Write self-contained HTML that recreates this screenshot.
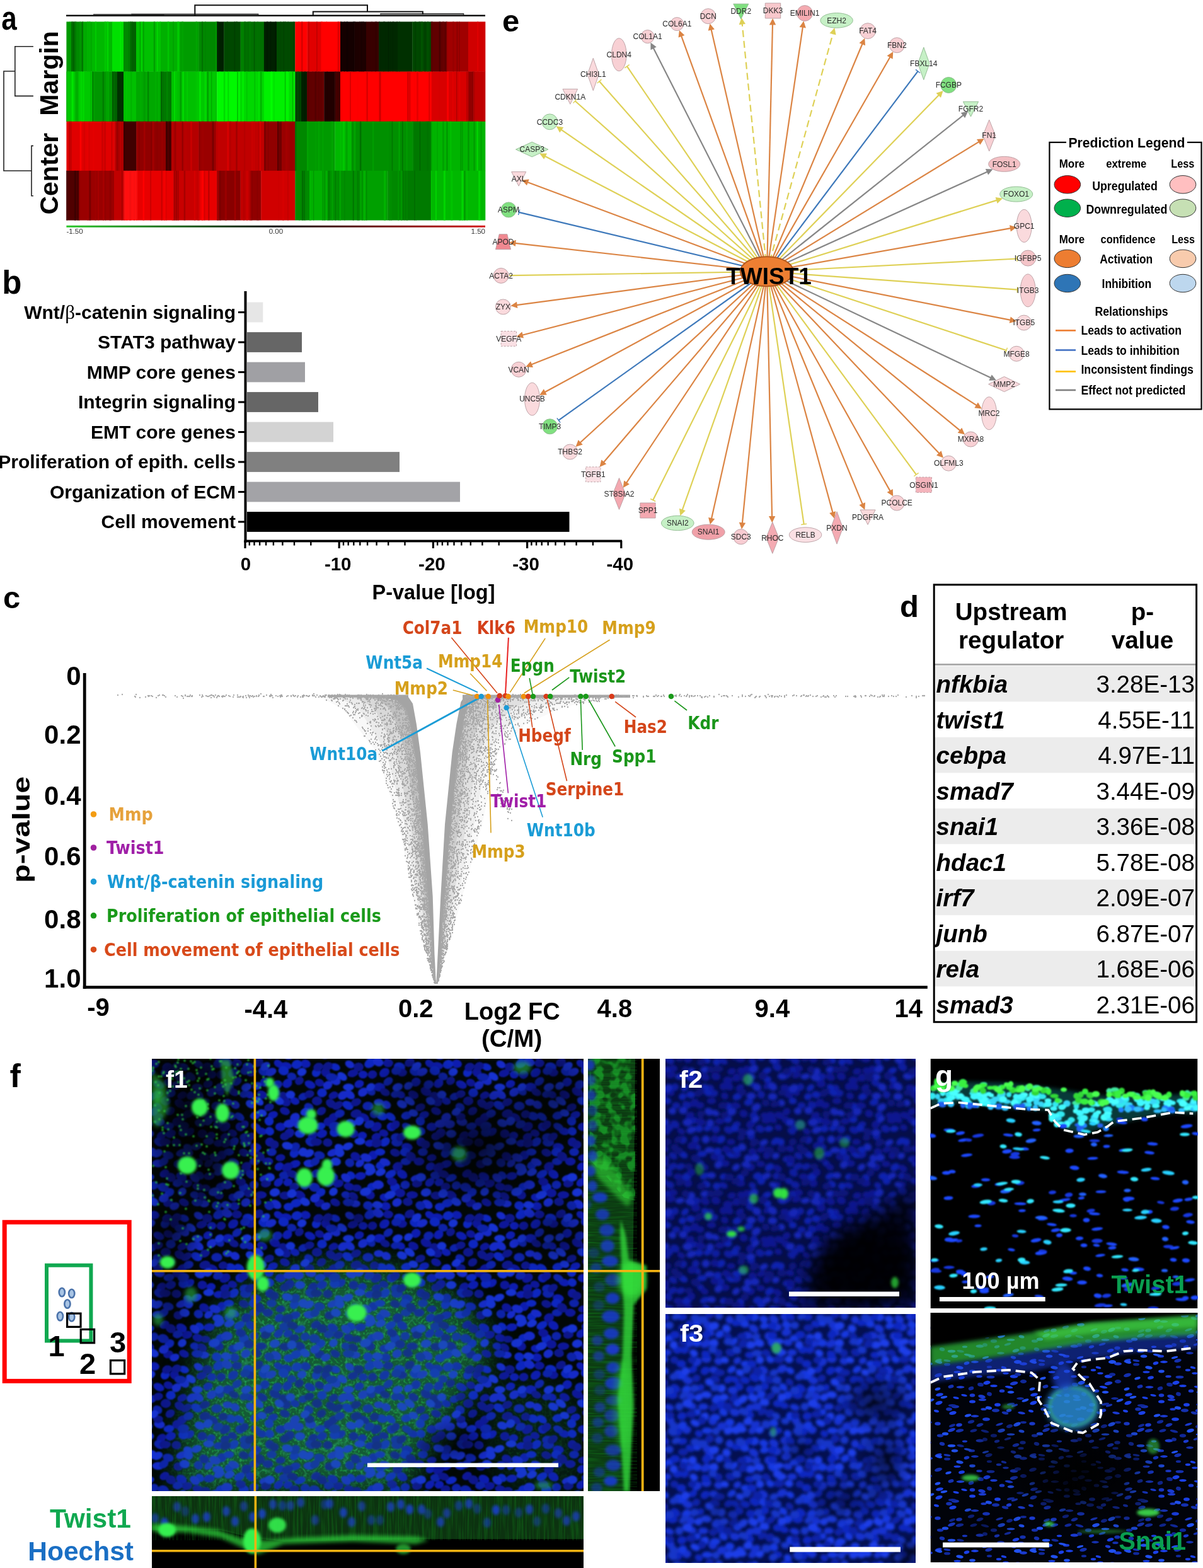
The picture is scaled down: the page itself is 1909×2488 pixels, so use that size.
<!DOCTYPE html>
<html><head><meta charset="utf-8"><title>Figure</title>
<style>html,body{margin:0;padding:0;background:#fff;} svg{display:block;}</style>
</head><body>
<svg width="1909" height="2488" viewBox="0 0 1909 2488">
<defs><filter id="gsp" x="0" y="0" width="1" height="1" color-interpolation-filters="sRGB"><feTurbulence type="fractalNoise" baseFrequency="0.25" numOctaves="1" seed="21"/><feColorMatrix type="matrix" values="0 0 0 0 0.1 0 0 0 0 0.75 0 0 0 0 0.25 5 0 0 0 -2.6"/></filter>
<filter id="gmot" x="0" y="0" width="1" height="1" color-interpolation-filters="sRGB"><feTurbulence type="fractalNoise" baseFrequency="0.07" numOctaves="2" seed="41"/><feColorMatrix type="matrix" values="0 0 0 0 0.12 0 0 0 0 0.78 0 0 0 0 0.2 5 0 0 0 -2.1"/></filter>
<filter id="gmem" x="0" y="0" width="1" height="1" color-interpolation-filters="sRGB"><feTurbulence type="turbulence" baseFrequency="0.06" numOctaves="2" seed="43"/><feColorMatrix type="matrix" values="0 0 0 0 0.2 0 0 0 0 0.75 0 0 0 0 0.45 -6 0 0 0 1.3"/></filter>
<mask id="mdome" maskUnits="userSpaceOnUse" x="241" y="1680" width="685" height="686"><path d="M285 2366 C295 2230 320 2110 400 2045 C480 1995 620 2000 700 2050 C760 2090 790 2130 760 2180 C720 2240 660 2300 640 2366 Z" fill="#fff" filter="url(#b25)"/><path d="M760 2200 C820 2180 900 2200 926 2230 L926 2366 L800 2366 Z" fill="#444" filter="url(#b25)"/></mask>
<filter id="vstreak" x="0" y="0" width="1" height="1" color-interpolation-filters="sRGB"><feTurbulence type="fractalNoise" baseFrequency="0.02 0.35" numOctaves="2" seed="31"/><feColorMatrix type="matrix" values="0 0 0 0 0.1 0 0 0 0 0.8 0 0 0 0 0.15 3 0 0 0 -1.2"/></filter>
<filter id="hstreak" x="0" y="0" width="1" height="1" color-interpolation-filters="sRGB"><feTurbulence type="fractalNoise" baseFrequency="0.35 0.02" numOctaves="2" seed="33"/><feColorMatrix type="matrix" values="0 0 0 0 0.1 0 0 0 0 0.8 0 0 0 0 0.15 3 0 0 0 -1.2"/></filter>
<filter id="b1" x="-50%" y="-50%" width="200%" height="200%"><feGaussianBlur stdDeviation="1"/></filter>
<filter id="b2" x="-50%" y="-50%" width="200%" height="200%"><feGaussianBlur stdDeviation="2"/></filter>
<filter id="b3" x="-50%" y="-50%" width="200%" height="200%"><feGaussianBlur stdDeviation="3"/></filter>
<filter id="b5" x="-50%" y="-50%" width="200%" height="200%"><feGaussianBlur stdDeviation="5"/></filter>
<filter id="b8" x="-50%" y="-50%" width="200%" height="200%"><feGaussianBlur stdDeviation="8"/></filter>
<filter id="b14" x="-50%" y="-50%" width="200%" height="200%"><feGaussianBlur stdDeviation="14"/></filter>
<filter id="b25" x="-50%" y="-50%" width="200%" height="200%"><feGaussianBlur stdDeviation="25"/></filter>
<filter id="b40" x="-50%" y="-50%" width="200%" height="200%"><feGaussianBlur stdDeviation="40"/></filter>
<pattern id="pf1" x="0" y="0" width="240" height="240" patternUnits="userSpaceOnUse"><g filter="url(#b1)"><g fill="#0c1cb0"><ellipse cx="5" cy="8" rx="8.0" ry="6.6" transform="rotate(10 5 8)"/><ellipse cx="5" cy="248" rx="8.0" ry="6.6" transform="rotate(10 5 248)"/><ellipse cx="245" cy="8" rx="8.0" ry="6.6" transform="rotate(10 245 8)"/><ellipse cx="245" cy="248" rx="8.0" ry="6.6" transform="rotate(10 245 248)"/><ellipse cx="202" cy="8" rx="8.0" ry="5.7" transform="rotate(32 202 8)"/><ellipse cx="202" cy="248" rx="8.0" ry="5.7" transform="rotate(32 202 248)"/><ellipse cx="214" cy="11" rx="9.1" ry="5.7" transform="rotate(9 214 11)"/><ellipse cx="214" cy="251" rx="9.1" ry="5.7" transform="rotate(9 214 251)"/><ellipse cx="96" cy="25" rx="7.2" ry="6.3"/><ellipse cx="130" cy="22" rx="8.8" ry="6.8" transform="rotate(-38 130 22)"/><ellipse cx="12" cy="41" rx="9.1" ry="6.1" transform="rotate(26 12 41)"/><ellipse cx="252" cy="41" rx="9.1" ry="6.1" transform="rotate(26 252 41)"/><ellipse cx="90" cy="40" rx="7.8" ry="6.1" transform="rotate(-22 90 40)"/><ellipse cx="122" cy="45" rx="9.2" ry="7.0"/><ellipse cx="180" cy="37" rx="7.8" ry="7.0" transform="rotate(-30 180 37)"/><ellipse cx="216" cy="39" rx="8.2" ry="6.8" transform="rotate(-40 216 39)"/><ellipse cx="156" cy="57" rx="7.2" ry="5.8" transform="rotate(22 156 57)"/><ellipse cx="-12" cy="67" rx="7.6" ry="5.7" transform="rotate(24 -12 67)"/><ellipse cx="228" cy="67" rx="7.6" ry="5.7" transform="rotate(24 228 67)"/><ellipse cx="193" cy="89" rx="8.1" ry="5.8" transform="rotate(-18 193 89)"/><ellipse cx="141" cy="108" rx="7.5" ry="6.9" transform="rotate(10 141 108)"/><ellipse cx="205" cy="108" rx="8.2" ry="6.8"/><ellipse cx="31" cy="119" rx="8.4" ry="6.6" transform="rotate(-22 31 119)"/><ellipse cx="61" cy="116" rx="8.1" ry="5.9" transform="rotate(-38 61 116)"/><ellipse cx="95" cy="122" rx="7.3" ry="6.2" transform="rotate(-8 95 122)"/><ellipse cx="175" cy="115" rx="8.6" ry="5.8" transform="rotate(14 175 115)"/><ellipse cx="107" cy="134" rx="8.0" ry="5.7" transform="rotate(-8 107 134)"/><ellipse cx="166" cy="140" rx="8.9" ry="6.3" transform="rotate(10 166 140)"/><ellipse cx="112" cy="153" rx="7.3" ry="7.1" transform="rotate(-39 112 153)"/><ellipse cx="203" cy="171" rx="7.8" ry="6.3" transform="rotate(-34 203 171)"/><ellipse cx="-12" cy="167" rx="9.0" ry="6.1" transform="rotate(-18 -12 167)"/><ellipse cx="228" cy="167" rx="9.0" ry="6.1" transform="rotate(-18 228 167)"/><ellipse cx="48" cy="187" rx="9.0" ry="6.6" transform="rotate(25 48 187)"/><ellipse cx="92" cy="186" rx="8.7" ry="6.3" transform="rotate(-8 92 186)"/><ellipse cx="158" cy="183" rx="9.3" ry="6.6" transform="rotate(35 158 183)"/><ellipse cx="202" cy="196" rx="8.3" ry="6.1" transform="rotate(-40 202 196)"/><ellipse cx="217" cy="196" rx="7.4" ry="6.1" transform="rotate(-17 217 196)"/><ellipse cx="130" cy="220" rx="7.7" ry="6.1" transform="rotate(12 130 220)"/><ellipse cx="132" cy="-6" rx="7.9" ry="6.8"/><ellipse cx="132" cy="234" rx="7.9" ry="6.8"/></g><g fill="#1026c0"><ellipse cx="52" cy="13" rx="8.1" ry="5.6" transform="rotate(22 52 13)"/><ellipse cx="52" cy="253" rx="8.1" ry="5.6" transform="rotate(22 52 253)"/><ellipse cx="107" cy="7" rx="9.3" ry="7.0" transform="rotate(-32 107 7)"/><ellipse cx="107" cy="247" rx="9.3" ry="7.0" transform="rotate(-32 107 247)"/><ellipse cx="154" cy="13" rx="9.1" ry="7.2" transform="rotate(14 154 13)"/><ellipse cx="154" cy="253" rx="9.1" ry="7.2" transform="rotate(14 154 253)"/><ellipse cx="-9" cy="9" rx="8.4" ry="7.1" transform="rotate(-18 -9 9)"/><ellipse cx="-9" cy="249" rx="8.4" ry="7.1" transform="rotate(-18 -9 249)"/><ellipse cx="231" cy="9" rx="8.4" ry="7.1" transform="rotate(-18 231 9)"/><ellipse cx="231" cy="249" rx="8.4" ry="7.1" transform="rotate(-18 231 249)"/><ellipse cx="22" cy="22" rx="7.4" ry="6.6" transform="rotate(-37 22 22)"/><ellipse cx="179" cy="20" rx="9.0" ry="7.2" transform="rotate(15 179 20)"/><ellipse cx="210" cy="19" rx="8.5" ry="7.1" transform="rotate(14 210 19)"/><ellipse cx="31" cy="54" rx="7.8" ry="7.2"/><ellipse cx="72" cy="74" rx="9.3" ry="6.5" transform="rotate(29 72 74)"/><ellipse cx="126" cy="91" rx="8.8" ry="6.6" transform="rotate(18 126 91)"/><ellipse cx="140" cy="92" rx="8.6" ry="5.8" transform="rotate(35 140 92)"/><ellipse cx="165" cy="90" rx="8.6" ry="6.3" transform="rotate(-16 165 90)"/><ellipse cx="28" cy="107" rx="8.5" ry="5.8" transform="rotate(-8 28 107)"/><ellipse cx="187" cy="99" rx="7.4" ry="7.2" transform="rotate(40 187 99)"/><ellipse cx="51" cy="117" rx="8.0" ry="7.0"/><ellipse cx="188" cy="115" rx="7.3" ry="6.6" transform="rotate(32 188 115)"/><ellipse cx="131" cy="132" rx="8.6" ry="6.5" transform="rotate(-39 131 132)"/><ellipse cx="123" cy="148" rx="8.3" ry="5.7"/><ellipse cx="163" cy="148" rx="8.2" ry="7.1"/><ellipse cx="-13" cy="150" rx="7.7" ry="6.9" transform="rotate(-39 -13 150)"/><ellipse cx="227" cy="150" rx="7.7" ry="6.9" transform="rotate(-39 227 150)"/><ellipse cx="124" cy="169" rx="8.1" ry="6.4" transform="rotate(-26 124 169)"/><ellipse cx="77" cy="185" rx="7.3" ry="6.0" transform="rotate(37 77 185)"/><ellipse cx="140" cy="183" rx="9.4" ry="6.0" transform="rotate(-29 140 183)"/><ellipse cx="-4" cy="189" rx="9.0" ry="5.9" transform="rotate(-19 -4 189)"/><ellipse cx="236" cy="189" rx="9.0" ry="5.9" transform="rotate(-19 236 189)"/><ellipse cx="110" cy="203" rx="7.7" ry="6.3" transform="rotate(-19 110 203)"/><ellipse cx="147" cy="204" rx="8.0" ry="7.2" transform="rotate(-11 147 204)"/><ellipse cx="29" cy="212" rx="7.9" ry="6.5" transform="rotate(-31 29 212)"/><ellipse cx="104" cy="-7" rx="7.8" ry="7.0" transform="rotate(15 104 -7)"/><ellipse cx="104" cy="233" rx="7.8" ry="7.0" transform="rotate(15 104 233)"/><ellipse cx="218" cy="-5" rx="8.0" ry="6.4"/><ellipse cx="218" cy="235" rx="8.0" ry="6.4"/><ellipse cx="-10" cy="-11" rx="9.0" ry="6.7" transform="rotate(-14 -10 -11)"/><ellipse cx="-10" cy="229" rx="9.0" ry="6.7" transform="rotate(-14 -10 229)"/><ellipse cx="230" cy="-11" rx="9.0" ry="6.7" transform="rotate(-14 230 -11)"/><ellipse cx="230" cy="229" rx="9.0" ry="6.7" transform="rotate(-14 230 229)"/></g><g fill="#0a1898"><ellipse cx="136" cy="7" rx="8.0" ry="6.5"/><ellipse cx="136" cy="247" rx="8.0" ry="6.5"/><ellipse cx="37" cy="22" rx="7.8" ry="6.7" transform="rotate(38 37 22)"/><ellipse cx="80" cy="23" rx="8.8" ry="6.0" transform="rotate(-16 80 23)"/><ellipse cx="111" cy="25" rx="7.5" ry="6.6" transform="rotate(-13 111 25)"/><ellipse cx="158" cy="22" rx="7.9" ry="6.2"/><ellipse cx="27" cy="38" rx="7.5" ry="6.1" transform="rotate(24 27 38)"/><ellipse cx="49" cy="58" rx="8.0" ry="5.7" transform="rotate(-26 49 58)"/><ellipse cx="176" cy="57" rx="8.7" ry="6.2" transform="rotate(26 176 57)"/><ellipse cx="196" cy="52" rx="9.1" ry="6.7" transform="rotate(27 196 52)"/><ellipse cx="213" cy="68" rx="8.8" ry="7.0" transform="rotate(32 213 68)"/><ellipse cx="49" cy="93" rx="8.1" ry="6.5" transform="rotate(-30 49 93)"/><ellipse cx="98" cy="93" rx="9.0" ry="5.8" transform="rotate(36 98 93)"/><ellipse cx="212" cy="83" rx="8.3" ry="6.0" transform="rotate(22 212 83)"/><ellipse cx="41" cy="100" rx="7.6" ry="7.0" transform="rotate(-10 41 100)"/><ellipse cx="117" cy="108" rx="9.2" ry="7.1" transform="rotate(-31 117 108)"/><ellipse cx="147" cy="105" rx="8.3" ry="6.4" transform="rotate(-38 147 105)"/><ellipse cx="16" cy="122" rx="8.2" ry="6.3" transform="rotate(-37 16 122)"/><ellipse cx="81" cy="119" rx="7.6" ry="6.9"/><ellipse cx="117" cy="124" rx="7.7" ry="6.2" transform="rotate(-25 117 124)"/><ellipse cx="129" cy="118" rx="7.5" ry="5.7" transform="rotate(18 129 118)"/><ellipse cx="219" cy="118" rx="8.5" ry="7.1" transform="rotate(-33 219 118)"/><ellipse cx="188" cy="132" rx="7.3" ry="7.1" transform="rotate(-24 188 132)"/><ellipse cx="84" cy="155" rx="8.2" ry="6.7" transform="rotate(28 84 155)"/><ellipse cx="205" cy="157" rx="7.8" ry="5.6" transform="rotate(-10 205 157)"/><ellipse cx="151" cy="171" rx="8.2" ry="7.1" transform="rotate(-28 151 171)"/><ellipse cx="185" cy="163" rx="8.5" ry="6.5"/><ellipse cx="216" cy="172" rx="9.3" ry="6.6" transform="rotate(-24 216 172)"/><ellipse cx="21" cy="182" rx="8.1" ry="6.1" transform="rotate(-29 21 182)"/><ellipse cx="57" cy="198" rx="8.3" ry="6.2" transform="rotate(-15 57 198)"/><ellipse cx="74" cy="203" rx="8.8" ry="6.2" transform="rotate(15 74 203)"/><ellipse cx="142" cy="195" rx="8.1" ry="6.5" transform="rotate(9 142 195)"/><ellipse cx="107" cy="216" rx="8.1" ry="7.0" transform="rotate(26 107 216)"/><ellipse cx="155" cy="213" rx="8.2" ry="7.0"/><ellipse cx="174" cy="216" rx="9.3" ry="6.0"/><ellipse cx="-4" cy="216" rx="9.2" ry="6.4" transform="rotate(27 -4 216)"/><ellipse cx="236" cy="216" rx="9.2" ry="6.4" transform="rotate(27 236 216)"/><ellipse cx="27" cy="-11" rx="8.0" ry="6.0" transform="rotate(-17 27 -11)"/><ellipse cx="27" cy="229" rx="8.0" ry="6.0" transform="rotate(-17 27 229)"/><ellipse cx="52" cy="-12" rx="8.3" ry="5.9" transform="rotate(25 52 -12)"/><ellipse cx="52" cy="228" rx="8.3" ry="5.9" transform="rotate(25 52 228)"/></g><g fill="#142cc8"><ellipse cx="75" cy="9" rx="7.9" ry="5.6" transform="rotate(29 75 9)"/><ellipse cx="75" cy="249" rx="7.9" ry="5.6" transform="rotate(29 75 249)"/><ellipse cx="120" cy="5" rx="8.7" ry="6.8" transform="rotate(28 120 5)"/><ellipse cx="120" cy="245" rx="8.7" ry="6.8" transform="rotate(28 120 245)"/><ellipse cx="190" cy="21" rx="9.0" ry="6.0" transform="rotate(-25 190 21)"/><ellipse cx="40" cy="42" rx="7.8" ry="6.5" transform="rotate(-37 40 42)"/><ellipse cx="52" cy="34" rx="9.3" ry="7.0" transform="rotate(39 52 34)"/><ellipse cx="64" cy="58" rx="8.4" ry="6.6" transform="rotate(-37 64 58)"/><ellipse cx="75" cy="57" rx="8.9" ry="6.1" transform="rotate(36 75 57)"/><ellipse cx="96" cy="53" rx="8.4" ry="6.7" transform="rotate(-34 96 53)"/><ellipse cx="121" cy="69" rx="7.7" ry="5.6"/><ellipse cx="133" cy="73" rx="7.7" ry="6.4" transform="rotate(29 133 73)"/><ellipse cx="-12" cy="93" rx="8.2" ry="6.9" transform="rotate(-34 -12 93)"/><ellipse cx="228" cy="93" rx="8.2" ry="6.9" transform="rotate(-34 228 93)"/><ellipse cx="13" cy="100" rx="8.7" ry="6.5" transform="rotate(14 13 100)"/><ellipse cx="253" cy="100" rx="8.7" ry="6.5" transform="rotate(14 253 100)"/><ellipse cx="219" cy="103" rx="9.1" ry="6.7" transform="rotate(-9 219 103)"/><ellipse cx="-6" cy="104" rx="8.1" ry="6.6" transform="rotate(-16 -6 104)"/><ellipse cx="234" cy="104" rx="8.1" ry="6.6" transform="rotate(-16 234 104)"/><ellipse cx="48" cy="149" rx="9.0" ry="5.7" transform="rotate(-21 48 149)"/><ellipse cx="101" cy="157" rx="9.3" ry="6.4" transform="rotate(22 101 157)"/><ellipse cx="11" cy="166" rx="9.3" ry="6.2"/><ellipse cx="251" cy="166" rx="9.3" ry="6.2"/><ellipse cx="91" cy="166" rx="7.5" ry="5.6" transform="rotate(-36 91 166)"/><ellipse cx="131" cy="164" rx="9.0" ry="5.8" transform="rotate(22 131 164)"/><ellipse cx="69" cy="189" rx="8.7" ry="6.3" transform="rotate(39 69 189)"/><ellipse cx="181" cy="190" rx="9.4" ry="6.0" transform="rotate(-12 181 190)"/><ellipse cx="120" cy="200" rx="9.1" ry="7.2"/><ellipse cx="20" cy="221" rx="8.2" ry="6.7" transform="rotate(-30 20 221)"/><ellipse cx="37" cy="-6" rx="7.9" ry="5.8" transform="rotate(-22 37 -6)"/><ellipse cx="37" cy="234" rx="7.9" ry="5.8" transform="rotate(-22 37 234)"/><ellipse cx="84" cy="-10" rx="8.0" ry="5.7"/><ellipse cx="84" cy="230" rx="8.0" ry="5.7"/><ellipse cx="150" cy="-12" rx="7.9" ry="6.6" transform="rotate(-28 150 -12)"/><ellipse cx="150" cy="228" rx="7.9" ry="6.6" transform="rotate(-28 150 228)"/><ellipse cx="198" cy="-9" rx="9.2" ry="6.6" transform="rotate(34 198 -9)"/><ellipse cx="198" cy="231" rx="9.2" ry="6.6" transform="rotate(34 198 231)"/></g><g fill="#0e20a8"><ellipse cx="46" cy="29" rx="9.2" ry="6.2"/><ellipse cx="149" cy="19" rx="8.0" ry="6.6" transform="rotate(-16 149 19)"/><ellipse cx="223" cy="28" rx="7.6" ry="6.1" transform="rotate(12 223 28)"/><ellipse cx="136" cy="36" rx="8.3" ry="6.0" transform="rotate(-38 136 36)"/><ellipse cx="200" cy="41" rx="8.1" ry="6.8" transform="rotate(-20 200 41)"/><ellipse cx="109" cy="52" rx="7.3" ry="6.1" transform="rotate(38 109 52)"/><ellipse cx="148" cy="56" rx="8.0" ry="5.8" transform="rotate(-15 148 56)"/><ellipse cx="1" cy="60" rx="7.7" ry="5.9" transform="rotate(-20 1 60)"/><ellipse cx="241" cy="60" rx="7.7" ry="5.9" transform="rotate(-20 241 60)"/><ellipse cx="10" cy="77" rx="7.8" ry="6.6" transform="rotate(35 10 77)"/><ellipse cx="250" cy="77" rx="7.8" ry="6.6" transform="rotate(35 250 77)"/><ellipse cx="104" cy="75" rx="8.7" ry="7.0"/><ellipse cx="59" cy="87" rx="8.2" ry="6.4" transform="rotate(-20 59 87)"/><ellipse cx="51" cy="107" rx="9.2" ry="7.1" transform="rotate(-9 51 107)"/><ellipse cx="106" cy="104" rx="8.4" ry="6.3" transform="rotate(-25 106 104)"/><ellipse cx="166" cy="108" rx="8.7" ry="5.8" transform="rotate(29 166 108)"/><ellipse cx="149" cy="125" rx="8.9" ry="7.1"/><ellipse cx="13" cy="132" rx="8.8" ry="6.8" transform="rotate(27 13 132)"/><ellipse cx="253" cy="132" rx="8.8" ry="6.8" transform="rotate(27 253 132)"/><ellipse cx="150" cy="133" rx="9.1" ry="6.4"/><ellipse cx="-12" cy="140" rx="8.5" ry="6.9" transform="rotate(-24 -12 140)"/><ellipse cx="228" cy="140" rx="8.5" ry="6.9" transform="rotate(-24 228 140)"/><ellipse cx="27" cy="153" rx="8.8" ry="6.3" transform="rotate(12 27 153)"/><ellipse cx="191" cy="148" rx="7.9" ry="6.3"/><ellipse cx="20" cy="163" rx="8.2" ry="6.1" transform="rotate(-36 20 163)"/><ellipse cx="75" cy="165" rx="7.5" ry="6.8" transform="rotate(23 75 165)"/><ellipse cx="164" cy="163" rx="8.3" ry="6.0"/><ellipse cx="211" cy="185" rx="8.2" ry="6.5"/><ellipse cx="4" cy="201" rx="7.3" ry="6.6" transform="rotate(-26 4 201)"/><ellipse cx="244" cy="201" rx="7.3" ry="6.6" transform="rotate(-26 244 201)"/><ellipse cx="19" cy="204" rx="8.9" ry="7.2" transform="rotate(15 19 204)"/><ellipse cx="42" cy="197" rx="8.2" ry="6.5" transform="rotate(-14 42 197)"/><ellipse cx="163" cy="200" rx="7.5" ry="6.8" transform="rotate(-9 163 200)"/><ellipse cx="69" cy="216" rx="7.5" ry="5.9" transform="rotate(11 69 216)"/><ellipse cx="73" cy="-12" rx="8.9" ry="6.2"/><ellipse cx="73" cy="228" rx="8.9" ry="6.2"/><ellipse cx="187" cy="-7" rx="7.9" ry="7.0" transform="rotate(31 187 -7)"/><ellipse cx="187" cy="233" rx="7.9" ry="7.0" transform="rotate(31 187 233)"/></g><g fill="#08148a"><ellipse cx="25" cy="13" rx="8.2" ry="6.5" transform="rotate(-25 25 13)"/><ellipse cx="25" cy="253" rx="8.2" ry="6.5" transform="rotate(-25 25 253)"/><ellipse cx="40" cy="12" rx="8.2" ry="6.6" transform="rotate(-28 40 12)"/><ellipse cx="40" cy="252" rx="8.2" ry="6.6" transform="rotate(-28 40 252)"/><ellipse cx="89" cy="13" rx="8.1" ry="6.9"/><ellipse cx="89" cy="253" rx="8.1" ry="6.9"/><ellipse cx="170" cy="6" rx="8.4" ry="6.5" transform="rotate(-32 170 6)"/><ellipse cx="170" cy="246" rx="8.4" ry="6.5" transform="rotate(-32 170 246)"/><ellipse cx="-5" cy="35" rx="7.3" ry="6.4" transform="rotate(-37 -5 35)"/><ellipse cx="235" cy="35" rx="7.3" ry="6.4" transform="rotate(-37 235 35)"/><ellipse cx="11" cy="56" rx="7.9" ry="6.1" transform="rotate(-12 11 56)"/><ellipse cx="251" cy="56" rx="7.9" ry="6.1" transform="rotate(-12 251 56)"/><ellipse cx="131" cy="53" rx="8.2" ry="5.8" transform="rotate(25 131 53)"/><ellipse cx="209" cy="59" rx="7.3" ry="6.8"/><ellipse cx="23" cy="67" rx="8.3" ry="7.2"/><ellipse cx="45" cy="71" rx="8.5" ry="6.5" transform="rotate(34 45 71)"/><ellipse cx="56" cy="74" rx="9.2" ry="5.8" transform="rotate(-32 56 74)"/><ellipse cx="85" cy="69" rx="8.5" ry="6.1" transform="rotate(-21 85 69)"/><ellipse cx="187" cy="77" rx="8.2" ry="6.0" transform="rotate(-21 187 77)"/><ellipse cx="11" cy="92" rx="7.8" ry="6.2"/><ellipse cx="251" cy="92" rx="7.8" ry="6.2"/><ellipse cx="30" cy="83" rx="7.9" ry="6.2" transform="rotate(-34 30 83)"/><ellipse cx="85" cy="87" rx="8.9" ry="6.8" transform="rotate(-16 85 87)"/><ellipse cx="114" cy="88" rx="7.4" ry="6.4" transform="rotate(-12 114 88)"/><ellipse cx="157" cy="124" rx="8.6" ry="6.2" transform="rotate(-33 157 124)"/><ellipse cx="212" cy="123" rx="7.9" ry="6.4" transform="rotate(-12 212 123)"/><ellipse cx="22" cy="132" rx="9.0" ry="6.3"/><ellipse cx="40" cy="133" rx="7.6" ry="6.8" transform="rotate(8 40 133)"/><ellipse cx="118" cy="134" rx="8.2" ry="6.9" transform="rotate(-23 118 134)"/><ellipse cx="195" cy="136" rx="7.7" ry="6.9" transform="rotate(9 195 136)"/><ellipse cx="147" cy="149" rx="8.2" ry="6.2" transform="rotate(19 147 149)"/><ellipse cx="172" cy="155" rx="8.7" ry="7.2" transform="rotate(38 172 155)"/><ellipse cx="43" cy="167" rx="7.8" ry="6.7"/><ellipse cx="31" cy="188" rx="8.3" ry="7.1" transform="rotate(19 31 188)"/><ellipse cx="224" cy="183" rx="8.9" ry="6.1" transform="rotate(20 224 183)"/><ellipse cx="86" cy="205" rx="7.8" ry="5.8"/><ellipse cx="182" cy="198" rx="8.3" ry="6.2" transform="rotate(-10 182 198)"/><ellipse cx="-13" cy="203" rx="7.9" ry="6.3" transform="rotate(-11 -13 203)"/><ellipse cx="227" cy="203" rx="7.9" ry="6.3" transform="rotate(-11 227 203)"/><ellipse cx="81" cy="218" rx="8.2" ry="5.8" transform="rotate(38 81 218)"/><ellipse cx="212" cy="217" rx="8.8" ry="6.4"/><ellipse cx="167" cy="-13" rx="8.0" ry="6.6" transform="rotate(10 167 -13)"/><ellipse cx="167" cy="227" rx="8.0" ry="6.6" transform="rotate(10 167 227)"/></g><g fill="#1430d0"><ellipse cx="181" cy="12" rx="8.5" ry="6.1" transform="rotate(-35 181 12)"/><ellipse cx="181" cy="252" rx="8.5" ry="6.1" transform="rotate(-35 181 252)"/><ellipse cx="63" cy="28" rx="8.7" ry="5.8" transform="rotate(38 63 28)"/><ellipse cx="-1" cy="21" rx="7.5" ry="6.4" transform="rotate(-25 -1 21)"/><ellipse cx="239" cy="21" rx="7.5" ry="6.4" transform="rotate(-25 239 21)"/><ellipse cx="73" cy="45" rx="8.8" ry="5.7"/><ellipse cx="108" cy="45" rx="7.5" ry="6.0" transform="rotate(-37 108 45)"/><ellipse cx="151" cy="45" rx="8.5" ry="6.1" transform="rotate(-20 151 45)"/><ellipse cx="168" cy="43" rx="7.3" ry="6.0" transform="rotate(-30 168 43)"/><ellipse cx="221" cy="57" rx="7.4" ry="6.5"/><ellipse cx="158" cy="72" rx="8.5" ry="6.3" transform="rotate(27 158 72)"/><ellipse cx="170" cy="67" rx="9.4" ry="5.7" transform="rotate(36 170 67)"/><ellipse cx="203" cy="67" rx="7.7" ry="6.0" transform="rotate(31 203 67)"/><ellipse cx="176" cy="86" rx="7.6" ry="5.7" transform="rotate(17 176 86)"/><ellipse cx="4" cy="84" rx="7.8" ry="5.8" transform="rotate(-31 4 84)"/><ellipse cx="244" cy="84" rx="7.8" ry="5.8" transform="rotate(-31 244 84)"/><ellipse cx="77" cy="102" rx="8.3" ry="6.4" transform="rotate(17 77 102)"/><ellipse cx="90" cy="99" rx="7.6" ry="6.6" transform="rotate(-31 90 99)"/><ellipse cx="-4" cy="119" rx="8.3" ry="6.5"/><ellipse cx="236" cy="119" rx="8.3" ry="6.5"/><ellipse cx="58" cy="141" rx="7.3" ry="5.9" transform="rotate(20 58 141)"/><ellipse cx="72" cy="139" rx="8.7" ry="5.8" transform="rotate(-21 72 139)"/><ellipse cx="91" cy="131" rx="8.5" ry="5.7"/><ellipse cx="216" cy="138" rx="8.7" ry="6.2" transform="rotate(13 216 138)"/><ellipse cx="10" cy="150" rx="8.6" ry="6.1" transform="rotate(-25 10 150)"/><ellipse cx="250" cy="150" rx="8.6" ry="6.1" transform="rotate(-25 250 150)"/><ellipse cx="59" cy="149" rx="7.6" ry="7.1" transform="rotate(18 59 149)"/><ellipse cx="1" cy="148" rx="7.2" ry="7.1" transform="rotate(-40 1 148)"/><ellipse cx="241" cy="148" rx="7.2" ry="7.1" transform="rotate(-40 241 148)"/><ellipse cx="53" cy="163" rx="8.1" ry="6.6" transform="rotate(14 53 163)"/><ellipse cx="106" cy="172" rx="9.2" ry="6.3" transform="rotate(13 106 172)"/><ellipse cx="108" cy="179" rx="8.9" ry="5.9" transform="rotate(-25 108 179)"/><ellipse cx="124" cy="180" rx="8.4" ry="5.8" transform="rotate(-23 124 180)"/><ellipse cx="188" cy="188" rx="8.2" ry="6.8"/><ellipse cx="49" cy="211" rx="7.3" ry="6.2" transform="rotate(-39 49 211)"/><ellipse cx="100" cy="211" rx="9.1" ry="6.8" transform="rotate(-14 100 211)"/><ellipse cx="139" cy="216" rx="9.2" ry="6.4" transform="rotate(-21 139 216)"/><ellipse cx="196" cy="212" rx="8.4" ry="6.6" transform="rotate(-12 196 212)"/><ellipse cx="223" cy="214" rx="7.6" ry="7.0" transform="rotate(-23 223 214)"/><ellipse cx="4" cy="-13" rx="8.3" ry="6.2" transform="rotate(28 4 -13)"/><ellipse cx="4" cy="227" rx="8.3" ry="6.2" transform="rotate(28 4 227)"/><ellipse cx="244" cy="-13" rx="8.3" ry="6.2" transform="rotate(28 244 -13)"/><ellipse cx="244" cy="227" rx="8.3" ry="6.2" transform="rotate(28 244 227)"/><ellipse cx="119" cy="-8" rx="8.3" ry="6.2" transform="rotate(10 119 -8)"/><ellipse cx="119" cy="232" rx="8.3" ry="6.2" transform="rotate(10 119 232)"/></g></g></pattern>
<pattern id="pf2" x="0" y="0" width="199" height="197" patternUnits="userSpaceOnUse"><g filter="url(#b2)"><g fill="#0c1ca0"><ellipse cx="76" cy="11" rx="7.6" ry="6.3" transform="rotate(27 76 11)"/><ellipse cx="76" cy="208" rx="7.6" ry="6.3" transform="rotate(27 76 208)"/><ellipse cx="106" cy="5" rx="6.9" ry="5.2" transform="rotate(-19 106 5)"/><ellipse cx="106" cy="202" rx="6.9" ry="5.2" transform="rotate(-19 106 202)"/><ellipse cx="174" cy="11" rx="6.6" ry="4.8" transform="rotate(-11 174 11)"/><ellipse cx="174" cy="208" rx="6.6" ry="4.8" transform="rotate(-11 174 208)"/><ellipse cx="12" cy="18" rx="7.3" ry="6.2" transform="rotate(30 12 18)"/><ellipse cx="211" cy="18" rx="7.3" ry="6.2" transform="rotate(30 211 18)"/><ellipse cx="62" cy="22" rx="6.9" ry="5.1" transform="rotate(33 62 22)"/><ellipse cx="67" cy="17" rx="6.3" ry="5.9" transform="rotate(-28 67 17)"/><ellipse cx="141" cy="19" rx="6.7" ry="6.2" transform="rotate(-15 141 19)"/><ellipse cx="161" cy="20" rx="7.8" ry="5.8" transform="rotate(23 161 20)"/><ellipse cx="89" cy="36" rx="6.5" ry="6.0" transform="rotate(-37 89 36)"/><ellipse cx="109" cy="35" rx="6.0" ry="6.1" transform="rotate(26 109 35)"/><ellipse cx="-2" cy="30" rx="6.3" ry="5.8" transform="rotate(-30 -2 30)"/><ellipse cx="197" cy="30" rx="6.3" ry="5.8" transform="rotate(-30 197 30)"/><ellipse cx="112" cy="47" rx="6.0" ry="4.8" transform="rotate(36 112 47)"/><ellipse cx="54" cy="66" rx="6.3" ry="5.2" transform="rotate(-16 54 66)"/><ellipse cx="73" cy="61" rx="7.5" ry="5.1" transform="rotate(36 73 61)"/><ellipse cx="149" cy="64" rx="6.6" ry="5.4" transform="rotate(-26 149 64)"/><ellipse cx="174" cy="60" rx="7.2" ry="4.8" transform="rotate(-21 174 60)"/><ellipse cx="60" cy="73" rx="6.5" ry="5.3" transform="rotate(-32 60 73)"/><ellipse cx="72" cy="78" rx="8.0" ry="5.4" transform="rotate(-33 72 78)"/><ellipse cx="85" cy="78" rx="7.2" ry="5.2" transform="rotate(-24 85 78)"/><ellipse cx="117" cy="73" rx="6.5" ry="5.2" transform="rotate(36 117 73)"/><ellipse cx="38" cy="93" rx="6.0" ry="5.7" transform="rotate(-24 38 93)"/><ellipse cx="65" cy="88" rx="7.5" ry="5.9" transform="rotate(39 65 88)"/><ellipse cx="58" cy="101" rx="6.2" ry="5.1" transform="rotate(14 58 101)"/><ellipse cx="68" cy="107" rx="7.2" ry="5.8" transform="rotate(18 68 107)"/><ellipse cx="153" cy="108" rx="7.2" ry="4.9" transform="rotate(26 153 108)"/><ellipse cx="0" cy="108" rx="6.1" ry="5.0" transform="rotate(34 0 108)"/><ellipse cx="199" cy="108" rx="6.1" ry="5.0" transform="rotate(34 199 108)"/><ellipse cx="39" cy="117" rx="7.8" ry="6.3" transform="rotate(40 39 117)"/><ellipse cx="65" cy="121" rx="7.3" ry="5.6"/><ellipse cx="55" cy="130" rx="7.6" ry="5.0" transform="rotate(-36 55 130)"/><ellipse cx="110" cy="133" rx="7.0" ry="6.0" transform="rotate(-33 110 133)"/><ellipse cx="76" cy="149" rx="6.4" ry="5.8" transform="rotate(-26 76 149)"/><ellipse cx="132" cy="151" rx="6.1" ry="5.8" transform="rotate(-26 132 151)"/><ellipse cx="-3" cy="143" rx="7.6" ry="4.9" transform="rotate(17 -3 143)"/><ellipse cx="196" cy="143" rx="7.6" ry="4.9" transform="rotate(17 196 143)"/><ellipse cx="14" cy="161" rx="6.1" ry="6.2" transform="rotate(11 14 161)"/><ellipse cx="138" cy="159" rx="6.8" ry="5.6" transform="rotate(-18 138 159)"/><ellipse cx="78" cy="178" rx="6.6" ry="5.2"/><ellipse cx="95" cy="177" rx="7.6" ry="5.7" transform="rotate(20 95 177)"/><ellipse cx="2" cy="-3" rx="6.5" ry="6.3" transform="rotate(-24 2 -3)"/><ellipse cx="2" cy="194" rx="6.5" ry="6.3" transform="rotate(-24 2 194)"/><ellipse cx="201" cy="-3" rx="6.5" ry="6.3" transform="rotate(-24 201 -3)"/><ellipse cx="201" cy="194" rx="6.5" ry="6.3" transform="rotate(-24 201 194)"/></g><g fill="#1020b0"><ellipse cx="160" cy="3" rx="6.5" ry="6.0" transform="rotate(9 160 3)"/><ellipse cx="160" cy="200" rx="6.5" ry="6.0" transform="rotate(9 160 200)"/><ellipse cx="26" cy="18" rx="6.9" ry="5.0" transform="rotate(-9 26 18)"/><ellipse cx="114" cy="18" rx="6.9" ry="5.8"/><ellipse cx="128" cy="17" rx="6.5" ry="5.2" transform="rotate(-23 128 17)"/><ellipse cx="171" cy="17" rx="6.4" ry="6.2" transform="rotate(32 171 17)"/><ellipse cx="36" cy="38" rx="7.9" ry="5.1" transform="rotate(-40 36 38)"/><ellipse cx="45" cy="39" rx="6.2" ry="6.1" transform="rotate(23 45 39)"/><ellipse cx="149" cy="35" rx="7.7" ry="6.0" transform="rotate(-35 149 35)"/><ellipse cx="144" cy="54" rx="6.2" ry="6.3" transform="rotate(39 144 54)"/><ellipse cx="174" cy="51" rx="7.8" ry="5.2"/><ellipse cx="89" cy="59" rx="8.0" ry="5.3" transform="rotate(31 89 59)"/><ellipse cx="119" cy="58" rx="7.8" ry="5.0"/><ellipse cx="163" cy="59" rx="7.8" ry="4.8" transform="rotate(37 163 59)"/><ellipse cx="27" cy="79" rx="7.8" ry="5.8" transform="rotate(-37 27 79)"/><ellipse cx="8" cy="93" rx="7.3" ry="5.8" transform="rotate(-15 8 93)"/><ellipse cx="207" cy="93" rx="7.3" ry="5.8" transform="rotate(-15 207 93)"/><ellipse cx="95" cy="94" rx="7.7" ry="6.4" transform="rotate(-27 95 94)"/><ellipse cx="123" cy="93" rx="7.7" ry="5.0" transform="rotate(-24 123 93)"/><ellipse cx="153" cy="94" rx="6.1" ry="5.0" transform="rotate(-22 153 94)"/><ellipse cx="180" cy="96" rx="6.4" ry="5.4" transform="rotate(39 180 96)"/><ellipse cx="14" cy="101" rx="6.6" ry="6.0" transform="rotate(-9 14 101)"/><ellipse cx="126" cy="106" rx="7.1" ry="5.4" transform="rotate(29 126 106)"/><ellipse cx="142" cy="109" rx="6.1" ry="5.8" transform="rotate(-24 142 109)"/><ellipse cx="23" cy="123" rx="7.6" ry="4.9" transform="rotate(-24 23 123)"/><ellipse cx="24" cy="137" rx="6.0" ry="5.8"/><ellipse cx="92" cy="150" rx="7.1" ry="5.0" transform="rotate(-40 92 150)"/><ellipse cx="124" cy="149" rx="6.1" ry="5.0" transform="rotate(19 124 149)"/><ellipse cx="88" cy="164" rx="6.2" ry="5.6" transform="rotate(-25 88 164)"/><ellipse cx="101" cy="161" rx="7.1" ry="5.8" transform="rotate(9 101 161)"/><ellipse cx="128" cy="158" rx="7.1" ry="5.2" transform="rotate(26 128 158)"/><ellipse cx="175" cy="164" rx="7.7" ry="5.6" transform="rotate(-20 175 164)"/><ellipse cx="64" cy="171" rx="6.4" ry="5.2"/><ellipse cx="160" cy="179" rx="6.3" ry="5.8"/><ellipse cx="-6" cy="173" rx="7.5" ry="5.5" transform="rotate(-18 -6 173)"/><ellipse cx="193" cy="173" rx="7.5" ry="5.5" transform="rotate(-18 193 173)"/></g><g fill="#0a1690"><ellipse cx="22" cy="5" rx="8.0" ry="4.9"/><ellipse cx="22" cy="202" rx="8.0" ry="4.9"/><ellipse cx="33" cy="4" rx="6.2" ry="5.1" transform="rotate(34 33 4)"/><ellipse cx="33" cy="201" rx="6.2" ry="5.1" transform="rotate(34 33 201)"/><ellipse cx="53" cy="4" rx="6.6" ry="5.8" transform="rotate(19 53 4)"/><ellipse cx="53" cy="201" rx="6.6" ry="5.8" transform="rotate(19 53 201)"/><ellipse cx="117" cy="7" rx="8.0" ry="5.6" transform="rotate(12 117 7)"/><ellipse cx="117" cy="204" rx="8.0" ry="5.6" transform="rotate(12 117 204)"/><ellipse cx="147" cy="6" rx="7.5" ry="5.3"/><ellipse cx="147" cy="203" rx="7.5" ry="5.3"/><ellipse cx="-3" cy="11" rx="7.5" ry="6.3" transform="rotate(-39 -3 11)"/><ellipse cx="-3" cy="208" rx="7.5" ry="6.3" transform="rotate(-39 -3 208)"/><ellipse cx="196" cy="11" rx="7.5" ry="6.3" transform="rotate(-39 196 11)"/><ellipse cx="196" cy="208" rx="7.5" ry="6.3" transform="rotate(-39 196 208)"/><ellipse cx="41" cy="16" rx="6.1" ry="5.1" transform="rotate(23 41 16)"/><ellipse cx="86" cy="22" rx="6.6" ry="4.9" transform="rotate(27 86 22)"/><ellipse cx="139" cy="34" rx="6.2" ry="6.3" transform="rotate(24 139 34)"/><ellipse cx="165" cy="39" rx="7.0" ry="5.0"/><ellipse cx="14" cy="51" rx="7.0" ry="4.9" transform="rotate(-20 14 51)"/><ellipse cx="60" cy="50" rx="6.9" ry="5.0" transform="rotate(22 60 50)"/><ellipse cx="103" cy="45" rx="7.3" ry="6.2" transform="rotate(-14 103 45)"/><ellipse cx="158" cy="51" rx="7.5" ry="5.8" transform="rotate(27 158 51)"/><ellipse cx="0" cy="54" rx="6.6" ry="5.5"/><ellipse cx="199" cy="54" rx="6.6" ry="5.5"/><ellipse cx="23" cy="60" rx="6.1" ry="6.4" transform="rotate(39 23 60)"/><ellipse cx="61" cy="66" rx="7.4" ry="5.7" transform="rotate(37 61 66)"/><ellipse cx="138" cy="63" rx="6.1" ry="5.1" transform="rotate(30 138 63)"/><ellipse cx="13" cy="74" rx="7.1" ry="5.1"/><ellipse cx="40" cy="81" rx="7.3" ry="5.3" transform="rotate(32 40 81)"/><ellipse cx="123" cy="79" rx="6.4" ry="5.2" transform="rotate(19 123 79)"/><ellipse cx="156" cy="73" rx="7.0" ry="5.6"/><ellipse cx="-2" cy="79" rx="6.5" ry="5.6" transform="rotate(-38 -2 79)"/><ellipse cx="197" cy="79" rx="6.5" ry="5.6" transform="rotate(-38 197 79)"/><ellipse cx="81" cy="94" rx="7.4" ry="5.2"/><ellipse cx="102" cy="87" rx="6.3" ry="6.3" transform="rotate(34 102 87)"/><ellipse cx="38" cy="108" rx="7.5" ry="5.5" transform="rotate(-31 38 108)"/><ellipse cx="97" cy="105" rx="6.6" ry="5.8" transform="rotate(-26 97 105)"/><ellipse cx="180" cy="105" rx="7.7" ry="5.1"/><ellipse cx="74" cy="119" rx="6.3" ry="5.0" transform="rotate(21 74 119)"/><ellipse cx="166" cy="124" rx="6.9" ry="5.3" transform="rotate(-16 166 124)"/><ellipse cx="182" cy="123" rx="7.4" ry="5.7" transform="rotate(9 182 123)"/><ellipse cx="-8" cy="121" rx="6.6" ry="6.2" transform="rotate(24 -8 121)"/><ellipse cx="191" cy="121" rx="6.6" ry="6.2" transform="rotate(24 191 121)"/><ellipse cx="70" cy="130" rx="7.4" ry="4.9" transform="rotate(-22 70 130)"/><ellipse cx="124" cy="133" rx="7.5" ry="6.0" transform="rotate(31 124 133)"/><ellipse cx="141" cy="132" rx="7.6" ry="6.2" transform="rotate(18 141 132)"/><ellipse cx="160" cy="138" rx="7.7" ry="5.9"/><ellipse cx="174" cy="134" rx="7.2" ry="6.3" transform="rotate(-17 174 134)"/><ellipse cx="24" cy="147" rx="7.5" ry="5.2" transform="rotate(-29 24 147)"/><ellipse cx="52" cy="151" rx="7.9" ry="6.3" transform="rotate(19 52 151)"/><ellipse cx="109" cy="144" rx="7.6" ry="6.1"/><ellipse cx="153" cy="148" rx="6.4" ry="6.3"/><ellipse cx="162" cy="148" rx="7.2" ry="5.9" transform="rotate(33 162 148)"/><ellipse cx="179" cy="150" rx="7.2" ry="5.2" transform="rotate(-35 179 150)"/><ellipse cx="57" cy="161" rx="7.9" ry="5.5" transform="rotate(28 57 161)"/><ellipse cx="69" cy="157" rx="6.8" ry="5.7" transform="rotate(30 69 157)"/><ellipse cx="155" cy="163" rx="6.3" ry="5.6" transform="rotate(31 155 163)"/><ellipse cx="107" cy="174" rx="7.5" ry="6.4" transform="rotate(-35 107 174)"/><ellipse cx="116" cy="178" rx="6.8" ry="5.4" transform="rotate(-12 116 178)"/><ellipse cx="134" cy="171" rx="7.5" ry="5.0"/><ellipse cx="173" cy="178" rx="7.7" ry="4.9" transform="rotate(15 173 178)"/><ellipse cx="19" cy="-3" rx="6.1" ry="5.0"/><ellipse cx="19" cy="194" rx="6.1" ry="5.0"/><ellipse cx="29" cy="-3" rx="7.6" ry="6.2" transform="rotate(11 29 -3)"/><ellipse cx="29" cy="194" rx="7.6" ry="6.2" transform="rotate(11 29 194)"/><ellipse cx="43" cy="-3" rx="7.8" ry="5.5" transform="rotate(31 43 -3)"/><ellipse cx="43" cy="194" rx="7.8" ry="5.5" transform="rotate(31 43 194)"/><ellipse cx="54" cy="-9" rx="6.7" ry="5.7" transform="rotate(-26 54 -9)"/><ellipse cx="54" cy="188" rx="6.7" ry="5.7" transform="rotate(-26 54 188)"/><ellipse cx="100" cy="-3" rx="7.3" ry="5.6" transform="rotate(-26 100 -3)"/><ellipse cx="100" cy="194" rx="7.3" ry="5.6" transform="rotate(-26 100 194)"/><ellipse cx="185" cy="-6" rx="6.8" ry="6.2" transform="rotate(31 185 -6)"/><ellipse cx="185" cy="191" rx="6.8" ry="6.2" transform="rotate(31 185 191)"/></g><g fill="#1226b8"><ellipse cx="5" cy="3" rx="6.8" ry="5.0" transform="rotate(-35 5 3)"/><ellipse cx="5" cy="200" rx="6.8" ry="5.0" transform="rotate(-35 5 200)"/><ellipse cx="204" cy="3" rx="6.8" ry="5.0" transform="rotate(-35 204 3)"/><ellipse cx="204" cy="200" rx="6.8" ry="5.0" transform="rotate(-35 204 200)"/><ellipse cx="60" cy="8" rx="7.3" ry="5.6" transform="rotate(-26 60 8)"/><ellipse cx="60" cy="205" rx="7.3" ry="5.6" transform="rotate(-26 60 205)"/><ellipse cx="96" cy="8" rx="7.8" ry="6.2"/><ellipse cx="96" cy="205" rx="7.8" ry="6.2"/><ellipse cx="132" cy="9" rx="6.1" ry="6.3" transform="rotate(11 132 9)"/><ellipse cx="132" cy="206" rx="6.1" ry="6.3" transform="rotate(11 132 206)"/><ellipse cx="102" cy="20" rx="8.0" ry="5.6" transform="rotate(-21 102 20)"/><ellipse cx="-3" cy="24" rx="7.6" ry="5.3" transform="rotate(-9 -3 24)"/><ellipse cx="196" cy="24" rx="7.6" ry="5.3" transform="rotate(-9 196 24)"/><ellipse cx="18" cy="40" rx="7.3" ry="4.9" transform="rotate(-27 18 40)"/><ellipse cx="125" cy="35" rx="6.4" ry="6.4" transform="rotate(-9 125 35)"/><ellipse cx="131" cy="52" rx="7.9" ry="5.1"/><ellipse cx="183" cy="47" rx="6.7" ry="5.8" transform="rotate(40 183 47)"/><ellipse cx="4" cy="64" rx="7.4" ry="5.8" transform="rotate(-11 4 64)"/><ellipse cx="203" cy="64" rx="7.4" ry="5.8" transform="rotate(-11 203 64)"/><ellipse cx="37" cy="61" rx="6.2" ry="5.2" transform="rotate(-22 37 61)"/><ellipse cx="-7" cy="65" rx="6.4" ry="6.1" transform="rotate(40 -7 65)"/><ellipse cx="192" cy="65" rx="6.4" ry="6.1" transform="rotate(40 192 65)"/><ellipse cx="145" cy="75" rx="6.8" ry="5.8" transform="rotate(-37 145 75)"/><ellipse cx="173" cy="79" rx="6.9" ry="5.1" transform="rotate(-39 173 79)"/><ellipse cx="-10" cy="75" rx="7.5" ry="5.5" transform="rotate(10 -10 75)"/><ellipse cx="189" cy="75" rx="7.5" ry="5.5" transform="rotate(10 189 75)"/><ellipse cx="22" cy="93" rx="7.9" ry="5.2" transform="rotate(-23 22 93)"/><ellipse cx="134" cy="92" rx="7.0" ry="5.3"/><ellipse cx="33" cy="107" rx="6.7" ry="4.8" transform="rotate(16 33 107)"/><ellipse cx="2" cy="120" rx="7.7" ry="6.2" transform="rotate(-34 2 120)"/><ellipse cx="201" cy="120" rx="7.7" ry="6.2" transform="rotate(-34 201 120)"/><ellipse cx="102" cy="124" rx="6.3" ry="6.0"/><ellipse cx="124" cy="121" rx="7.9" ry="5.0" transform="rotate(-11 124 121)"/><ellipse cx="47" cy="132" rx="7.3" ry="5.4" transform="rotate(11 47 132)"/><ellipse cx="84" cy="132" rx="7.4" ry="4.8" transform="rotate(-11 84 132)"/><ellipse cx="100" cy="134" rx="7.9" ry="5.5" transform="rotate(18 100 134)"/><ellipse cx="-3" cy="133" rx="7.8" ry="5.4"/><ellipse cx="196" cy="133" rx="7.8" ry="5.4"/><ellipse cx="7" cy="149" rx="7.0" ry="6.3" transform="rotate(27 7 149)"/><ellipse cx="206" cy="149" rx="7.0" ry="6.3" transform="rotate(27 206 149)"/><ellipse cx="32" cy="148" rx="7.9" ry="6.3" transform="rotate(38 32 148)"/><ellipse cx="65" cy="151" rx="7.9" ry="6.4" transform="rotate(-37 65 151)"/><ellipse cx="32" cy="164" rx="7.6" ry="5.9"/><ellipse cx="-2" cy="163" rx="7.6" ry="5.7"/><ellipse cx="197" cy="163" rx="7.6" ry="5.7"/><ellipse cx="6" cy="181" rx="8.0" ry="6.0" transform="rotate(-34 6 181)"/><ellipse cx="205" cy="181" rx="8.0" ry="6.0" transform="rotate(-34 205 181)"/><ellipse cx="46" cy="174" rx="6.0" ry="5.4" transform="rotate(31 46 174)"/><ellipse cx="72" cy="-10" rx="6.2" ry="5.6" transform="rotate(8 72 -10)"/><ellipse cx="72" cy="187" rx="6.2" ry="5.6" transform="rotate(8 72 187)"/><ellipse cx="89" cy="-11" rx="6.8" ry="6.0"/><ellipse cx="89" cy="186" rx="6.8" ry="6.0"/><ellipse cx="130" cy="-9" rx="7.3" ry="5.9" transform="rotate(33 130 -9)"/><ellipse cx="130" cy="188" rx="7.3" ry="5.9" transform="rotate(33 130 188)"/><ellipse cx="140" cy="-7" rx="7.0" ry="4.9" transform="rotate(23 140 -7)"/><ellipse cx="140" cy="190" rx="7.0" ry="4.9" transform="rotate(23 140 190)"/><ellipse cx="166" cy="-9" rx="7.8" ry="6.2" transform="rotate(-17 166 -9)"/><ellipse cx="166" cy="188" rx="7.8" ry="6.2" transform="rotate(-17 166 188)"/></g><g fill="#08127c"><ellipse cx="183" cy="23" rx="7.6" ry="5.8" transform="rotate(25 183 23)"/><ellipse cx="3" cy="40" rx="7.9" ry="5.9" transform="rotate(-36 3 40)"/><ellipse cx="202" cy="40" rx="7.9" ry="5.9" transform="rotate(-36 202 40)"/><ellipse cx="64" cy="39" rx="6.4" ry="5.9" transform="rotate(-14 64 39)"/><ellipse cx="81" cy="35" rx="7.1" ry="4.8" transform="rotate(-37 81 35)"/><ellipse cx="181" cy="32" rx="6.3" ry="5.6" transform="rotate(-13 181 32)"/><ellipse cx="27" cy="52" rx="8.0" ry="5.8" transform="rotate(14 27 52)"/><ellipse cx="47" cy="50" rx="7.8" ry="6.1"/><ellipse cx="76" cy="48" rx="6.9" ry="5.8" transform="rotate(14 76 48)"/><ellipse cx="82" cy="53" rx="6.7" ry="5.7" transform="rotate(-12 82 53)"/><ellipse cx="109" cy="65" rx="7.9" ry="6.2" transform="rotate(18 109 65)"/><ellipse cx="98" cy="78" rx="6.3" ry="5.3"/><ellipse cx="47" cy="95" rx="6.2" ry="6.4" transform="rotate(-16 47 95)"/><ellipse cx="162" cy="95" rx="7.9" ry="5.9" transform="rotate(-9 162 95)"/><ellipse cx="-12" cy="88" rx="6.6" ry="5.9" transform="rotate(-14 -12 88)"/><ellipse cx="187" cy="88" rx="6.6" ry="5.9" transform="rotate(-14 187 88)"/><ellipse cx="84" cy="103" rx="7.2" ry="5.8" transform="rotate(-29 84 103)"/><ellipse cx="118" cy="109" rx="7.3" ry="5.7" transform="rotate(-12 118 109)"/><ellipse cx="173" cy="101" rx="7.7" ry="5.0" transform="rotate(-26 173 101)"/><ellipse cx="54" cy="124" rx="7.0" ry="5.6" transform="rotate(-35 54 124)"/><ellipse cx="93" cy="121" rx="6.3" ry="5.7"/><ellipse cx="133" cy="121" rx="6.3" ry="5.6" transform="rotate(12 133 121)"/><ellipse cx="145" cy="120" rx="7.9" ry="5.2"/><ellipse cx="16" cy="131" rx="6.9" ry="6.4" transform="rotate(-15 16 131)"/><ellipse cx="185" cy="134" rx="7.6" ry="6.1" transform="rotate(15 185 134)"/><ellipse cx="47" cy="158" rx="6.3" ry="5.1"/><ellipse cx="114" cy="158" rx="7.5" ry="6.1" transform="rotate(-38 114 158)"/><ellipse cx="183" cy="157" rx="6.4" ry="6.0"/><ellipse cx="21" cy="174" rx="6.2" ry="5.9" transform="rotate(20 21 174)"/><ellipse cx="36" cy="176" rx="7.9" ry="4.9" transform="rotate(-10 36 176)"/><ellipse cx="152" cy="178" rx="7.9" ry="5.5" transform="rotate(-11 152 178)"/><ellipse cx="117" cy="-5" rx="6.1" ry="5.9"/><ellipse cx="117" cy="192" rx="6.1" ry="5.9"/><ellipse cx="155" cy="-4" rx="6.7" ry="5.2" transform="rotate(9 155 -4)"/><ellipse cx="155" cy="193" rx="6.7" ry="5.2" transform="rotate(9 155 193)"/></g></g></pattern>
<pattern id="pf3" x="0" y="0" width="199" height="197" patternUnits="userSpaceOnUse"><g filter="url(#b2)"><g fill="#1430d0"><ellipse cx="17" cy="7" rx="8.5" ry="6.2" transform="rotate(32 17 7)"/><ellipse cx="17" cy="204" rx="8.5" ry="6.2" transform="rotate(32 17 204)"/><ellipse cx="47" cy="5" rx="8.4" ry="6.4" transform="rotate(-27 47 5)"/><ellipse cx="47" cy="202" rx="8.4" ry="6.4" transform="rotate(-27 47 202)"/><ellipse cx="138" cy="7" rx="7.2" ry="6.0" transform="rotate(16 138 7)"/><ellipse cx="138" cy="204" rx="7.2" ry="6.0" transform="rotate(16 138 204)"/><ellipse cx="96" cy="23" rx="8.5" ry="6.2" transform="rotate(23 96 23)"/><ellipse cx="168" cy="39" rx="8.3" ry="6.3"/><ellipse cx="101" cy="49" rx="7.1" ry="6.5" transform="rotate(26 101 49)"/><ellipse cx="7" cy="65" rx="8.0" ry="6.6"/><ellipse cx="206" cy="65" rx="8.0" ry="6.6"/><ellipse cx="67" cy="66" rx="7.9" ry="5.2" transform="rotate(18 67 66)"/><ellipse cx="103" cy="64" rx="7.4" ry="5.5" transform="rotate(10 103 64)"/><ellipse cx="121" cy="65" rx="8.1" ry="5.6"/><ellipse cx="-4" cy="67" rx="7.5" ry="5.8" transform="rotate(-30 -4 67)"/><ellipse cx="195" cy="67" rx="7.5" ry="5.8" transform="rotate(-30 195 67)"/><ellipse cx="171" cy="74" rx="8.2" ry="6.4" transform="rotate(14 171 74)"/><ellipse cx="5" cy="93" rx="8.0" ry="5.5" transform="rotate(-24 5 93)"/><ellipse cx="204" cy="93" rx="8.0" ry="5.5" transform="rotate(-24 204 93)"/><ellipse cx="69" cy="87" rx="6.6" ry="6.4"/><ellipse cx="136" cy="88" rx="7.0" ry="6.7" transform="rotate(23 136 88)"/><ellipse cx="150" cy="96" rx="7.8" ry="6.6" transform="rotate(-23 150 96)"/><ellipse cx="95" cy="102" rx="7.1" ry="6.3" transform="rotate(-17 95 102)"/><ellipse cx="1" cy="102" rx="8.2" ry="5.9" transform="rotate(-36 1 102)"/><ellipse cx="200" cy="102" rx="8.2" ry="5.9" transform="rotate(-36 200 102)"/><ellipse cx="34" cy="123" rx="8.2" ry="6.3" transform="rotate(33 34 123)"/><ellipse cx="51" cy="119" rx="6.8" ry="6.5"/><ellipse cx="163" cy="124" rx="6.5" ry="6.7" transform="rotate(-21 163 124)"/><ellipse cx="39" cy="136" rx="7.7" ry="6.3" transform="rotate(-10 39 136)"/><ellipse cx="127" cy="132" rx="6.7" ry="6.5" transform="rotate(-14 127 132)"/><ellipse cx="2" cy="138" rx="8.5" ry="6.2" transform="rotate(37 2 138)"/><ellipse cx="201" cy="138" rx="8.5" ry="6.2" transform="rotate(37 201 138)"/><ellipse cx="26" cy="150" rx="7.0" ry="6.7"/><ellipse cx="54" cy="144" rx="8.1" ry="6.4" transform="rotate(-16 54 144)"/><ellipse cx="131" cy="144" rx="8.2" ry="5.4" transform="rotate(25 131 144)"/><ellipse cx="-8" cy="149" rx="8.4" ry="6.2" transform="rotate(11 -8 149)"/><ellipse cx="191" cy="149" rx="8.4" ry="6.2" transform="rotate(11 191 149)"/><ellipse cx="56" cy="160" rx="7.5" ry="5.7" transform="rotate(13 56 160)"/><ellipse cx="99" cy="162" rx="6.7" ry="5.8" transform="rotate(10 99 162)"/><ellipse cx="125" cy="162" rx="8.5" ry="6.3" transform="rotate(-33 125 162)"/><ellipse cx="63" cy="176" rx="7.7" ry="5.5"/><ellipse cx="111" cy="-6" rx="7.8" ry="6.7" transform="rotate(-31 111 -6)"/><ellipse cx="111" cy="191" rx="7.8" ry="6.7" transform="rotate(-31 111 191)"/><ellipse cx="126" cy="-11" rx="7.8" ry="6.6"/><ellipse cx="126" cy="186" rx="7.8" ry="6.6"/><ellipse cx="145" cy="-7" rx="6.9" ry="5.7" transform="rotate(21 145 -7)"/><ellipse cx="145" cy="190" rx="6.9" ry="5.7" transform="rotate(21 145 190)"/><ellipse cx="175" cy="-8" rx="6.6" ry="5.3" transform="rotate(-37 175 -8)"/><ellipse cx="175" cy="189" rx="6.6" ry="5.3" transform="rotate(-37 175 189)"/></g><g fill="#1838e0"><ellipse cx="60" cy="8" rx="6.8" ry="5.2" transform="rotate(30 60 8)"/><ellipse cx="60" cy="205" rx="6.8" ry="5.2" transform="rotate(30 60 205)"/><ellipse cx="81" cy="12" rx="6.8" ry="5.5" transform="rotate(-15 81 12)"/><ellipse cx="81" cy="209" rx="6.8" ry="5.5" transform="rotate(-15 81 209)"/><ellipse cx="166" cy="6" rx="7.7" ry="5.2" transform="rotate(-36 166 6)"/><ellipse cx="166" cy="203" rx="7.7" ry="5.2" transform="rotate(-36 166 203)"/><ellipse cx="17" cy="20" rx="7.1" ry="5.9" transform="rotate(38 17 20)"/><ellipse cx="85" cy="17" rx="8.4" ry="5.3"/><ellipse cx="49" cy="34" rx="7.2" ry="5.4" transform="rotate(38 49 34)"/><ellipse cx="94" cy="38" rx="7.8" ry="6.4" transform="rotate(-38 94 38)"/><ellipse cx="14" cy="46" rx="7.3" ry="6.0" transform="rotate(-24 14 46)"/><ellipse cx="56" cy="47" rx="7.1" ry="6.8" transform="rotate(-10 56 47)"/><ellipse cx="142" cy="53" rx="8.3" ry="6.6" transform="rotate(-39 142 53)"/><ellipse cx="175" cy="59" rx="7.0" ry="6.5" transform="rotate(-17 175 59)"/><ellipse cx="60" cy="80" rx="6.7" ry="6.7"/><ellipse cx="111" cy="74" rx="6.6" ry="5.3" transform="rotate(-25 111 74)"/><ellipse cx="140" cy="82" rx="8.4" ry="5.7"/><ellipse cx="153" cy="74" rx="7.3" ry="5.8" transform="rotate(30 153 74)"/><ellipse cx="34" cy="91" rx="7.1" ry="6.4" transform="rotate(17 34 91)"/><ellipse cx="88" cy="95" rx="7.5" ry="6.7" transform="rotate(-36 88 95)"/><ellipse cx="163" cy="90" rx="7.4" ry="6.4"/><ellipse cx="180" cy="96" rx="7.1" ry="5.9" transform="rotate(26 180 96)"/><ellipse cx="56" cy="108" rx="6.5" ry="5.7" transform="rotate(35 56 108)"/><ellipse cx="127" cy="103" rx="8.5" ry="5.2"/><ellipse cx="3" cy="120" rx="7.5" ry="6.6" transform="rotate(-9 3 120)"/><ellipse cx="202" cy="120" rx="7.5" ry="6.6" transform="rotate(-9 202 120)"/><ellipse cx="18" cy="123" rx="7.1" ry="6.0" transform="rotate(21 18 123)"/><ellipse cx="19" cy="134" rx="7.3" ry="5.2" transform="rotate(-9 19 134)"/><ellipse cx="54" cy="132" rx="7.1" ry="6.2" transform="rotate(32 54 132)"/><ellipse cx="111" cy="129" rx="6.7" ry="6.1" transform="rotate(8 111 129)"/><ellipse cx="186" cy="130" rx="8.1" ry="6.4" transform="rotate(25 186 130)"/><ellipse cx="67" cy="153" rx="8.1" ry="5.5" transform="rotate(-13 67 153)"/><ellipse cx="91" cy="152" rx="6.6" ry="5.9" transform="rotate(-22 91 152)"/><ellipse cx="147" cy="147" rx="7.3" ry="6.0" transform="rotate(-36 147 147)"/><ellipse cx="32" cy="161" rx="8.6" ry="6.4" transform="rotate(31 32 161)"/><ellipse cx="111" cy="161" rx="7.1" ry="6.4" transform="rotate(-10 111 161)"/><ellipse cx="169" cy="159" rx="7.9" ry="5.3" transform="rotate(-39 169 159)"/><ellipse cx="28" cy="-10" rx="7.0" ry="5.6" transform="rotate(36 28 -10)"/><ellipse cx="28" cy="187" rx="7.0" ry="5.6" transform="rotate(36 28 187)"/><ellipse cx="-11" cy="-3" rx="7.6" ry="5.4"/><ellipse cx="-11" cy="194" rx="7.6" ry="5.4"/><ellipse cx="188" cy="-3" rx="7.6" ry="5.4"/><ellipse cx="188" cy="194" rx="7.6" ry="5.4"/></g><g fill="#1028c0"><ellipse cx="105" cy="6" rx="6.8" ry="5.4" transform="rotate(-35 105 6)"/><ellipse cx="105" cy="203" rx="6.8" ry="5.4" transform="rotate(-35 105 203)"/><ellipse cx="124" cy="8" rx="7.8" ry="6.3" transform="rotate(-35 124 8)"/><ellipse cx="124" cy="205" rx="7.8" ry="6.3" transform="rotate(-35 124 205)"/><ellipse cx="161" cy="22" rx="7.5" ry="5.7" transform="rotate(-33 161 22)"/><ellipse cx="171" cy="22" rx="7.6" ry="5.3" transform="rotate(24 171 22)"/><ellipse cx="-12" cy="23" rx="8.1" ry="5.8" transform="rotate(16 -12 23)"/><ellipse cx="187" cy="23" rx="8.1" ry="5.8" transform="rotate(16 187 23)"/><ellipse cx="3" cy="19" rx="8.6" ry="6.3" transform="rotate(37 3 19)"/><ellipse cx="202" cy="19" rx="8.6" ry="6.3" transform="rotate(37 202 19)"/><ellipse cx="19" cy="33" rx="7.6" ry="6.3" transform="rotate(-11 19 33)"/><ellipse cx="77" cy="36" rx="8.5" ry="6.0" transform="rotate(35 77 36)"/><ellipse cx="116" cy="35" rx="7.0" ry="5.3" transform="rotate(-29 116 35)"/><ellipse cx="178" cy="33" rx="7.1" ry="6.0" transform="rotate(36 178 33)"/><ellipse cx="-3" cy="38" rx="7.4" ry="6.5" transform="rotate(11 -3 38)"/><ellipse cx="196" cy="38" rx="7.4" ry="6.5" transform="rotate(11 196 38)"/><ellipse cx="72" cy="47" rx="8.6" ry="6.0"/><ellipse cx="40" cy="60" rx="7.5" ry="6.1"/><ellipse cx="50" cy="63" rx="7.6" ry="5.3" transform="rotate(19 50 63)"/><ellipse cx="149" cy="62" rx="7.9" ry="6.7" transform="rotate(-29 149 62)"/><ellipse cx="87" cy="80" rx="7.3" ry="6.4" transform="rotate(-11 87 80)"/><ellipse cx="-5" cy="77" rx="8.3" ry="5.4" transform="rotate(23 -5 77)"/><ellipse cx="194" cy="77" rx="8.3" ry="5.4" transform="rotate(23 194 77)"/><ellipse cx="40" cy="103" rx="7.3" ry="5.4"/><ellipse cx="81" cy="105" rx="6.7" ry="6.5"/><ellipse cx="114" cy="108" rx="6.6" ry="5.4" transform="rotate(38 114 108)"/><ellipse cx="60" cy="119" rx="8.1" ry="5.7" transform="rotate(34 60 119)"/><ellipse cx="88" cy="120" rx="7.7" ry="5.5" transform="rotate(-9 88 120)"/><ellipse cx="-6" cy="120" rx="7.5" ry="5.3" transform="rotate(-30 -6 120)"/><ellipse cx="193" cy="120" rx="7.5" ry="5.3" transform="rotate(-30 193 120)"/><ellipse cx="31" cy="134" rx="6.9" ry="6.3" transform="rotate(-14 31 134)"/><ellipse cx="100" cy="131" rx="7.4" ry="5.3" transform="rotate(31 100 131)"/><ellipse cx="174" cy="129" rx="7.9" ry="5.4" transform="rotate(-13 174 129)"/><ellipse cx="32" cy="149" rx="7.3" ry="6.3"/><ellipse cx="76" cy="148" rx="8.0" ry="6.5"/><ellipse cx="126" cy="148" rx="7.3" ry="6.7" transform="rotate(-33 126 148)"/><ellipse cx="81" cy="172" rx="8.4" ry="5.8" transform="rotate(-13 81 172)"/><ellipse cx="92" cy="172" rx="6.8" ry="5.6" transform="rotate(-38 92 172)"/><ellipse cx="125" cy="179" rx="7.7" ry="6.1" transform="rotate(32 125 179)"/><ellipse cx="-4" cy="180" rx="7.9" ry="5.6"/><ellipse cx="195" cy="180" rx="7.9" ry="5.6"/><ellipse cx="86" cy="-3" rx="7.7" ry="6.3"/><ellipse cx="86" cy="194" rx="7.7" ry="6.3"/><ellipse cx="-1" cy="-3" rx="7.6" ry="6.2" transform="rotate(15 -1 -3)"/><ellipse cx="-1" cy="194" rx="7.6" ry="6.2" transform="rotate(15 -1 194)"/><ellipse cx="198" cy="-3" rx="7.6" ry="6.2" transform="rotate(15 198 -3)"/><ellipse cx="198" cy="194" rx="7.6" ry="6.2" transform="rotate(15 198 194)"/></g><g fill="#1a3ce8"><ellipse cx="93" cy="9" rx="6.9" ry="6.7" transform="rotate(15 93 9)"/><ellipse cx="93" cy="206" rx="6.9" ry="6.7" transform="rotate(15 93 206)"/><ellipse cx="179" cy="11" rx="6.7" ry="5.6" transform="rotate(26 179 11)"/><ellipse cx="179" cy="208" rx="6.7" ry="5.6" transform="rotate(26 179 208)"/><ellipse cx="131" cy="26" rx="7.5" ry="6.0" transform="rotate(18 131 26)"/><ellipse cx="150" cy="36" rx="7.0" ry="6.6" transform="rotate(-40 150 36)"/><ellipse cx="47" cy="50" rx="7.2" ry="6.6"/><ellipse cx="114" cy="50" rx="7.0" ry="6.0" transform="rotate(-37 114 50)"/><ellipse cx="126" cy="46" rx="8.6" ry="5.7" transform="rotate(9 126 46)"/><ellipse cx="154" cy="50" rx="7.2" ry="5.7"/><ellipse cx="184" cy="53" rx="8.4" ry="6.1" transform="rotate(-39 184 53)"/><ellipse cx="1" cy="51" rx="8.5" ry="6.2" transform="rotate(29 1 51)"/><ellipse cx="200" cy="51" rx="8.5" ry="6.2" transform="rotate(29 200 51)"/><ellipse cx="19" cy="58" rx="8.1" ry="6.1" transform="rotate(12 19 58)"/><ellipse cx="96" cy="60" rx="8.4" ry="6.8" transform="rotate(16 96 60)"/><ellipse cx="123" cy="81" rx="7.5" ry="6.4" transform="rotate(-40 123 81)"/><ellipse cx="108" cy="91" rx="8.1" ry="5.3" transform="rotate(27 108 91)"/><ellipse cx="-7" cy="88" rx="7.5" ry="6.4" transform="rotate(-19 -7 88)"/><ellipse cx="192" cy="88" rx="7.5" ry="6.4" transform="rotate(-19 192 88)"/><ellipse cx="12" cy="102" rx="6.7" ry="5.6" transform="rotate(-33 12 102)"/><ellipse cx="211" cy="102" rx="6.7" ry="5.6" transform="rotate(-33 211 102)"/><ellipse cx="161" cy="103" rx="7.8" ry="6.2" transform="rotate(-28 161 103)"/><ellipse cx="173" cy="102" rx="7.2" ry="6.7"/><ellipse cx="182" cy="101" rx="7.9" ry="5.5"/><ellipse cx="138" cy="134" rx="8.3" ry="6.7" transform="rotate(-15 138 134)"/><ellipse cx="158" cy="138" rx="7.0" ry="6.3" transform="rotate(27 158 138)"/><ellipse cx="104" cy="150" rx="6.8" ry="6.7"/><ellipse cx="11" cy="161" rx="8.0" ry="6.5" transform="rotate(26 11 161)"/><ellipse cx="210" cy="161" rx="8.0" ry="6.5" transform="rotate(26 210 161)"/><ellipse cx="41" cy="159" rx="8.3" ry="5.3" transform="rotate(-10 41 159)"/><ellipse cx="74" cy="164" rx="6.7" ry="6.3" transform="rotate(-37 74 164)"/><ellipse cx="138" cy="161" rx="7.1" ry="6.7"/><ellipse cx="-3" cy="164" rx="8.4" ry="6.4"/><ellipse cx="196" cy="164" rx="8.4" ry="6.4"/><ellipse cx="40" cy="172" rx="7.4" ry="6.4"/><ellipse cx="46" cy="176" rx="8.2" ry="5.8"/><ellipse cx="106" cy="177" rx="7.0" ry="5.6" transform="rotate(30 106 177)"/><ellipse cx="12" cy="-9" rx="6.5" ry="6.4"/><ellipse cx="12" cy="188" rx="6.5" ry="6.4"/><ellipse cx="211" cy="-9" rx="6.5" ry="6.4"/><ellipse cx="211" cy="188" rx="6.5" ry="6.4"/><ellipse cx="58" cy="-10" rx="6.8" ry="6.0" transform="rotate(15 58 -10)"/><ellipse cx="58" cy="187" rx="6.8" ry="6.0" transform="rotate(15 58 187)"/><ellipse cx="155" cy="-9" rx="6.7" ry="5.3" transform="rotate(17 155 -9)"/><ellipse cx="155" cy="188" rx="6.7" ry="5.3" transform="rotate(17 155 188)"/></g><g fill="#0e22a8"><ellipse cx="8" cy="9" rx="8.2" ry="6.7" transform="rotate(19 8 9)"/><ellipse cx="8" cy="206" rx="8.2" ry="6.7" transform="rotate(19 8 206)"/><ellipse cx="207" cy="9" rx="8.2" ry="6.7" transform="rotate(19 207 9)"/><ellipse cx="207" cy="206" rx="8.2" ry="6.7" transform="rotate(19 207 206)"/><ellipse cx="147" cy="11" rx="8.5" ry="5.8"/><ellipse cx="147" cy="208" rx="8.5" ry="5.8"/><ellipse cx="27" cy="22" rx="8.4" ry="5.7" transform="rotate(34 27 22)"/><ellipse cx="59" cy="26" rx="6.8" ry="5.3" transform="rotate(39 59 26)"/><ellipse cx="110" cy="20" rx="6.6" ry="5.9" transform="rotate(-29 110 20)"/><ellipse cx="140" cy="21" rx="8.4" ry="5.4" transform="rotate(26 140 21)"/><ellipse cx="29" cy="48" rx="8.4" ry="5.2" transform="rotate(-31 29 48)"/><ellipse cx="169" cy="51" rx="8.2" ry="5.4" transform="rotate(-40 169 51)"/><ellipse cx="137" cy="67" rx="6.8" ry="5.9" transform="rotate(-15 137 67)"/><ellipse cx="160" cy="65" rx="7.6" ry="6.7"/><ellipse cx="16" cy="73" rx="7.9" ry="5.3" transform="rotate(-30 16 73)"/><ellipse cx="28" cy="76" rx="7.5" ry="6.7" transform="rotate(-31 28 76)"/><ellipse cx="68" cy="79" rx="7.2" ry="5.6" transform="rotate(-13 68 79)"/><ellipse cx="102" cy="77" rx="8.3" ry="6.0"/><ellipse cx="119" cy="87" rx="6.6" ry="6.8" transform="rotate(-26 119 87)"/><ellipse cx="131" cy="116" rx="7.4" ry="6.7" transform="rotate(-38 131 116)"/><ellipse cx="89" cy="137" rx="8.0" ry="5.9"/><ellipse cx="160" cy="151" rx="6.5" ry="6.0" transform="rotate(36 160 151)"/><ellipse cx="182" cy="150" rx="7.6" ry="5.3" transform="rotate(-9 182 150)"/><ellipse cx="89" cy="159" rx="6.5" ry="6.5" transform="rotate(37 89 159)"/><ellipse cx="184" cy="162" rx="7.8" ry="6.5" transform="rotate(-36 184 162)"/><ellipse cx="22" cy="177" rx="7.3" ry="5.8" transform="rotate(28 22 177)"/><ellipse cx="145" cy="177" rx="6.7" ry="6.4" transform="rotate(9 145 177)"/><ellipse cx="164" cy="176" rx="8.0" ry="6.3" transform="rotate(18 164 176)"/><ellipse cx="42" cy="-10" rx="8.6" ry="6.2"/><ellipse cx="42" cy="187" rx="8.6" ry="6.2"/><ellipse cx="75" cy="-9" rx="6.5" ry="5.9"/><ellipse cx="75" cy="188" rx="6.5" ry="5.9"/><ellipse cx="103" cy="-9" rx="6.7" ry="5.6" transform="rotate(-11 103 -9)"/><ellipse cx="103" cy="188" rx="6.7" ry="5.6" transform="rotate(-11 103 188)"/></g><g fill="#1634c8"><ellipse cx="34" cy="11" rx="7.3" ry="5.4" transform="rotate(-20 34 11)"/><ellipse cx="34" cy="208" rx="7.3" ry="5.4" transform="rotate(-20 34 208)"/><ellipse cx="-9" cy="6" rx="7.6" ry="6.4" transform="rotate(-31 -9 6)"/><ellipse cx="-9" cy="203" rx="7.6" ry="6.4" transform="rotate(-31 -9 203)"/><ellipse cx="190" cy="6" rx="7.6" ry="6.4" transform="rotate(-31 190 6)"/><ellipse cx="190" cy="203" rx="7.6" ry="6.4" transform="rotate(-31 190 203)"/><ellipse cx="39" cy="23" rx="7.1" ry="6.5" transform="rotate(10 39 23)"/><ellipse cx="75" cy="17" rx="8.1" ry="5.8" transform="rotate(-20 75 17)"/><ellipse cx="9" cy="36" rx="6.5" ry="6.1" transform="rotate(-20 9 36)"/><ellipse cx="208" cy="36" rx="6.5" ry="6.1" transform="rotate(-20 208 36)"/><ellipse cx="37" cy="38" rx="8.2" ry="5.8" transform="rotate(27 37 38)"/><ellipse cx="67" cy="39" rx="7.5" ry="6.3" transform="rotate(18 67 39)"/><ellipse cx="107" cy="36" rx="6.9" ry="6.4" transform="rotate(-26 107 36)"/><ellipse cx="140" cy="35" rx="7.7" ry="5.9" transform="rotate(-12 140 35)"/><ellipse cx="90" cy="47" rx="8.5" ry="5.4" transform="rotate(-38 90 47)"/><ellipse cx="83" cy="65" rx="6.6" ry="6.5" transform="rotate(-22 83 65)"/><ellipse cx="38" cy="80" rx="6.6" ry="5.4" transform="rotate(36 38 80)"/><ellipse cx="185" cy="73" rx="8.4" ry="5.8" transform="rotate(35 185 73)"/><ellipse cx="22" cy="93" rx="7.8" ry="6.7" transform="rotate(17 22 93)"/><ellipse cx="52" cy="88" rx="6.9" ry="5.3" transform="rotate(9 52 88)"/><ellipse cx="74" cy="95" rx="8.3" ry="6.1" transform="rotate(35 74 95)"/><ellipse cx="33" cy="107" rx="7.1" ry="6.0" transform="rotate(-20 33 107)"/><ellipse cx="72" cy="105" rx="8.2" ry="6.2" transform="rotate(36 72 105)"/><ellipse cx="141" cy="104" rx="6.5" ry="6.1" transform="rotate(26 141 104)"/><ellipse cx="78" cy="119" rx="7.6" ry="5.3" transform="rotate(-24 78 119)"/><ellipse cx="108" cy="121" rx="7.6" ry="6.0"/><ellipse cx="120" cy="124" rx="8.2" ry="6.7" transform="rotate(15 120 124)"/><ellipse cx="146" cy="118" rx="6.6" ry="6.4" transform="rotate(9 146 118)"/><ellipse cx="180" cy="121" rx="8.5" ry="6.6" transform="rotate(15 180 121)"/><ellipse cx="67" cy="133" rx="6.9" ry="6.2"/><ellipse cx="6" cy="151" rx="6.9" ry="5.7" transform="rotate(-26 6 151)"/><ellipse cx="205" cy="151" rx="6.9" ry="5.7" transform="rotate(-26 205 151)"/><ellipse cx="161" cy="159" rx="7.7" ry="5.6"/><ellipse cx="7" cy="177" rx="8.4" ry="5.8"/><ellipse cx="206" cy="177" rx="8.4" ry="5.8"/><ellipse cx="136" cy="171" rx="6.6" ry="6.5"/><ellipse cx="174" cy="172" rx="7.5" ry="6.2" transform="rotate(31 174 172)"/></g></g></pattern>
<pattern id="pgb" x="0" y="0" width="150" height="150" patternUnits="userSpaceOnUse"><g><g fill="#1a40e8"><ellipse cx="65" cy="2" rx="6.0" ry="2.8"/><ellipse cx="65" cy="152" rx="6.0" ry="2.8"/><ellipse cx="31" cy="37" rx="4.1" ry="1.8"/><ellipse cx="112" cy="43" rx="5.6" ry="2.6" transform="rotate(-16 112 43)"/><ellipse cx="34" cy="63" rx="4.4" ry="2.6" transform="rotate(-15 34 63)"/><ellipse cx="47" cy="61" rx="5.9" ry="1.9"/><ellipse cx="85" cy="74" rx="4.2" ry="1.9"/><ellipse cx="93" cy="70" rx="4.3" ry="1.9" transform="rotate(14 93 70)"/><ellipse cx="19" cy="77" rx="5.5" ry="1.8"/><ellipse cx="26" cy="86" rx="4.9" ry="2.6" transform="rotate(-8 26 86)"/><ellipse cx="96" cy="79" rx="4.7" ry="1.8"/><ellipse cx="109" cy="84" rx="6.4" ry="2.8"/><ellipse cx="66" cy="94" rx="5.7" ry="3.0" transform="rotate(-11 66 94)"/><ellipse cx="77" cy="99" rx="5.8" ry="2.0"/><ellipse cx="101" cy="101" rx="6.4" ry="1.9" transform="rotate(9 101 101)"/><ellipse cx="17" cy="118" rx="4.7" ry="1.8" transform="rotate(11 17 118)"/><ellipse cx="30" cy="114" rx="4.8" ry="1.8" transform="rotate(11 30 114)"/><ellipse cx="-9" cy="113" rx="6.0" ry="2.5" transform="rotate(-11 -9 113)"/><ellipse cx="141" cy="113" rx="6.0" ry="2.5" transform="rotate(-11 141 113)"/><ellipse cx="43" cy="124" rx="5.0" ry="2.5"/><ellipse cx="83" cy="129" rx="4.9" ry="2.7"/><ellipse cx="-10" cy="126" rx="5.8" ry="2.8" transform="rotate(-17 -10 126)"/><ellipse cx="140" cy="126" rx="5.8" ry="2.8" transform="rotate(-17 140 126)"/><ellipse cx="12" cy="-8" rx="5.8" ry="2.9" transform="rotate(-12 12 -8)"/><ellipse cx="12" cy="142" rx="5.8" ry="2.9" transform="rotate(-12 12 142)"/><ellipse cx="162" cy="-8" rx="5.8" ry="2.9" transform="rotate(-12 162 -8)"/><ellipse cx="162" cy="142" rx="5.8" ry="2.9" transform="rotate(-12 162 142)"/><ellipse cx="136" cy="-11" rx="4.1" ry="2.1" transform="rotate(14 136 -11)"/><ellipse cx="136" cy="139" rx="4.1" ry="2.1" transform="rotate(14 136 139)"/></g><g fill="#1a3ad0"><ellipse cx="22" cy="11" rx="4.9" ry="2.7" transform="rotate(-10 22 11)"/><ellipse cx="22" cy="161" rx="4.9" ry="2.7" transform="rotate(-10 22 161)"/><ellipse cx="86" cy="10" rx="6.0" ry="1.9" transform="rotate(-18 86 10)"/><ellipse cx="86" cy="160" rx="6.0" ry="1.9" transform="rotate(-18 86 160)"/><ellipse cx="-12" cy="9" rx="4.7" ry="2.7"/><ellipse cx="-12" cy="159" rx="4.7" ry="2.7"/><ellipse cx="138" cy="9" rx="4.7" ry="2.7"/><ellipse cx="138" cy="159" rx="4.7" ry="2.7"/><ellipse cx="10" cy="19" rx="6.2" ry="2.6" transform="rotate(-20 10 19)"/><ellipse cx="160" cy="19" rx="6.2" ry="2.6" transform="rotate(-20 160 19)"/><ellipse cx="55" cy="36" rx="6.5" ry="2.4"/><ellipse cx="82" cy="37" rx="4.3" ry="2.2" transform="rotate(-15 82 37)"/><ellipse cx="42" cy="52" rx="5.1" ry="2.2"/><ellipse cx="108" cy="54" rx="4.3" ry="2.2" transform="rotate(14 108 54)"/><ellipse cx="-11" cy="59" rx="5.7" ry="2.7" transform="rotate(-16 -11 59)"/><ellipse cx="139" cy="59" rx="5.7" ry="2.7" transform="rotate(-16 139 59)"/><ellipse cx="124" cy="64" rx="6.0" ry="2.6"/><ellipse cx="54" cy="84" rx="4.7" ry="2.0"/><ellipse cx="24" cy="101" rx="6.3" ry="1.9"/><ellipse cx="109" cy="95" rx="6.4" ry="2.8" transform="rotate(-11 109 95)"/><ellipse cx="43" cy="114" rx="4.3" ry="2.8"/><ellipse cx="58" cy="116" rx="5.9" ry="2.7" transform="rotate(13 58 116)"/><ellipse cx="90" cy="107" rx="4.3" ry="2.6"/><ellipse cx="59" cy="121" rx="6.2" ry="2.0"/><ellipse cx="47" cy="-3" rx="6.3" ry="1.9"/><ellipse cx="47" cy="147" rx="6.3" ry="1.9"/><ellipse cx="61" cy="136" rx="4.6" ry="2.1"/><ellipse cx="101" cy="-12" rx="4.3" ry="2.6" transform="rotate(-15 101 -12)"/><ellipse cx="101" cy="138" rx="4.3" ry="2.6" transform="rotate(-15 101 138)"/><ellipse cx="121" cy="-8" rx="5.9" ry="2.1" transform="rotate(9 121 -8)"/><ellipse cx="121" cy="142" rx="5.9" ry="2.1" transform="rotate(9 121 142)"/></g><g fill="#2050f0"><ellipse cx="114" cy="10" rx="6.0" ry="3.0" transform="rotate(-19 114 10)"/><ellipse cx="114" cy="160" rx="6.0" ry="3.0" transform="rotate(-19 114 160)"/><ellipse cx="89" cy="20" rx="6.0" ry="2.9" transform="rotate(-13 89 20)"/><ellipse cx="104" cy="26" rx="6.4" ry="1.8"/><ellipse cx="121" cy="21" rx="4.6" ry="2.3" transform="rotate(12 121 21)"/><ellipse cx="-0" cy="25" rx="5.2" ry="2.6"/><ellipse cx="150" cy="25" rx="5.2" ry="2.6"/><ellipse cx="10" cy="44" rx="6.3" ry="2.3"/><ellipse cx="160" cy="44" rx="6.3" ry="2.3"/><ellipse cx="15" cy="52" rx="5.4" ry="2.4"/><ellipse cx="36" cy="50" rx="6.3" ry="1.9" transform="rotate(10 36 50)"/><ellipse cx="64" cy="54" rx="5.3" ry="1.8" transform="rotate(-14 64 54)"/><ellipse cx="23" cy="70" rx="5.8" ry="2.6" transform="rotate(8 23 70)"/><ellipse cx="115" cy="61" rx="6.1" ry="3.0"/><ellipse cx="-10" cy="61" rx="5.3" ry="2.7" transform="rotate(14 -10 61)"/><ellipse cx="140" cy="61" rx="5.3" ry="2.7" transform="rotate(14 140 61)"/><ellipse cx="43" cy="76" rx="4.8" ry="2.4"/><ellipse cx="5" cy="87" rx="4.8" ry="2.1" transform="rotate(-15 5 87)"/><ellipse cx="155" cy="87" rx="4.8" ry="2.1" transform="rotate(-15 155 87)"/><ellipse cx="-12" cy="104" rx="4.5" ry="2.2" transform="rotate(-15 -12 104)"/><ellipse cx="138" cy="104" rx="4.5" ry="2.2" transform="rotate(-15 138 104)"/><ellipse cx="104" cy="109" rx="5.4" ry="2.2"/><ellipse cx="-2" cy="117" rx="5.4" ry="2.0" transform="rotate(-10 -2 117)"/><ellipse cx="148" cy="117" rx="5.4" ry="2.0" transform="rotate(-10 148 117)"/><ellipse cx="69" cy="134" rx="5.2" ry="2.6" transform="rotate(9 69 134)"/><ellipse cx="127" cy="122" rx="5.7" ry="2.2" transform="rotate(-18 127 122)"/><ellipse cx="36" cy="-4" rx="5.4" ry="2.3" transform="rotate(-12 36 -4)"/><ellipse cx="36" cy="146" rx="5.4" ry="2.3" transform="rotate(-12 36 146)"/></g><g fill="#1430b0"><ellipse cx="55" cy="11" rx="5.7" ry="2.5" transform="rotate(-17 55 11)"/><ellipse cx="55" cy="161" rx="5.7" ry="2.5" transform="rotate(-17 55 161)"/><ellipse cx="23" cy="20" rx="6.3" ry="2.5" transform="rotate(-9 23 20)"/><ellipse cx="-8" cy="28" rx="5.1" ry="2.4"/><ellipse cx="142" cy="28" rx="5.1" ry="2.4"/><ellipse cx="99" cy="33" rx="5.6" ry="1.9" transform="rotate(-16 99 33)"/><ellipse cx="123" cy="39" rx="4.7" ry="2.8"/><ellipse cx="-5" cy="41" rx="4.3" ry="2.9" transform="rotate(12 -5 41)"/><ellipse cx="145" cy="41" rx="4.3" ry="2.9" transform="rotate(12 145 41)"/><ellipse cx="69" cy="59" rx="5.8" ry="2.7" transform="rotate(-13 69 59)"/><ellipse cx="88" cy="47" rx="5.8" ry="1.9"/><ellipse cx="120" cy="48" rx="4.7" ry="2.0"/><ellipse cx="3" cy="59" rx="5.4" ry="1.8" transform="rotate(8 3 59)"/><ellipse cx="153" cy="59" rx="5.4" ry="1.8" transform="rotate(8 153 59)"/><ellipse cx="72" cy="85" rx="6.5" ry="2.3"/><ellipse cx="-11" cy="82" rx="6.1" ry="2.9" transform="rotate(-15 -11 82)"/><ellipse cx="139" cy="82" rx="6.1" ry="2.9" transform="rotate(-15 139 82)"/><ellipse cx="9" cy="100" rx="4.6" ry="2.7" transform="rotate(-14 9 100)"/><ellipse cx="159" cy="100" rx="4.6" ry="2.7" transform="rotate(-14 159 100)"/><ellipse cx="16" cy="132" rx="6.1" ry="2.5"/><ellipse cx="110" cy="130" rx="5.3" ry="1.9" transform="rotate(-16 110 130)"/><ellipse cx="80" cy="-12" rx="6.1" ry="2.8"/><ellipse cx="80" cy="138" rx="6.1" ry="2.8"/><ellipse cx="95" cy="-8" rx="5.4" ry="2.3" transform="rotate(14 95 -8)"/><ellipse cx="95" cy="142" rx="5.4" ry="2.3" transform="rotate(14 95 142)"/><ellipse cx="6" cy="136" rx="4.8" ry="2.8"/><ellipse cx="156" cy="136" rx="4.8" ry="2.8"/></g><g fill="#10289a"><ellipse cx="11" cy="12" rx="5.2" ry="2.1" transform="rotate(-20 11 12)"/><ellipse cx="11" cy="162" rx="5.2" ry="2.1" transform="rotate(-20 11 162)"/><ellipse cx="161" cy="12" rx="5.2" ry="2.1" transform="rotate(-20 161 12)"/><ellipse cx="161" cy="162" rx="5.2" ry="2.1" transform="rotate(-20 161 162)"/><ellipse cx="41" cy="6" rx="5.3" ry="2.6" transform="rotate(-13 41 6)"/><ellipse cx="41" cy="156" rx="5.3" ry="2.6" transform="rotate(-13 41 156)"/><ellipse cx="102" cy="13" rx="5.2" ry="2.8" transform="rotate(-13 102 13)"/><ellipse cx="102" cy="163" rx="5.2" ry="2.8" transform="rotate(-13 102 163)"/><ellipse cx="124" cy="7" rx="4.9" ry="1.9"/><ellipse cx="124" cy="157" rx="4.9" ry="1.9"/><ellipse cx="45" cy="20" rx="5.7" ry="2.4" transform="rotate(-14 45 20)"/><ellipse cx="63" cy="21" rx="6.5" ry="2.1" transform="rotate(14 63 21)"/><ellipse cx="77" cy="28" rx="5.1" ry="2.8"/><ellipse cx="24" cy="44" rx="5.8" ry="2.0" transform="rotate(9 24 44)"/><ellipse cx="63" cy="34" rx="4.0" ry="2.8" transform="rotate(8 63 34)"/><ellipse cx="3" cy="65" rx="5.0" ry="2.3"/><ellipse cx="153" cy="65" rx="5.0" ry="2.3"/><ellipse cx="70" cy="69" rx="4.1" ry="2.1"/><ellipse cx="115" cy="81" rx="5.2" ry="2.8"/><ellipse cx="41" cy="103" rx="4.4" ry="2.9" transform="rotate(-18 41 103)"/><ellipse cx="56" cy="97" rx="4.9" ry="3.0" transform="rotate(9 56 97)"/><ellipse cx="124" cy="92" rx="5.2" ry="2.9"/><ellipse cx="70" cy="112" rx="4.0" ry="3.0" transform="rotate(14 70 112)"/><ellipse cx="119" cy="119" rx="5.8" ry="1.9"/><ellipse cx="11" cy="130" rx="6.2" ry="2.1"/><ellipse cx="161" cy="130" rx="6.2" ry="2.1"/><ellipse cx="104" cy="128" rx="6.2" ry="2.0" transform="rotate(-10 104 128)"/></g></g></pattern>
<pattern id="pside" x="0" y="0" width="60" height="60" patternUnits="userSpaceOnUse"><g filter="url(#b1)"><g fill="#1a3cc8"><ellipse cx="23" cy="12" rx="6.3" ry="6.2"/><ellipse cx="23" cy="72" rx="6.3" ry="6.2"/><ellipse cx="27" cy="23" rx="7.0" ry="6.7"/><ellipse cx="1" cy="22" rx="6.4" ry="7.6" transform="rotate(16 1 22)"/><ellipse cx="61" cy="22" rx="6.4" ry="7.6" transform="rotate(16 61 22)"/><ellipse cx="-9" cy="36" rx="6.7" ry="7.6" transform="rotate(-34 -9 36)"/><ellipse cx="51" cy="36" rx="6.7" ry="7.6" transform="rotate(-34 51 36)"/></g><g fill="#2046d8"><ellipse cx="6" cy="4" rx="7.0" ry="6.1"/><ellipse cx="6" cy="64" rx="7.0" ry="6.1"/><ellipse cx="66" cy="4" rx="7.0" ry="6.1"/><ellipse cx="66" cy="64" rx="7.0" ry="6.1"/><ellipse cx="46" cy="24" rx="6.7" ry="7.1" transform="rotate(22 46 24)"/><ellipse cx="28" cy="33" rx="6.6" ry="7.5" transform="rotate(-28 28 33)"/><ellipse cx="37" cy="42" rx="6.1" ry="7.1" transform="rotate(23 37 42)"/><ellipse cx="31" cy="-6" rx="6.7" ry="7.4" transform="rotate(31 31 -6)"/><ellipse cx="31" cy="54" rx="6.7" ry="7.4" transform="rotate(31 31 54)"/><ellipse cx="40" cy="-8" rx="6.3" ry="6.2" transform="rotate(-35 40 -8)"/><ellipse cx="40" cy="52" rx="6.3" ry="6.2" transform="rotate(-35 40 52)"/><ellipse cx="-4" cy="-10" rx="6.6" ry="7.7" transform="rotate(-34 -4 -10)"/><ellipse cx="-4" cy="50" rx="6.6" ry="7.7" transform="rotate(-34 -4 50)"/><ellipse cx="56" cy="-10" rx="6.6" ry="7.7" transform="rotate(-34 56 -10)"/><ellipse cx="56" cy="50" rx="6.6" ry="7.7" transform="rotate(-34 56 50)"/></g><g fill="#1634b0"><ellipse cx="33" cy="7" rx="7.2" ry="6.2" transform="rotate(-22 33 7)"/><ellipse cx="33" cy="67" rx="7.2" ry="6.2" transform="rotate(-22 33 67)"/><ellipse cx="-7" cy="3" rx="6.9" ry="6.1" transform="rotate(-22 -7 3)"/><ellipse cx="-7" cy="63" rx="6.9" ry="6.1" transform="rotate(-22 -7 63)"/><ellipse cx="53" cy="3" rx="6.9" ry="6.1" transform="rotate(-22 53 3)"/><ellipse cx="53" cy="63" rx="6.9" ry="6.1" transform="rotate(-22 53 63)"/><ellipse cx="19" cy="20" rx="6.2" ry="6.2" transform="rotate(-15 19 20)"/><ellipse cx="3" cy="35" rx="6.7" ry="6.7"/><ellipse cx="63" cy="35" rx="6.7" ry="6.7"/><ellipse cx="20" cy="-8" rx="7.0" ry="6.1" transform="rotate(16 20 -8)"/><ellipse cx="20" cy="52" rx="7.0" ry="6.1" transform="rotate(16 20 52)"/></g></g></pattern>
<clipPath id="cf1"><rect x="241" y="1680" width="685" height="686"/></clipPath>
<clipPath id="cside"><rect x="933" y="1680" width="114" height="686"/></clipPath>
<clipPath id="cbot"><rect x="241" y="2374" width="685" height="114"/></clipPath>
<clipPath id="cf2"><rect x="1056" y="1680" width="397" height="395"/></clipPath>
<clipPath id="cf3"><rect x="1056" y="2085" width="397" height="395"/></clipPath>
<clipPath id="cg1"><rect x="1476.5" y="1680" width="424" height="396"/></clipPath>
<clipPath id="cg2"><rect x="1476.5" y="2083" width="424" height="396"/></clipPath>
<radialGradient id="rgdark"><stop offset="0" stop-color="#000" stop-opacity="0.85"/><stop offset="1" stop-color="#000" stop-opacity="0"/></radialGradient>
<radialGradient id="rgteal"><stop offset="0" stop-color="#3aa880" stop-opacity="0.5"/><stop offset="1" stop-color="#3aa880" stop-opacity="0"/></radialGradient></defs>
<rect width="1909" height="2488" fill="#fff"/>
<rect x="105.4" y="34.4" width="7.9" height="79.5" fill="#009a00"/>
<rect x="110.4" y="34.4" width="1.2" height="79.5" fill="#009900"/>
<rect x="113.0" y="34.4" width="8.3" height="79.5" fill="#006e00"/>
<rect x="113.0" y="34.4" width="3.0" height="79.5" fill="#006c00"/>
<rect x="116.5" y="34.4" width="1.2" height="79.5" fill="#005900"/>
<rect x="118.2" y="34.4" width="2.8" height="79.5" fill="#007a00"/>
<rect x="121.0" y="34.4" width="11.3" height="79.5" fill="#008a00"/>
<rect x="126.6" y="34.4" width="1.6" height="79.5" fill="#009b00"/>
<rect x="130.2" y="34.4" width="1.8" height="79.5" fill="#007200"/>
<rect x="132.0" y="34.4" width="14.3" height="79.5" fill="#00aa00"/>
<rect x="138.2" y="34.4" width="2.0" height="79.5" fill="#00b500"/>
<rect x="140.7" y="34.4" width="3.0" height="79.5" fill="#00b300"/>
<rect x="146.0" y="34.4" width="32.3" height="79.5" fill="#00b800"/>
<rect x="151.0" y="34.4" width="2.0" height="79.5" fill="#00ca00"/>
<rect x="165.7" y="34.4" width="3.0" height="79.5" fill="#00c700"/>
<rect x="169.7" y="34.4" width="2.5" height="79.5" fill="#00d600"/>
<rect x="178.0" y="34.4" width="18.3" height="79.5" fill="#00e000"/>
<rect x="190.7" y="34.4" width="1.2" height="79.5" fill="#00ee00"/>
<rect x="196.0" y="34.4" width="10.3" height="79.5" fill="#008800"/>
<rect x="203.8" y="34.4" width="1.2" height="79.5" fill="#007a00"/>
<rect x="206.0" y="34.4" width="10.3" height="79.5" fill="#006000"/>
<rect x="206.0" y="34.4" width="2.5" height="79.5" fill="#006c00"/>
<rect x="209.0" y="34.4" width="1.6" height="79.5" fill="#006000"/>
<rect x="216.0" y="34.4" width="39.3" height="79.5" fill="#00c000"/>
<rect x="221.5" y="34.4" width="1.6" height="79.5" fill="#00a300"/>
<rect x="224.1" y="34.4" width="1.6" height="79.5" fill="#00d600"/>
<rect x="226.7" y="34.4" width="2.0" height="79.5" fill="#00a100"/>
<rect x="243.7" y="34.4" width="2.5" height="79.5" fill="#009e00"/>
<rect x="249.2" y="34.4" width="1.2" height="79.5" fill="#00e100"/>
<rect x="253.4" y="34.4" width="1.6" height="79.5" fill="#00c400"/>
<rect x="255.0" y="34.4" width="31.3" height="79.5" fill="#00b000"/>
<rect x="265.8" y="34.4" width="2.5" height="79.5" fill="#00c500"/>
<rect x="274.3" y="34.4" width="1.6" height="79.5" fill="#00a100"/>
<rect x="281.4" y="34.4" width="3.0" height="79.5" fill="#00cc00"/>
<rect x="286.0" y="34.4" width="29.9" height="79.5" fill="#009c00"/>
<rect x="288.1" y="34.4" width="3.0" height="79.5" fill="#00a200"/>
<rect x="310.6" y="34.4" width="2.5" height="79.5" fill="#00a500"/>
<rect x="315.6" y="34.4" width="29.0" height="79.5" fill="#008800"/>
<rect x="320.1" y="34.4" width="2.0" height="79.5" fill="#007000"/>
<rect x="325.1" y="34.4" width="1.6" height="79.5" fill="#008400"/>
<rect x="342.4" y="34.4" width="1.9" height="79.5" fill="#009e00"/>
<rect x="344.3" y="34.4" width="11.2" height="79.5" fill="#002000"/>
<rect x="344.3" y="34.4" width="2.5" height="79.5" fill="#002500"/>
<rect x="355.2" y="34.4" width="26.7" height="79.5" fill="#004800"/>
<rect x="359.8" y="34.4" width="2.0" height="79.5" fill="#004800"/>
<rect x="371.5" y="34.4" width="1.6" height="79.5" fill="#003e00"/>
<rect x="374.1" y="34.4" width="3.0" height="79.5" fill="#004800"/>
<rect x="381.6" y="34.4" width="8.7" height="79.5" fill="#008000"/>
<rect x="387.1" y="34.4" width="2.9" height="79.5" fill="#006c00"/>
<rect x="390.0" y="34.4" width="29.2" height="79.5" fill="#007000"/>
<rect x="393.0" y="34.4" width="1.6" height="79.5" fill="#006d00"/>
<rect x="395.1" y="34.4" width="3.0" height="79.5" fill="#007600"/>
<rect x="402.8" y="34.4" width="1.6" height="79.5" fill="#005900"/>
<rect x="408.4" y="34.4" width="1.2" height="79.5" fill="#007300"/>
<rect x="418.9" y="34.4" width="20.4" height="79.5" fill="#002000"/>
<rect x="422.9" y="34.4" width="2.5" height="79.5" fill="#001b00"/>
<rect x="428.4" y="34.4" width="2.0" height="79.5" fill="#001c00"/>
<rect x="436.6" y="34.4" width="1.6" height="79.5" fill="#001b00"/>
<rect x="439.0" y="34.4" width="29.6" height="79.5" fill="#004a00"/>
<rect x="444.6" y="34.4" width="1.6" height="79.5" fill="#004600"/>
<rect x="449.2" y="34.4" width="2.0" height="79.5" fill="#004400"/>
<rect x="451.7" y="34.4" width="2.0" height="79.5" fill="#004a00"/>
<rect x="456.7" y="34.4" width="1.2" height="79.5" fill="#004900"/>
<rect x="465.5" y="34.4" width="1.2" height="79.5" fill="#003b00"/>
<rect x="468.3" y="34.4" width="19.2" height="79.5" fill="#ff0000"/>
<rect x="473.3" y="34.4" width="2.0" height="79.5" fill="#fe0000"/>
<rect x="478.3" y="34.4" width="2.0" height="79.5" fill="#cd0000"/>
<rect x="487.2" y="34.4" width="22.8" height="79.5" fill="#e00000"/>
<rect x="489.4" y="34.4" width="1.2" height="79.5" fill="#ba0000"/>
<rect x="502.1" y="34.4" width="1.6" height="79.5" fill="#bf0000"/>
<rect x="509.7" y="34.4" width="30.6" height="79.5" fill="#ff0000"/>
<rect x="509.7" y="34.4" width="2.0" height="79.5" fill="#ff0000"/>
<rect x="517.7" y="34.4" width="1.2" height="79.5" fill="#ff0000"/>
<rect x="535.6" y="34.4" width="3.0" height="79.5" fill="#dd0000"/>
<rect x="540.0" y="34.4" width="22.8" height="79.5" fill="#140000"/>
<rect x="540.0" y="34.4" width="2.0" height="79.5" fill="#170000"/>
<rect x="546.0" y="34.4" width="1.6" height="79.5" fill="#150000"/>
<rect x="549.6" y="34.4" width="2.5" height="79.5" fill="#100000"/>
<rect x="560.1" y="34.4" width="2.4" height="79.5" fill="#120000"/>
<rect x="562.5" y="34.4" width="18.8" height="79.5" fill="#1c0000"/>
<rect x="562.5" y="34.4" width="1.6" height="79.5" fill="#1b0000"/>
<rect x="570.1" y="34.4" width="1.6" height="79.5" fill="#200000"/>
<rect x="572.7" y="34.4" width="2.0" height="79.5" fill="#1a0000"/>
<rect x="575.2" y="34.4" width="2.5" height="79.5" fill="#1d0000"/>
<rect x="581.0" y="34.4" width="20.6" height="79.5" fill="#380000"/>
<rect x="589.5" y="34.4" width="1.2" height="79.5" fill="#3a0000"/>
<rect x="595.2" y="34.4" width="3.0" height="79.5" fill="#330000"/>
<rect x="601.3" y="34.4" width="29.8" height="79.5" fill="#002800"/>
<rect x="601.3" y="34.4" width="1.6" height="79.5" fill="#002900"/>
<rect x="608.1" y="34.4" width="3.0" height="79.5" fill="#002800"/>
<rect x="615.6" y="34.4" width="1.2" height="79.5" fill="#002100"/>
<rect x="618.8" y="34.4" width="1.2" height="79.5" fill="#002600"/>
<rect x="622.7" y="34.4" width="2.5" height="79.5" fill="#002700"/>
<rect x="629.2" y="34.4" width="1.6" height="79.5" fill="#002b00"/>
<rect x="630.8" y="34.4" width="23.8" height="79.5" fill="#003000"/>
<rect x="633.0" y="34.4" width="1.6" height="79.5" fill="#003200"/>
<rect x="654.3" y="34.4" width="29.9" height="79.5" fill="#004800"/>
<rect x="657.8" y="34.4" width="2.5" height="79.5" fill="#004000"/>
<rect x="664.4" y="34.4" width="3.0" height="79.5" fill="#004600"/>
<rect x="667.9" y="34.4" width="3.0" height="79.5" fill="#005400"/>
<rect x="673.9" y="34.4" width="1.2" height="79.5" fill="#003a00"/>
<rect x="678.1" y="34.4" width="2.0" height="79.5" fill="#005300"/>
<rect x="683.9" y="34.4" width="25.1" height="79.5" fill="#600000"/>
<rect x="683.9" y="34.4" width="3.0" height="79.5" fill="#590000"/>
<rect x="696.6" y="34.4" width="2.5" height="79.5" fill="#4b0000"/>
<rect x="702.1" y="34.4" width="2.5" height="79.5" fill="#670000"/>
<rect x="707.6" y="34.4" width="1.1" height="79.5" fill="#500000"/>
<rect x="708.7" y="34.4" width="34.5" height="79.5" fill="#a00000"/>
<rect x="708.7" y="34.4" width="1.2" height="79.5" fill="#920000"/>
<rect x="718.3" y="34.4" width="2.0" height="79.5" fill="#960000"/>
<rect x="724.8" y="34.4" width="1.2" height="79.5" fill="#800000"/>
<rect x="728.0" y="34.4" width="1.6" height="79.5" fill="#8e0000"/>
<rect x="742.9" y="34.4" width="27.4" height="79.5" fill="#d00000"/>
<rect x="757.2" y="34.4" width="2.0" height="79.5" fill="#e00000"/>
<rect x="105.4" y="113.6" width="40.9" height="79.4" fill="#00c800"/>
<rect x="105.4" y="113.6" width="1.2" height="79.4" fill="#00a900"/>
<rect x="113.6" y="113.6" width="3.0" height="79.4" fill="#00e500"/>
<rect x="119.6" y="113.6" width="2.5" height="79.4" fill="#00ab00"/>
<rect x="122.6" y="113.6" width="1.6" height="79.4" fill="#00a300"/>
<rect x="125.2" y="113.6" width="2.0" height="79.4" fill="#00ca00"/>
<rect x="127.7" y="113.6" width="2.5" height="79.4" fill="#00d800"/>
<rect x="131.2" y="113.6" width="2.5" height="79.4" fill="#00d800"/>
<rect x="143.3" y="113.6" width="1.2" height="79.4" fill="#00b000"/>
<rect x="146.0" y="113.6" width="32.3" height="79.4" fill="#009600"/>
<rect x="146.0" y="113.6" width="2.5" height="79.4" fill="#008800"/>
<rect x="149.0" y="113.6" width="1.6" height="79.4" fill="#00a000"/>
<rect x="162.6" y="113.6" width="2.5" height="79.4" fill="#007c00"/>
<rect x="168.2" y="113.6" width="2.5" height="79.4" fill="#00a400"/>
<rect x="171.2" y="113.6" width="1.6" height="79.4" fill="#00ac00"/>
<rect x="178.0" y="113.6" width="8.3" height="79.4" fill="#006000"/>
<rect x="178.0" y="113.6" width="1.2" height="79.4" fill="#005600"/>
<rect x="180.2" y="113.6" width="2.5" height="79.4" fill="#006900"/>
<rect x="186.0" y="113.6" width="10.3" height="79.4" fill="#003000"/>
<rect x="196.0" y="113.6" width="20.3" height="79.4" fill="#00c000"/>
<rect x="196.0" y="113.6" width="1.2" height="79.4" fill="#00bc00"/>
<rect x="200.2" y="113.6" width="1.2" height="79.4" fill="#00c900"/>
<rect x="207.0" y="113.6" width="2.5" height="79.4" fill="#00b400"/>
<rect x="216.0" y="113.6" width="39.3" height="79.4" fill="#00a800"/>
<rect x="222.6" y="113.6" width="2.0" height="79.4" fill="#00ad00"/>
<rect x="227.7" y="113.6" width="3.0" height="79.4" fill="#009d00"/>
<rect x="233.9" y="113.6" width="2.5" height="79.4" fill="#008700"/>
<rect x="246.1" y="113.6" width="2.0" height="79.4" fill="#00af00"/>
<rect x="251.1" y="113.6" width="1.2" height="79.4" fill="#00b400"/>
<rect x="255.0" y="113.6" width="17.3" height="79.4" fill="#007800"/>
<rect x="255.0" y="113.6" width="2.0" height="79.4" fill="#006300"/>
<rect x="257.5" y="113.6" width="2.0" height="79.4" fill="#007200"/>
<rect x="264.0" y="113.6" width="2.5" height="79.4" fill="#008500"/>
<rect x="269.5" y="113.6" width="1.2" height="79.4" fill="#007400"/>
<rect x="272.0" y="113.6" width="38.3" height="79.4" fill="#00c000"/>
<rect x="276.0" y="113.6" width="2.0" height="79.4" fill="#00db00"/>
<rect x="278.5" y="113.6" width="2.5" height="79.4" fill="#00c600"/>
<rect x="284.0" y="113.6" width="1.2" height="79.4" fill="#00b900"/>
<rect x="285.7" y="113.6" width="2.0" height="79.4" fill="#009b00"/>
<rect x="289.7" y="113.6" width="2.0" height="79.4" fill="#00df00"/>
<rect x="296.2" y="113.6" width="2.0" height="79.4" fill="#00cd00"/>
<rect x="310.0" y="113.6" width="34.6" height="79.4" fill="#00c800"/>
<rect x="310.0" y="113.6" width="2.5" height="79.4" fill="#00c400"/>
<rect x="316.0" y="113.6" width="3.0" height="79.4" fill="#00e100"/>
<rect x="324.5" y="113.6" width="3.0" height="79.4" fill="#00d800"/>
<rect x="328.5" y="113.6" width="2.5" height="79.4" fill="#009f00"/>
<rect x="335.1" y="113.6" width="1.2" height="79.4" fill="#00a300"/>
<rect x="342.3" y="113.6" width="1.6" height="79.4" fill="#00bd00"/>
<rect x="344.3" y="113.6" width="36.0" height="79.4" fill="#00f800"/>
<rect x="347.8" y="113.6" width="2.0" height="79.4" fill="#00fa00"/>
<rect x="354.8" y="113.6" width="2.5" height="79.4" fill="#00da00"/>
<rect x="361.3" y="113.6" width="2.0" height="79.4" fill="#00da00"/>
<rect x="376.0" y="113.6" width="2.0" height="79.4" fill="#00c600"/>
<rect x="380.0" y="113.6" width="39.3" height="79.4" fill="#00d800"/>
<rect x="380.0" y="113.6" width="1.2" height="79.4" fill="#00f300"/>
<rect x="384.2" y="113.6" width="3.0" height="79.4" fill="#00ec00"/>
<rect x="390.9" y="113.6" width="1.6" height="79.4" fill="#00c600"/>
<rect x="403.3" y="113.6" width="2.0" height="79.4" fill="#00c300"/>
<rect x="410.5" y="113.6" width="1.2" height="79.4" fill="#00ed00"/>
<rect x="412.7" y="113.6" width="3.0" height="79.4" fill="#00b700"/>
<rect x="419.0" y="113.6" width="49.6" height="79.4" fill="#00f000"/>
<rect x="429.5" y="113.6" width="2.5" height="79.4" fill="#00ff00"/>
<rect x="434.0" y="113.6" width="1.6" height="79.4" fill="#00e200"/>
<rect x="451.8" y="113.6" width="1.6" height="79.4" fill="#00c000"/>
<rect x="454.4" y="113.6" width="2.5" height="79.4" fill="#00f700"/>
<rect x="458.9" y="113.6" width="3.0" height="79.4" fill="#00dd00"/>
<rect x="462.9" y="113.6" width="3.0" height="79.4" fill="#00c200"/>
<rect x="468.3" y="113.6" width="10.0" height="79.4" fill="#004000"/>
<rect x="471.8" y="113.6" width="2.0" height="79.4" fill="#004a00"/>
<rect x="476.8" y="113.6" width="1.2" height="79.4" fill="#004a00"/>
<rect x="478.0" y="113.6" width="9.5" height="79.4" fill="#002000"/>
<rect x="482.8" y="113.6" width="2.5" height="79.4" fill="#001c00"/>
<rect x="487.2" y="113.6" width="27.4" height="79.4" fill="#600000"/>
<rect x="487.2" y="113.6" width="3.0" height="79.4" fill="#590000"/>
<rect x="495.5" y="113.6" width="2.0" height="79.4" fill="#620000"/>
<rect x="499.5" y="113.6" width="2.5" height="79.4" fill="#540000"/>
<rect x="505.0" y="113.6" width="2.0" height="79.4" fill="#5c0000"/>
<rect x="511.7" y="113.6" width="2.5" height="79.4" fill="#680000"/>
<rect x="514.3" y="113.6" width="17.4" height="79.4" fill="#200000"/>
<rect x="518.9" y="113.6" width="1.2" height="79.4" fill="#1e0000"/>
<rect x="531.4" y="113.6" width="8.9" height="79.4" fill="#400000"/>
<rect x="531.4" y="113.6" width="1.6" height="79.4" fill="#340000"/>
<rect x="533.5" y="113.6" width="1.6" height="79.4" fill="#490000"/>
<rect x="540.0" y="113.6" width="144.2" height="79.4" fill="#ff0000"/>
<rect x="543.2" y="113.6" width="1.6" height="79.4" fill="#ff0000"/>
<rect x="547.8" y="113.6" width="1.6" height="79.4" fill="#ff0000"/>
<rect x="555.0" y="113.6" width="2.0" height="79.4" fill="#db0000"/>
<rect x="566.6" y="113.6" width="2.0" height="79.4" fill="#fd0000"/>
<rect x="578.6" y="113.6" width="2.0" height="79.4" fill="#ff0000"/>
<rect x="581.6" y="113.6" width="2.0" height="79.4" fill="#cf0000"/>
<rect x="596.9" y="113.6" width="1.6" height="79.4" fill="#ff0000"/>
<rect x="601.5" y="113.6" width="3.0" height="79.4" fill="#cc0000"/>
<rect x="609.6" y="113.6" width="1.2" height="79.4" fill="#ff0000"/>
<rect x="618.5" y="113.6" width="1.6" height="79.4" fill="#ff0000"/>
<rect x="621.1" y="113.6" width="1.6" height="79.4" fill="#ff0000"/>
<rect x="623.7" y="113.6" width="2.5" height="79.4" fill="#ff0000"/>
<rect x="646.4" y="113.6" width="1.6" height="79.4" fill="#c70000"/>
<rect x="648.5" y="113.6" width="3.0" height="79.4" fill="#da0000"/>
<rect x="656.4" y="113.6" width="1.6" height="79.4" fill="#fc0000"/>
<rect x="661.0" y="113.6" width="3.0" height="79.4" fill="#e60000"/>
<rect x="670.2" y="113.6" width="3.0" height="79.4" fill="#ff0000"/>
<rect x="680.4" y="113.6" width="1.6" height="79.4" fill="#d20000"/>
<rect x="683.9" y="113.6" width="59.3" height="79.4" fill="#d80000"/>
<rect x="683.9" y="113.6" width="1.2" height="79.4" fill="#f50000"/>
<rect x="687.1" y="113.6" width="1.2" height="79.4" fill="#d80000"/>
<rect x="696.3" y="113.6" width="1.6" height="79.4" fill="#d40000"/>
<rect x="709.1" y="113.6" width="3.0" height="79.4" fill="#f70000"/>
<rect x="718.1" y="113.6" width="1.2" height="79.4" fill="#e70000"/>
<rect x="721.3" y="113.6" width="1.6" height="79.4" fill="#db0000"/>
<rect x="723.9" y="113.6" width="1.6" height="79.4" fill="#b20000"/>
<rect x="729.0" y="113.6" width="1.2" height="79.4" fill="#e40000"/>
<rect x="739.9" y="113.6" width="2.5" height="79.4" fill="#ba0000"/>
<rect x="742.9" y="113.6" width="8.8" height="79.4" fill="#900000"/>
<rect x="742.9" y="113.6" width="1.2" height="79.4" fill="#a10000"/>
<rect x="749.8" y="113.6" width="1.6" height="79.4" fill="#890000"/>
<rect x="751.4" y="113.6" width="18.9" height="79.4" fill="#c00000"/>
<rect x="751.4" y="113.6" width="2.0" height="79.4" fill="#ab0000"/>
<rect x="762.9" y="113.6" width="2.5" height="79.4" fill="#be0000"/>
<rect x="105.4" y="192.7" width="76.4" height="78.5" fill="#e00000"/>
<rect x="109.4" y="192.7" width="2.5" height="78.5" fill="#c10000"/>
<rect x="112.4" y="192.7" width="1.2" height="78.5" fill="#b70000"/>
<rect x="126.7" y="192.7" width="2.5" height="78.5" fill="#ff0000"/>
<rect x="132.7" y="192.7" width="2.0" height="78.5" fill="#d30000"/>
<rect x="137.7" y="192.7" width="1.2" height="78.5" fill="#e90000"/>
<rect x="140.9" y="192.7" width="1.6" height="78.5" fill="#d50000"/>
<rect x="147.0" y="192.7" width="2.5" height="78.5" fill="#e40000"/>
<rect x="161.1" y="192.7" width="3.0" height="78.5" fill="#cd0000"/>
<rect x="165.1" y="192.7" width="3.0" height="78.5" fill="#ca0000"/>
<rect x="176.7" y="192.7" width="1.6" height="78.5" fill="#c00000"/>
<rect x="181.5" y="192.7" width="14.8" height="78.5" fill="#b00000"/>
<rect x="181.5" y="192.7" width="1.6" height="78.5" fill="#cf0000"/>
<rect x="185.1" y="192.7" width="2.0" height="78.5" fill="#970000"/>
<rect x="187.6" y="192.7" width="2.0" height="78.5" fill="#a50000"/>
<rect x="190.1" y="192.7" width="1.2" height="78.5" fill="#c10000"/>
<rect x="196.0" y="192.7" width="20.8" height="78.5" fill="#400000"/>
<rect x="196.0" y="192.7" width="2.5" height="78.5" fill="#390000"/>
<rect x="216.5" y="192.7" width="46.8" height="78.5" fill="#900000"/>
<rect x="216.5" y="192.7" width="2.5" height="78.5" fill="#950000"/>
<rect x="219.5" y="192.7" width="2.5" height="78.5" fill="#870000"/>
<rect x="228.0" y="192.7" width="2.5" height="78.5" fill="#a20000"/>
<rect x="239.5" y="192.7" width="1.2" height="78.5" fill="#7d0000"/>
<rect x="241.7" y="192.7" width="3.0" height="78.5" fill="#a10000"/>
<rect x="247.7" y="192.7" width="3.0" height="78.5" fill="#8c0000"/>
<rect x="256.2" y="192.7" width="2.5" height="78.5" fill="#980000"/>
<rect x="263.0" y="192.7" width="9.3" height="78.5" fill="#500000"/>
<rect x="263.0" y="192.7" width="3.0" height="78.5" fill="#400000"/>
<rect x="268.0" y="192.7" width="2.5" height="78.5" fill="#3f0000"/>
<rect x="272.0" y="192.7" width="43.9" height="78.5" fill="#b40000"/>
<rect x="276.5" y="192.7" width="3.0" height="78.5" fill="#9d0000"/>
<rect x="288.5" y="192.7" width="2.5" height="78.5" fill="#960000"/>
<rect x="294.1" y="192.7" width="1.6" height="78.5" fill="#ba0000"/>
<rect x="302.2" y="192.7" width="2.5" height="78.5" fill="#ca0000"/>
<rect x="315.6" y="192.7" width="25.7" height="78.5" fill="#9a0000"/>
<rect x="315.6" y="192.7" width="2.0" height="78.5" fill="#8b0000"/>
<rect x="320.6" y="192.7" width="2.5" height="78.5" fill="#9f0000"/>
<rect x="329.7" y="192.7" width="1.2" height="78.5" fill="#9b0000"/>
<rect x="336.5" y="192.7" width="3.0" height="78.5" fill="#790000"/>
<rect x="341.0" y="192.7" width="78.3" height="78.5" fill="#c00000"/>
<rect x="341.0" y="192.7" width="2.0" height="78.5" fill="#9e0000"/>
<rect x="344.0" y="192.7" width="1.6" height="78.5" fill="#b80000"/>
<rect x="360.3" y="192.7" width="3.0" height="78.5" fill="#d60000"/>
<rect x="363.8" y="192.7" width="3.0" height="78.5" fill="#b60000"/>
<rect x="374.3" y="192.7" width="2.5" height="78.5" fill="#a20000"/>
<rect x="386.9" y="192.7" width="2.5" height="78.5" fill="#b60000"/>
<rect x="399.4" y="192.7" width="1.6" height="78.5" fill="#cd0000"/>
<rect x="402.0" y="192.7" width="2.0" height="78.5" fill="#c80000"/>
<rect x="409.5" y="192.7" width="2.0" height="78.5" fill="#b60000"/>
<rect x="412.0" y="192.7" width="2.0" height="78.5" fill="#d50000"/>
<rect x="419.0" y="192.7" width="21.3" height="78.5" fill="#900000"/>
<rect x="419.0" y="192.7" width="3.0" height="78.5" fill="#7c0000"/>
<rect x="425.0" y="192.7" width="1.2" height="78.5" fill="#830000"/>
<rect x="430.3" y="192.7" width="1.2" height="78.5" fill="#900000"/>
<rect x="440.0" y="192.7" width="7.3" height="78.5" fill="#700000"/>
<rect x="440.0" y="192.7" width="2.0" height="78.5" fill="#590000"/>
<rect x="447.0" y="192.7" width="21.6" height="78.5" fill="#9a0000"/>
<rect x="453.0" y="192.7" width="3.0" height="78.5" fill="#a20000"/>
<rect x="456.5" y="192.7" width="1.6" height="78.5" fill="#9f0000"/>
<rect x="468.3" y="192.7" width="19.2" height="78.5" fill="#008800"/>
<rect x="468.3" y="192.7" width="2.0" height="78.5" fill="#006c00"/>
<rect x="487.2" y="192.7" width="44.5" height="78.5" fill="#009a00"/>
<rect x="487.2" y="192.7" width="2.5" height="78.5" fill="#00a200"/>
<rect x="500.5" y="192.7" width="1.2" height="78.5" fill="#00a100"/>
<rect x="504.8" y="192.7" width="2.5" height="78.5" fill="#00a400"/>
<rect x="511.8" y="192.7" width="1.2" height="78.5" fill="#00a600"/>
<rect x="514.0" y="192.7" width="1.2" height="78.5" fill="#009a00"/>
<rect x="524.4" y="192.7" width="1.2" height="78.5" fill="#00a000"/>
<rect x="526.1" y="192.7" width="2.5" height="78.5" fill="#00a500"/>
<rect x="531.4" y="192.7" width="26.7" height="78.5" fill="#00b800"/>
<rect x="539.9" y="192.7" width="1.2" height="78.5" fill="#00bf00"/>
<rect x="544.1" y="192.7" width="2.5" height="78.5" fill="#00c900"/>
<rect x="548.6" y="192.7" width="3.0" height="78.5" fill="#00a400"/>
<rect x="557.8" y="192.7" width="96.8" height="78.5" fill="#009000"/>
<rect x="561.4" y="192.7" width="3.0" height="78.5" fill="#00a300"/>
<rect x="570.9" y="192.7" width="2.5" height="78.5" fill="#007000"/>
<rect x="575.4" y="192.7" width="2.0" height="78.5" fill="#009200"/>
<rect x="590.9" y="192.7" width="2.5" height="78.5" fill="#009c00"/>
<rect x="614.4" y="192.7" width="1.2" height="78.5" fill="#009200"/>
<rect x="617.6" y="192.7" width="3.0" height="78.5" fill="#008d00"/>
<rect x="621.6" y="192.7" width="1.6" height="78.5" fill="#007600"/>
<rect x="632.7" y="192.7" width="1.6" height="78.5" fill="#00aa00"/>
<rect x="636.3" y="192.7" width="1.2" height="78.5" fill="#008b00"/>
<rect x="638.0" y="192.7" width="1.6" height="78.5" fill="#007200"/>
<rect x="645.1" y="192.7" width="1.2" height="78.5" fill="#00a200"/>
<rect x="654.3" y="192.7" width="29.9" height="78.5" fill="#007800"/>
<rect x="654.3" y="192.7" width="2.0" height="78.5" fill="#008b00"/>
<rect x="665.9" y="192.7" width="1.2" height="78.5" fill="#005f00"/>
<rect x="675.6" y="192.7" width="1.2" height="78.5" fill="#007900"/>
<rect x="677.3" y="192.7" width="3.0" height="78.5" fill="#007300"/>
<rect x="683.9" y="192.7" width="86.4" height="78.5" fill="#00b400"/>
<rect x="683.9" y="192.7" width="1.6" height="78.5" fill="#009f00"/>
<rect x="689.2" y="192.7" width="1.2" height="78.5" fill="#00b100"/>
<rect x="693.4" y="192.7" width="1.2" height="78.5" fill="#00a300"/>
<rect x="702.2" y="192.7" width="2.5" height="78.5" fill="#009f00"/>
<rect x="708.2" y="192.7" width="2.5" height="78.5" fill="#009700"/>
<rect x="714.7" y="192.7" width="1.2" height="78.5" fill="#00c800"/>
<rect x="730.1" y="192.7" width="2.0" height="78.5" fill="#009d00"/>
<rect x="732.6" y="192.7" width="2.0" height="78.5" fill="#009c00"/>
<rect x="742.2" y="192.7" width="2.5" height="78.5" fill="#009800"/>
<rect x="751.7" y="192.7" width="1.6" height="78.5" fill="#009400"/>
<rect x="756.3" y="192.7" width="2.5" height="78.5" fill="#00d300"/>
<rect x="762.9" y="192.7" width="1.2" height="78.5" fill="#009b00"/>
<rect x="105.4" y="270.9" width="19.9" height="78.7" fill="#500000"/>
<rect x="105.4" y="270.9" width="1.6" height="78.7" fill="#480000"/>
<rect x="117.8" y="270.9" width="3.0" height="78.7" fill="#3e0000"/>
<rect x="122.8" y="270.9" width="1.6" height="78.7" fill="#400000"/>
<rect x="125.0" y="270.9" width="56.3" height="78.7" fill="#9a0000"/>
<rect x="125.0" y="270.9" width="1.6" height="78.7" fill="#830000"/>
<rect x="138.7" y="270.9" width="1.6" height="78.7" fill="#9e0000"/>
<rect x="141.3" y="270.9" width="3.0" height="78.7" fill="#790000"/>
<rect x="150.5" y="270.9" width="2.0" height="78.7" fill="#9f0000"/>
<rect x="155.5" y="270.9" width="1.2" height="78.7" fill="#b00000"/>
<rect x="163.3" y="270.9" width="1.6" height="78.7" fill="#ab0000"/>
<rect x="166.9" y="270.9" width="1.2" height="78.7" fill="#8f0000"/>
<rect x="173.6" y="270.9" width="3.0" height="78.7" fill="#8e0000"/>
<rect x="181.0" y="270.9" width="15.3" height="78.7" fill="#c00000"/>
<rect x="193.0" y="270.9" width="1.2" height="78.7" fill="#9d0000"/>
<rect x="196.0" y="270.9" width="22.3" height="78.7" fill="#ff1010"/>
<rect x="196.0" y="270.9" width="1.6" height="78.7" fill="#e00e0e"/>
<rect x="198.1" y="270.9" width="1.2" height="78.7" fill="#ff1111"/>
<rect x="200.3" y="270.9" width="2.0" height="78.7" fill="#ff1010"/>
<rect x="205.3" y="270.9" width="3.0" height="78.7" fill="#f40f0f"/>
<rect x="212.0" y="270.9" width="2.0" height="78.7" fill="#f91010"/>
<rect x="216.0" y="270.9" width="1.2" height="78.7" fill="#f00f0f"/>
<rect x="218.0" y="270.9" width="57.8" height="78.7" fill="#e80000"/>
<rect x="226.6" y="270.9" width="2.5" height="78.7" fill="#ff0000"/>
<rect x="238.1" y="270.9" width="2.0" height="78.7" fill="#cb0000"/>
<rect x="255.7" y="270.9" width="2.0" height="78.7" fill="#c60000"/>
<rect x="259.7" y="270.9" width="2.5" height="78.7" fill="#f30000"/>
<rect x="263.2" y="270.9" width="1.6" height="78.7" fill="#da0000"/>
<rect x="272.7" y="270.9" width="2.8" height="78.7" fill="#e70000"/>
<rect x="275.5" y="270.9" width="40.4" height="78.7" fill="#c80000"/>
<rect x="275.5" y="270.9" width="3.0" height="78.7" fill="#a60000"/>
<rect x="279.0" y="270.9" width="2.5" height="78.7" fill="#9f0000"/>
<rect x="282.0" y="270.9" width="2.0" height="78.7" fill="#a90000"/>
<rect x="291.7" y="270.9" width="2.5" height="78.7" fill="#a70000"/>
<rect x="307.8" y="270.9" width="2.5" height="78.7" fill="#d50000"/>
<rect x="313.3" y="270.9" width="2.3" height="78.7" fill="#c20000"/>
<rect x="315.6" y="270.9" width="29.0" height="78.7" fill="#e80000"/>
<rect x="315.6" y="270.9" width="1.2" height="78.7" fill="#ca0000"/>
<rect x="319.8" y="270.9" width="3.0" height="78.7" fill="#ff0000"/>
<rect x="323.8" y="270.9" width="1.6" height="78.7" fill="#d30000"/>
<rect x="330.4" y="270.9" width="2.0" height="78.7" fill="#b70000"/>
<rect x="344.3" y="270.9" width="37.6" height="78.7" fill="#880000"/>
<rect x="344.3" y="270.9" width="3.0" height="78.7" fill="#9e0000"/>
<rect x="348.3" y="270.9" width="2.5" height="78.7" fill="#7d0000"/>
<rect x="356.8" y="270.9" width="3.0" height="78.7" fill="#990000"/>
<rect x="371.8" y="270.9" width="2.5" height="78.7" fill="#a00000"/>
<rect x="381.6" y="270.9" width="17.4" height="78.7" fill="#c00000"/>
<rect x="386.1" y="270.9" width="2.0" height="78.7" fill="#b40000"/>
<rect x="391.1" y="270.9" width="2.0" height="78.7" fill="#cf0000"/>
<rect x="396.1" y="270.9" width="2.5" height="78.7" fill="#a40000"/>
<rect x="398.7" y="270.9" width="15.8" height="78.7" fill="#900000"/>
<rect x="398.7" y="270.9" width="1.6" height="78.7" fill="#860000"/>
<rect x="407.5" y="270.9" width="2.0" height="78.7" fill="#890000"/>
<rect x="410.0" y="270.9" width="1.2" height="78.7" fill="#910000"/>
<rect x="414.2" y="270.9" width="54.4" height="78.7" fill="#d00000"/>
<rect x="441.4" y="270.9" width="1.2" height="78.7" fill="#cc0000"/>
<rect x="448.2" y="270.9" width="2.5" height="78.7" fill="#d60000"/>
<rect x="456.2" y="270.9" width="1.6" height="78.7" fill="#c10000"/>
<rect x="468.3" y="270.9" width="23.0" height="78.7" fill="#008a00"/>
<rect x="474.3" y="270.9" width="1.6" height="78.7" fill="#008b00"/>
<rect x="478.9" y="270.9" width="2.5" height="78.7" fill="#006c00"/>
<rect x="481.9" y="270.9" width="2.0" height="78.7" fill="#007100"/>
<rect x="484.4" y="270.9" width="1.2" height="78.7" fill="#008700"/>
<rect x="491.0" y="270.9" width="28.3" height="78.7" fill="#00b000"/>
<rect x="491.0" y="270.9" width="3.0" height="78.7" fill="#00b400"/>
<rect x="497.1" y="270.9" width="1.2" height="78.7" fill="#009500"/>
<rect x="511.1" y="270.9" width="2.0" height="78.7" fill="#009c00"/>
<rect x="513.6" y="270.9" width="3.0" height="78.7" fill="#009700"/>
<rect x="519.0" y="270.9" width="50.0" height="78.7" fill="#009000"/>
<rect x="519.0" y="270.9" width="1.2" height="78.7" fill="#00a400"/>
<rect x="520.7" y="270.9" width="2.5" height="78.7" fill="#007e00"/>
<rect x="524.2" y="270.9" width="1.2" height="78.7" fill="#009200"/>
<rect x="526.4" y="270.9" width="2.0" height="78.7" fill="#00a200"/>
<rect x="531.4" y="270.9" width="2.0" height="78.7" fill="#007f00"/>
<rect x="536.4" y="270.9" width="1.2" height="78.7" fill="#008700"/>
<rect x="538.6" y="270.9" width="2.5" height="78.7" fill="#00a300"/>
<rect x="546.3" y="270.9" width="1.2" height="78.7" fill="#008500"/>
<rect x="559.7" y="270.9" width="2.0" height="78.7" fill="#007400"/>
<rect x="566.7" y="270.9" width="2.0" height="78.7" fill="#007b00"/>
<rect x="568.7" y="270.9" width="46.9" height="78.7" fill="#00a000"/>
<rect x="568.7" y="270.9" width="2.0" height="78.7" fill="#007f00"/>
<rect x="574.2" y="270.9" width="1.6" height="78.7" fill="#008e00"/>
<rect x="576.8" y="270.9" width="3.0" height="78.7" fill="#00b200"/>
<rect x="580.8" y="270.9" width="1.6" height="78.7" fill="#008b00"/>
<rect x="609.1" y="270.9" width="3.0" height="78.7" fill="#00b300"/>
<rect x="615.3" y="270.9" width="23.8" height="78.7" fill="#008800"/>
<rect x="617.5" y="270.9" width="2.0" height="78.7" fill="#009100"/>
<rect x="620.5" y="270.9" width="1.6" height="78.7" fill="#008e00"/>
<rect x="631.5" y="270.9" width="1.6" height="78.7" fill="#009700"/>
<rect x="636.1" y="270.9" width="2.0" height="78.7" fill="#009800"/>
<rect x="638.8" y="270.9" width="45.4" height="78.7" fill="#007a00"/>
<rect x="641.4" y="270.9" width="1.2" height="78.7" fill="#008600"/>
<rect x="644.6" y="270.9" width="2.5" height="78.7" fill="#008200"/>
<rect x="657.2" y="270.9" width="1.6" height="78.7" fill="#006c00"/>
<rect x="659.8" y="270.9" width="1.2" height="78.7" fill="#007d00"/>
<rect x="683.9" y="270.9" width="86.4" height="78.7" fill="#00b800"/>
<rect x="683.9" y="270.9" width="1.2" height="78.7" fill="#00c800"/>
<rect x="690.9" y="270.9" width="2.0" height="78.7" fill="#00d300"/>
<rect x="703.9" y="270.9" width="3.0" height="78.7" fill="#00d500"/>
<rect x="715.4" y="270.9" width="3.0" height="78.7" fill="#00c300"/>
<rect x="728.4" y="270.9" width="3.0" height="78.7" fill="#00b800"/>
<rect x="732.4" y="270.9" width="3.0" height="78.7" fill="#00d600"/>
<rect x="736.4" y="270.9" width="2.0" height="78.7" fill="#009600"/>
<rect x="740.4" y="270.9" width="1.6" height="78.7" fill="#00c400"/>
<rect x="759.2" y="270.9" width="3.0" height="78.7" fill="#00d500"/>
<g stroke="#111" stroke-width="2" fill="none">
<path d="M105 24.8 H770" stroke-width="2.4"/>
<path d="M309.3 24 V8.3 H583 V18.4"/>
<path d="M496.8 24 V18.4 H670.9 V23"/>
<path d="M209 23 V22.6 H409.7 V23.5" stroke-width="1.5"/>
<path d="M148.6 23.5 V22.8 H260 V23.5" stroke-width="1.2"/>
<path d="M604 23 V22 H735.6 V23.5" stroke-width="1.5"/>
</g>
<g stroke="#222" stroke-width="1.6" fill="none">
<path d="M52.9 73.8 H23.8 V152.4 H52.9"/>
<path d="M23.8 113 H6 V271 H50"/>
<path d="M52.9 231.4 H50 V310.7 H52.9"/>
</g>
<defs><linearGradient id="cb" x1="0" x2="1" y1="0" y2="0"><stop offset="0" stop-color="#2ec82e"/><stop offset="0.5" stop-color="#111"/><stop offset="1" stop-color="#d42020"/></linearGradient></defs>
<rect x="105.4" y="357.8" width="664.6" height="3" fill="url(#cb)"/>
<g font-family="Liberation Sans, Arial, sans-serif" font-size="11.5" fill="#333">
<text x="105.4" y="370.8">-1.50</text>
<text x="437.9" y="370.8" text-anchor="middle">0.00</text>
<text x="770" y="370.8" text-anchor="end">1.50</text>
</g>
<g font-family="Liberation Sans, Arial, sans-serif" font-weight="bold" fill="#000">
<text transform="translate(2.2,47.2) scale(0.9,1.06)" font-size="49">a</text>
<text transform="translate(92.4,116.5) rotate(-90)" text-anchor="middle" font-size="41">Margin</text>
<text transform="translate(92.4,275.6) rotate(-90)" text-anchor="middle" font-size="41">Center</text>
</g>
<g font-family="Liberation Sans, Arial, sans-serif" font-weight="bold" fill="#000">
<text x="3.2" y="465.6" font-size="51">b</text>
<rect x="392" y="479.6" width="25.3" height="31.8" fill="#e6e6e6"/>
<rect x="378" y="494.0" width="11" height="3" fill="#000"/>
<text x="374" y="505.5" font-size="30" text-anchor="end">Wnt/<tspan font-family="Liberation Serif, serif" font-weight="normal" font-size="31">β</tspan>-catenin signaling</text>
<rect x="392" y="527.1" width="87.0" height="31.8" fill="#666666"/>
<rect x="378" y="541.5" width="11" height="3" fill="#000"/>
<text x="374" y="553.0" font-size="30" text-anchor="end">STAT3 pathway</text>
<rect x="392" y="574.6" width="92.0" height="31.8" fill="#a0a0a4"/>
<rect x="378" y="589.0" width="11" height="3" fill="#000"/>
<text x="374" y="600.5" font-size="30" text-anchor="end">MMP core genes</text>
<rect x="392" y="622.1" width="113.0" height="31.8" fill="#666666"/>
<rect x="378" y="636.5" width="11" height="3" fill="#000"/>
<text x="374" y="648.0" font-size="30" text-anchor="end">Integrin signaling</text>
<rect x="392" y="669.6" width="137.0" height="31.8" fill="#d3d3d3"/>
<rect x="378" y="684.0" width="11" height="3" fill="#000"/>
<text x="374" y="695.5" font-size="30" text-anchor="end">EMT core genes</text>
<rect x="392" y="717.1" width="242.0" height="31.8" fill="#808080"/>
<rect x="378" y="731.5" width="11" height="3" fill="#000"/>
<text x="374" y="743.0" font-size="30" text-anchor="end">Proliferation of epith. cells</text>
<rect x="392" y="764.6" width="338.0" height="31.8" fill="#a3a3a7"/>
<rect x="378" y="779.0" width="11" height="3" fill="#000"/>
<text x="374" y="790.5" font-size="30" text-anchor="end">Organization of ECM</text>
<rect x="392" y="812.1" width="511.5" height="31.8" fill="#000000"/>
<rect x="378" y="826.5" width="11" height="3" fill="#000"/>
<text x="374" y="838.0" font-size="30" text-anchor="end">Cell movement</text>
<rect x="387.5" y="462" width="4" height="399" fill="#000"/>
<rect x="387.5" y="856.6" width="599.5" height="3.8" fill="#000"/>
<rect x="387.4" y="858" width="3.2" height="12" fill="#000"/>
<rect x="492.1" y="858" width="2.4" height="7.5" fill="#000"/>
<rect x="465.8" y="858" width="2.4" height="7.5" fill="#000"/>
<rect x="447.2" y="858" width="2.4" height="7.5" fill="#000"/>
<rect x="432.7" y="858" width="2.4" height="7.5" fill="#000"/>
<rect x="420.9" y="858" width="2.4" height="7.5" fill="#000"/>
<rect x="410.9" y="858" width="2.4" height="7.5" fill="#000"/>
<rect x="402.3" y="858" width="2.4" height="7.5" fill="#000"/>
<rect x="394.6" y="858" width="2.4" height="7.5" fill="#000"/>
<rect x="536.6" y="858" width="3.2" height="12" fill="#000"/>
<rect x="641.3" y="858" width="2.4" height="7.5" fill="#000"/>
<rect x="615.0" y="858" width="2.4" height="7.5" fill="#000"/>
<rect x="596.4" y="858" width="2.4" height="7.5" fill="#000"/>
<rect x="581.9" y="858" width="2.4" height="7.5" fill="#000"/>
<rect x="570.1" y="858" width="2.4" height="7.5" fill="#000"/>
<rect x="560.1" y="858" width="2.4" height="7.5" fill="#000"/>
<rect x="551.5" y="858" width="2.4" height="7.5" fill="#000"/>
<rect x="543.8" y="858" width="2.4" height="7.5" fill="#000"/>
<rect x="685.8" y="858" width="3.2" height="12" fill="#000"/>
<rect x="790.5" y="858" width="2.4" height="7.5" fill="#000"/>
<rect x="764.2" y="858" width="2.4" height="7.5" fill="#000"/>
<rect x="745.6" y="858" width="2.4" height="7.5" fill="#000"/>
<rect x="731.1" y="858" width="2.4" height="7.5" fill="#000"/>
<rect x="719.3" y="858" width="2.4" height="7.5" fill="#000"/>
<rect x="709.3" y="858" width="2.4" height="7.5" fill="#000"/>
<rect x="700.7" y="858" width="2.4" height="7.5" fill="#000"/>
<rect x="693.0" y="858" width="2.4" height="7.5" fill="#000"/>
<rect x="835.0" y="858" width="3.2" height="12" fill="#000"/>
<rect x="939.7" y="858" width="2.4" height="7.5" fill="#000"/>
<rect x="913.4" y="858" width="2.4" height="7.5" fill="#000"/>
<rect x="894.8" y="858" width="2.4" height="7.5" fill="#000"/>
<rect x="880.3" y="858" width="2.4" height="7.5" fill="#000"/>
<rect x="868.5" y="858" width="2.4" height="7.5" fill="#000"/>
<rect x="858.5" y="858" width="2.4" height="7.5" fill="#000"/>
<rect x="849.9" y="858" width="2.4" height="7.5" fill="#000"/>
<rect x="842.2" y="858" width="2.4" height="7.5" fill="#000"/>
<rect x="984.2" y="858" width="3.2" height="12" fill="#000"/>
<text x="390.0" y="904.5" font-size="29.5" text-anchor="middle">0</text>
<text x="536.2" y="904.5" font-size="29.5" text-anchor="middle">-10</text>
<text x="685.4" y="904.5" font-size="29.5" text-anchor="middle">-20</text>
<text x="834.6" y="904.5" font-size="29.5" text-anchor="middle">-30</text>
<text x="983.8" y="904.5" font-size="29.5" text-anchor="middle">-40</text>
<text x="688" y="951" font-size="32.5" text-anchor="middle">P-value [log]</text>
</g>
<g opacity="0.92"><line x1="1217.0" y1="431.0" x2="1177.7" y2="37.7" stroke="#dccd48" stroke-width="2.2" stroke-dasharray="11,6"/>
<polygon points="1176.8,28.2 1183.0,38.1 1172.7,39.2" fill="#dccd48"/>
<line x1="1217.0" y1="431.0" x2="1226.0" y2="38.5" stroke="#d87a34" stroke-width="2.2"/>
<polygon points="1226.2,29.0 1231.2,39.6 1220.8,39.4" fill="#d87a34"/>
<line x1="1217.0" y1="431.0" x2="1273.9" y2="42.7" stroke="#d87a34" stroke-width="2.2"/>
<polygon points="1275.3,33.3 1278.9,44.4 1268.6,42.9" fill="#d87a34"/>
<line x1="1217.0" y1="431.0" x2="1321.8" y2="53.3" stroke="#dccd48" stroke-width="2.2" stroke-dasharray="11,6"/>
<polygon points="1324.4,44.1 1326.6,55.6 1316.5,52.8" fill="#dccd48"/>
<line x1="1217.0" y1="431.0" x2="1368.6" y2="69.3" stroke="#d87a34" stroke-width="2.2"/>
<polygon points="1372.3,60.5 1373.0,72.2 1363.5,68.2" fill="#d87a34"/>
<line x1="1217.0" y1="431.0" x2="1412.6" y2="90.3" stroke="#d87a34" stroke-width="2.2"/>
<polygon points="1417.3,82.1 1416.6,93.8 1407.6,88.6" fill="#d87a34"/>
<line x1="1217.0" y1="431.0" x2="1456.5" y2="113.1" stroke="#2d6db5" stroke-width="2.2"/>
<line x1="1460.1" y1="115.8" x2="1453.0" y2="110.4" stroke="#2d6db5" stroke-width="1.4"/>
<line x1="1217.0" y1="431.0" x2="1489.9" y2="150.8" stroke="#dccd48" stroke-width="2.2"/>
<polygon points="1496.6,144.0 1493.0,155.1 1485.5,147.8" fill="#dccd48"/>
<line x1="1217.0" y1="431.0" x2="1528.8" y2="182.6" stroke="#7c7c7c" stroke-width="2.2"/>
<polygon points="1536.2,176.6 1531.2,187.2 1524.7,179.1" fill="#7c7c7c"/>
<line x1="1217.0" y1="431.0" x2="1553.6" y2="224.9" stroke="#d87a34" stroke-width="2.2"/>
<polygon points="1561.7,219.9 1555.4,229.8 1550.0,221.0" fill="#d87a34"/>
<line x1="1217.0" y1="431.0" x2="1566.9" y2="272.5" stroke="#7c7c7c" stroke-width="2.2"/>
<polygon points="1575.5,268.5 1568.1,277.6 1563.8,268.1" fill="#7c7c7c"/>
<line x1="1217.0" y1="431.0" x2="1582.1" y2="317.6" stroke="#dccd48" stroke-width="2.2"/>
<polygon points="1591.1,314.8 1582.6,322.9 1579.6,312.9" fill="#dccd48"/>
<line x1="1217.0" y1="431.0" x2="1603.9" y2="362.2" stroke="#d87a34" stroke-width="2.2"/>
<polygon points="1613.2,360.5 1603.8,367.5 1602.0,357.2" fill="#d87a34"/>
<line x1="1217.0" y1="431.0" x2="1613.7" y2="410.5" stroke="#dccd48" stroke-width="2.2"/>
<line x1="1614.0" y1="415.0" x2="1613.5" y2="406.0" stroke="#dccd48" stroke-width="1.4"/>
<line x1="1217.0" y1="431.0" x2="1614.2" y2="459.7" stroke="#dccd48" stroke-width="2.2"/>
<line x1="1613.9" y1="464.2" x2="1614.5" y2="455.2" stroke="#dccd48" stroke-width="1.4"/>
<line x1="1217.0" y1="431.0" x2="1603.7" y2="507.9" stroke="#d87a34" stroke-width="2.2"/>
<polygon points="1613.0,509.8 1601.7,512.8 1603.7,502.6" fill="#d87a34"/>
<line x1="1217.0" y1="431.0" x2="1597.0" y2="556.0" stroke="#dccd48" stroke-width="2.2"/>
<line x1="1595.5" y1="560.3" x2="1598.4" y2="551.7" stroke="#dccd48" stroke-width="1.4"/>
<line x1="1217.0" y1="431.0" x2="1572.4" y2="599.6" stroke="#7c7c7c" stroke-width="2.2"/>
<polygon points="1581.0,603.6 1569.3,603.8 1573.8,594.4" fill="#7c7c7c"/>
<line x1="1217.0" y1="431.0" x2="1550.0" y2="643.4" stroke="#d87a34" stroke-width="2.2"/>
<polygon points="1558.0,648.5 1546.3,647.2 1551.9,638.4" fill="#d87a34"/>
<line x1="1217.0" y1="431.0" x2="1523.8" y2="683.3" stroke="#d87a34" stroke-width="2.2"/>
<polygon points="1531.1,689.4 1519.7,686.7 1526.3,678.7" fill="#d87a34"/>
<line x1="1217.0" y1="431.0" x2="1490.5" y2="719.6" stroke="#d87a34" stroke-width="2.2"/>
<polygon points="1497.0,726.5 1486.0,722.4 1493.6,715.3" fill="#d87a34"/>
<line x1="1217.0" y1="431.0" x2="1454.0" y2="753.1" stroke="#dccd48" stroke-width="2.2"/>
<line x1="1450.3" y1="755.7" x2="1457.6" y2="750.4" stroke="#dccd48" stroke-width="1.4"/>
<line x1="1217.0" y1="431.0" x2="1412.7" y2="779.4" stroke="#d87a34" stroke-width="2.2"/>
<polygon points="1417.3,787.6 1407.6,781.0 1416.7,775.9" fill="#d87a34"/>
<line x1="1217.0" y1="431.0" x2="1368.7" y2="800.2" stroke="#d87a34" stroke-width="2.2"/>
<polygon points="1372.3,809.0 1363.5,801.3 1373.1,797.3" fill="#d87a34"/>
<line x1="1217.0" y1="431.0" x2="1321.5" y2="813.6" stroke="#d87a34" stroke-width="2.2"/>
<polygon points="1324.0,822.7 1316.2,814.0 1326.2,811.2" fill="#d87a34"/>
<line x1="1217.0" y1="431.0" x2="1275.7" y2="831.9" stroke="#dccd48" stroke-width="2.2"/>
<line x1="1271.2" y1="832.5" x2="1280.1" y2="831.2" stroke="#dccd48" stroke-width="1.4"/>
<line x1="1217.0" y1="431.0" x2="1225.1" y2="820.0" stroke="#d87a34" stroke-width="2.2"/>
<polygon points="1225.3,829.5 1219.9,819.1 1230.3,818.9" fill="#d87a34"/>
<line x1="1217.0" y1="431.0" x2="1177.9" y2="830.3" stroke="#d87a34" stroke-width="2.2"/>
<polygon points="1177.0,839.8 1172.8,828.8 1183.2,829.8" fill="#d87a34"/>
<line x1="1217.0" y1="431.0" x2="1129.0" y2="823.0" stroke="#d87a34" stroke-width="2.2"/>
<polygon points="1126.9,832.3 1124.1,820.9 1134.3,823.2" fill="#d87a34"/>
<line x1="1217.0" y1="431.0" x2="1082.6" y2="809.5" stroke="#dccd48" stroke-width="2.2"/>
<polygon points="1079.4,818.4 1078.0,806.8 1087.8,810.3" fill="#dccd48"/>
<line x1="1217.0" y1="431.0" x2="1036.2" y2="793.5" stroke="#dccd48" stroke-width="2.2"/>
<line x1="1032.2" y1="791.5" x2="1040.2" y2="795.5" stroke="#dccd48" stroke-width="1.4"/>
<line x1="1217.0" y1="431.0" x2="994.0" y2="766.2" stroke="#d87a34" stroke-width="2.2"/>
<polygon points="988.7,774.1 990.2,762.5 998.9,768.3" fill="#d87a34"/>
<line x1="1217.0" y1="431.0" x2="957.7" y2="733.7" stroke="#d87a34" stroke-width="2.2"/>
<polygon points="951.5,740.9 954.4,729.5 962.3,736.3" fill="#d87a34"/>
<line x1="1217.0" y1="431.0" x2="920.5" y2="702.5" stroke="#d87a34" stroke-width="2.2"/>
<polygon points="913.5,708.9 917.7,698.0 924.7,705.6" fill="#d87a34"/>
<line x1="1217.0" y1="431.0" x2="886.4" y2="666.9" stroke="#2d6db5" stroke-width="2.2"/>
<line x1="883.8" y1="663.3" x2="889.1" y2="670.6" stroke="#2d6db5" stroke-width="1.4"/>
<line x1="1217.0" y1="431.0" x2="864.5" y2="622.3" stroke="#d87a34" stroke-width="2.2"/>
<polygon points="856.1,626.9 862.9,617.3 867.8,626.4" fill="#d87a34"/>
<line x1="1217.0" y1="431.0" x2="843.1" y2="578.4" stroke="#d87a34" stroke-width="2.2"/>
<polygon points="834.3,581.9 842.1,573.2 845.9,582.9" fill="#d87a34"/>
<line x1="1217.0" y1="431.0" x2="828.7" y2="531.8" stroke="#d87a34" stroke-width="2.2"/>
<polygon points="819.5,534.2 828.4,526.6 831.0,536.6" fill="#d87a34"/>
<line x1="1217.0" y1="431.0" x2="819.7" y2="484.1" stroke="#d87a34" stroke-width="2.2"/>
<polygon points="810.3,485.3 820.0,478.8 821.4,489.1" fill="#d87a34"/>
<line x1="1217.0" y1="431.0" x2="808.1" y2="437.2" stroke="#dccd48" stroke-width="2.2"/>
<line x1="1217.0" y1="431.0" x2="817.3" y2="385.8" stroke="#d87a34" stroke-width="2.2"/>
<polygon points="807.9,384.8 818.9,380.8 817.8,391.1" fill="#d87a34"/>
<line x1="1217.0" y1="431.0" x2="823.6" y2="336.9" stroke="#2d6db5" stroke-width="2.2"/>
<line x1="824.7" y1="332.5" x2="822.6" y2="341.2" stroke="#2d6db5" stroke-width="1.4"/>
<line x1="1217.0" y1="431.0" x2="836.9" y2="289.0" stroke="#d87a34" stroke-width="2.2"/>
<polygon points="828.0,285.7 839.7,284.5 836.0,294.3" fill="#d87a34"/>
<line x1="1217.0" y1="431.0" x2="864.7" y2="247.8" stroke="#dccd48" stroke-width="2.2"/>
<polygon points="856.2,243.4 868.0,243.6 863.2,252.8" fill="#dccd48"/>
<line x1="1217.0" y1="431.0" x2="890.4" y2="205.7" stroke="#dccd48" stroke-width="2.2"/>
<polygon points="882.6,200.3 894.2,202.0 888.3,210.6" fill="#dccd48"/>
<line x1="1217.0" y1="431.0" x2="912.6" y2="160.3" stroke="#dccd48" stroke-width="2.2"/>
<line x1="915.6" y1="156.9" x2="909.6" y2="163.6" stroke="#dccd48" stroke-width="1.4"/>
<line x1="1217.0" y1="431.0" x2="951.0" y2="129.1" stroke="#dccd48" stroke-width="2.2"/>
<line x1="954.4" y1="126.1" x2="947.7" y2="132.0" stroke="#dccd48" stroke-width="1.4"/>
<line x1="1217.0" y1="431.0" x2="994.9" y2="105.2" stroke="#dccd48" stroke-width="2.2"/>
<line x1="998.7" y1="102.7" x2="991.2" y2="107.8" stroke="#dccd48" stroke-width="1.4"/>
<line x1="1217.0" y1="431.0" x2="1036.7" y2="75.9" stroke="#7c7c7c" stroke-width="2.2"/>
<polygon points="1032.4,67.5 1041.7,74.5 1032.5,79.2" fill="#7c7c7c"/>
<line x1="1217.0" y1="431.0" x2="1081.1" y2="56.9" stroke="#d87a34" stroke-width="2.2"/>
<polygon points="1077.9,48.0 1086.4,56.1 1076.6,59.6" fill="#d87a34"/>
<line x1="1217.0" y1="431.0" x2="1128.6" y2="46.7" stroke="#d87a34" stroke-width="2.2"/>
<polygon points="1126.5,37.4 1133.9,46.5 1123.8,48.8" fill="#d87a34"/></g>
<polygon points="1163.8,6.2 1187.8,6.2 1175.8,30.2" fill="#80e080" stroke="#8cb88c" stroke-width="0.9"/>
<polygon points="1214.3,5.0 1238.7,5.0 1238.7,29.0 1214.3,29.0" fill="#f8c8cc" stroke="#b89ca0" stroke-width="0.9"/>
<circle cx="1277.1" cy="21" r="12.4" fill="#f4aab0" stroke="#b89ca0" stroke-width="0.9"/>
<ellipse cx="1327.6" cy="32.4" rx="25.7" ry="11.8" fill="#c6f0c6" stroke="#8cb88c" stroke-width="0.9"/>
<circle cx="1377.1" cy="49.1" r="12.4" fill="#f8d0d4" stroke="#b89ca0" stroke-width="0.9"/>
<circle cx="1423.3" cy="71.7" r="12" fill="#f8d0d4" stroke="#b89ca0" stroke-width="0.9"/>
<polygon points="1465.8,75.0 1475.0,100.8 1465.8,126.6 1456.6,100.8" fill="#c6f0c6" stroke="#8cb88c" stroke-width="0.9"/>
<circle cx="1505.3" cy="135" r="12.5" fill="#80e080" stroke="#8cb88c" stroke-width="0.9"/>
<polygon points="1528.4,161.3 1552.6,161.3 1540.5,185.1" fill="#c6f0c6" stroke="#8cb88c" stroke-width="0.9"/>
<polygon points="1569.7,190.0 1579.7,215.0 1569.7,240.0 1559.7,215.0" fill="#f8d0d4" stroke="#b89ca0" stroke-width="0.9"/>
<ellipse cx="1593.7" cy="260.3" rx="25" ry="12" fill="#f4c0c4" stroke="#b89ca0" stroke-width="0.9"/>
<ellipse cx="1612.7" cy="308.1" rx="26" ry="12" fill="#c6f0c6" stroke="#8cb88c" stroke-width="0.9"/>
<ellipse cx="1625.2" cy="358.4" rx="12" ry="26" fill="#fadadd" stroke="#b89ca0" stroke-width="0.9"/>
<circle cx="1631.2" cy="409.6" r="12.5" fill="#f4c4c8" stroke="#b89ca0" stroke-width="0.9"/>
<ellipse cx="1631.2" cy="460.9" rx="12" ry="26" fill="#f8d0d4" stroke="#b89ca0" stroke-width="0.9"/>
<circle cx="1624.8" cy="512.1" r="12" fill="#fadadd" stroke="#b89ca0" stroke-width="0.9"/>
<circle cx="1613.1" cy="561.3" r="12" fill="#fadadd" stroke="#b89ca0" stroke-width="0.9"/>
<polygon points="1593.6,597.6 1618.6,609.6 1593.6,621.6 1568.6,609.6" fill="#fadadd" stroke="#b89ca0" stroke-width="0.9"/>
<ellipse cx="1569.5" cy="655.8" rx="12" ry="26" fill="#fadadd" stroke="#b89ca0" stroke-width="0.9"/>
<circle cx="1540.4" cy="697" r="12" fill="#f8d0d4" stroke="#b89ca0" stroke-width="0.9"/>
<circle cx="1505.3" cy="735.2" r="12" fill="#fadadd" stroke="#b89ca0" stroke-width="0.9"/>
<polygon points="1453.3,757.1 1478.5,757.1 1478.5,781.5 1453.3,781.5" fill="#f4b4bc" stroke="#b89ca0" stroke-width="0.9" stroke-dasharray="3,2"/>
<circle cx="1423.2" cy="798.1" r="12" fill="#f8d0d4" stroke="#b89ca0" stroke-width="0.9"/>
<polygon points="1365.1,809.0 1389.1,809.0 1377.1,832.4" fill="#fadadd" stroke="#b89ca0" stroke-width="0.9"/>
<polygon points="1328.0,811.8 1337.5,837.5 1328.0,863.2 1318.5,837.5" fill="#f4aab2" stroke="#b89ca0" stroke-width="0.9"/>
<ellipse cx="1278.1" cy="848.6" rx="25.7" ry="11.8" fill="#fae0e4" stroke="#b89ca0" stroke-width="0.9"/>
<polygon points="1225.8,828.3 1235.8,853.3 1225.8,878.3 1215.8,853.3" fill="#f4aab2" stroke="#b89ca0" stroke-width="0.9"/>
<circle cx="1175.8" cy="851.7" r="12" fill="#f8ccd2" stroke="#b89ca0" stroke-width="0.9"/>
<ellipse cx="1124.2" cy="844.2" rx="26" ry="12" fill="#f0a0a8" stroke="#b89ca0" stroke-width="0.9"/>
<ellipse cx="1075.3" cy="830" rx="25.8" ry="11.7" fill="#c6f0c6" stroke="#8cb88c" stroke-width="0.9"/>
<polygon points="1015.9,798.0 1040.1,798.0 1040.1,822.0 1015.9,822.0" fill="#f4a8b0" stroke="#b89ca0" stroke-width="0.9"/>
<polygon points="982.5,758.5 992.5,783.5 982.5,808.5 972.5,783.5" fill="#f4a8b0" stroke="#b89ca0" stroke-width="0.9"/>
<polygon points="929.6,740.9 953.0,740.9 953.0,764.7 929.6,764.7" fill="#fae0e4" stroke="#b89ca0" stroke-width="0.9" stroke-dasharray="3,2"/>
<circle cx="904.6" cy="717" r="12" fill="#fadadd" stroke="#b89ca0" stroke-width="0.9"/>
<circle cx="872.6" cy="676.8" r="12" fill="#80e080" stroke="#8cb88c" stroke-width="0.9"/>
<ellipse cx="844.5" cy="633.2" rx="12" ry="26" fill="#fadadd" stroke="#b89ca0" stroke-width="0.9"/>
<circle cx="823.1" cy="586.3" r="12" fill="#f8d0d4" stroke="#b89ca0" stroke-width="0.9"/>
<polygon points="795.1,525.5 819.5,525.5 819.5,549.3 795.1,549.3" fill="#fae0e4" stroke="#b89ca0" stroke-width="0.9" stroke-dasharray="3,2"/>
<circle cx="798.4" cy="486.9" r="12" fill="#fadadd" stroke="#b89ca0" stroke-width="0.9"/>
<circle cx="795.1" cy="437.4" r="12" fill="#f8d0d4" stroke="#b89ca0" stroke-width="0.9"/>
<polygon points="792.2,371.7 804.8,371.7 810.5,395.7 786.5,395.7" fill="#f08890" stroke="#b89ca0" stroke-width="0.9"/>
<circle cx="807.1" cy="332.9" r="12" fill="#80e080" stroke="#8cb88c" stroke-width="0.9"/>
<polygon points="811.7,272.6 834.7,272.6 823.2,295.2" fill="#fadadd" stroke="#b89ca0" stroke-width="0.9"/>
<polygon points="844.2,225.3 869.9,237.1 844.2,248.9 818.5,237.1" fill="#c6f0c6" stroke="#8cb88c" stroke-width="0.9"/>
<circle cx="872.4" cy="193.3" r="12.4" fill="#c6f0c6" stroke="#8cb88c" stroke-width="0.9"/>
<polygon points="893.0,141.3 916.6,141.3 904.8,165.3" fill="#fadadd" stroke="#b89ca0" stroke-width="0.9"/>
<polygon points="941.3,92.3 950.3,118.0 941.3,143.7 932.3,118.0" fill="#fadadd" stroke="#b89ca0" stroke-width="0.9"/>
<ellipse cx="982.3" cy="86.7" rx="11.8" ry="26" fill="#f8d0d4" stroke="#b89ca0" stroke-width="0.9"/>
<circle cx="1027.6" cy="58.1" r="10.5" fill="#f8d0d4" stroke="#b89ca0" stroke-width="0.9"/>
<circle cx="1074.3" cy="38.1" r="10.5" fill="#f8d0d4" stroke="#b89ca0" stroke-width="0.9"/>
<circle cx="1123.8" cy="25.7" r="12" fill="#f8d0d4" stroke="#b89ca0" stroke-width="0.9"/>
<ellipse cx="1216.8" cy="430.8" rx="42" ry="23.5" fill="#ee7f32" stroke="#b35a1f" stroke-width="2"/>
<g font-family="Liberation Sans, Arial, sans-serif" font-size="12" fill="#2a2a2a" text-anchor="middle"><text x="1175.8" y="22.4">DDR2</text>
<text x="1226.5" y="21.2">DKK3</text>
<text x="1277.1" y="25.2">EMILIN1</text>
<text x="1327.6" y="36.6">EZH2</text>
<text x="1377.1" y="53.3">FAT4</text>
<text x="1423.3" y="75.9">FBN2</text>
<text x="1465.8" y="105.0">FBXL14</text>
<text x="1505.3" y="139.2">FCGBP</text>
<text x="1540.5" y="177.4">FGFR2</text>
<text x="1569.7" y="219.2">FN1</text>
<text x="1593.7" y="264.5">FOSL1</text>
<text x="1612.7" y="312.3">FOXO1</text>
<text x="1625.2" y="362.6">GPC1</text>
<text x="1631.2" y="413.8">IGFBP5</text>
<text x="1631.2" y="465.1">ITGB3</text>
<text x="1624.8" y="516.3">ITGB5</text>
<text x="1613.1" y="565.5">MFGE8</text>
<text x="1593.6" y="613.8">MMP2</text>
<text x="1569.5" y="660.0">MRC2</text>
<text x="1540.4" y="701.2">MXRA8</text>
<text x="1505.3" y="739.4">OLFML3</text>
<text x="1465.9" y="773.5">OSGIN1</text>
<text x="1423.2" y="802.3">PCOLCE</text>
<text x="1377.1" y="824.9">PDGFRA</text>
<text x="1328" y="841.7">PXDN</text>
<text x="1278.1" y="852.8">RELB</text>
<text x="1225.8" y="857.5">RHOC</text>
<text x="1175.8" y="855.9">SDC3</text>
<text x="1124.2" y="848.4">SNAI1</text>
<text x="1075.3" y="834.2">SNAI2</text>
<text x="1028" y="814.2">SPP1</text>
<text x="982.5" y="787.7">ST8SIA2</text>
<text x="941.3" y="757.0">TGFB1</text>
<text x="904.6" y="721.2">THBS2</text>
<text x="872.6" y="681.0">TIMP3</text>
<text x="844.5" y="637.4">UNC5B</text>
<text x="823.1" y="590.5">VCAN</text>
<text x="807.3" y="541.6">VEGFA</text>
<text x="798.4" y="491.1">ZYX</text>
<text x="795.1" y="441.6">ACTA2</text>
<text x="798.5" y="387.9">APOD</text>
<text x="807.1" y="337.1">ASPM</text>
<text x="823.2" y="288.1">AXL</text>
<text x="844.2" y="241.3">CASP3</text>
<text x="872.4" y="197.5">CCDC3</text>
<text x="904.8" y="157.5">CDKN1A</text>
<text x="941.3" y="122.2">CHI3L1</text>
<text x="982.3" y="90.9">CLDN4</text>
<text x="1027.6" y="62.3">COL1A1</text>
<text x="1074.3" y="42.3">COL6A1</text>
<text x="1123.8" y="29.9">DCN</text></g>
<text x="1220" y="451.3" font-family="Liberation Sans, Arial, sans-serif" font-weight="bold" font-size="37" text-anchor="middle" fill="#000">TWIST1</text>
<text x="797" y="50" font-family="Liberation Sans, Arial, sans-serif" font-weight="bold" font-size="49" fill="#000">e</text>
<path d="M1692 225.8 H1665.4 V649.4 H1906.5 V225.8 H1884" fill="none" stroke="#000" stroke-width="2.2"/>
<text x="1695.4" y="233.6" font-family="Liberation Sans, Arial, sans-serif" font-weight="bold" fill="#000" font-size="22" textLength="185" lengthAdjust="spacingAndGlyphs">Prediction Legend</text>
<text x="1680.7" y="266.1" font-family="Liberation Sans, Arial, sans-serif" font-weight="bold" fill="#000" font-size="17.5" textLength="40.5" lengthAdjust="spacingAndGlyphs">More</text>
<text x="1755.3" y="266.1" font-family="Liberation Sans, Arial, sans-serif" font-weight="bold" fill="#000" font-size="17.5" textLength="64" lengthAdjust="spacingAndGlyphs">extreme</text>
<text x="1858.2" y="266.1" font-family="Liberation Sans, Arial, sans-serif" font-weight="bold" fill="#000" font-size="17.5" textLength="37.2" lengthAdjust="spacingAndGlyphs">Less</text>
<text x="1680.7" y="385.8" font-family="Liberation Sans, Arial, sans-serif" font-weight="bold" fill="#000" font-size="17.5" textLength="40.5" lengthAdjust="spacingAndGlyphs">More</text>
<text x="1746.5" y="385.8" font-family="Liberation Sans, Arial, sans-serif" font-weight="bold" fill="#000" font-size="17.5" textLength="87.1" lengthAdjust="spacingAndGlyphs">confidence</text>
<text x="1859.2" y="385.8" font-family="Liberation Sans, Arial, sans-serif" font-weight="bold" fill="#000" font-size="17.5" textLength="36.8" lengthAdjust="spacingAndGlyphs">Less</text>
<ellipse cx="1693.8" cy="292.8" rx="20.8" ry="14.2" fill="#ff0000" stroke="#333" stroke-width="1"/>
<ellipse cx="1877" cy="292.8" rx="20.8" ry="14.2" fill="#ffbfc0" stroke="#333" stroke-width="1"/>
<text x="1733.2" y="302.3" font-family="Liberation Sans, Arial, sans-serif" font-weight="bold" fill="#000" font-size="21" textLength="103.6" lengthAdjust="spacingAndGlyphs">Upregulated</text>
<ellipse cx="1693.8" cy="330.2" rx="20.8" ry="14.2" fill="#00b04c" stroke="#333" stroke-width="1"/>
<ellipse cx="1877" cy="330.2" rx="20.8" ry="14.2" fill="#c6e0b4" stroke="#333" stroke-width="1"/>
<text x="1723.4" y="338.6" font-family="Liberation Sans, Arial, sans-serif" font-weight="bold" fill="#000" font-size="21" textLength="128.9" lengthAdjust="spacingAndGlyphs">Downregulated</text>
<ellipse cx="1693.8" cy="410.4" rx="20.8" ry="14.2" fill="#ed7d31" stroke="#333" stroke-width="1"/>
<ellipse cx="1877" cy="410.4" rx="20.8" ry="14.2" fill="#f8cbad" stroke="#333" stroke-width="1"/>
<text x="1745.2" y="418.4" font-family="Liberation Sans, Arial, sans-serif" font-weight="bold" fill="#000" font-size="21" textLength="84" lengthAdjust="spacingAndGlyphs">Activation</text>
<ellipse cx="1693.8" cy="449.5" rx="20.8" ry="14.2" fill="#2e75b6" stroke="#333" stroke-width="1"/>
<ellipse cx="1877" cy="449.5" rx="20.8" ry="14.2" fill="#bdd7ee" stroke="#333" stroke-width="1"/>
<text x="1748.6" y="457.2" font-family="Liberation Sans, Arial, sans-serif" font-weight="bold" fill="#000" font-size="21" textLength="78.5" lengthAdjust="spacingAndGlyphs">Inhibition</text>
<text x="1737.4" y="501.3" font-family="Liberation Sans, Arial, sans-serif" font-weight="bold" fill="#000" font-size="21" textLength="116.2" lengthAdjust="spacingAndGlyphs">Relationships</text>
<rect x="1675" y="523.1" width="32" height="2.6" fill="#ed7d31"/>
<text x="1715.4" y="530.7" font-family="Liberation Sans, Arial, sans-serif" font-weight="bold" fill="#000" font-size="20.5" textLength="159.6" lengthAdjust="spacingAndGlyphs">Leads to activation</text>
<rect x="1675" y="554.2" width="32" height="2.6" fill="#4472c4"/>
<text x="1715.4" y="562.9" font-family="Liberation Sans, Arial, sans-serif" font-weight="bold" fill="#000" font-size="20.5" textLength="156.4" lengthAdjust="spacingAndGlyphs">Leads to inhibition</text>
<rect x="1675" y="588.2" width="32" height="2.6" fill="#ffc000"/>
<text x="1715.4" y="592.7" font-family="Liberation Sans, Arial, sans-serif" font-weight="bold" fill="#000" font-size="20.5" textLength="178.5" lengthAdjust="spacingAndGlyphs">Inconsistent findings</text>
<rect x="1675" y="617.7" width="32" height="2.6" fill="#7f7f7f"/>
<text x="1715.4" y="626.3" font-family="Liberation Sans, Arial, sans-serif" font-weight="bold" fill="#000" font-size="20.5" textLength="165.9" lengthAdjust="spacingAndGlyphs">Effect not predicted</text>
<polygon points="560.0,1103.0 628.0,1110.0 644.0,1125.0 651.0,1148.5 658.0,1194.0 669.6,1308.0 678.7,1422.5 688.0,1536.7 691.5,1562.0 692.0,1562.0 689.5,1514.0 686.7,1422.5 678.7,1308.0 667.0,1194.0 661.0,1150.0 655.0,1116.5 646.0,1103.0" fill="#a4a4a4"/>
<polygon points="738.0,1103.0 731.3,1114.0 724.4,1148.5 717.6,1194.0 706.0,1308.0 699.3,1422.5 692.4,1559.6 693.0,1562.0 697.0,1536.0 706.0,1422.5 715.3,1308.0 727.5,1194.0 735.0,1148.5 742.0,1120.0 760.0,1103.0" fill="#a4a4a4"/>
<rect x="520" y="1102.5" width="128" height="4" fill="#a4a4a4"/>
<rect x="734" y="1102.5" width="266" height="4.5" fill="#a4a4a4"/>
<polygon points="569.7,1104.0 614.4,1108.6 631.4,1113.2 636.3,1117.8 641.2,1122.4 644.6,1127.0 646.0,1131.6 647.3,1136.2 648.7,1140.8 650.1,1145.4 651.2,1150.0 651.9,1154.6 652.6,1159.2 653.4,1163.8 654.1,1168.4 654.8,1173.0 655.5,1177.6 656.2,1182.2 656.9,1186.8 657.6,1191.4 658.2,1196.0 658.7,1200.6 659.1,1205.2 659.6,1209.8 660.1,1214.4 660.5,1219.0 661.0,1223.6 661.5,1228.2 661.9,1232.8 662.4,1237.4 662.9,1242.0 663.4,1246.6 663.8,1251.2 664.3,1255.8 664.8,1260.4 665.2,1265.0 665.7,1269.6 666.2,1274.2 666.6,1278.8 667.1,1283.4 667.6,1288.0 668.0,1292.6 668.5,1297.2 669.0,1301.8 669.4,1306.4 669.8,1311.0 670.2,1315.6 670.6,1320.2 670.9,1324.8 671.3,1329.4 671.7,1334.0 672.0,1338.6 672.4,1343.2 672.8,1347.8 673.1,1352.4 673.5,1357.0 673.9,1361.6 674.2,1366.2 674.6,1370.8 675.0,1375.4 675.3,1380.0 675.7,1384.6 676.1,1389.2 676.4,1393.8 676.8,1398.4 677.2,1403.0 677.5,1407.6 677.9,1412.2 678.2,1416.8 678.6,1421.4 679.0,1426.0 679.4,1430.6 679.7,1435.2 680.1,1439.8 680.5,1444.4 680.9,1449.0 681.2,1453.6 681.6,1458.2 682.0,1462.8 682.4,1467.4 682.7,1472.0 683.1,1476.6 683.5,1481.2 683.9,1485.8 684.2,1490.4 684.6,1495.0 685.0,1499.6 685.4,1504.2 685.7,1508.8 686.1,1513.4 686.5,1518.0 686.9,1522.6 687.2,1527.2 687.6,1531.8 688.0,1536.4 688.6,1541.0 689.2,1545.6 689.9,1550.2 690.5,1554.8 691.1,1559.4 690.7,1559.4 689.9,1554.8 689.0,1550.2 688.2,1545.6 687.4,1541.0 686.6,1536.4 686.0,1531.8 685.4,1527.2 684.8,1522.6 684.2,1518.0 683.5,1513.4 682.9,1508.8 682.3,1504.2 681.7,1499.6 681.2,1495.0 680.6,1490.4 680.1,1485.8 679.6,1481.2 679.0,1476.6 678.5,1472.0 678.0,1467.4 677.4,1462.8 676.9,1458.2 676.4,1453.6 675.8,1449.0 675.3,1444.4 674.8,1439.8 674.2,1435.2 673.7,1430.6 673.2,1426.0 672.7,1421.4 672.2,1416.8 671.7,1412.2 671.2,1407.6 670.7,1403.0 670.2,1398.4 669.7,1393.8 669.2,1389.2 668.7,1384.6 668.2,1380.0 667.7,1375.4 667.2,1370.8 666.7,1366.2 666.2,1361.6 665.7,1357.0 665.2,1352.4 664.7,1347.8 664.2,1343.2 663.7,1338.6 663.2,1334.0 662.8,1329.4 662.3,1324.8 661.8,1320.2 661.3,1315.6 660.8,1311.0 660.2,1306.4 659.5,1301.8 658.8,1297.2 658.1,1292.6 657.4,1288.0 656.7,1283.4 656.0,1278.8 655.3,1274.2 654.6,1269.6 653.9,1265.0 653.2,1260.4 652.5,1255.8 651.8,1251.2 651.1,1246.6 650.3,1242.0 649.6,1237.4 648.9,1232.8 648.2,1228.2 647.5,1223.6 646.8,1219.0 646.1,1214.4 645.4,1209.8 644.7,1205.2 644.0,1200.6 643.3,1196.0 642.2,1191.4 640.8,1186.8 639.3,1182.2 637.9,1177.6 636.5,1173.0 635.1,1168.4 633.7,1163.8 632.2,1159.2 630.8,1154.6 629.4,1150.0 627.6,1145.4 625.7,1140.8 623.8,1136.2 621.9,1131.6 619.9,1127.0 615.6,1122.4 609.8,1117.8 604.0,1113.2 589.2,1108.6 553.5,1104.0" fill="#a4a4a4" fill-opacity="0.68"/>
<polygon points="758.9,1104.0 754.1,1108.6 749.2,1113.2 744.3,1117.8 741.4,1122.4 740.3,1127.0 739.2,1131.6 738.0,1136.2 736.9,1140.8 735.8,1145.4 734.8,1150.0 734.0,1154.6 733.2,1159.2 732.5,1163.8 731.7,1168.4 731.0,1173.0 730.2,1177.6 729.4,1182.2 728.7,1186.8 727.9,1191.4 727.3,1196.0 726.8,1200.6 726.3,1205.2 725.8,1209.8 725.3,1214.4 724.8,1219.0 724.3,1223.6 723.8,1228.2 723.3,1232.8 722.9,1237.4 722.4,1242.0 721.9,1246.6 721.4,1251.2 720.9,1255.8 720.4,1260.4 719.9,1265.0 719.4,1269.6 718.9,1274.2 718.4,1278.8 717.9,1283.4 717.4,1288.0 716.9,1292.6 716.5,1297.2 716.0,1301.8 715.5,1306.4 715.1,1311.0 714.7,1315.6 714.3,1320.2 713.9,1324.8 713.6,1329.4 713.2,1334.0 712.8,1338.6 712.4,1343.2 712.1,1347.8 711.7,1352.4 711.3,1357.0 710.9,1361.6 710.6,1366.2 710.2,1370.8 709.8,1375.4 709.5,1380.0 709.1,1384.6 708.7,1389.2 708.3,1393.8 708.0,1398.4 707.6,1403.0 707.2,1407.6 706.8,1412.2 706.5,1416.8 706.1,1421.4 705.7,1426.0 705.4,1430.6 705.0,1435.2 704.6,1439.8 704.3,1444.4 703.9,1449.0 703.5,1453.6 703.2,1458.2 702.8,1462.8 702.4,1467.4 702.1,1472.0 701.7,1476.6 701.3,1481.2 701.0,1485.8 700.6,1490.4 700.3,1495.0 699.9,1499.6 699.5,1504.2 699.2,1508.8 698.8,1513.4 698.4,1518.0 698.1,1522.6 697.7,1527.2 697.3,1531.8 696.9,1536.4 696.2,1541.0 695.5,1545.6 694.8,1550.2 694.1,1554.8 693.4,1559.4 693.7,1559.4 694.6,1554.8 695.5,1550.2 696.3,1545.6 697.2,1541.0 698.1,1536.4 698.7,1531.8 699.3,1527.2 699.9,1522.6 700.5,1518.0 701.1,1513.4 701.7,1508.8 702.3,1504.2 702.9,1499.6 703.5,1495.0 704.1,1490.4 704.7,1485.8 705.3,1481.2 705.9,1476.6 706.5,1472.0 707.1,1467.4 707.7,1462.8 708.3,1458.2 708.9,1453.6 709.5,1449.0 710.1,1444.4 710.7,1439.8 711.3,1435.2 711.9,1430.6 712.4,1426.0 713.0,1421.4 713.6,1416.8 714.2,1412.2 714.8,1407.6 715.4,1403.0 716.0,1398.4 716.6,1393.8 717.2,1389.2 717.8,1384.6 718.4,1380.0 719.0,1375.4 719.6,1370.8 720.2,1366.2 720.8,1361.6 721.4,1357.0 722.0,1352.4 722.6,1347.8 723.2,1343.2 723.8,1338.6 724.4,1334.0 725.0,1329.4 725.5,1324.8 726.1,1320.2 726.7,1315.6 727.3,1311.0 727.9,1306.4 728.6,1301.8 729.2,1297.2 729.8,1292.6 730.4,1288.0 731.0,1283.4 731.7,1278.8 732.3,1274.2 732.9,1269.6 733.5,1265.0 734.2,1260.4 734.8,1255.8 735.4,1251.2 736.0,1246.6 736.6,1242.0 737.3,1237.4 737.9,1232.8 738.5,1228.2 739.1,1223.6 739.7,1219.0 740.4,1214.4 741.0,1209.8 741.6,1205.2 742.2,1200.6 742.9,1196.0 744.1,1191.4 745.8,1186.8 747.4,1182.2 749.1,1177.6 750.8,1173.0 752.5,1168.4 754.2,1163.8 755.8,1159.2 757.5,1154.6 759.2,1150.0 762.1,1145.4 765.6,1140.8 769.1,1136.2 772.6,1131.6 776.2,1127.0 779.7,1122.4 786.7,1117.8 797.5,1113.2 808.4,1108.6 819.2,1104.0" fill="#a4a4a4" fill-opacity="0.544"/>
<polygon points="553.5,1104.0 589.2,1108.6 604.0,1113.2 609.8,1117.8 615.6,1122.4 619.9,1127.0 621.9,1131.6 623.8,1136.2 625.7,1140.8 627.6,1145.4 629.4,1150.0 630.8,1154.6 632.2,1159.2 633.7,1163.8 635.1,1168.4 636.5,1173.0 637.9,1177.6 639.3,1182.2 640.8,1186.8 642.2,1191.4 643.3,1196.0 644.0,1200.6 644.7,1205.2 645.4,1209.8 646.1,1214.4 646.8,1219.0 647.5,1223.6 648.2,1228.2 648.9,1232.8 649.6,1237.4 650.3,1242.0 651.1,1246.6 651.8,1251.2 652.5,1255.8 653.2,1260.4 653.9,1265.0 654.6,1269.6 655.3,1274.2 656.0,1278.8 656.7,1283.4 657.4,1288.0 658.1,1292.6 658.8,1297.2 659.5,1301.8 660.2,1306.4 660.8,1311.0 661.3,1315.6 661.8,1320.2 662.3,1324.8 662.8,1329.4 663.2,1334.0 663.7,1338.6 664.2,1343.2 664.7,1347.8 665.2,1352.4 665.7,1357.0 666.2,1361.6 666.7,1366.2 667.2,1370.8 667.7,1375.4 668.2,1380.0 668.7,1384.6 669.2,1389.2 669.7,1393.8 670.2,1398.4 670.7,1403.0 671.2,1407.6 671.7,1412.2 672.2,1416.8 672.7,1421.4 673.2,1426.0 673.7,1430.6 674.2,1435.2 674.8,1439.8 675.3,1444.4 675.8,1449.0 676.4,1453.6 676.9,1458.2 677.4,1462.8 678.0,1467.4 678.5,1472.0 679.0,1476.6 679.6,1481.2 680.1,1485.8 680.6,1490.4 681.2,1495.0 681.7,1499.6 682.3,1504.2 682.9,1508.8 683.5,1513.4 684.2,1518.0 684.8,1522.6 685.4,1527.2 686.0,1531.8 686.6,1536.4 687.4,1541.0 688.2,1545.6 689.0,1550.2 689.9,1554.8 690.7,1559.4 690.2,1559.4 689.2,1554.8 688.2,1550.2 687.2,1545.6 686.2,1541.0 685.3,1536.4 684.4,1531.8 683.6,1527.2 682.7,1522.6 681.9,1518.0 681.0,1513.4 680.1,1508.8 679.3,1504.2 678.4,1499.6 677.8,1495.0 677.1,1490.4 676.4,1485.8 675.7,1481.2 675.0,1476.6 674.3,1472.0 673.6,1467.4 672.9,1462.8 672.2,1458.2 671.5,1453.6 670.8,1449.0 670.1,1444.4 669.5,1439.8 668.8,1435.2 668.1,1430.6 667.4,1426.0 666.7,1421.4 666.1,1416.8 665.5,1412.2 664.8,1407.6 664.2,1403.0 663.6,1398.4 663.0,1393.8 662.3,1389.2 661.7,1384.6 661.1,1380.0 660.5,1375.4 659.8,1370.8 659.2,1366.2 658.6,1361.6 658.0,1357.0 657.3,1352.4 656.7,1347.8 656.1,1343.2 655.5,1338.6 654.8,1334.0 654.2,1329.4 653.6,1324.8 653.0,1320.2 652.3,1315.6 651.7,1311.0 651.0,1306.4 650.0,1301.8 649.1,1297.2 648.2,1292.6 647.2,1288.0 646.3,1283.4 645.3,1278.8 644.4,1274.2 643.5,1269.6 642.5,1265.0 641.6,1260.4 640.6,1255.8 639.7,1251.2 638.8,1246.6 637.8,1242.0 636.9,1237.4 635.9,1232.8 635.0,1228.2 634.0,1223.6 633.1,1219.0 632.2,1214.4 631.2,1209.8 630.3,1205.2 629.3,1200.6 628.4,1196.0 626.8,1191.4 624.7,1186.8 622.5,1182.2 620.4,1177.6 618.2,1173.0 616.1,1168.4 614.0,1163.8 611.8,1159.2 609.7,1154.6 607.5,1150.0 605.2,1145.4 602.7,1140.8 600.2,1136.2 597.8,1131.6 595.3,1127.0 590.1,1122.4 583.4,1117.8 576.7,1113.2 563.9,1108.6 537.4,1104.0" fill="#a4a4a4" fill-opacity="0.42"/>
<polygon points="819.2,1104.0 808.4,1108.6 797.5,1113.2 786.7,1117.8 779.7,1122.4 776.2,1127.0 772.6,1131.6 769.1,1136.2 765.6,1140.8 762.1,1145.4 759.2,1150.0 757.5,1154.6 755.8,1159.2 754.2,1163.8 752.5,1168.4 750.8,1173.0 749.1,1177.6 747.4,1182.2 745.8,1186.8 744.1,1191.4 742.9,1196.0 742.2,1200.6 741.6,1205.2 741.0,1209.8 740.4,1214.4 739.7,1219.0 739.1,1223.6 738.5,1228.2 737.9,1232.8 737.3,1237.4 736.6,1242.0 736.0,1246.6 735.4,1251.2 734.8,1255.8 734.2,1260.4 733.5,1265.0 732.9,1269.6 732.3,1274.2 731.7,1278.8 731.0,1283.4 730.4,1288.0 729.8,1292.6 729.2,1297.2 728.6,1301.8 727.9,1306.4 727.3,1311.0 726.7,1315.6 726.1,1320.2 725.5,1324.8 725.0,1329.4 724.4,1334.0 723.8,1338.6 723.2,1343.2 722.6,1347.8 722.0,1352.4 721.4,1357.0 720.8,1361.6 720.2,1366.2 719.6,1370.8 719.0,1375.4 718.4,1380.0 717.8,1384.6 717.2,1389.2 716.6,1393.8 716.0,1398.4 715.4,1403.0 714.8,1407.6 714.2,1412.2 713.6,1416.8 713.0,1421.4 712.4,1426.0 711.9,1430.6 711.3,1435.2 710.7,1439.8 710.1,1444.4 709.5,1449.0 708.9,1453.6 708.3,1458.2 707.7,1462.8 707.1,1467.4 706.5,1472.0 705.9,1476.6 705.3,1481.2 704.7,1485.8 704.1,1490.4 703.5,1495.0 702.9,1499.6 702.3,1504.2 701.7,1508.8 701.1,1513.4 700.5,1518.0 699.9,1522.6 699.3,1527.2 698.7,1531.8 698.1,1536.4 697.2,1541.0 696.3,1545.6 695.5,1550.2 694.6,1554.8 693.7,1559.4 694.1,1559.4 695.1,1554.8 696.1,1550.2 697.1,1545.6 698.2,1541.0 699.2,1536.4 700.1,1531.8 700.9,1527.2 701.8,1522.6 702.6,1518.0 703.5,1513.4 704.3,1508.8 705.2,1504.2 706.0,1499.6 706.8,1495.0 707.6,1490.4 708.5,1485.8 709.3,1481.2 710.1,1476.6 710.9,1472.0 711.8,1467.4 712.6,1462.8 713.4,1458.2 714.2,1453.6 715.1,1449.0 715.9,1444.4 716.7,1439.8 717.5,1435.2 718.4,1430.6 719.2,1426.0 720.0,1421.4 720.8,1416.8 721.6,1412.2 722.4,1407.6 723.3,1403.0 724.1,1398.4 724.9,1393.8 725.7,1389.2 726.5,1384.6 727.4,1380.0 728.2,1375.4 729.0,1370.8 729.8,1366.2 730.6,1361.6 731.4,1357.0 732.3,1352.4 733.1,1347.8 733.9,1343.2 734.7,1338.6 735.5,1334.0 736.3,1329.4 737.2,1324.8 738.0,1320.2 738.8,1315.6 739.6,1311.0 740.4,1306.4 741.2,1301.8 741.9,1297.2 742.7,1292.6 743.4,1288.0 744.2,1283.4 744.9,1278.8 745.7,1274.2 746.4,1269.6 747.2,1265.0 747.9,1260.4 748.7,1255.8 749.4,1251.2 750.2,1246.6 750.9,1242.0 751.7,1237.4 752.4,1232.8 753.2,1228.2 753.9,1223.6 754.7,1219.0 755.4,1214.4 756.2,1209.8 756.9,1205.2 757.7,1200.6 758.4,1196.0 760.2,1191.4 762.8,1186.8 765.4,1182.2 768.0,1177.6 770.6,1173.0 773.2,1168.4 775.8,1163.8 778.4,1159.2 781.0,1154.6 783.7,1150.0 788.5,1145.4 794.4,1140.8 800.3,1136.2 806.1,1131.6 812.0,1127.0 817.9,1122.4 829.0,1117.8 845.8,1113.2 862.7,1108.6 879.5,1104.0" fill="#a4a4a4" fill-opacity="0.336"/>
<polygon points="537.4,1104.0 563.9,1108.6 576.7,1113.2 583.4,1117.8 590.1,1122.4 595.3,1127.0 597.8,1131.6 600.2,1136.2 602.7,1140.8 605.2,1145.4 607.5,1150.0 609.7,1154.6 611.8,1159.2 614.0,1163.8 616.1,1168.4 618.2,1173.0 620.4,1177.6 622.5,1182.2 624.7,1186.8 626.8,1191.4 628.4,1196.0 629.3,1200.6 630.3,1205.2 631.2,1209.8 632.2,1214.4 633.1,1219.0 634.0,1223.6 635.0,1228.2 635.9,1232.8 636.9,1237.4 637.8,1242.0 638.8,1246.6 639.7,1251.2 640.6,1255.8 641.6,1260.4 642.5,1265.0 643.5,1269.6 644.4,1274.2 645.3,1278.8 646.3,1283.4 647.2,1288.0 648.2,1292.6 649.1,1297.2 650.0,1301.8 651.0,1306.4 651.7,1311.0 652.3,1315.6 653.0,1320.2 653.6,1324.8 654.2,1329.4 654.8,1334.0 655.5,1338.6 656.1,1343.2 656.7,1347.8 657.3,1352.4 658.0,1357.0 658.6,1361.6 659.2,1366.2 659.8,1370.8 660.5,1375.4 661.1,1380.0 661.7,1384.6 662.3,1389.2 663.0,1393.8 663.6,1398.4 664.2,1403.0 664.8,1407.6 665.5,1412.2 666.1,1416.8 666.7,1421.4 667.4,1426.0 668.1,1430.6 668.8,1435.2 669.5,1439.8 670.1,1444.4 670.8,1449.0 671.5,1453.6 672.2,1458.2 672.9,1462.8 673.6,1467.4 674.3,1472.0 675.0,1476.6 675.7,1481.2 676.4,1485.8 677.1,1490.4 677.8,1495.0 678.4,1499.6 679.3,1504.2 680.1,1508.8 681.0,1513.4 681.9,1518.0 682.7,1522.6 683.6,1527.2 684.4,1531.8 685.3,1536.4 686.2,1541.0 687.2,1545.6 688.2,1550.2 689.2,1554.8 690.2,1559.4 689.7,1559.4 688.6,1554.8 687.4,1550.2 686.2,1545.6 685.1,1541.0 683.9,1536.4 682.8,1531.8 681.7,1527.2 680.6,1522.6 679.5,1518.0 678.4,1513.4 677.3,1508.8 676.3,1504.2 675.2,1499.6 674.3,1495.0 673.5,1490.4 672.6,1485.8 671.8,1481.2 670.9,1476.6 670.1,1472.0 669.2,1467.4 668.4,1462.8 667.5,1458.2 666.7,1453.6 665.8,1449.0 665.0,1444.4 664.1,1439.8 663.3,1435.2 662.4,1430.6 661.6,1426.0 660.7,1421.4 660.0,1416.8 659.2,1412.2 658.5,1407.6 657.7,1403.0 657.0,1398.4 656.2,1393.8 655.5,1389.2 654.7,1384.6 654.0,1380.0 653.2,1375.4 652.4,1370.8 651.7,1366.2 650.9,1361.6 650.2,1357.0 649.4,1352.4 648.7,1347.8 647.9,1343.2 647.2,1338.6 646.4,1334.0 645.7,1329.4 644.9,1324.8 644.2,1320.2 643.4,1315.6 642.6,1311.0 641.7,1306.4 640.6,1301.8 639.4,1297.2 638.2,1292.6 637.0,1288.0 635.9,1283.4 634.7,1278.8 633.5,1274.2 632.3,1269.6 631.2,1265.0 630.0,1260.4 628.8,1255.8 627.6,1251.2 626.4,1246.6 625.3,1242.0 624.1,1237.4 622.9,1232.8 621.7,1228.2 620.6,1223.6 619.4,1219.0 618.2,1214.4 617.0,1209.8 615.9,1205.2 614.7,1200.6 613.5,1196.0 611.4,1191.4 608.5,1186.8 605.7,1182.2 602.8,1177.6 600.0,1173.0 597.1,1168.4 594.3,1163.8 591.4,1159.2 588.6,1154.6 585.7,1150.0 582.7,1145.4 579.7,1140.8 576.7,1136.2 573.7,1131.6 570.7,1127.0 564.5,1122.4 556.9,1117.8 549.3,1113.2 538.7,1108.6 521.2,1104.0" fill="#a4a4a4" fill-opacity="0.22"/>
<polygon points="879.5,1104.0 862.7,1108.6 845.8,1113.2 829.0,1117.8 817.9,1122.4 812.0,1127.0 806.1,1131.6 800.3,1136.2 794.4,1140.8 788.5,1145.4 783.7,1150.0 781.0,1154.6 778.4,1159.2 775.8,1163.8 773.2,1168.4 770.6,1173.0 768.0,1177.6 765.4,1182.2 762.8,1186.8 760.2,1191.4 758.4,1196.0 757.7,1200.6 756.9,1205.2 756.2,1209.8 755.4,1214.4 754.7,1219.0 753.9,1223.6 753.2,1228.2 752.4,1232.8 751.7,1237.4 750.9,1242.0 750.2,1246.6 749.4,1251.2 748.7,1255.8 747.9,1260.4 747.2,1265.0 746.4,1269.6 745.7,1274.2 744.9,1278.8 744.2,1283.4 743.4,1288.0 742.7,1292.6 741.9,1297.2 741.2,1301.8 740.4,1306.4 739.6,1311.0 738.8,1315.6 738.0,1320.2 737.2,1324.8 736.3,1329.4 735.5,1334.0 734.7,1338.6 733.9,1343.2 733.1,1347.8 732.3,1352.4 731.4,1357.0 730.6,1361.6 729.8,1366.2 729.0,1370.8 728.2,1375.4 727.4,1380.0 726.5,1384.6 725.7,1389.2 724.9,1393.8 724.1,1398.4 723.3,1403.0 722.4,1407.6 721.6,1412.2 720.8,1416.8 720.0,1421.4 719.2,1426.0 718.4,1430.6 717.5,1435.2 716.7,1439.8 715.9,1444.4 715.1,1449.0 714.2,1453.6 713.4,1458.2 712.6,1462.8 711.8,1467.4 710.9,1472.0 710.1,1476.6 709.3,1481.2 708.5,1485.8 707.6,1490.4 706.8,1495.0 706.0,1499.6 705.2,1504.2 704.3,1508.8 703.5,1513.4 702.6,1518.0 701.8,1522.6 700.9,1527.2 700.1,1531.8 699.2,1536.4 698.2,1541.0 697.1,1545.6 696.1,1550.2 695.1,1554.8 694.1,1559.4 694.4,1559.4 695.6,1554.8 696.8,1550.2 698.0,1545.6 699.1,1541.0 700.3,1536.4 701.4,1531.8 702.5,1527.2 703.6,1522.6 704.7,1518.0 705.8,1513.4 706.9,1508.8 708.0,1504.2 709.1,1499.6 710.1,1495.0 711.2,1490.4 712.2,1485.8 713.3,1481.2 714.3,1476.6 715.4,1472.0 716.4,1467.4 717.5,1462.8 718.5,1458.2 719.6,1453.6 720.6,1449.0 721.7,1444.4 722.7,1439.8 723.8,1435.2 724.8,1430.6 725.9,1426.0 726.9,1421.4 728.0,1416.8 729.0,1412.2 730.1,1407.6 731.1,1403.0 732.1,1398.4 733.2,1393.8 734.2,1389.2 735.3,1384.6 736.3,1380.0 737.3,1375.4 738.4,1370.8 739.4,1366.2 740.5,1361.6 741.5,1357.0 742.5,1352.4 743.6,1347.8 744.6,1343.2 745.7,1338.6 746.7,1334.0 747.7,1329.4 748.8,1324.8 749.8,1320.2 750.9,1315.6 751.9,1311.0 752.9,1306.4 753.8,1301.8 754.6,1297.2 755.5,1292.6 756.4,1288.0 757.3,1283.4 758.2,1278.8 759.0,1274.2 759.9,1269.6 760.8,1265.0 761.7,1260.4 762.6,1255.8 763.4,1251.2 764.3,1246.6 765.2,1242.0 766.1,1237.4 767.0,1232.8 767.8,1228.2 768.7,1223.6 769.6,1219.0 770.5,1214.4 771.4,1209.8 772.2,1205.2 773.1,1200.6 774.0,1196.0 776.4,1191.4 779.9,1186.8 783.4,1182.2 786.9,1177.6 790.5,1173.0 794.0,1168.4 797.5,1163.8 801.0,1159.2 804.6,1154.6 808.1,1150.0 814.8,1145.4 823.1,1140.8 831.4,1136.2 839.6,1131.6 847.9,1127.0 856.2,1122.4 871.4,1117.8 894.2,1113.2 917.0,1108.6 939.7,1104.0" fill="#a4a4a4" fill-opacity="0.17600000000000002"/>
<polygon points="521.2,1104.0 538.7,1108.6 549.3,1113.2 556.9,1117.8 564.5,1122.4 570.7,1127.0 573.7,1131.6 576.7,1136.2 579.7,1140.8 582.7,1145.4 585.7,1150.0 588.6,1154.6 591.4,1159.2 594.3,1163.8 597.1,1168.4 600.0,1173.0 602.8,1177.6 605.7,1182.2 608.5,1186.8 611.4,1191.4 613.5,1196.0 614.7,1200.6 615.9,1205.2 617.0,1209.8 618.2,1214.4 619.4,1219.0 620.6,1223.6 621.7,1228.2 622.9,1232.8 624.1,1237.4 625.3,1242.0 626.4,1246.6 627.6,1251.2 628.8,1255.8 630.0,1260.4 631.2,1265.0 632.3,1269.6 633.5,1274.2 634.7,1278.8 635.9,1283.4 637.0,1288.0 638.2,1292.6 639.4,1297.2 640.6,1301.8 641.7,1306.4 642.6,1311.0 643.4,1315.6 644.2,1320.2 644.9,1324.8 645.7,1329.4 646.4,1334.0 647.2,1338.6 647.9,1343.2 648.7,1347.8 649.4,1352.4 650.2,1357.0 650.9,1361.6 651.7,1366.2 652.4,1370.8 653.2,1375.4 654.0,1380.0 654.7,1384.6 655.5,1389.2 656.2,1393.8 657.0,1398.4 657.7,1403.0 658.5,1407.6 659.2,1412.2 660.0,1416.8 660.7,1421.4 661.6,1426.0 662.4,1430.6 663.3,1435.2 664.1,1439.8 665.0,1444.4 665.8,1449.0 666.7,1453.6 667.5,1458.2 668.4,1462.8 669.2,1467.4 670.1,1472.0 670.9,1476.6 671.8,1481.2 672.6,1485.8 673.5,1490.4 674.3,1495.0 675.2,1499.6 676.3,1504.2 677.3,1508.8 678.4,1513.4 679.5,1518.0 680.6,1522.6 681.7,1527.2 682.8,1531.8 683.9,1536.4 685.1,1541.0 686.2,1545.6 687.4,1550.2 688.6,1554.8 689.7,1559.4 689.2,1559.4 687.9,1554.8 686.6,1550.2 685.2,1545.6 683.9,1541.0 682.6,1536.4 681.2,1531.8 679.9,1527.2 678.6,1522.6 677.2,1518.0 675.9,1513.4 674.6,1508.8 673.2,1504.2 671.9,1499.6 670.9,1495.0 669.9,1490.4 668.9,1485.8 667.9,1481.2 666.9,1476.6 665.9,1472.0 664.8,1467.4 663.8,1462.8 662.8,1458.2 661.8,1453.6 660.8,1449.0 659.8,1444.4 658.8,1439.8 657.8,1435.2 656.8,1430.6 655.8,1426.0 654.8,1421.4 653.9,1416.8 653.0,1412.2 652.1,1407.6 651.3,1403.0 650.4,1398.4 649.5,1393.8 648.6,1389.2 647.7,1384.6 646.8,1380.0 646.0,1375.4 645.1,1370.8 644.2,1366.2 643.3,1361.6 642.4,1357.0 641.5,1352.4 640.6,1347.8 639.8,1343.2 638.9,1338.6 638.0,1334.0 637.1,1329.4 636.2,1324.8 635.3,1320.2 634.5,1315.6 633.6,1311.0 632.5,1306.4 631.1,1301.8 629.7,1297.2 628.3,1292.6 626.9,1288.0 625.4,1283.4 624.0,1278.8 622.6,1274.2 621.2,1269.6 619.8,1265.0 618.4,1260.4 617.0,1255.8 615.6,1251.2 614.1,1246.6 612.7,1242.0 611.3,1237.4 609.9,1232.8 608.5,1228.2 607.1,1223.6 605.7,1219.0 604.3,1214.4 602.9,1209.8 601.4,1205.2 600.0,1200.6 598.6,1196.0 596.0,1191.4 592.4,1186.8 588.8,1182.2 585.3,1177.6 581.7,1173.0 578.1,1168.4 574.6,1163.8 571.0,1159.2 567.4,1154.6 563.9,1150.0 560.3,1145.4 556.7,1140.8 553.1,1136.2 549.6,1131.6 546.0,1127.0 538.9,1122.4 530.4,1117.8 522.0,1113.2 513.5,1108.6 505.0,1104.0" fill="#a4a4a4" fill-opacity="0.08"/>
<polygon points="939.7,1104.0 917.0,1108.6 894.2,1113.2 871.4,1117.8 856.2,1122.4 847.9,1127.0 839.6,1131.6 831.4,1136.2 823.1,1140.8 814.8,1145.4 808.1,1150.0 804.6,1154.6 801.0,1159.2 797.5,1163.8 794.0,1168.4 790.5,1173.0 786.9,1177.6 783.4,1182.2 779.9,1186.8 776.4,1191.4 774.0,1196.0 773.1,1200.6 772.2,1205.2 771.4,1209.8 770.5,1214.4 769.6,1219.0 768.7,1223.6 767.8,1228.2 767.0,1232.8 766.1,1237.4 765.2,1242.0 764.3,1246.6 763.4,1251.2 762.6,1255.8 761.7,1260.4 760.8,1265.0 759.9,1269.6 759.0,1274.2 758.2,1278.8 757.3,1283.4 756.4,1288.0 755.5,1292.6 754.6,1297.2 753.8,1301.8 752.9,1306.4 751.9,1311.0 750.9,1315.6 749.8,1320.2 748.8,1324.8 747.7,1329.4 746.7,1334.0 745.7,1338.6 744.6,1343.2 743.6,1347.8 742.5,1352.4 741.5,1357.0 740.5,1361.6 739.4,1366.2 738.4,1370.8 737.3,1375.4 736.3,1380.0 735.3,1384.6 734.2,1389.2 733.2,1393.8 732.1,1398.4 731.1,1403.0 730.1,1407.6 729.0,1412.2 728.0,1416.8 726.9,1421.4 725.9,1426.0 724.8,1430.6 723.8,1435.2 722.7,1439.8 721.7,1444.4 720.6,1449.0 719.6,1453.6 718.5,1458.2 717.5,1462.8 716.4,1467.4 715.4,1472.0 714.3,1476.6 713.3,1481.2 712.2,1485.8 711.2,1490.4 710.1,1495.0 709.1,1499.6 708.0,1504.2 706.9,1508.8 705.8,1513.4 704.7,1518.0 703.6,1522.6 702.5,1527.2 701.4,1531.8 700.3,1536.4 699.1,1541.0 698.0,1545.6 696.8,1550.2 695.6,1554.8 694.4,1559.4 694.8,1559.4 696.1,1554.8 697.4,1550.2 698.8,1545.6 700.1,1541.0 701.4,1536.4 702.8,1531.8 704.1,1527.2 705.4,1522.6 706.8,1518.0 708.1,1513.4 709.4,1508.8 710.8,1504.2 712.1,1499.6 713.4,1495.0 714.7,1490.4 716.0,1485.8 717.2,1481.2 718.5,1476.6 719.8,1472.0 721.1,1467.4 722.4,1462.8 723.7,1458.2 724.9,1453.6 726.2,1449.0 727.5,1444.4 728.8,1439.8 730.1,1435.2 731.3,1430.6 732.6,1426.0 733.9,1421.4 735.2,1416.8 736.4,1412.2 737.7,1407.6 738.9,1403.0 740.2,1398.4 741.5,1393.8 742.7,1389.2 744.0,1384.6 745.3,1380.0 746.5,1375.4 747.8,1370.8 749.0,1366.2 750.3,1361.6 751.6,1357.0 752.8,1352.4 754.1,1347.8 755.3,1343.2 756.6,1338.6 757.9,1334.0 759.1,1329.4 760.4,1324.8 761.7,1320.2 762.9,1315.6 764.2,1311.0 765.4,1306.4 766.4,1301.8 767.4,1297.2 768.4,1292.6 769.4,1288.0 770.4,1283.4 771.4,1278.8 772.4,1274.2 773.4,1269.6 774.4,1265.0 775.4,1260.4 776.4,1255.8 777.5,1251.2 778.5,1246.6 779.5,1242.0 780.5,1237.4 781.5,1232.8 782.5,1228.2 783.5,1223.6 784.5,1219.0 785.5,1214.4 786.5,1209.8 787.5,1205.2 788.6,1200.6 789.6,1196.0 792.5,1191.4 797.0,1186.8 801.4,1182.2 805.9,1177.6 810.3,1173.0 814.8,1168.4 819.2,1163.8 823.7,1159.2 828.1,1154.6 832.5,1150.0 841.2,1145.4 851.8,1140.8 862.5,1136.2 873.1,1131.6 883.8,1127.0 894.4,1122.4 913.8,1117.8 942.5,1113.2 971.3,1108.6 1000.0,1104.0" fill="#a4a4a4" fill-opacity="0.064"/>
<path d="M651 1267h0 M684 1516h0 M654 1294h0 M629 1156h0 M653 1354h0 M634 1126h0 M577 1125h0 M676 1388h0 M687 1549h0 M662 1367h0 M650 1146h0 M669 1304h0 M647 1158h0 M600 1110h0 M632 1262h0 M652 1299h0 M649 1290h0 M662 1270h0 M689 1559h0 M673 1468h0 M656 1206h0 M658 1196h0 M675 1427h0 M680 1471h0 M684 1535h0 M576 1105h0 M683 1508h0 M689 1548h0 M596 1120h0 M678 1434h0 M631 1124h0 M685 1539h0 M640 1133h0 M644 1128h0 M680 1444h0 M663 1319h0 M607 1158h0 M607 1137h0 M628 1133h0 M647 1166h0 M686 1543h0 M613 1202h0 M640 1165h0 M676 1476h0 M549 1128h0 M648 1166h0 M677 1430h0 M658 1199h0 M608 1125h0 M629 1177h0 M650 1231h0 M687 1536h0 M645 1326h0 M650 1155h0 M678 1507h0 M653 1180h0 M656 1412h0 M579 1160h0 M679 1492h0 M663 1253h0 M527 1112h0 M618 1176h0 M610 1183h0 M669 1337h0 M606 1152h0 M631 1119h0 M644 1319h0 M670 1346h0 M685 1512h0 M593 1107h0 M665 1264h0 M639 1153h0 M670 1325h0 M618 1226h0 M688 1548h0 M666 1387h0 M648 1140h0 M526 1107h0 M651 1392h0 M568 1108h0 M644 1281h0 M602 1208h0 M607 1121h0 M657 1411h0 M665 1411h0 M662 1442h0 M634 1222h0 M676 1502h0 M633 1251h0 M678 1481h0 M668 1352h0 M658 1330h0 M597 1122h0 M689 1556h0 M673 1406h0 M669 1410h0 M632 1262h0 M583 1123h0 M584 1110h0 M664 1281h0 M669 1390h0 M645 1347h0 M656 1182h0 M631 1201h0 M650 1162h0 M680 1505h0 M628 1262h0 M634 1211h0 M637 1161h0 M664 1449h0 M682 1490h0 M668 1331h0 M624 1139h0 M669 1466h0 M653 1397h0 M655 1191h0 M661 1266h0 M639 1166h0 M665 1352h0 M618 1207h0 M689 1549h0 M639 1121h0 M684 1486h0 M667 1396h0 M622 1204h0 M603 1108h0 M666 1268h0 M681 1462h0 M648 1141h0 M666 1354h0 M659 1355h0 M662 1450h0 M674 1383h0 M665 1278h0 M572 1106h0 M676 1399h0 M649 1189h0 M668 1390h0 M654 1347h0 M630 1240h0 M685 1505h0 M682 1521h0 M627 1137h0 M647 1352h0 M644 1233h0 M675 1490h0 M686 1527h0 M673 1366h0 M659 1403h0 M657 1361h0 M590 1166h0 M686 1548h0 M646 1308h0 M612 1209h0 M681 1477h0 M620 1123h0 M648 1314h0 M667 1284h0 M681 1450h0 M680 1445h0 M625 1215h0 M646 1140h0 M648 1298h0 M674 1468h0 M685 1528h0 M687 1530h0 M632 1169h0 M626 1196h0 M665 1359h0 M677 1470h0 M650 1205h0 M669 1471h0 M596 1164h0 M687 1541h0 M669 1326h0 M660 1307h0 M672 1342h0 M687 1542h0 M630 1244h0 M661 1321h0 M676 1386h0 M663 1309h0 M683 1535h0 M642 1188h0 M628 1136h0 M665 1454h0 M662 1279h0 M619 1158h0 M686 1516h0 M680 1434h0 M648 1159h0 M672 1384h0 M639 1224h0 M592 1129h0 M620 1135h0 M653 1180h0 M662 1305h0 M652 1232h0 M668 1304h0 M620 1163h0 M664 1359h0 M676 1474h0 M682 1477h0 M661 1413h0 M684 1503h0 M610 1206h0 M578 1168h0 M684 1495h0 M616 1176h0 M656 1184h0 M679 1463h0 M680 1440h0 M639 1245h0 M599 1107h0 M652 1382h0 M689 1541h0 M645 1293h0 M648 1291h0 M652 1157h0 M645 1130h0 M660 1315h0 M670 1323h0 M648 1156h0 M665 1468h0 M686 1517h0 M539 1117h0 M639 1272h0 M646 1211h0 M661 1297h0 M672 1340h0 M657 1392h0 M633 1154h0 M673 1412h0 M650 1159h0 M668 1296h0 M676 1498h0 M656 1394h0 M668 1354h0 M663 1339h0 M688 1550h0 M600 1183h0 M663 1415h0 M678 1454h0 M675 1500h0 M659 1388h0 M675 1426h0 M677 1403h0 M647 1218h0 M580 1106h0 M661 1359h0 M589 1173h0 M671 1373h0 M664 1370h0 M663 1306h0 M690 1560h0 M660 1392h0 M690 1548h0 M655 1347h0 M644 1183h0 M628 1114h0 M661 1232h0 M599 1180h0 M660 1314h0 M687 1541h0 M690 1557h0 M681 1451h0 M652 1338h0 M536 1113h0 M629 1147h0 M628 1150h0 M672 1345h0 M686 1528h0 M655 1303h0 M657 1228h0 M664 1368h0 M626 1193h0 M658 1198h0 M655 1178h0 M598 1146h0 M621 1239h0 M678 1417h0 M688 1553h0 M553 1120h0 M653 1257h0 M689 1544h0 M635 1301h0 M671 1403h0 M687 1548h0 M672 1341h0 M666 1352h0 M653 1162h0 M668 1303h0 M644 1263h0 M662 1269h0 M665 1330h0 M673 1433h0 M689 1559h0 M676 1410h0 M569 1132h0 M671 1437h0 M657 1225h0 M666 1383h0 M658 1335h0 M677 1420h0 M589 1180h0 M677 1511h0 M629 1112h0 M645 1188h0 M673 1351h0 M670 1310h0 M595 1124h0 M655 1314h0 M649 1231h0 M643 1165h0 M661 1415h0 M637 1121h0 M673 1451h0 M678 1428h0 M661 1254h0 M678 1451h0 M645 1367h0 M642 1211h0 M657 1416h0 M657 1256h0 M568 1127h0 M640 1122h0 M662 1321h0 M673 1383h0 M679 1432h0 M618 1166h0 M631 1123h0 M664 1405h0 M656 1193h0 M632 1225h0 M661 1228h0 M667 1396h0 M677 1512h0 M683 1509h0 M679 1447h0 M649 1207h0 M680 1522h0 M646 1179h0 M654 1228h0 M655 1241h0 M625 1159h0 M674 1444h0 M676 1466h0 M601 1153h0 M683 1491h0 M583 1108h0 M658 1311h0 M686 1540h0 M681 1448h0 M647 1313h0 M641 1123h0 M657 1411h0 M600 1123h0 M596 1142h0 M672 1364h0 M609 1169h0 M646 1300h0 M656 1241h0 M686 1541h0 M655 1287h0 M664 1402h0 M684 1510h0 M673 1460h0 M672 1475h0 M668 1464h0 M685 1535h0 M649 1301h0 M677 1447h0 M663 1253h0 M654 1413h0 M660 1232h0 M638 1163h0 M602 1197h0 M624 1117h0 M604 1132h0 M679 1432h0 M612 1117h0 M643 1331h0 M628 1111h0 M647 1156h0 M617 1174h0 M670 1337h0 M645 1156h0 M600 1151h0 M641 1205h0 M677 1455h0 M604 1184h0 M684 1510h0 M637 1313h0 M665 1281h0 M534 1114h0 M677 1446h0 M658 1303h0 M596 1190h0 M672 1369h0 M572 1106h0 M628 1231h0 M667 1398h0 M648 1146h0 M655 1209h0 M679 1484h0 M643 1358h0 M637 1187h0 M594 1144h0 M530 1105h0 M671 1471h0 M633 1123h0 M677 1400h0 M657 1280h0 M686 1534h0 M682 1477h0 M676 1440h0 M686 1511h0 M681 1460h0 M659 1311h0 M587 1146h0 M653 1205h0 M629 1121h0 M643 1274h0 M635 1225h0 M629 1130h0 M625 1272h0 M674 1462h0 M581 1107h0 M675 1397h0 M663 1321h0 M510 1106h0 M680 1445h0 M670 1347h0 M646 1233h0 M651 1199h0 M639 1240h0 M653 1183h0 M674 1408h0 M685 1528h0 M674 1404h0 M682 1460h0 M648 1141h0 M660 1379h0 M637 1154h0 M676 1466h0 M638 1125h0 M649 1146h0 M663 1246h0 M684 1514h0 M651 1295h0 M663 1427h0 M656 1237h0 M664 1249h0 M638 1244h0 M688 1549h0 M663 1370h0 M593 1108h0 M636 1218h0 M630 1130h0 M643 1294h0 M674 1459h0 M597 1146h0 M681 1503h0 M646 1222h0 M600 1141h0 M689 1552h0 M658 1399h0 M580 1160h0 M672 1353h0 M635 1123h0 M654 1327h0 M611 1212h0 M649 1226h0 M557 1135h0 M571 1139h0 M658 1311h0 M668 1319h0 M674 1507h0 M674 1455h0 M581 1135h0 M610 1195h0 M631 1177h0 M681 1463h0 M670 1313h0 M624 1110h0 M688 1552h0 M671 1369h0 M659 1376h0 M643 1235h0 M681 1448h0 M634 1161h0 M634 1141h0 M670 1324h0 M666 1299h0 M667 1323h0 M674 1361h0 M674 1376h0 M686 1536h0 M658 1275h0 M657 1351h0 M665 1422h0 M626 1283h0 M669 1467h0 M653 1247h0 M642 1322h0 M658 1302h0 M626 1258h0 M659 1209h0 M656 1405h0 M668 1408h0 M676 1419h0 M672 1336h0 M627 1135h0 M661 1291h0 M579 1115h0 M667 1302h0 M649 1203h0 M655 1175h0 M675 1508h0 M652 1373h0 M632 1253h0 M611 1169h0 M642 1323h0 M581 1127h0 M618 1135h0 M688 1531h0 M648 1178h0 M659 1210h0 M676 1499h0 M656 1242h0 M671 1332h0 M537 1110h0 M643 1203h0 M679 1521h0 M664 1277h0 M608 1198h0 M684 1500h0 M680 1467h0 M665 1277h0 M670 1490h0 M620 1162h0 M588 1158h0 M631 1114h0 M674 1405h0 M676 1502h0 M676 1398h0 M652 1389h0 M665 1264h0 M646 1170h0 M675 1397h0 M646 1154h0 M656 1373h0 M638 1231h0 M679 1493h0 M647 1172h0 M682 1517h0 M631 1191h0 M547 1125h0 M651 1262h0 M669 1305h0 M669 1339h0 M611 1180h0 M634 1124h0 M677 1421h0 M638 1192h0 M584 1156h0 M690 1553h0 M640 1272h0 M618 1236h0 M666 1290h0 M655 1317h0 M637 1225h0 M674 1436h0 M639 1292h0 M667 1383h0 M687 1532h0 M679 1434h0 M670 1343h0 M637 1262h0 M666 1438h0 M636 1175h0 M627 1169h0 M668 1289h0 M654 1338h0 M644 1325h0 M649 1154h0 M579 1107h0 M655 1259h0 M614 1185h0 M552 1120h0 M660 1324h0 M679 1441h0 M639 1142h0 M618 1112h0 M664 1350h0 M633 1186h0 M574 1124h0 M645 1151h0 M606 1147h0 M670 1463h0 M616 1117h0 M659 1227h0 M689 1543h0 M643 1285h0 M690 1552h0 M640 1269h0 M622 1112h0 M684 1496h0 M658 1240h0 M664 1254h0 M518 1111h0 M666 1425h0 M649 1172h0 M668 1315h0 M627 1272h0 M655 1227h0 M688 1549h0 M610 1112h0 M674 1365h0 M633 1218h0 M678 1481h0 M681 1494h0 M626 1240h0 M630 1235h0 M644 1167h0 M625 1155h0 M647 1148h0 M636 1166h0 M646 1204h0 M690 1556h0 M683 1481h0 M662 1236h0 M672 1387h0 M657 1190h0 M645 1155h0 M619 1240h0 M675 1399h0 M660 1226h0 M686 1523h0 M667 1427h0 M685 1506h0 M650 1209h0 M561 1123h0 M625 1211h0 M669 1299h0 M659 1241h0 M627 1112h0 M672 1337h0 M648 1205h0 M669 1311h0 M674 1395h0 M665 1405h0 M645 1143h0 M626 1192h0 M655 1246h0 M683 1482h0 M650 1197h0 M654 1167h0 M573 1109h0 M647 1322h0 M689 1546h0 M650 1376h0 M616 1167h0 M648 1374h0 M683 1484h0 M673 1356h0 M656 1256h0 M618 1117h0 M645 1212h0 M656 1192h0 M651 1244h0 M611 1149h0 M654 1176h0 M650 1218h0 M617 1144h0 M667 1392h0 M676 1391h0 M655 1239h0 M617 1117h0 M605 1115h0 M663 1332h0 M656 1211h0 M600 1108h0 M680 1497h0 M626 1185h0 M632 1156h0 M643 1347h0 M643 1227h0 M683 1526h0 M660 1353h0 M654 1248h0 M614 1190h0 M682 1490h0 M686 1507h0 M623 1139h0 M651 1204h0 M689 1546h0 M648 1158h0 M674 1381h0 M557 1105h0 M659 1241h0 M649 1287h0 M655 1313h0 M646 1319h0 M688 1542h0 M617 1220h0 M629 1206h0 M663 1389h0 M685 1539h0 M614 1147h0 M653 1285h0 M657 1230h0 M671 1417h0 M650 1175h0 M658 1211h0 M668 1296h0 M635 1118h0 M595 1128h0 M625 1132h0 M674 1430h0 M583 1148h0 M684 1485h0 M637 1182h0 M677 1443h0 M675 1400h0 M674 1400h0 M627 1214h0 M670 1469h0 M664 1323h0 M666 1395h0 M670 1463h0 M632 1136h0 M673 1375h0 M652 1156h0 M641 1332h0 M689 1543h0 M670 1385h0 M668 1355h0 M678 1521h0 M575 1114h0 M646 1133h0 M625 1194h0 M691 1556h0 M660 1213h0 M661 1310h0 M656 1231h0 M666 1446h0 M648 1193h0 M654 1348h0 M689 1549h0 M667 1388h0 M680 1446h0 M650 1152h0 M686 1521h0 M666 1284h0 M660 1210h0 M670 1322h0 M670 1352h0 M636 1171h0 M657 1228h0 M632 1115h0 M683 1498h0 M636 1122h0 M625 1282h0 M592 1162h0 M659 1282h0 M677 1449h0 M600 1116h0 M662 1368h0 M603 1191h0 M668 1482h0 M633 1263h0 M676 1405h0 M616 1109h0 M646 1134h0 M630 1225h0 M643 1204h0 M587 1106h0 M688 1536h0 M644 1303h0 M668 1441h0 M630 1243h0 M671 1461h0 M690 1552h0 M686 1531h0 M674 1394h0 M686 1507h0 M669 1328h0 M655 1238h0 M654 1369h0 M639 1228h0 M656 1223h0 M684 1505h0 M632 1126h0 M677 1414h0 M670 1414h0 M674 1381h0 M643 1130h0 M650 1221h0 M568 1106h0 M657 1245h0 M636 1308h0 M591 1163h0 M626 1209h0 M551 1130h0 M621 1257h0 M640 1168h0 M675 1394h0 M627 1189h0 M687 1529h0 M640 1155h0 M690 1554h0 M669 1357h0 M672 1362h0 M647 1348h0 M676 1477h0 M654 1292h0 M577 1132h0 M670 1386h0 M669 1373h0 M659 1236h0 M661 1340h0 M668 1297h0 M666 1353h0 M659 1336h0 M686 1520h0 M623 1275h0 M675 1412h0 M653 1411h0 M625 1244h0 M555 1136h0 M665 1286h0 M675 1468h0 M681 1523h0 M675 1444h0 M691 1556h0 M676 1485h0 M610 1180h0 M652 1268h0 M683 1482h0 M631 1192h0 M605 1120h0 M674 1438h0 M609 1177h0 M673 1476h0 M640 1314h0 M680 1444h0 M661 1228h0 M615 1111h0 M673 1482h0 M643 1133h0 M625 1238h0 M646 1348h0 M537 1120h0 M621 1164h0 M676 1488h0 M615 1160h0 M664 1257h0 M654 1217h0 M671 1354h0 M656 1341h0 M650 1154h0 M669 1388h0 M646 1137h0 M684 1525h0 M659 1224h0 M690 1557h0 M674 1411h0 M649 1204h0 M611 1142h0 M632 1254h0 M652 1247h0 M633 1293h0 M633 1220h0 M629 1174h0 M612 1194h0 M614 1195h0 M669 1379h0 M685 1521h0 M669 1414h0 M665 1265h0 M660 1252h0 M623 1262h0 M629 1197h0 M673 1376h0 M662 1248h0 M684 1499h0 M658 1253h0 M668 1457h0 M661 1335h0 M565 1128h0 M629 1124h0 M634 1232h0 M671 1375h0 M673 1501h0 M571 1108h0 M660 1275h0 M661 1273h0 M664 1376h0 M685 1543h0 M690 1556h0 M674 1461h0 M649 1392h0 M613 1118h0 M641 1244h0 M579 1168h0 M642 1165h0 M633 1141h0 M678 1414h0 M613 1149h0 M655 1351h0 M610 1181h0 M662 1408h0 M624 1134h0 M533 1107h0 M681 1527h0 M601 1109h0 M658 1307h0 M584 1131h0 M643 1201h0 M615 1135h0 M647 1137h0 M665 1296h0 M678 1433h0 M663 1250h0 M637 1168h0 M662 1318h0 M683 1474h0 M682 1473h0 M687 1543h0 M644 1246h0 M669 1481h0 M664 1249h0 M588 1145h0 M664 1410h0 M623 1146h0 M621 1109h0 M604 1200h0 M651 1361h0 M611 1113h0 M632 1122h0 M564 1131h0 M645 1212h0 M650 1367h0 M685 1529h0 M635 1290h0 M658 1241h0 M676 1412h0 M651 1229h0 M661 1279h0 M654 1257h0 M555 1114h0 M604 1117h0 M664 1313h0 M653 1170h0 M656 1231h0 M664 1282h0 M672 1418h0 M575 1106h0 M688 1540h0 M641 1336h0 M641 1228h0 M656 1229h0 M661 1344h0 M644 1206h0 M646 1298h0 M632 1115h0 M650 1181h0 M676 1443h0 M680 1479h0 M629 1194h0 M544 1124h0 M680 1463h0 M620 1207h0 M671 1439h0 M570 1116h0 M587 1114h0 M639 1315h0 M674 1359h0 M682 1522h0 M671 1329h0 M673 1411h0 M648 1380h0 M686 1511h0 M675 1435h0 M675 1419h0 M656 1265h0 M635 1133h0 M678 1410h0 M578 1133h0 M665 1373h0 M644 1132h0 M606 1204h0 M640 1319h0 M639 1165h0 M643 1307h0 M574 1135h0 M666 1277h0 M657 1258h0 M650 1378h0 M647 1287h0 M631 1238h0 M590 1129h0 M619 1149h0 M642 1162h0 M639 1148h0 M662 1335h0 M645 1238h0 M680 1469h0 M663 1331h0 M689 1549h0 M674 1390h0 M620 1184h0 M668 1327h0 M563 1118h0 M634 1233h0 M646 1258h0 M637 1319h0 M683 1507h0 M665 1283h0 M678 1420h0 M616 1203h0 M573 1111h0 M660 1323h0 M658 1214h0 M684 1531h0 M681 1449h0 M679 1437h0 M628 1161h0 M672 1344h0 M671 1426h0 M674 1501h0 M672 1385h0 M684 1531h0 M614 1196h0 M675 1406h0 M656 1180h0 M667 1308h0 M654 1197h0 M624 1138h0 M651 1189h0 M640 1191h0 M683 1487h0 M671 1479h0 M662 1344h0 M670 1409h0 M649 1370h0 M678 1432h0 M538 1115h0 M628 1227h0 M639 1174h0 M633 1230h0 M685 1527h0 M666 1322h0 M589 1173h0 M560 1131h0 M674 1369h0 M685 1503h0 M670 1322h0 M690 1553h0 M684 1486h0 M675 1373h0 M587 1110h0 M688 1550h0 M673 1476h0 M668 1300h0 M668 1303h0 M664 1303h0 M666 1289h0 M671 1394h0 M667 1283h0 M653 1284h0 M688 1544h0 M639 1139h0 M632 1215h0 M679 1524h0 M682 1531h0 M669 1478h0 M583 1108h0 M655 1334h0 M660 1346h0 M687 1521h0 M633 1299h0 M626 1110h0 M670 1484h0 M614 1109h0 M673 1462h0 M655 1299h0 M663 1422h0 M579 1105h0 M660 1442h0 M679 1464h0 M653 1215h0 M545 1107h0 M633 1185h0 M664 1302h0 M669 1378h0 M598 1174h0 M649 1152h0 M639 1181h0 M677 1436h0 M623 1175h0 M637 1184h0 M604 1182h0 M647 1156h0 M652 1201h0 M665 1405h0 M674 1440h0 M579 1122h0 M652 1178h0 M616 1250h0 M654 1230h0 M675 1508h0 M661 1238h0 M667 1440h0 M625 1216h0 M657 1234h0 M653 1336h0 M637 1278h0 M573 1107h0 M662 1235h0 M686 1510h0 M591 1163h0 M683 1537h0 M612 1218h0 M600 1141h0 M687 1528h0 M604 1139h0 M677 1492h0 M686 1530h0 M661 1231h0 M601 1189h0 M634 1120h0 M660 1220h0 M657 1203h0 M619 1135h0 M657 1309h0 M672 1425h0 M687 1529h0 M654 1170h0 M625 1204h0 M684 1516h0 M640 1147h0 M667 1323h0 M660 1441h0 M649 1271h0 M679 1471h0 M578 1158h0 M689 1547h0 M675 1425h0 M630 1115h0 M603 1152h0 M654 1165h0 M605 1168h0 M650 1289h0 M664 1273h0 M589 1107h0 M622 1112h0 M668 1349h0 M649 1277h0 M651 1207h0 M679 1493h0 M649 1251h0 M660 1271h0 M685 1510h0 M681 1522h0 M684 1491h0 M630 1294h0 M656 1195h0 M676 1404h0 M670 1331h0 M687 1529h0 M596 1127h0 M643 1220h0 M633 1288h0 M662 1297h0 M561 1105h0 M635 1188h0 M666 1356h0 M617 1125h0 M649 1281h0 M688 1542h0 M665 1263h0 M679 1445h0 M670 1462h0 M601 1182h0 M660 1292h0 M638 1317h0 M657 1285h0 M615 1196h0 M663 1291h0 M648 1160h0 M670 1464h0 M686 1547h0 M657 1383h0 M659 1397h0 M680 1446h0 M679 1454h0 M596 1178h0 M584 1108h0 M625 1218h0 M645 1345h0 M683 1520h0 M587 1118h0 M552 1131h0 M682 1485h0 M610 1156h0 M656 1422h0 M672 1351h0 M677 1405h0 M674 1483h0 M663 1437h0 M640 1324h0 M666 1359h0 M655 1236h0 M609 1108h0 M679 1443h0 M656 1367h0 M668 1388h0 M654 1207h0 M616 1157h0 M651 1384h0 M611 1213h0 M685 1508h0 M685 1532h0 M685 1538h0 M655 1214h0 M659 1301h0 M545 1111h0 M661 1307h0 M676 1415h0 M624 1161h0 M647 1177h0 M638 1119h0 M645 1224h0 M685 1530h0 M655 1250h0 M638 1174h0 M688 1536h0 M642 1258h0 M671 1425h0 M647 1360h0 M684 1503h0 M634 1310h0 M668 1303h0 M679 1427h0 M620 1144h0 M623 1189h0 M674 1405h0 M669 1427h0 M670 1394h0 M664 1258h0 M627 1278h0 M685 1495h0 M630 1120h0 M670 1388h0 M629 1136h0 M651 1326h0 M641 1245h0 M664 1381h0 M575 1113h0 M647 1137h0 M666 1277h0 M621 1120h0 M666 1275h0 M683 1533h0 M652 1283h0 M604 1207h0 M637 1134h0 M597 1169h0 M661 1294h0 M623 1243h0 M613 1183h0 M671 1395h0 M650 1228h0 M660 1268h0 M667 1351h0 M623 1202h0 M655 1269h0 M681 1490h0 M619 1233h0 M687 1546h0 M640 1244h0 M676 1413h0 M654 1404h0 M660 1368h0 M644 1259h0 M609 1171h0 M635 1309h0 M632 1218h0 M584 1107h0 M677 1427h0 M671 1346h0 M613 1243h0 M584 1160h0 M597 1117h0 M668 1457h0 M644 1239h0 M661 1398h0 M670 1416h0 M621 1181h0 M659 1320h0 M690 1552h0 M677 1435h0 M654 1405h0 M636 1190h0 M659 1303h0 M615 1149h0 M679 1498h0 M619 1196h0 M663 1252h0 M665 1342h0 M632 1304h0 M639 1324h0 M629 1222h0 M629 1121h0 M662 1387h0 M679 1461h0 M648 1189h0 M670 1308h0 M638 1232h0 M640 1143h0 M671 1486h0 M653 1180h0 M646 1133h0 M668 1442h0 M640 1186h0 M676 1389h0 M667 1456h0 M614 1165h0 M673 1391h0 M683 1489h0 M662 1277h0 M634 1262h0 M657 1324h0 M690 1552h0 M624 1170h0 M565 1144h0 M649 1217h0 M632 1257h0 M681 1511h0 M639 1151h0 M675 1395h0 M673 1492h0 M644 1171h0 M615 1172h0 M577 1114h0 M559 1117h0 M657 1311h0 M644 1126h0 M608 1223h0 M647 1339h0 M635 1117h0 M560 1108h0 M644 1153h0 M660 1374h0 M646 1209h0 M638 1196h0 M653 1224h0 M649 1180h0 M656 1184h0 M638 1204h0 M656 1187h0 M679 1471h0 M664 1295h0 M676 1494h0 M659 1351h0 M668 1387h0 M655 1249h0 M658 1292h0 M658 1304h0 M663 1439h0 M654 1170h0 M659 1201h0 M672 1443h0 M655 1194h0 M673 1484h0 M662 1383h0 M673 1415h0 M647 1242h0 M670 1491h0 M678 1512h0 M632 1121h0 M687 1543h0 M664 1297h0 M679 1480h0 M690 1554h0 M691 1556h0 M634 1143h0 M673 1359h0 M639 1320h0 M637 1259h0 M660 1335h0 M631 1152h0 M679 1502h0 M637 1167h0 M665 1311h0 M657 1328h0 M598 1107h0 M673 1368h0 M577 1120h0 M609 1214h0 M670 1319h0 M671 1358h0 M671 1453h0 M679 1423h0 M556 1111h0 M644 1140h0 M622 1110h0 M627 1277h0 M655 1209h0 M681 1461h0 M661 1357h0 M687 1522h0 M665 1321h0 M680 1459h0 M676 1399h0 M629 1287h0 M649 1176h0 M681 1512h0 M632 1118h0 M648 1175h0 M674 1470h0 M688 1548h0 M668 1353h0 M670 1400h0 M607 1116h0 M647 1236h0 M632 1114h0 M689 1550h0 M658 1213h0 M643 1335h0 M629 1154h0 M643 1290h0 M668 1322h0 M607 1157h0 M562 1122h0 M624 1110h0 M635 1274h0 M655 1349h0 M666 1424h0 M558 1115h0 M646 1143h0 M629 1111h0 M682 1489h0 M643 1124h0 M676 1471h0 M686 1511h0 M637 1132h0 M651 1158h0 M619 1161h0 M648 1150h0 M664 1307h0 M619 1144h0 M662 1294h0 M666 1278h0 M671 1347h0 M660 1215h0 M680 1495h0 M647 1240h0 M687 1525h0 M636 1236h0 M635 1231h0 M686 1506h0 M652 1194h0 M663 1418h0 M653 1391h0 M638 1156h0 M673 1475h0 M553 1132h0 M659 1413h0 M641 1226h0 M683 1536h0 M644 1328h0 M690 1559h0 M647 1368h0 M633 1142h0 M670 1321h0 M680 1435h0 M670 1354h0 M638 1210h0 M635 1158h0 M667 1477h0 M647 1185h0 M675 1388h0 M682 1473h0 M666 1317h0 M580 1105h0 M572 1105h0 M596 1190h0 M673 1359h0 M675 1400h0 M644 1281h0 M669 1477h0 M659 1253h0 M657 1242h0 M672 1414h0 M675 1384h0 M659 1436h0 M621 1162h0 M651 1148h0 M662 1250h0 M669 1408h0 M648 1378h0 M633 1116h0 M604 1111h0 M673 1459h0 M643 1313h0 M661 1231h0 M674 1361h0 M655 1172h0 M650 1148h0 M669 1305h0 M649 1341h0 M660 1219h0 M659 1376h0 M680 1493h0 M646 1330h0 M648 1379h0 M621 1195h0 M666 1356h0 M571 1106h0 M632 1185h0 M657 1294h0 M633 1116h0 M657 1343h0 M689 1554h0 M645 1196h0 M642 1293h0 M620 1241h0 M660 1282h0 M661 1280h0 M691 1560h0 M663 1243h0 M674 1379h0 M632 1143h0 M652 1340h0 M661 1264h0 M619 1229h0 M654 1166h0 M681 1494h0 M646 1138h0 M677 1496h0 M586 1118h0 M637 1166h0 M672 1342h0 M686 1522h0 M592 1142h0 M645 1131h0 M667 1366h0 M677 1502h0 M653 1164h0 M664 1341h0 M609 1201h0 M619 1164h0 M550 1120h0 M685 1530h0 M629 1209h0 M677 1504h0 M600 1112h0 M619 1140h0 M682 1531h0 M633 1180h0 M657 1207h0 M664 1415h0 M649 1216h0 M661 1389h0 M665 1272h0 M641 1127h0 M677 1460h0 M669 1362h0 M660 1229h0 M688 1545h0 M599 1137h0 M659 1338h0 M670 1429h0 M670 1488h0 M642 1246h0 M652 1232h0 M638 1228h0 M653 1222h0 M672 1472h0 M654 1379h0 M640 1237h0 M648 1181h0 M581 1128h0 M685 1514h0 M661 1234h0 M610 1141h0 M685 1497h0 M616 1182h0 M596 1171h0 M648 1222h0 M645 1162h0 M660 1254h0 M677 1407h0 M653 1359h0 M657 1211h0 M646 1134h0 M672 1441h0 M579 1107h0 M668 1339h0 M607 1111h0 M610 1223h0 M615 1225h0 M678 1484h0 M584 1136h0 M611 1125h0 M644 1127h0 M662 1248h0 M690 1555h0 M673 1500h0 M668 1422h0 M640 1277h0 M674 1375h0 M662 1304h0 M648 1297h0 M666 1385h0 M665 1439h0 M642 1126h0 M628 1114h0 M687 1536h0 M654 1261h0 M668 1321h0 M677 1434h0 M671 1471h0 M557 1105h0 M566 1126h0 M629 1119h0 M671 1428h0 M669 1374h0 M667 1300h0 M663 1272h0 M675 1378h0 M644 1140h0 M656 1306h0 M509 1105h0 M679 1465h0 M588 1147h0 M689 1546h0 M662 1421h0 M686 1523h0 M644 1134h0 M595 1173h0 M683 1507h0 M634 1136h0 M624 1177h0 M661 1402h0 M654 1260h0 M660 1275h0 M644 1269h0 M674 1397h0 M670 1323h0 M613 1113h0 M661 1225h0 M620 1122h0 M682 1526h0 M614 1110h0 M656 1229h0 M614 1139h0 M680 1467h0 M650 1153h0 M546 1107h0 M615 1173h0 M680 1440h0 M643 1157h0 M666 1428h0 M646 1201h0 M648 1223h0 M679 1442h0 M664 1451h0 M642 1340h0 M687 1524h0 M690 1555h0 M680 1448h0 M646 1201h0 M674 1467h0 M588 1163h0 M679 1482h0 M623 1114h0 M647 1197h0 M684 1526h0 M681 1456h0 M617 1178h0 M657 1217h0 M636 1118h0 M648 1249h0 M646 1243h0 M658 1196h0 M672 1378h0 M661 1286h0 M657 1188h0 M653 1199h0 M646 1132h0 M667 1281h0 M682 1490h0 M652 1263h0 M613 1109h0 M673 1437h0 M662 1287h0 M672 1419h0 M665 1441h0 M678 1498h0 M668 1377h0 M656 1306h0 M643 1302h0 M683 1478h0 M669 1419h0 M644 1338h0 M606 1114h0 M615 1232h0 M621 1149h0 M595 1142h0 M644 1285h0 M613 1203h0 M582 1106h0 M658 1409h0 M678 1433h0 M588 1122h0 M677 1408h0 M684 1522h0 M601 1111h0 M659 1216h0 M672 1493h0 M627 1135h0 M628 1189h0 M634 1131h0 M652 1248h0 M647 1259h0 M680 1525h0 M677 1506h0 M649 1172h0 M647 1271h0 M668 1342h0 M690 1555h0 M605 1108h0 M610 1165h0 M682 1468h0 M650 1175h0 M662 1438h0 M656 1185h0 M684 1540h0 M671 1400h0 M663 1416h0 M665 1294h0 M652 1302h0 M635 1210h0 M563 1143h0 M649 1165h0 M683 1537h0 M679 1516h0 M671 1473h0 M670 1322h0 M660 1408h0 M682 1466h0 M577 1117h0 M634 1284h0 M690 1555h0 M662 1378h0 M672 1388h0 M674 1359h0 M678 1502h0 M676 1447h0 M636 1163h0 M666 1381h0 M646 1130h0 M659 1242h0 M650 1171h0 M639 1250h0 M680 1509h0 M535 1108h0 M654 1344h0 M668 1346h0 M660 1217h0 M675 1372h0 M652 1381h0 M664 1374h0 M663 1450h0 M662 1452h0 M666 1271h0 M659 1347h0 M677 1481h0 M661 1227h0 M675 1462h0 M689 1551h0 M673 1475h0 M690 1555h0 M683 1500h0 M582 1106h0 M607 1222h0 M658 1241h0 M675 1386h0 M649 1202h0 M611 1135h0 M633 1254h0 M607 1217h0 M628 1160h0 M654 1171h0 M611 1201h0 M643 1197h0 M666 1301h0 M669 1307h0 M656 1221h0 M669 1454h0 M666 1392h0 M675 1483h0 M632 1116h0 M661 1417h0 M689 1554h0 M620 1146h0 M661 1352h0 M560 1139h0 M665 1295h0 M689 1549h0 M589 1119h0 M653 1184h0 M636 1201h0 M633 1208h0 M674 1505h0 M673 1495h0 M609 1181h0 M608 1125h0 M638 1121h0 M687 1530h0 M669 1400h0 M533 1105h0 M551 1117h0 M676 1456h0 M665 1264h0 M676 1391h0 M636 1302h0 M675 1380h0 M664 1402h0 M626 1212h0 M665 1328h0 M666 1302h0 M610 1195h0 M628 1221h0 M659 1229h0 M512 1105h0 M655 1419h0 M671 1334h0 M651 1148h0 M659 1345h0 M687 1534h0 M651 1174h0 M649 1143h0 M660 1287h0 M614 1229h0 M619 1206h0 M669 1306h0 M582 1110h0 M684 1487h0 M675 1392h0 M656 1384h0 M676 1406h0 M566 1146h0 M677 1511h0 M670 1310h0 M618 1229h0 M627 1119h0 M544 1112h0 M660 1223h0 M658 1224h0 M646 1258h0 M674 1369h0 M669 1306h0 M634 1262h0 M611 1185h0 M644 1178h0 M680 1441h0 M659 1316h0 M653 1399h0 M674 1388h0 M633 1161h0 M638 1193h0 M594 1125h0 M664 1251h0 M563 1134h0 M670 1473h0 M613 1239h0 M604 1150h0 M687 1526h0 M582 1105h0 M575 1123h0 M664 1342h0 M605 1132h0 M646 1139h0 M657 1336h0 M666 1446h0 M639 1139h0 M625 1142h0 M540 1109h0 M657 1381h0 M632 1284h0 M670 1465h0 M680 1449h0 M660 1219h0 M673 1426h0 M690 1552h0 M629 1257h0 M686 1542h0 M672 1492h0 M632 1189h0 M586 1118h0 M686 1532h0 M618 1142h0 M612 1118h0 M621 1122h0 M671 1455h0 M679 1475h0 M665 1262h0 M673 1439h0 M662 1247h0 M666 1270h0 M646 1134h0 M663 1255h0 M675 1461h0 M679 1483h0 M643 1147h0 M676 1467h0 M661 1363h0 M627 1114h0 M630 1258h0 M684 1527h0 M656 1184h0 M664 1319h0 M686 1519h0 M653 1163h0 M551 1109h0 M683 1485h0 M568 1107h0 M628 1179h0 M679 1509h0 M634 1192h0 M623 1196h0 M605 1183h0 M652 1380h0 M610 1219h0 M669 1330h0 M671 1363h0 M646 1132h0 M670 1345h0 M584 1128h0 M595 1141h0 M648 1189h0 M681 1521h0 M665 1465h0 M643 1341h0 M662 1351h0 M651 1210h0 M668 1324h0 M651 1361h0 M676 1402h0 M605 1109h0 M631 1259h0 M660 1313h0 M662 1342h0 M666 1380h0 M668 1315h0 M627 1135h0 M672 1494h0 M638 1197h0 M660 1299h0 M597 1153h0 M636 1124h0 M655 1191h0 M652 1159h0 M668 1301h0 M662 1361h0 M665 1352h0 M669 1346h0 M644 1273h0 M611 1167h0 M639 1332h0 M662 1348h0 M677 1428h0 M651 1231h0 M664 1410h0 M576 1156h0 M689 1549h0 M690 1557h0 M662 1236h0 M569 1107h0 M667 1401h0 M675 1436h0 M669 1414h0 M664 1357h0 M665 1374h0 M597 1125h0 M671 1393h0 M688 1542h0 M627 1149h0 M659 1225h0 M684 1495h0 M676 1398h0 M630 1298h0 M568 1125h0 M511 1106h0 M683 1507h0 M667 1359h0 M639 1148h0 M630 1262h0 M616 1132h0 M652 1276h0 M672 1441h0 M608 1210h0 M669 1339h0 M642 1313h0 M584 1113h0 M663 1284h0 M645 1147h0 M656 1260h0 M669 1340h0 M665 1349h0 M667 1443h0 M586 1175h0 M665 1312h0 M621 1182h0 M642 1260h0 M606 1182h0 M607 1186h0 M657 1261h0 M661 1328h0 M658 1313h0 M684 1531h0 M547 1126h0 M599 1107h0 M680 1456h0 M621 1110h0 M638 1287h0 M603 1108h0 M594 1107h0 M644 1206h0 M687 1542h0 M677 1476h0 M680 1508h0 M644 1176h0 M666 1280h0 M684 1516h0 M632 1161h0 M679 1448h0 M671 1333h0 M652 1177h0 M648 1292h0 M618 1171h0 M652 1332h0 M691 1557h0 M690 1558h0 M667 1294h0 M598 1123h0 M645 1129h0 M610 1123h0 M646 1160h0 M674 1427h0 M606 1143h0 M690 1557h0 M651 1264h0 M657 1393h0 M678 1438h0 M679 1434h0 M622 1137h0 M624 1156h0 M604 1194h0 M633 1258h0 M686 1528h0 M673 1428h0 M662 1243h0 M649 1369h0 M673 1385h0 M664 1302h0 M632 1239h0 M567 1106h0 M667 1296h0 M676 1408h0 M660 1245h0 M665 1338h0 M670 1383h0 M673 1436h0 M620 1129h0 M649 1181h0 M686 1530h0 M677 1412h0 M673 1354h0 M653 1169h0 M531 1109h0 M688 1539h0 M547 1107h0 M675 1372h0 M679 1427h0 M610 1174h0 M678 1427h0 M642 1294h0 M663 1341h0 M652 1156h0 M628 1157h0 M664 1337h0 M663 1358h0 M668 1363h0 M677 1469h0 M670 1491h0 M671 1461h0 M667 1386h0 M655 1179h0 M672 1371h0 M662 1346h0 M666 1343h0 M648 1176h0 M654 1389h0 M653 1208h0 M656 1265h0 M655 1356h0 M664 1428h0 M653 1405h0 M655 1266h0 M671 1366h0 M678 1462h0 M660 1318h0 M661 1227h0 M643 1191h0 M687 1531h0 M674 1503h0 M678 1441h0 M532 1108h0 M627 1119h0 M683 1524h0 M668 1459h0 M628 1153h0 M629 1126h0 M640 1288h0 M631 1196h0 M642 1141h0 M597 1116h0 M654 1332h0 M621 1252h0 M668 1403h0 M683 1487h0 M639 1197h0 M642 1339h0 M675 1380h0 M686 1527h0 M606 1163h0 M650 1354h0 M667 1315h0 M656 1276h0 M642 1222h0 M643 1143h0 M646 1133h0 M648 1302h0 M622 1244h0 M658 1343h0 M609 1194h0 M621 1220h0 M592 1178h0 M674 1382h0 M677 1408h0 M654 1237h0 M652 1215h0 M635 1147h0 M580 1126h0 M633 1223h0 M619 1256h0 M677 1490h0 M668 1468h0 M685 1519h0 M672 1336h0 M655 1227h0 M673 1351h0 M678 1420h0 M652 1254h0 M675 1469h0 M607 1143h0 M626 1174h0 M619 1249h0 M661 1266h0 M606 1204h0 M657 1221h0 M652 1307h0 M687 1525h0 M630 1212h0 M647 1288h0 M675 1378h0 M629 1114h0 M656 1202h0 M657 1195h0 M588 1109h0 M678 1422h0 M590 1126h0 M638 1122h0 M663 1285h0 M674 1437h0 M663 1301h0 M548 1109h0 M627 1239h0 M626 1130h0 M669 1309h0 M548 1120h0 M679 1524h0 M650 1311h0 M664 1340h0 M614 1151h0 M643 1263h0 M620 1112h0 M588 1132h0 M663 1280h0 M673 1435h0 M648 1196h0 M580 1105h0 M526 1111h0 M680 1489h0 M685 1525h0 M675 1381h0 M646 1260h0 M642 1247h0 M636 1218h0 M633 1164h0 M650 1256h0 M627 1115h0 M676 1399h0 M624 1279h0 M654 1344h0 M658 1429h0 M654 1238h0 M679 1421h0 M663 1275h0 M651 1318h0 M679 1480h0 M676 1387h0 M649 1370h0 M664 1347h0 M661 1295h0 M648 1154h0 M674 1442h0 M586 1112h0 M674 1462h0 M575 1154h0 M629 1155h0 M664 1271h0 M654 1187h0 M651 1150h0 M660 1363h0 M594 1181h0 M653 1254h0 M682 1518h0 M641 1274h0 M675 1413h0 M580 1119h0 M669 1417h0 M592 1133h0 M596 1152h0 M659 1350h0 M624 1121h0 M677 1409h0 M609 1112h0 M676 1475h0 M654 1172h0 M669 1466h0 M675 1392h0 M678 1418h0 M641 1151h0 M688 1535h0 M601 1147h0 M677 1425h0 M563 1121h0 M685 1543h0 M670 1322h0 M667 1413h0 M671 1463h0 M630 1291h0 M656 1272h0 M654 1358h0 M641 1333h0 M606 1189h0 M682 1489h0 M582 1109h0 M643 1349h0 M651 1318h0 M678 1423h0 M669 1374h0 M647 1167h0 M632 1227h0 M666 1315h0 M566 1116h0 M661 1420h0 M680 1438h0 M644 1192h0 M618 1199h0 M653 1163h0 M665 1267h0 M581 1109h0 M662 1341h0 M603 1119h0 M665 1301h0 M652 1170h0 M661 1282h0 M655 1332h0 M633 1190h0 M618 1183h0 M624 1163h0 M661 1411h0 M638 1305h0 M688 1552h0 M657 1225h0 M673 1353h0 M651 1153h0 M669 1365h0 M679 1514h0 M665 1305h0 M659 1209h0 M571 1131h0 M659 1199h0 M689 1548h0 M674 1431h0 M689 1541h0 M648 1277h0 M529 1109h0 M634 1216h0 M640 1122h0 M578 1124h0 M681 1526h0 M669 1305h0 M673 1433h0 M671 1436h0 M670 1322h0 M648 1141h0 M660 1258h0 M688 1533h0 M678 1423h0 M561 1129h0 M626 1168h0 M666 1332h0 M659 1221h0 M672 1389h0 M650 1340h0 M619 1121h0 M614 1222h0 M671 1350h0 M666 1270h0 M668 1297h0 M623 1140h0 M668 1308h0 M668 1331h0 M676 1393h0 M679 1469h0 M643 1151h0 M673 1353h0 M685 1509h0 M663 1248h0 M624 1269h0 M649 1156h0 M655 1313h0 M644 1141h0 M670 1341h0 M568 1109h0 M674 1484h0 M682 1476h0 M637 1204h0 M660 1347h0 M668 1316h0 M655 1176h0 M596 1116h0 M564 1124h0 M688 1536h0 M686 1540h0 M572 1106h0 M656 1226h0 M630 1119h0 M582 1107h0 M664 1281h0 M679 1516h0 M641 1290h0 M629 1223h0 M677 1433h0 M675 1413h0 M635 1152h0 M595 1132h0 M638 1181h0 M673 1450h0 M679 1507h0 M660 1387h0 M652 1386h0 M657 1336h0 M659 1314h0 M686 1526h0 M630 1158h0 M629 1205h0 M674 1358h0 M622 1164h0 M639 1242h0 M666 1275h0 M649 1386h0 M604 1125h0 M660 1346h0 M657 1292h0 M688 1554h0 M633 1259h0 M656 1374h0 M691 1559h0 M649 1166h0 M665 1456h0 M636 1171h0 M677 1496h0 M644 1333h0 M686 1515h0 M688 1540h0 M654 1347h0 M652 1198h0 M678 1505h0 M689 1546h0 M655 1353h0 M685 1534h0 M657 1192h0 M645 1152h0 M667 1324h0 M649 1143h0 M657 1384h0 M620 1135h0 M689 1548h0 M645 1307h0 M536 1109h0 M667 1431h0 M646 1218h0 M687 1525h0 M598 1123h0 M687 1532h0 M633 1157h0 M673 1439h0 M674 1370h0 M624 1161h0 M677 1404h0 M633 1125h0 M658 1250h0 M651 1151h0 M646 1362h0 M647 1357h0 M610 1136h0 M623 1228h0 M659 1338h0 M676 1510h0 M629 1139h0 M609 1124h0 M616 1170h0 M661 1224h0 M684 1495h0 M638 1187h0 M569 1116h0 M676 1400h0 M672 1350h0 M669 1305h0 M644 1193h0 M654 1311h0 M685 1517h0 M658 1221h0 M674 1411h0 M650 1166h0 M630 1253h0 M633 1261h0 M651 1276h0 M644 1182h0 M677 1404h0 M662 1268h0 M651 1196h0 M624 1160h0 M623 1112h0 M654 1185h0 M673 1465h0 M684 1495h0 M643 1157h0 M640 1294h0 M669 1465h0 M602 1107h0 M649 1215h0 M575 1106h0 M575 1136h0 M645 1165h0 M589 1152h0 M626 1132h0 M649 1169h0 M690 1557h0 M674 1411h0 M686 1547h0 M672 1357h0 M598 1114h0 M636 1283h0 M690 1559h0 M587 1177h0 M673 1346h0 M581 1164h0 M669 1443h0 M675 1371h0 M686 1523h0 M672 1430h0 M655 1284h0 M679 1512h0 M626 1241h0 M640 1152h0 M659 1209h0 M663 1244h0 M686 1542h0 M667 1280h0 M617 1185h0 M658 1198h0 M648 1256h0 M632 1136h0 M650 1317h0 M615 1246h0 M617 1182h0 M554 1122h0 M669 1312h0 M666 1454h0 M574 1137h0 M687 1536h0 M669 1440h0 M665 1323h0 M620 1206h0 M660 1436h0 M601 1119h0 M675 1394h0 M531 1108h0 M668 1435h0 M648 1214h0 M681 1452h0 M664 1403h0 M626 1272h0 M649 1355h0 M638 1159h0 M642 1197h0 M655 1420h0 M677 1508h0 M687 1546h0 M678 1411h0 M651 1247h0 M565 1129h0 M658 1231h0 M610 1123h0 M610 1216h0 M667 1357h0 M650 1146h0 M665 1385h0 M656 1287h0 M623 1248h0 M627 1116h0 M678 1442h0 M649 1213h0 M623 1198h0 M612 1127h0 M673 1399h0 M674 1407h0 M673 1351h0 M640 1207h0 M665 1345h0 M595 1111h0 M682 1482h0 M622 1164h0 M654 1173h0 M597 1120h0 M676 1491h0 M646 1334h0 M681 1472h0 M613 1235h0 M684 1526h0 M669 1355h0 M632 1125h0 M624 1173h0 M662 1368h0 M686 1508h0 M652 1163h0 M617 1230h0 M638 1274h0 M640 1155h0 M679 1445h0 M668 1407h0 M674 1368h0 M609 1226h0 M657 1232h0 M690 1560h0 M669 1389h0 M668 1351h0 M651 1190h0 M617 1171h0 M641 1124h0 M629 1293h0 M670 1435h0 M677 1413h0 M668 1295h0 M669 1299h0 M645 1133h0 M647 1219h0 M653 1168h0 M561 1134h0 M687 1551h0 M644 1139h0 M684 1490h0 M609 1143h0 M684 1539h0 M681 1470h0 M655 1409h0 M673 1502h0 M664 1425h0 M671 1392h0 M759 1302h0 M716 1302h0 M766 1241h0 M718 1377h0 M704 1516h0 M781 1153h0 M702 1474h0 M700 1518h0 M703 1460h0 M735 1187h0 M776 1151h0 M717 1428h0 M700 1500h0 M743 1175h0 M720 1426h0 M696 1554h0 M747 1281h0 M711 1442h0 M740 1360h0 M704 1450h0 M867 1107h0 M705 1440h0 M714 1462h0 M741 1135h0 M728 1348h0 M845 1134h0 M802 1151h0 M698 1523h0 M721 1372h0 M702 1503h0 M727 1225h0 M705 1459h0 M700 1501h0 M701 1486h0 M740 1385h0 M752 1188h0 M724 1226h0 M709 1455h0 M705 1432h0 M745 1135h0 M705 1441h0 M789 1107h0 M768 1214h0 M704 1467h0 M712 1396h0 M720 1410h0 M791 1113h0 M736 1230h0 M741 1293h0 M741 1221h0 M715 1447h0 M738 1144h0 M806 1169h0 M772 1215h0 M699 1536h0 M760 1207h0 M769 1267h0 M742 1267h0 M726 1363h0 M775 1139h0 M750 1233h0 M708 1415h0 M730 1207h0 M698 1534h0 M775 1242h0 M727 1420h0 M721 1267h0 M726 1208h0 M737 1220h0 M774 1256h0 M720 1282h0 M792 1139h0 M728 1274h0 M729 1263h0 M725 1359h0 M804 1110h0 M763 1162h0 M754 1248h0 M700 1536h0 M726 1326h0 M823 1122h0 M751 1145h0 M719 1308h0 M708 1470h0 M696 1541h0 M727 1249h0 M737 1303h0 M758 1312h0 M731 1238h0 M718 1400h0 M802 1168h0 M735 1154h0 M761 1285h0 M715 1465h0 M726 1322h0 M732 1176h0 M763 1239h0 M766 1293h0 M713 1431h0 M724 1312h0 M709 1498h0 M833 1139h0 M716 1359h0 M714 1397h0 M720 1368h0 M751 1333h0 M704 1487h0 M756 1215h0 M712 1353h0 M724 1270h0 M714 1342h0 M735 1179h0 M757 1173h0 M710 1470h0 M738 1342h0 M736 1216h0 M714 1344h0 M734 1402h0 M701 1481h0 M700 1504h0 M796 1126h0 M729 1198h0 M728 1321h0 M732 1284h0 M742 1325h0 M727 1383h0 M709 1447h0 M713 1338h0 M784 1116h0 M713 1361h0 M698 1533h0 M732 1262h0 M696 1540h0 M768 1162h0 M734 1204h0 M861 1127h0 M742 1239h0 M811 1160h0 M818 1121h0 M805 1113h0 M788 1189h0 M763 1237h0 M768 1107h0 M695 1551h0 M769 1108h0 M743 1204h0 M731 1212h0 M733 1254h0 M768 1141h0 M732 1304h0 M715 1395h0 M822 1150h0 M755 1123h0 M734 1227h0 M808 1149h0 M752 1181h0 M715 1321h0 M724 1234h0 M745 1287h0 M720 1464h0 M774 1122h0 M717 1352h0 M700 1523h0 M702 1474h0 M754 1215h0 M709 1454h0 M713 1467h0 M754 1226h0 M720 1274h0 M710 1493h0 M702 1488h0 M707 1417h0 M725 1266h0 M727 1268h0 M727 1291h0 M721 1406h0 M734 1172h0 M743 1158h0 M738 1231h0 M736 1409h0 M740 1166h0 M719 1275h0 M713 1335h0 M732 1313h0 M785 1213h0 M729 1184h0 M751 1121h0 M727 1393h0 M775 1201h0 M745 1135h0 M730 1301h0 M708 1425h0 M706 1495h0 M723 1365h0 M766 1149h0 M698 1522h0 M734 1191h0 M784 1164h0 M713 1343h0 M738 1374h0 M750 1113h0 M752 1317h0 M730 1291h0 M743 1223h0 M704 1502h0 M715 1398h0 M710 1483h0 M724 1270h0 M801 1180h0 M713 1338h0 M728 1276h0 M719 1316h0 M703 1496h0 M705 1448h0 M705 1485h0 M727 1288h0 M701 1521h0 M725 1283h0 M726 1246h0 M727 1240h0 M772 1115h0 M855 1107h0 M880 1118h0 M734 1186h0 M722 1290h0 M712 1385h0 M699 1507h0 M910 1111h0 M713 1365h0 M718 1339h0 M723 1270h0 M740 1286h0 M704 1459h0 M732 1301h0 M706 1477h0 M718 1471h0 M734 1224h0 M698 1539h0 M750 1281h0 M727 1319h0 M715 1348h0 M726 1211h0 M733 1383h0 M740 1392h0 M708 1404h0 M786 1188h0 M862 1121h0 M706 1429h0 M788 1149h0 M712 1345h0 M720 1280h0 M708 1467h0 M793 1106h0 M949 1105h0 M709 1485h0 M965 1105h0 M768 1167h0 M717 1409h0 M750 1123h0 M709 1389h0 M779 1210h0 M726 1224h0 M718 1344h0 M709 1424h0 M719 1448h0 M773 1139h0 M723 1240h0 M701 1502h0 M714 1323h0 M704 1527h0 M712 1362h0 M721 1351h0 M724 1253h0 M834 1132h0 M741 1319h0 M714 1394h0 M722 1291h0 M720 1346h0 M709 1421h0 M726 1212h0 M764 1109h0 M798 1106h0 M773 1211h0 M962 1109h0 M859 1118h0 M730 1203h0 M720 1322h0 M761 1106h0 M732 1360h0 M694 1556h0 M710 1412h0 M723 1274h0 M773 1225h0 M749 1162h0 M702 1499h0 M712 1439h0 M759 1199h0 M718 1345h0 M694 1559h0 M713 1461h0 M718 1377h0 M708 1400h0 M742 1355h0 M757 1224h0 M720 1369h0 M714 1413h0 M782 1124h0 M708 1402h0 M761 1248h0 M930 1106h0 M735 1200h0 M723 1371h0 M732 1175h0 M770 1229h0 M695 1556h0 M728 1369h0 M700 1503h0 M837 1130h0 M819 1106h0 M775 1221h0 M716 1330h0 M794 1112h0 M728 1292h0 M716 1307h0 M769 1203h0 M733 1176h0 M841 1139h0 M705 1474h0 M737 1191h0 M714 1482h0 M702 1528h0 M712 1360h0 M698 1521h0 M713 1394h0 M849 1108h0 M801 1164h0 M789 1140h0 M723 1236h0 M739 1173h0 M724 1415h0 M699 1517h0 M749 1149h0 M731 1187h0 M708 1402h0 M719 1284h0 M735 1185h0 M771 1248h0 M715 1392h0 M695 1553h0 M782 1142h0 M722 1412h0 M748 1269h0 M785 1192h0 M729 1395h0 M762 1285h0 M772 1251h0 M775 1239h0 M747 1186h0 M732 1296h0 M718 1457h0 M795 1140h0 M727 1278h0 M867 1123h0 M696 1552h0 M716 1301h0 M736 1188h0 M770 1117h0 M737 1206h0 M753 1113h0 M700 1527h0 M752 1156h0 M741 1205h0 M803 1139h0 M702 1515h0 M701 1533h0 M732 1284h0 M716 1366h0 M786 1115h0 M715 1441h0 M902 1109h0 M810 1110h0 M748 1139h0 M769 1156h0 M738 1378h0 M720 1269h0 M756 1108h0 M745 1126h0 M732 1178h0 M705 1462h0 M755 1256h0 M766 1140h0 M805 1109h0 M702 1512h0 M759 1181h0 M733 1267h0 M735 1336h0 M715 1487h0 M700 1534h0 M736 1362h0 M740 1144h0 M707 1457h0 M883 1106h0 M751 1127h0 M700 1507h0 M706 1447h0 M710 1427h0 M740 1297h0 M711 1382h0 M713 1355h0 M787 1160h0 M762 1132h0 M793 1122h0 M753 1138h0 M696 1546h0 M720 1266h0 M733 1166h0 M715 1327h0 M740 1139h0 M722 1395h0 M738 1177h0 M756 1171h0 M717 1301h0 M791 1132h0 M766 1172h0 M739 1138h0 M890 1113h0 M718 1284h0 M751 1202h0 M801 1152h0 M823 1105h0 M718 1303h0 M695 1551h0 M823 1127h0 M860 1107h0 M713 1452h0 M757 1107h0 M720 1449h0 M803 1169h0 M705 1439h0 M701 1484h0 M731 1189h0 M760 1149h0 M951 1109h0 M781 1149h0 M779 1200h0 M729 1296h0 M717 1407h0 M724 1243h0 M716 1430h0 M777 1249h0 M753 1249h0 M755 1135h0 M716 1333h0 M695 1557h0 M735 1341h0 M781 1169h0 M706 1468h0 M738 1298h0 M733 1162h0 M769 1140h0 M745 1336h0 M734 1168h0 M725 1229h0 M753 1165h0 M711 1363h0 M764 1138h0 M720 1276h0 M725 1349h0 M701 1535h0 M714 1331h0 M723 1277h0 M732 1172h0 M727 1366h0 M736 1171h0 M695 1555h0 M713 1370h0 M702 1521h0 M720 1270h0 M723 1236h0 M795 1149h0 M748 1122h0 M786 1196h0 M760 1135h0 M718 1282h0 M717 1297h0 M736 1187h0 M694 1558h0 M738 1179h0 M732 1180h0 M762 1186h0 M730 1200h0 M890 1108h0 M735 1179h0 M722 1460h0 M717 1291h0 M716 1453h0 M776 1106h0 M709 1452h0 M853 1139h0 M738 1149h0 M747 1368h0 M710 1376h0 M767 1106h0 M750 1352h0 M809 1123h0 M711 1357h0 M702 1495h0 M764 1209h0 M738 1287h0 M830 1111h0 M831 1131h0 M719 1415h0 M754 1341h0 M715 1449h0 M727 1203h0 M693 1560h0 M830 1109h0 M695 1555h0 M735 1149h0 M755 1134h0 M731 1199h0 M718 1480h0 M696 1545h0 M711 1370h0 M736 1248h0 M771 1186h0 M797 1152h0 M719 1410h0 M751 1115h0 M728 1434h0 M774 1158h0 M731 1405h0 M746 1128h0 M846 1112h0 M757 1203h0 M790 1135h0 M747 1170h0 M759 1311h0 M804 1143h0 M759 1110h0 M711 1370h0 M720 1456h0 M783 1152h0 M754 1343h0 M727 1264h0 M703 1480h0 M701 1502h0 M766 1223h0 M709 1404h0 M753 1348h0 M743 1220h0 M734 1347h0 M734 1216h0 M784 1139h0 M768 1191h0 M877 1109h0 M836 1134h0 M707 1445h0 M750 1119h0 M831 1148h0 M705 1435h0 M831 1105h0 M739 1244h0 M718 1456h0 M874 1128h0 M734 1247h0 M747 1132h0 M746 1142h0 M721 1288h0 M733 1169h0 M909 1113h0 M735 1237h0 M880 1127h0 M900 1106h0 M771 1109h0 M732 1259h0 M722 1374h0 M710 1372h0 M736 1177h0 M730 1257h0 M744 1121h0 M751 1112h0 M753 1342h0 M717 1313h0 M726 1322h0 M782 1174h0 M740 1166h0 M766 1109h0 M702 1508h0 M717 1388h0 M742 1167h0 M724 1270h0 M719 1273h0 M726 1215h0 M737 1256h0 M709 1501h0 M704 1489h0 M784 1178h0 M763 1124h0 M882 1112h0 M736 1398h0 M816 1141h0 M721 1370h0 M760 1239h0 M771 1253h0 M700 1510h0 M727 1285h0 M710 1494h0 M733 1220h0 M759 1186h0 M728 1352h0 M743 1276h0 M811 1105h0 M731 1368h0 M706 1440h0 M708 1511h0 M745 1327h0 M740 1145h0 M762 1151h0 M702 1489h0 M705 1515h0 M754 1109h0 M694 1559h0 M728 1418h0 M730 1181h0 M717 1472h0 M751 1220h0 M963 1106h0 M759 1322h0 M716 1365h0 M768 1140h0 M707 1471h0 M720 1285h0 M747 1131h0 M746 1181h0 M699 1521h0 M786 1155h0 M699 1518h0 M743 1179h0 M752 1112h0 M720 1291h0 M794 1156h0 M738 1257h0 M735 1347h0 M709 1507h0 M826 1122h0 M759 1107h0 M734 1164h0 M746 1132h0 M720 1438h0 M736 1267h0 M719 1399h0 M787 1115h0 M758 1147h0 M696 1545h0 M751 1188h0 M716 1349h0 M740 1218h0 M699 1513h0 M705 1487h0 M701 1504h0 M712 1344h0 M775 1153h0 M745 1191h0 M696 1548h0 M725 1354h0 M818 1163h0 M726 1212h0 M734 1231h0 M754 1148h0 M916 1114h0 M723 1276h0 M735 1290h0 M765 1215h0 M770 1245h0 M721 1410h0 M801 1135h0 M698 1546h0 M771 1109h0 M862 1105h0 M708 1485h0 M724 1351h0 M719 1389h0 M706 1430h0 M743 1252h0 M810 1113h0 M700 1503h0 M726 1391h0 M715 1487h0 M729 1337h0 M732 1254h0 M720 1317h0 M713 1430h0 M738 1235h0 M735 1377h0 M717 1440h0 M733 1160h0 M742 1124h0 M720 1269h0 M753 1253h0 M767 1238h0 M741 1203h0 M733 1167h0 M716 1305h0 M751 1131h0 M742 1388h0 M740 1151h0 M698 1539h0 M732 1429h0 M715 1349h0 M698 1548h0 M978 1105h0 M715 1343h0 M726 1254h0 M711 1415h0 M885 1116h0 M730 1192h0 M711 1371h0 M724 1319h0 M877 1124h0 M711 1368h0 M706 1493h0 M718 1445h0 M750 1137h0 M818 1138h0 M700 1525h0 M751 1352h0 M729 1276h0 M808 1173h0 M746 1124h0 M703 1462h0 M765 1145h0 M747 1157h0 M857 1107h0 M764 1114h0 M819 1120h0 M764 1151h0 M826 1108h0 M779 1196h0 M746 1144h0 M702 1473h0 M733 1261h0 M733 1176h0 M720 1265h0 M777 1105h0 M730 1211h0 M716 1377h0 M731 1321h0 M741 1378h0 M741 1296h0 M717 1294h0 M710 1452h0 M874 1109h0 M769 1267h0 M737 1228h0 M713 1491h0 M713 1413h0 M755 1234h0 M703 1492h0 M722 1373h0 M719 1291h0 M736 1173h0 M695 1549h0 M738 1152h0 M715 1440h0 M730 1183h0 M734 1356h0 M735 1339h0 M715 1316h0 M726 1428h0 M756 1136h0 M698 1549h0 M722 1441h0 M839 1133h0 M705 1445h0 M708 1501h0 M709 1504h0 M749 1118h0 M706 1434h0 M766 1198h0 M707 1449h0 M753 1226h0 M694 1557h0 M731 1198h0 M779 1142h0 M711 1383h0 M720 1397h0 M730 1302h0 M724 1225h0 M741 1284h0 M715 1485h0 M714 1342h0 M706 1467h0 M701 1535h0 M745 1117h0 M848 1110h0 M742 1262h0 M752 1189h0 M751 1118h0 M710 1391h0 M806 1122h0 M698 1549h0 M709 1482h0 M763 1105h0 M729 1307h0 M704 1453h0 M714 1330h0 M708 1404h0 M753 1260h0 M697 1550h0 M709 1420h0 M726 1337h0 M739 1263h0 M731 1240h0 M720 1408h0 M699 1543h0 M706 1431h0 M733 1268h0 M728 1425h0 M736 1145h0 M718 1474h0 M750 1194h0 M734 1214h0 M734 1336h0 M702 1494h0 M731 1263h0 M695 1550h0 M710 1505h0 M889 1107h0 M780 1122h0 M714 1333h0 M740 1305h0 M745 1198h0 M726 1219h0 M809 1164h0 M726 1336h0 M723 1434h0 M712 1404h0 M723 1286h0 M919 1112h0 M772 1115h0 M705 1463h0 M700 1501h0 M766 1131h0 M741 1336h0 M710 1491h0 M849 1141h0 M799 1110h0 M727 1199h0 M837 1147h0 M697 1540h0 M694 1560h0 M836 1108h0 M743 1147h0 M711 1382h0 M727 1200h0 M735 1188h0 M743 1122h0 M725 1223h0 M699 1517h0 M726 1206h0 M706 1438h0 M773 1115h0 M710 1502h0 M740 1250h0 M903 1114h0 M709 1403h0 M704 1455h0 M725 1258h0 M719 1300h0 M721 1287h0 M760 1106h0 M711 1424h0 M743 1272h0 M736 1164h0 M758 1224h0 M716 1390h0 M717 1320h0 M701 1525h0 M709 1433h0 M741 1305h0 M749 1282h0 M782 1170h0 M747 1187h0 M762 1130h0 M701 1485h0 M770 1142h0 M732 1348h0 M731 1364h0 M716 1318h0 M722 1288h0 M818 1105h0 M697 1543h0 M719 1407h0 M820 1108h0 M696 1552h0 M791 1179h0 M747 1354h0 M710 1461h0 M737 1251h0 M778 1187h0 M884 1126h0 M739 1195h0 M719 1321h0 M714 1321h0 M702 1474h0 M714 1476h0 M722 1423h0 M773 1142h0 M861 1112h0 M707 1423h0 M723 1239h0 M732 1353h0 M826 1112h0 M702 1480h0 M701 1498h0 M758 1106h0 M709 1405h0 M706 1468h0 M866 1116h0 M729 1190h0 M779 1105h0 M736 1248h0 M716 1307h0 M943 1105h0 M754 1231h0 M706 1490h0 M710 1395h0 M761 1149h0 M697 1551h0 M771 1156h0 M740 1176h0 M810 1173h0 M738 1213h0 M872 1117h0 M867 1116h0 M738 1158h0 M781 1109h0 M698 1530h0 M763 1192h0 M788 1155h0 M700 1537h0 M886 1109h0 M723 1424h0 M716 1305h0 M725 1358h0 M753 1259h0 M753 1140h0 M749 1334h0 M696 1554h0 M747 1166h0 M730 1278h0 M772 1115h0 M700 1514h0 M714 1480h0 M764 1273h0 M696 1544h0 M760 1312h0 M739 1184h0 M843 1132h0 M734 1297h0 M754 1315h0 M735 1274h0 M729 1241h0 M698 1539h0 M721 1263h0 M713 1338h0 M724 1252h0 M728 1217h0 M752 1153h0 M751 1124h0 M710 1383h0 M707 1459h0 M793 1149h0 M734 1210h0 M765 1105h0 M700 1518h0 M743 1236h0 M749 1117h0 M710 1469h0 M779 1187h0 M746 1177h0 M726 1421h0 M808 1173h0 M742 1149h0 M736 1273h0 M729 1286h0 M708 1418h0 M749 1236h0 M702 1487h0 M740 1201h0 M754 1168h0 M699 1520h0 M721 1450h0 M727 1261h0 M787 1123h0 M706 1458h0 M792 1164h0 M780 1133h0 M715 1410h0 M758 1177h0 M756 1194h0 M723 1428h0 M707 1415h0 M769 1169h0 M748 1336h0 M723 1238h0 M749 1114h0 M723 1285h0 M935 1108h0 M774 1113h0 M720 1415h0 M824 1152h0 M761 1241h0 M748 1230h0 M697 1530h0 M734 1300h0 M698 1538h0 M734 1166h0 M718 1292h0 M784 1200h0 M742 1141h0 M722 1354h0 M701 1499h0 M713 1405h0 M695 1556h0 M751 1144h0 M733 1254h0 M738 1312h0 M796 1131h0 M708 1445h0 M737 1169h0 M715 1320h0 M744 1149h0 M732 1365h0 M719 1287h0 M727 1201h0 M694 1558h0 M705 1454h0 M733 1171h0 M754 1215h0 M722 1291h0 M751 1126h0 M708 1412h0 M696 1554h0 M738 1137h0 M704 1446h0 M722 1354h0 M744 1225h0 M886 1106h0 M703 1456h0 M787 1173h0 M738 1145h0 M730 1433h0 M695 1552h0 M740 1127h0 M757 1124h0 M700 1533h0 M755 1140h0 M719 1290h0 M759 1111h0 M730 1180h0 M699 1543h0 M732 1253h0 M753 1292h0 M774 1225h0 M698 1531h0 M761 1305h0 M801 1181h0 M744 1266h0 M770 1118h0 M714 1347h0 M697 1540h0 M747 1299h0 M764 1185h0 M729 1390h0 M737 1187h0 M725 1308h0 M739 1253h0 M708 1406h0 M736 1149h0 M721 1275h0 M699 1513h0 M756 1241h0 M731 1173h0 M780 1156h0 M782 1199h0 M751 1133h0 M726 1263h0 M731 1178h0 M750 1269h0 M785 1207h0 M720 1328h0 M731 1206h0 M781 1118h0 M751 1283h0 M748 1115h0 M702 1498h0 M736 1386h0 M734 1173h0 M709 1419h0 M720 1267h0 M725 1307h0 M739 1149h0 M707 1511h0 M736 1184h0 M735 1195h0 M781 1213h0 M787 1106h0 M737 1290h0 M761 1193h0 M725 1233h0 M700 1501h0 M742 1374h0 M808 1137h0 M710 1417h0 M700 1504h0 M770 1275h0 M759 1278h0 M750 1221h0 M748 1259h0 M726 1392h0 M709 1406h0 M739 1345h0 M709 1398h0 M717 1291h0 M698 1540h0 M765 1160h0 M751 1185h0 M726 1422h0 M696 1548h0 M732 1285h0 M739 1132h0 M715 1486h0 M705 1449h0 M715 1330h0 M770 1188h0 M699 1514h0 M721 1418h0 M711 1370h0 M761 1199h0 M738 1147h0 M723 1256h0 M734 1166h0 M736 1149h0 M731 1226h0 M744 1129h0 M725 1222h0 M730 1179h0 M709 1394h0 M722 1251h0 M748 1362h0 M710 1374h0 M739 1144h0 M701 1484h0 M725 1408h0 M708 1451h0 M731 1228h0 M722 1345h0 M717 1375h0 M711 1457h0 M746 1169h0 M812 1156h0 M787 1110h0 M745 1233h0 M813 1120h0 M751 1127h0 M729 1185h0 M693 1559h0 M706 1495h0 M702 1513h0 M728 1289h0 M723 1290h0 M778 1139h0 M731 1427h0 M705 1499h0 M767 1147h0 M832 1135h0 M712 1404h0 M781 1189h0 M723 1236h0 M719 1353h0 M852 1123h0 M739 1149h0 M722 1280h0 M741 1192h0 M702 1513h0 M763 1234h0 M707 1511h0 M903 1107h0 M721 1416h0 M724 1387h0 M822 1148h0 M707 1427h0 M720 1282h0 M770 1157h0 M740 1129h0 M731 1326h0 M700 1499h0 M730 1184h0 M707 1503h0 M769 1132h0 M726 1365h0 M737 1258h0 M735 1149h0 M772 1133h0 M847 1130h0 M730 1177h0 M732 1341h0 M715 1397h0 M705 1504h0 M704 1516h0 M747 1170h0 M775 1148h0 M738 1215h0 M728 1206h0 M741 1311h0 M728 1199h0 M732 1324h0 M753 1290h0 M703 1521h0 M757 1316h0 M730 1297h0 M746 1148h0 M731 1205h0 M734 1170h0 M791 1120h0 M760 1236h0 M739 1386h0 M700 1500h0 M748 1348h0 M750 1116h0 M764 1106h0 M703 1524h0 M740 1130h0 M859 1121h0 M750 1189h0 M737 1203h0 M752 1335h0 M785 1112h0 M732 1379h0 M717 1331h0 M768 1107h0 M758 1296h0 M733 1310h0 M759 1213h0 M697 1540h0 M725 1340h0 M804 1163h0 M781 1114h0 M702 1509h0 M728 1216h0 M760 1208h0 M726 1361h0 M699 1526h0 M761 1174h0 M704 1513h0 M715 1466h0 M849 1107h0 M774 1160h0 M724 1423h0 M752 1143h0 M828 1133h0 M721 1374h0 M745 1290h0 M724 1244h0 M701 1529h0 M737 1264h0 M741 1148h0 M843 1111h0 M706 1439h0 M756 1144h0 M776 1174h0 M739 1161h0 M768 1222h0 M710 1379h0 M740 1129h0 M729 1354h0 M748 1136h0 M703 1463h0 M732 1390h0 M717 1346h0 M736 1394h0 M737 1295h0 M756 1317h0 M698 1542h0 M721 1260h0 M730 1260h0 M720 1360h0 M737 1159h0 M718 1400h0 M708 1412h0 M723 1240h0 M752 1138h0 M805 1170h0 M783 1121h0 M877 1118h0 M858 1120h0 M738 1186h0 M807 1119h0 M833 1114h0 M722 1282h0 M734 1343h0 M914 1113h0 M712 1478h0 M700 1509h0 M768 1126h0 M705 1505h0 M829 1121h0 M710 1435h0 M745 1343h0 M760 1231h0 M747 1301h0 M703 1460h0 M775 1142h0 M733 1198h0 M804 1105h0 M694 1559h0 M748 1150h0 M715 1317h0 M772 1137h0 M756 1205h0 M741 1126h0 M706 1501h0 M729 1340h0 M739 1143h0 M749 1240h0 M736 1248h0 M912 1115h0 M747 1158h0 M728 1434h0 M739 1207h0 M708 1455h0 M748 1124h0 M727 1194h0 M909 1112h0 M719 1451h0 M738 1181h0 M698 1519h0 M731 1235h0 M723 1397h0 M696 1556h0 M754 1320h0 M717 1315h0 M723 1270h0 M708 1500h0 M809 1120h0 M739 1340h0 M786 1130h0 M770 1121h0 M734 1204h0 M740 1224h0 M784 1122h0 M840 1114h0 M806 1108h0 M902 1105h0 M702 1521h0 M734 1245h0 M708 1404h0 M741 1201h0 M763 1138h0 M728 1200h0 M724 1311h0 M783 1125h0 M765 1154h0 M764 1187h0 M715 1316h0 M764 1194h0 M765 1194h0 M718 1469h0 M713 1402h0 M721 1256h0 M735 1178h0 M722 1429h0 M739 1333h0 M747 1233h0 M727 1202h0 M760 1277h0 M764 1265h0 M729 1214h0 M763 1134h0 M730 1183h0 M793 1185h0 M711 1419h0 M756 1157h0 M752 1192h0 M762 1173h0 M709 1411h0 M765 1152h0 M755 1302h0 M710 1438h0 M754 1263h0 M717 1304h0 M726 1212h0 M736 1355h0 M713 1336h0 M724 1222h0 M733 1362h0 M789 1146h0 M757 1110h0 M699 1511h0 M750 1343h0 M713 1410h0 M733 1233h0 M820 1133h0 M750 1276h0 M724 1256h0 M734 1165h0 M718 1383h0 M783 1214h0 M734 1205h0 M742 1153h0 M756 1161h0 M737 1229h0 M706 1452h0 M727 1320h0 M700 1525h0 M700 1514h0 M741 1144h0 M705 1442h0 M786 1176h0 M849 1112h0 M728 1217h0 M703 1524h0 M737 1150h0 M717 1293h0 M699 1524h0 M729 1186h0 M738 1260h0 M813 1126h0 M755 1272h0 M708 1506h0 M730 1237h0 M720 1336h0 M726 1245h0 M741 1131h0 M750 1335h0 M695 1548h0 M736 1147h0 M848 1120h0 M736 1198h0 M789 1144h0 M837 1143h0 M952 1107h0 M736 1224h0 M723 1266h0 M703 1504h0 M757 1288h0 M741 1349h0 M755 1124h0 M761 1150h0 M801 1166h0 M750 1149h0 M730 1222h0 M719 1377h0 M709 1428h0 M719 1453h0 M777 1221h0 M699 1512h0 M756 1291h0 M805 1155h0 M779 1181h0 M780 1210h0 M704 1479h0 M846 1106h0 M721 1299h0 M702 1504h0 M721 1280h0 M718 1389h0 M860 1130h0 M733 1172h0 M715 1385h0 M710 1434h0 M744 1293h0 M702 1477h0 M777 1122h0 M823 1132h0 M735 1196h0 M759 1116h0 M731 1204h0 M743 1149h0 M710 1385h0 M742 1268h0 M909 1106h0 M709 1405h0 M752 1111h0 M702 1477h0 M730 1321h0 M721 1348h0 M735 1243h0 M708 1405h0 M752 1168h0 M746 1227h0 M781 1217h0 M818 1150h0 M909 1106h0 M755 1120h0 M772 1231h0 M778 1127h0 M712 1425h0 M744 1384h0 M707 1432h0 M748 1189h0 M738 1401h0 M715 1460h0 M738 1322h0 M713 1475h0 M744 1137h0 M779 1223h0 M775 1185h0 M768 1178h0 M718 1476h0 M734 1302h0 M828 1136h0 M736 1149h0 M707 1469h0 M724 1248h0 M704 1509h0 M705 1471h0 M735 1257h0 M745 1118h0 M721 1314h0 M715 1457h0 M725 1354h0 M764 1159h0 M714 1352h0 M722 1249h0 M719 1356h0 M783 1151h0 M707 1430h0 M838 1105h0 M698 1528h0 M715 1432h0 M710 1374h0 M725 1218h0 M705 1525h0 M722 1378h0 M707 1415h0 M695 1549h0 M723 1233h0 M903 1115h0 M763 1144h0 M727 1386h0 M750 1239h0 M705 1452h0 M745 1214h0 M723 1367h0 M768 1108h0 M773 1202h0 M717 1325h0 M721 1299h0 M699 1538h0 M704 1480h0 M830 1127h0 M822 1140h0 M729 1411h0 M737 1302h0 M773 1107h0 M742 1124h0 M718 1282h0 M721 1263h0 M808 1142h0 M696 1551h0 M715 1324h0 M770 1231h0 M776 1114h0 M738 1159h0 M811 1132h0 M788 1195h0 M762 1188h0 M763 1205h0 M946 1112h0 M782 1161h0 M728 1189h0 M719 1285h0 M708 1420h0 M813 1110h0 M736 1309h0 M710 1379h0 M708 1497h0 M708 1399h0 M734 1176h0 M702 1482h0 M727 1219h0 M709 1389h0 M754 1250h0 M730 1204h0 M721 1272h0 M732 1387h0 M734 1157h0 M726 1209h0 M721 1461h0 M728 1313h0 M722 1310h0 M737 1286h0 M705 1460h0 M766 1131h0 M773 1110h0 M759 1271h0 M763 1310h0 M733 1421h0 M703 1482h0 M794 1140h0 M714 1394h0 M714 1443h0 M704 1442h0 M720 1455h0 M799 1156h0 M793 1167h0 M719 1451h0 M750 1118h0 M720 1290h0 M781 1212h0 M700 1501h0 M813 1136h0 M716 1300h0 M697 1533h0 M884 1116h0 M704 1447h0 M760 1304h0 M695 1557h0 M722 1455h0 M755 1220h0 M715 1465h0 M749 1315h0 M734 1405h0 M710 1498h0 M750 1141h0 M720 1263h0 M791 1174h0 M697 1543h0 M720 1274h0 M763 1284h0 M760 1183h0 M710 1441h0 M753 1234h0 M751 1139h0 M734 1156h0 M795 1160h0 M713 1400h0 M782 1123h0 M762 1175h0 M705 1466h0 M773 1190h0 M712 1466h0 M782 1193h0 M943 1112h0 M709 1384h0 M816 1137h0 M699 1516h0 M748 1327h0 M747 1353h0 M702 1479h0 M887 1116h0 M802 1161h0 M698 1531h0 M708 1410h0 M720 1271h0 M714 1331h0 M724 1231h0 M697 1545h0 M731 1194h0 M713 1421h0 M716 1299h0 M740 1205h0 M704 1455h0 M813 1110h0 M735 1151h0 M778 1121h0 M728 1232h0 M710 1374h0 M749 1177h0 M817 1160h0 M740 1195h0 M700 1527h0 M755 1156h0 M696 1554h0 M730 1184h0 M700 1510h0 M779 1115h0 M711 1408h0 M728 1432h0 M743 1356h0 M715 1311h0 M714 1359h0 M725 1436h0 M749 1250h0 M822 1110h0 M747 1349h0 M757 1113h0 M719 1407h0 M776 1242h0 M894 1114h0 M750 1122h0 M712 1348h0 M710 1410h0 M715 1428h0 M787 1164h0 M706 1505h0 M777 1118h0 M789 1113h0 M753 1173h0 M712 1473h0 M706 1427h0 M730 1259h0 M736 1386h0 M932 1105h0 M728 1192h0 M727 1327h0 M700 1533h0 M756 1251h0 M705 1487h0 M758 1187h0 M713 1462h0 M715 1326h0 M721 1388h0 M716 1385h0 M768 1108h0 M716 1312h0 M739 1190h0 M751 1130h0 M770 1242h0 M710 1382h0 M764 1216h0 M876 1105h0 M712 1382h0 M779 1106h0 M757 1191h0 M753 1115h0 M709 1384h0 M722 1314h0 M738 1193h0 M767 1196h0 M703 1503h0 M739 1363h0 M776 1121h0 M884 1107h0 M701 1490h0 M746 1230h0 M718 1282h0 M731 1224h0 M753 1318h0 M801 1115h0 M730 1248h0 M759 1143h0 M810 1123h0 M788 1178h0 M737 1160h0 M796 1142h0 M719 1456h0 M741 1274h0 M744 1202h0 M858 1122h0 M737 1231h0 M784 1120h0 M840 1144h0 M772 1114h0 M755 1115h0 M720 1267h0 M729 1335h0 M711 1410h0 M718 1336h0 M749 1364h0 M792 1139h0 M707 1429h0 M807 1110h0 M739 1271h0 M711 1407h0 M718 1434h0 M738 1160h0 M764 1244h0 M706 1477h0 M731 1280h0 M708 1399h0 M719 1376h0 M754 1297h0 M782 1121h0 M698 1527h0 M717 1325h0 M719 1411h0 M743 1129h0 M739 1198h0 M729 1429h0 M717 1292h0 M772 1246h0 M783 1115h0 M767 1168h0 M735 1149h0 M768 1142h0 M765 1230h0 M776 1150h0 M699 1511h0 M723 1262h0 M729 1214h0 M709 1405h0 M695 1549h0 M761 1178h0 M745 1125h0 M756 1193h0 M712 1444h0 M755 1175h0 M696 1548h0 M742 1122h0 M773 1244h0 M702 1520h0 M747 1156h0 M754 1150h0 M707 1413h0 M721 1276h0 M743 1327h0 M711 1410h0 M701 1492h0 M732 1178h0 M720 1362h0 M715 1318h0 M830 1120h0 M749 1343h0 M744 1235h0 M768 1233h0 M748 1178h0 M710 1423h0 M724 1235h0 M698 1534h0 M723 1252h0 M732 1224h0 M752 1142h0 M752 1201h0 M935 1114h0 M703 1457h0 M753 1244h0 M926 1109h0 M697 1539h0 M791 1189h0 M773 1174h0 M705 1432h0 M727 1255h0 M704 1445h0 M712 1355h0 M725 1320h0 M708 1511h0 M716 1444h0 M747 1210h0 M756 1231h0 M697 1544h0 M781 1131h0 M761 1281h0 M739 1188h0 M724 1368h0 M740 1263h0 M735 1155h0 M739 1236h0 M714 1388h0 M785 1193h0 M700 1499h0 M705 1465h0 M884 1110h0 M764 1279h0 M723 1235h0 M754 1217h0 M774 1156h0 M776 1155h0 M874 1106h0 M751 1147h0 M697 1539h0 M924 1114h0 M713 1438h0 M730 1278h0 M742 1340h0 M758 1128h0 M721 1267h0 M806 1121h0 M697 1549h0 M737 1186h0 M696 1552h0 M715 1314h0 M821 1127h0 M753 1206h0 M797 1135h0 M720 1272h0 M750 1126h0 M742 1217h0 M698 1524h0 M767 1144h0 M734 1153h0 M729 1269h0 M723 1344h0 M785 1114h0 M745 1118h0 M718 1467h0 M700 1531h0 M726 1323h0 M724 1277h0 M705 1476h0 M701 1502h0 M769 1162h0 M719 1374h0 M735 1152h0 M714 1333h0 M707 1459h0 M712 1385h0 M701 1498h0 M694 1554h0 M711 1393h0 M701 1519h0 M719 1391h0 M709 1410h0 M752 1211h0 M768 1112h0 M739 1145h0 M733 1163h0 M726 1294h0 M739 1395h0 M736 1315h0 M714 1490h0 M766 1239h0 M736 1232h0 M781 1163h0 M741 1162h0 M723 1240h0 M704 1442h0 M855 1127h0 M707 1415h0 M751 1152h0 M769 1106h0 M787 1197h0 M854 1110h0 M773 1149h0 M889 1106h0 M699 1509h0 M699 1542h0 M746 1183h0 M765 1105h0 M775 1111h0 M733 1162h0 M757 1112h0 M755 1111h0 M707 1454h0 M876 1117h0 M744 1137h0 M904 1109h0 M742 1241h0 M758 1271h0 M709 1495h0 M744 1282h0 M807 1151h0 M719 1274h0 M786 1191h0 M731 1177h0 M695 1550h0 M722 1303h0 M741 1165h0 M701 1515h0 M723 1378h0 M806 1160h0 M700 1505h0 M864 1110h0 M840 1132h0 M735 1260h0 M756 1171h0 M729 1184h0 M758 1283h0 M721 1352h0 M703 1461h0 M748 1150h0 M758 1107h0 M711 1431h0 M714 1346h0 M710 1500h0 M730 1195h0 M732 1197h0 M754 1213h0 M731 1410h0 M745 1324h0 M713 1343h0 M744 1138h0 M752 1121h0 M734 1354h0 M739 1242h0 M733 1339h0 M731 1233h0 M737 1276h0 M770 1128h0 M751 1267h0 M803 1174h0 M723 1385h0 M721 1267h0 M733 1195h0 M721 1255h0 M984 1106h0 M779 1105h0 M782 1222h0 M733 1196h0 M742 1259h0 M709 1478h0 M899 1115h0 M700 1499h0 M724 1443h0 M722 1456h0 M758 1182h0 M726 1418h0 M752 1318h0 M718 1349h0 M699 1524h0 M873 1120h0 M764 1208h0 M710 1485h0 M715 1365h0 M728 1270h0 M707 1436h0 M757 1238h0 M836 1122h0 M741 1293h0 M713 1360h0 M707 1486h0 M727 1202h0 M735 1147h0 M732 1176h0 M756 1107h0 M750 1120h0 M759 1118h0 M746 1121h0 M722 1307h0 M713 1362h0 M716 1344h0 M727 1233h0 M915 1118h0 M732 1165h0 M714 1325h0 M750 1120h0 M750 1146h0 M734 1193h0 M711 1417h0 M707 1493h0 M704 1483h0 M749 1194h0 M693 1559h0 M738 1361h0 M718 1292h0 M694 1559h0 M702 1508h0 M784 1123h0 M737 1178h0 M713 1488h0 M737 1304h0 M720 1352h0 M718 1411h0 M695 1555h0 M701 1485h0 M723 1250h0 M730 1182h0 M706 1473h0 M752 1294h0 M729 1412h0 M757 1108h0 M740 1254h0 M695 1550h0 M748 1128h0 M823 1125h0 M721 1288h0 M712 1404h0 M736 1145h0 M726 1417h0 M743 1377h0 M697 1536h0 M776 1127h0 M726 1274h0 M741 1151h0 M697 1543h0 M756 1229h0 M730 1390h0 M709 1421h0 M756 1160h0 M711 1394h0 M700 1498h0 M748 1156h0 M739 1139h0 M729 1184h0 M729 1317h0 M815 1130h0 M742 1225h0 M705 1484h0 M759 1121h0 M843 1132h0 M734 1158h0 M729 1243h0 M706 1420h0 M744 1153h0 M783 1121h0 M713 1490h0 M715 1309h0 M714 1337h0 M738 1283h0 M700 1524h0 M733 1163h0 M712 1402h0 M750 1185h0 M726 1355h0 M920 1106h0 M743 1350h0 M729 1354h0 M742 1169h0 M700 1515h0 M701 1501h0 M775 1245h0 M725 1338h0 M794 1105h0 M787 1127h0 M696 1545h0 M707 1513h0 M833 1138h0 M711 1378h0 M792 1130h0 M703 1475h0 M719 1413h0 M813 1126h0 M733 1176h0 M722 1246h0 M702 1477h0 M698 1549h0 M706 1487h0 M695 1551h0 M740 1208h0 M799 1135h0 M709 1442h0 M774 1111h0 M721 1467h0 M725 1213h0 M711 1474h0 M808 1109h0 M787 1205h0 M760 1301h0 M731 1228h0 M719 1280h0 M730 1222h0 M821 1139h0 M742 1303h0 M717 1319h0 M734 1172h0 M718 1332h0 M838 1126h0 M878 1126h0 M758 1191h0 M695 1550h0 M703 1480h0 M729 1283h0 M742 1286h0 M711 1411h0 M740 1368h0 M731 1271h0 M724 1249h0 M718 1320h0 M779 1209h0 M739 1176h0 M727 1348h0 M703 1461h0 M735 1166h0 M761 1129h0 M727 1412h0 M789 1145h0 M760 1142h0 M749 1126h0 M717 1439h0 M763 1263h0 M755 1122h0 M712 1357h0 M733 1241h0 M747 1139h0 M757 1166h0 M748 1195h0 M762 1191h0 M708 1479h0 M708 1452h0 M889 1116h0 M736 1145h0 M708 1398h0 M729 1271h0 M795 1110h0 M816 1123h0 M707 1457h0 M725 1295h0 M760 1315h0 M766 1157h0 M952 1106h0 M789 1111h0 M744 1206h0 M736 1162h0 M754 1279h0 M697 1539h0 M742 1160h0 M856 1123h0 M706 1432h0 M703 1501h0 M734 1313h0 M709 1400h0 M745 1201h0 M737 1333h0 M738 1154h0 M719 1357h0 M699 1543h0 M702 1533h0 M711 1484h0 M884 1110h0 M704 1455h0 M867 1122h0 M738 1138h0 M734 1202h0 M732 1181h0 M762 1245h0 M805 1108h0 M704 1519h0 M828 1107h0 M739 1144h0 M717 1472h0 M694 1558h0 M783 1106h0 M727 1209h0 M702 1503h0 M695 1550h0 M722 1251h0 M699 1541h0 M760 1123h0 M698 1541h0 M747 1220h0 M761 1252h0 M801 1117h0 M700 1501h0 M742 1184h0 M748 1316h0 M718 1286h0 M698 1529h0 M705 1435h0 M811 1120h0 M767 1220h0 M753 1112h0 M783 1116h0 M741 1136h0 M756 1244h0 M710 1425h0 M731 1198h0 M716 1367h0 M710 1374h0 M763 1153h0 M947 1105h0 M707 1456h0 M766 1119h0 M735 1198h0 M724 1236h0 M752 1112h0 M745 1129h0 M725 1227h0 M786 1130h0 M720 1299h0 M720 1375h0 M810 1148h0 M717 1301h0 M720 1265h0 M786 1183h0 M740 1217h0 M798 1108h0 M716 1476h0 M777 1247h0 M696 1545h0 M706 1443h0 M725 1319h0 M738 1153h0 M697 1551h0 M764 1225h0 M716 1371h0 M722 1440h0 M780 1195h0 M730 1202h0 M710 1487h0 M761 1152h0 M816 1133h0 M896 1121h0 M702 1497h0 M702 1501h0 M753 1320h0 M756 1107h0 M749 1184h0 M710 1393h0 M749 1113h0 M768 1105h0 M699 1523h0 M735 1167h0 M726 1238h0 M755 1150h0 M779 1228h0 M724 1230h0 M854 1112h0 M737 1279h0 M698 1532h0 M757 1139h0 M702 1529h0 M744 1299h0 M745 1182h0 M770 1149h0 M715 1421h0 M704 1466h0 M720 1424h0 M708 1471h0 M740 1182h0 M712 1382h0 M698 1542h0 M694 1558h0 M751 1272h0 M696 1540h0 M715 1482h0 M734 1208h0 M814 1120h0 M731 1234h0 M809 1146h0 M941 1108h0 M767 1128h0 M732 1167h0 M752 1113h0 M770 1106h0 M751 1185h0 M703 1498h0 M705 1470h0 M705 1455h0 M729 1212h0 M740 1210h0 M697 1549h0 M729 1223h0 M722 1390h0 M700 1540h0 M899 1114h0 M762 1117h0 M734 1182h0 M728 1214h0 M725 1256h0 M769 1279h0 M754 1111h0 M744 1134h0 M700 1534h0 M777 1254h0 M754 1109h0 M813 1139h0 M707 1441h0 M703 1491h0 M744 1314h0 M717 1406h0 M729 1194h0 M778 1227h0 M696 1555h0 M709 1386h0 M774 1259h0 M742 1271h0 M729 1320h0 M723 1345h0 M777 1228h0 M749 1212h0 M698 1528h0 M740 1127h0 M750 1121h0 M721 1260h0 M704 1496h0 M753 1339h0 M743 1179h0 M701 1534h0 M708 1426h0 M700 1493h0 M787 1123h0 M756 1109h0 M696 1544h0 M847 1127h0 M824 1138h0 M730 1211h0 M706 1444h0 M697 1535h0 M755 1112h0 M698 1526h0 M745 1159h0 M836 1107h0 M766 1228h0 M708 1459h0 M757 1320h0 M780 1204h0 M718 1284h0 M808 1138h0 M694 1555h0 M823 1130h0 M704 1457h0 M747 1213h0 M724 1306h0 M760 1306h0 M702 1491h0 M695 1548h0 M741 1189h0 M703 1459h0 M707 1504h0 M731 1260h0 M728 1402h0 M715 1318h0 M728 1243h0 M767 1249h0 M844 1140h0 M756 1217h0 M735 1358h0 M709 1403h0 M718 1345h0 M697 1535h0 M748 1117h0 M758 1108h0 M745 1226h0 M723 1242h0 M741 1125h0 M718 1323h0 M723 1288h0 M706 1472h0 M794 1153h0 M741 1260h0 M699 1508h0 M735 1197h0 M730 1178h0 M760 1204h0 M697 1548h0 M703 1474h0 M822 1111h0 M696 1541h0 M730 1244h0 M724 1422h0 M726 1408h0 M872 1106h0 M705 1463h0 M907 1108h0 M701 1491h0 M721 1296h0 M718 1378h0 M716 1463h0 M775 1145h0 M741 1132h0 M717 1366h0 M713 1490h0 M710 1441h0 M755 1128h0 M818 1105h0 M706 1428h0 M697 1531h0 M696 1543h0 M806 1166h0 M733 1255h0 M708 1511h0 M854 1107h0 M799 1118h0 M759 1222h0 M724 1382h0 M708 1449h0 M730 1183h0 M756 1227h0 M773 1108h0 M694 1555h0 M700 1534h0 M743 1145h0 M718 1433h0 M751 1174h0 M727 1371h0 M708 1447h0 M702 1515h0 M763 1303h0 M728 1311h0 M753 1110h0 M705 1487h0 M727 1214h0 M757 1135h0 M745 1255h0 M747 1129h0 M726 1210h0 M750 1308h0 M706 1494h0 M813 1154h0 M748 1310h0 M738 1139h0 M741 1126h0 M732 1284h0 M709 1475h0 M720 1267h0 M703 1495h0 M835 1108h0 M700 1497h0 M725 1356h0 M773 1105h0 M775 1123h0 M726 1253h0 M737 1369h0 M791 1106h0 M759 1157h0 M757 1208h0 M726 1218h0 M709 1412h0 M761 1219h0 M727 1209h0 M725 1228h0 M717 1290h0 M817 1138h0 M725 1308h0 M701 1489h0 M738 1166h0 M712 1402h0 M779 1108h0 M754 1111h0 M773 1222h0 M750 1194h0 M734 1259h0 M705 1449h0 M747 1129h0 M732 1201h0 M738 1153h0 M721 1318h0 M715 1332h0 M730 1196h0 M706 1448h0 M731 1180h0 M720 1298h0 M717 1361h0 M728 1317h0 M700 1510h0 M703 1463h0 M741 1292h0 M778 1106h0 M726 1224h0 M708 1401h0 M726 1230h0 M727 1376h0 M713 1425h0 M753 1319h0 M777 1227h0 M744 1176h0 M701 1483h0 M752 1240h0 M715 1310h0 M767 1210h0 M729 1237h0 M782 1162h0 M876 1109h0 M749 1174h0 M718 1450h0 M708 1412h0 M846 1129h0 M721 1297h0 M733 1221h0 M716 1456h0 M755 1236h0 M707 1432h0 M766 1143h0 M859 1111h0 M738 1197h0 M702 1484h0 M857 1124h0 M952 1106h0 M716 1304h0 M708 1417h0 M778 1200h0 M766 1117h0 M701 1512h0 M716 1304h0 M695 1556h0 M702 1470h0 M749 1130h0 M706 1418h0 M706 1515h0 M736 1206h0 M729 1328h0 M760 1138h0 M892 1122h0 M808 1148h0 M732 1273h0 M772 1210h0 M725 1233h0 M725 1217h0 M734 1183h0 M699 1531h0 M708 1403h0 M772 1187h0 M757 1326h0 M770 1218h0 M775 1136h0 M730 1273h0 M710 1502h0 M758 1314h0 M739 1178h0 M696 1545h0 M695 1550h0 M761 1177h0 M702 1477h0 M736 1146h0 M768 1140h0 M735 1157h0 M712 1357h0 M699 1540h0 M713 1490h0 M709 1503h0 M732 1169h0 M745 1117h0 M738 1201h0 M715 1378h0 M775 1116h0 M726 1359h0 M796 1107h0 M793 1250h0 M798 1257h0 M751 1131h0 M796 1255h0 M769 1190h0 M744 1121h0 M812 1284h0 M774 1195h0 M747 1115h0 M765 1169h0 M779 1209h0 M761 1152h0 M781 1181h0 M762 1162h0 M757 1142h0 M783 1229h0 M756 1140h0 M780 1203h0 M757 1145h0 M778 1194h0 M779 1225h0 M800 1272h0 M799 1254h0 M755 1150h0 M790 1260h0 M752 1140h0 M809 1283h0 M765 1164h0 M751 1135h0 M754 1117h0 M795 1275h0 M749 1105h0 M776 1202h0 M758 1169h0 M812 1302h0 M793 1243h0 M768 1166h0 M754 1128h0 M765 1158h0 M779 1213h0 M807 1289h0 M754 1150h0 M760 1174h0 M785 1222h0 M777 1212h0 M767 1187h0 M806 1299h0 M751 1125h0 M778 1213h0 M802 1266h0 M797 1271h0 M748 1137h0 M767 1177h0 M744 1123h0 M801 1267h0 M771 1171h0 M810 1290h0 M765 1174h0 M759 1129h0 M794 1242h0 M777 1206h0 M808 1284h0 M778 1190h0 M775 1217h0 M753 1108h0 M771 1200h0 M784 1212h0 M770 1185h0 M756 1136h0 M762 1161h0 M781 1221h0 M788 1221h0 M801 1278h0 M776 1195h0 M805 1282h0 M785 1224h0 M754 1129h0 M805 1284h0 M799 1270h0 M806 1288h0 M778 1222h0 M783 1209h0 M755 1127h0 M796 1261h0 M783 1193h0 M790 1250h0 M761 1146h0 M794 1255h0 M767 1181h0 M761 1177h0 M745 1122h0 M761 1161h0 M767 1175h0 M774 1190h0 M774 1213h0 M757 1149h0 M807 1270h0 M779 1220h0 M770 1192h0 M808 1285h0 M790 1233h0 M805 1271h0 M789 1253h0 M751 1134h0 M788 1231h0 M795 1280h0 M781 1213h0 M765 1193h0 M762 1152h0 M809 1283h0 M754 1112h0 M788 1237h0 M787 1223h0 M752 1144h0 M806 1270h0 M779 1219h0 M777 1198h0 M792 1267h0 M803 1279h0 M804 1268h0 M321 1103h0 M600 1106h0 M568 1103h0 M531 1106h0 M584 1104h0 M602 1104h0 M482 1103h0 M627 1104h0 M465 1103h0 M432 1104h0 M301 1105h0 M294 1104h0 M240 1104h0 M551 1103h0 M513 1104h0 M187 1103h0 M390 1104h0 M263 1106h0 M612 1104h0 M281 1106h0 M516 1104h0 M288 1104h0 M455 1105h0 M483 1104h0 M216 1102h0 M333 1104h0 M487 1104h0 M305 1105h0 M527 1103h0 M381 1106h0 M419 1105h0 M615 1106h0 M614 1104h0 M632 1105h0 M630 1103h0 M534 1106h0 M626 1104h0 M457 1104h0 M215 1106h0 M302 1103h0 M467 1105h0 M496 1103h0 M240 1104h0 M621 1104h0 M607 1101h0 M357 1105h0 M639 1104h0 M625 1103h0 M603 1104h0 M278 1104h0 M601 1103h0 M430 1104h0 M530 1104h0 M523 1107h0 M585 1103h0 M404 1105h0 M237 1104h0 M353 1106h0 M469 1104h0 M214 1105h0 M466 1104h0 M354 1104h0 M411 1104h0 M614 1105h0 M365 1105h0 M592 1103h0 M518 1103h0 M348 1105h0 M604 1106h0 M462 1105h0 M588 1103h0 M548 1105h0 M386 1107h0 M347 1104h0 M541 1105h0 M619 1105h0 M598 1105h0 M632 1105h0 M516 1103h0 M352 1105h0 M506 1106h0 M397 1104h0 M528 1104h0 M522 1103h0 M481 1106h0 M317 1103h0 M320 1106h0 M391 1107h0 M601 1105h0 M407 1105h0 M242 1105h0 M371 1103h0 M447 1103h0 M531 1103h0 M501 1106h0 M596 1106h0 M598 1104h0 M355 1105h0 M620 1103h0 M539 1102h0 M377 1103h0 M496 1104h0 M621 1105h0 M605 1106h0 M430 1103h0 M386 1105h0 M570 1103h0 M541 1103h0 M377 1106h0 M235 1104h0 M429 1105h0 M251 1104h0 M497 1104h0 M294 1103h0 M551 1105h0 M624 1104h0 M346 1104h0 M579 1105h0 M515 1106h0 M222 1107h0 M592 1103h0 M482 1104h0 M614 1105h0 M585 1104h0 M515 1105h0 M304 1105h0 M299 1105h0 M395 1105h0 M446 1103h0 M490 1105h0 M615 1106h0 M634 1105h0 M379 1106h0 M512 1105h0 M489 1105h0 M534 1107h0 M525 1106h0 M559 1106h0 M605 1104h0 M585 1105h0 M541 1105h0 M402 1106h0 M340 1106h0 M545 1104h0 M335 1107h0 M514 1105h0 M621 1104h0 M344 1107h0 M448 1105h0 M342 1103h0 M499 1104h0 M570 1104h0 M609 1104h0 M236 1105h0 M513 1105h0 M433 1107h0 M554 1103h0 M399 1105h0 M329 1105h0 M370 1106h0 M595 1106h0 M541 1104h0 M261 1104h0 M327 1104h0 M445 1106h0 M259 1103h0 M480 1104h0 M620 1103h0 M635 1105h0 M632 1104h0 M594 1105h0 M565 1104h0 M399 1105h0 M486 1104h0 M498 1101h0 M345 1105h0 M477 1106h0 M253 1103h0 M592 1106h0 M613 1107h0 M444 1104h0 M590 1105h0 M601 1104h0 M430 1102h0 M290 1105h0 M423 1103h0 M573 1103h0 M556 1104h0 M339 1104h0 M305 1104h0 M401 1104h0 M542 1104h0 M322 1105h0 M503 1103h0 M411 1103h0 M291 1108h0 M638 1104h0 M573 1105h0 M441 1105h0 M410 1105h0 M428 1104h0 M231 1106h0 M248 1107h0 M446 1104h0 M407 1104h0 M428 1105h0 M590 1105h0 M473 1104h0 M336 1103h0 M462 1104h0 M542 1105h0 M592 1104h0 M622 1105h0 M359 1103h0 M621 1103h0 M363 1104h0 M533 1104h0 M611 1107h0 M537 1104h0 M536 1102h0 M338 1104h0 M591 1104h0 M396 1107h0 M569 1104h0 M616 1105h0 M597 1107h0 M594 1105h0 M582 1102h0 M472 1106h0 M571 1104h0 M574 1105h0 M612 1105h0 M538 1104h0 M480 1106h0 M548 1102h0 M593 1105h0 M297 1105h0 M258 1103h0 M418 1105h0 M335 1103h0 M481 1105h0 M382 1105h0 M194 1102h0 M569 1105h0 M556 1107h0 M414 1101h0 M508 1104h0 M543 1104h0 M446 1105h0 M633 1106h0 M447 1103h0 M394 1103h0 M331 1105h0 M438 1104h0 M616 1103h0 M491 1104h0 M516 1106h0 M385 1106h0 M556 1105h0 M582 1104h0 M741 1105h0 M1199 1106h0 M1021 1105h0 M770 1106h0 M869 1105h0 M770 1104h0 M788 1105h0 M794 1107h0 M741 1106h0 M971 1105h0 M903 1105h0 M1311 1106h0 M1466 1104h0 M824 1106h0 M899 1104h0 M1190 1105h0 M773 1105h0 M782 1105h0 M745 1104h0 M838 1104h0 M962 1105h0 M806 1104h0 M818 1103h0 M741 1104h0 M1094 1106h0 M872 1106h0 M823 1103h0 M894 1105h0 M918 1104h0 M1114 1106h0 M885 1105h0 M841 1103h0 M965 1105h0 M1150 1104h0 M1280 1104h0 M781 1105h0 M1021 1106h0 M1062 1103h0 M981 1103h0 M1225 1106h0 M1403 1105h0 M978 1103h0 M823 1104h0 M1425 1103h0 M845 1104h0 M907 1105h0 M744 1104h0 M1010 1104h0 M1114 1107h0 M1309 1106h0 M1323 1104h0 M1118 1106h0 M742 1106h0 M1229 1106h0 M1373 1104h0 M972 1104h0 M1384 1104h0 M1295 1105h0 M740 1104h0 M1224 1104h0 M1240 1105h0 M943 1105h0 M741 1105h0 M824 1104h0 M822 1106h0 M1396 1106h0 M1245 1106h0 M745 1106h0 M812 1105h0 M750 1103h0 M744 1103h0 M931 1104h0 M800 1104h0 M940 1106h0 M970 1103h0 M1107 1104h0 M808 1104h0 M873 1105h0 M1041 1103h0 M895 1105h0 M1458 1105h0 M1178 1105h0 M1172 1106h0 M1073 1105h0 M740 1105h0 M1272 1104h0 M1403 1103h0 M990 1104h0 M1081 1105h0 M847 1106h0 M1258 1104h0 M1275 1103h0 M879 1104h0 M752 1105h0 M743 1103h0 M740 1104h0 M1464 1104h0 M889 1104h0 M832 1104h0 M1454 1107h0 M1205 1106h0 M749 1104h0 M741 1105h0 M1200 1105h0 M1098 1105h0 M741 1106h0 M776 1104h0 M744 1104h0 M806 1104h0 M879 1104h0 M800 1105h0 M1039 1105h0 M814 1103h0 M767 1105h0 M797 1104h0 M1216 1107h0 M881 1106h0 M997 1106h0 M1307 1104h0 M741 1103h0 M791 1104h0 M1155 1106h0 M1358 1106h0 M980 1105h0 M1153 1104h0 M749 1104h0 M1276 1103h0 M740 1105h0 M1237 1104h0 M743 1106h0 M1094 1104h0 M831 1105h0 M1447 1104h0 M741 1104h0 M1188 1104h0 M1342 1105h0 M1401 1105h0 M814 1104h0 M1306 1105h0 M1283 1104h0 M1357 1106h0 M741 1104h0 M742 1105h0 M812 1104h0 M1111 1104h0 M835 1104h0 M837 1105h0 M870 1104h0 M869 1106h0 M1178 1103h0 M864 1104h0 M1418 1105h0 M750 1105h0 M772 1104h0 M773 1106h0 M910 1104h0 M1438 1106h0 M955 1106h0 M921 1104h0 M746 1105h0 M741 1103h0 M752 1103h0 M874 1103h0 M765 1103h0 M826 1102h0 M754 1106h0 M1221 1105h0 M981 1104h0 M837 1105h0 M743 1105h0 M1027 1105h0 M837 1104h0 M1286 1103h0 M741 1103h0 M971 1105h0 M1148 1104h0 M791 1105h0 M912 1103h0 M1079 1102h0 M865 1104h0 M755 1103h0 M827 1105h0 M992 1105h0 M1230 1105h0 M877 1105h0 M740 1106h0 M743 1104h0 M788 1105h0 M743 1104h0 M1098 1105h0 M1345 1105h0 M890 1104h0 M751 1104h0 M741 1106h0 M747 1105h0 M1415 1104h0 M740 1104h0 M1120 1105h0 M763 1106h0 M1133 1106h0 M865 1104h0 M1091 1102h0 M1282 1105h0 M740 1106h0 M1315 1106h0 M1026 1104h0 M767 1106h0 M1467 1104h0 M1422 1105h0 M740 1105h0 M1123 1106h0 M743 1105h0 M980 1105h0 M820 1105h0 M749 1104h0 M1226 1104h0 M742 1105h0 M1380 1105h0 M1397 1105h0 M1101 1105h0 M913 1103h0 M741 1106h0 M1005 1107h0 M1358 1105h0 M1245 1104h0 M900 1105h0 M907 1104h0 M1206 1105h0 M757 1104h0 M854 1105h0 M857 1104h0 M1403 1104h0 M982 1104h0 M974 1108h0 M1297 1104h0 M859 1105h0 M987 1104h0 M761 1107h0 M914 1104h0 M1193 1102h0 M847 1105h0 M774 1103h0 M740 1105h0 M934 1104h0 M782 1107h0 M747 1104h0 M925 1105h0 M842 1105h0 M1290 1105h0 M751 1104h0 M775 1104h0 M835 1105h0 M807 1103h0 M813 1104h0 M830 1106h0 M755 1105h0 M766 1103h0 M884 1105h0 M921 1104h0 M755 1104h0 M1071 1104h0 M1090 1104h0 M749 1104h0 M819 1105h0 M1053 1103h0 M741 1105h0 M961 1104h0 M1004 1104h0 M770 1103h0 M740 1103h0 M742 1104h0 M1309 1106h0 M997 1105h0 M1086 1104h0 M1410 1105h0 M826 1104h0 M767 1105h0 M753 1103h0 M971 1104h0 M1260 1103h0 M1233 1105h0 M1045 1104h0 M991 1105h0 M1183 1105h0 M809 1104h0 M1215 1105h0 M820 1106h0 M1049 1105h0 M1126 1104h0 M746 1104h0 M892 1107h0 M953 1104h0 M765 1105h0 M740 1103h0 M740 1104h0 M1141 1102h0 M789 1105h0 M865 1105h0 M1388 1104h0 M745 1106h0 M749 1104h0 M793 1105h0 M1043 1105h0 M825 1105h0 M1063 1104h0 M1454 1105h0 M952 1104h0 M740 1105h0 M971 1106h0 M1037 1105h0 M800 1104h0 M884 1104h0 M1038 1105h0 M949 1105h0 M1145 1105h0 M1078 1104h0 M744 1103h0 M814 1105h0 M912 1104h0 M991 1105h0 M842 1106h0 M1275 1103h0 M773 1104h0 M804 1105h0 M769 1105h0 M1458 1105h0 M1089 1105h0 M867 1106h0 M949 1104h0 M745 1103h0 M1162 1104h0 M857 1105h0 M1097 1104h0 M744 1106h0 M1098 1104h0 M759 1104h0 M743 1105h0 M1073 1103h0 M744 1106h0 M740 1106h0 M756 1104h0 M929 1104h0 M1011 1105h0 M951 1104h0 M748 1106h0 M742 1103h0 M781 1106h0 M746 1105h0 M958 1104h0 M740 1105h0 M759 1104h0 M818 1104h0 M814 1102h0 M1327 1104h0 M989 1105h0 M1011 1104h0 M1198 1107h0 M1054 1105h0 M1387 1105h0 M1050 1105h0 M753 1104h0 M752 1104h0 M760 1105h0 M744 1104h0 M837 1105h0 M1113 1106h0 M1366 1104h0 M778 1104h0 M857 1104h0 M861 1106h0 M1279 1105h0 M1400 1103h0 M1313 1104h0 M1325 1106h0 M1154 1105h0 M1374 1104h0 M1029 1105h0 M1303 1106h0 M967 1106h0 M965 1104h0 M1235 1106h0 M935 1104h0 M1063 1105h0 M746 1105h0 M823 1105h0 M1191 1103h0 M786 1104h0 M747 1106h0 M1314 1105h0 M1214 1104h0 M1382 1103h0 M749 1104h0 M1393 1106h0 M1133 1105h0 M1101 1105h0 M762 1106h0 M779 1105h0 M764 1103h0 M1188 1104h0 M825 1104h0 M1006 1104h0 M1357 1104h0 M1264 1104h0 M1248 1103h0 M971 1104h0 M751 1104h0 M1367 1106h0 M1103 1104h0 M744 1105h0 M800 1103h0 M806 1106h0 M1355 1105h0 M1219 1102h0 M967 1105h0 M753 1103h0 M990 1106h0 M756 1105h0 M919 1106h0 M769 1105h0 M1271 1105h0 M896 1116h0 M877 1106h0 M740 1125h0 M851 1122h0 M891 1108h0 M848 1129h0 M737 1120h0 M823 1111h0 M857 1109h0 M747 1126h0 M946 1107h0 M920 1115h0 M831 1126h0 M781 1109h0 M814 1111h0 M748 1106h0 M844 1107h0 M822 1108h0 M796 1109h0 M938 1106h0 M745 1106h0 M748 1118h0 M795 1134h0 M754 1109h0 M945 1107h0 M786 1115h0 M950 1111h0 M798 1128h0 M956 1106h0 M781 1135h0 M795 1106h0 M776 1123h0 M757 1116h0 M743 1112h0 M859 1106h0 M836 1107h0 M802 1119h0 M735 1112h0 M828 1134h0 M823 1128h0 M926 1114h0 M821 1106h0 M769 1106h0 M739 1112h0 M874 1115h0 M891 1106h0 M747 1106h0 M817 1107h0 M883 1116h0 M778 1107h0 M817 1127h0 M928 1111h0 M873 1114h0 M736 1124h0 M735 1106h0 M761 1108h0 M889 1114h0 M759 1144h0 M736 1115h0 M907 1106h0 M852 1107h0 M829 1106h0 M882 1111h0 M800 1106h0 M745 1110h0 M789 1109h0 M763 1112h0 M775 1120h0 M790 1106h0 M748 1106h0 M794 1111h0 M774 1115h0 M879 1109h0 M838 1128h0 M735 1108h0 M743 1116h0 M907 1110h0 M890 1108h0 M945 1109h0 M914 1106h0 M757 1123h0 M758 1124h0 M829 1133h0 M810 1112h0 M781 1133h0 M754 1106h0 M948 1113h0 M777 1106h0 M792 1107h0 M806 1117h0 M802 1114h0 M787 1121h0 M794 1107h0 M799 1112h0 M858 1130h0 M785 1114h0 M752 1128h0 M892 1109h0 M762 1106h0 M794 1107h0 M919 1108h0 M938 1112h0 M826 1106h0 M878 1108h0 M965 1108h0 M862 1109h0 M739 1106h0 M799 1107h0 M735 1135h0 M802 1119h0 M960 1109h0 M792 1108h0 M772 1109h0 M741 1106h0 M777 1109h0 M901 1106h0 M916 1106h0 M735 1117h0 M767 1107h0 M840 1107h0 M752 1128h0 M900 1118h0 M766 1110h0 M807 1107h0 M770 1113h0 M744 1114h0 M792 1140h0 M788 1106h0 M836 1114h0 M928 1110h0 M758 1108h0 M769 1123h0 M829 1109h0 M900 1114h0 M794 1106h0 M754 1110h0 M779 1107h0 M737 1117h0 M806 1113h0 M951 1113h0 M790 1109h0 M874 1107h0 M760 1117h0 M757 1114h0 M884 1107h0 M735 1111h0 M743 1123h0 M739 1106h0 M879 1124h0 M856 1106h0 M775 1108h0 M867 1108h0 M914 1109h0 M738 1110h0 M751 1130h0 M739 1124h0 M764 1136h0 M745 1106h0 M860 1106h0 M746 1133h0 M917 1114h0 M907 1113h0 M788 1133h0 M760 1134h0 M926 1116h0 M787 1137h0 M828 1108h0 M753 1117h0 M911 1111h0 M745 1106h0 M946 1109h0 M745 1130h0 M885 1106h0 M748 1140h0 M859 1124h0 M767 1106h0 M875 1115h0 M789 1110h0 M787 1119h0 M944 1106h0 M848 1130h0 M763 1106h0 M753 1128h0 M903 1106h0 M756 1122h0 M769 1120h0 M901 1122h0 M756 1133h0 M762 1116h0 M761 1106h0 M793 1106h0 M844 1121h0 M784 1120h0 M738 1113h0 M916 1110h0 M784 1107h0 M860 1122h0 M793 1138h0 M785 1106h0 M758 1122h0 M841 1118h0 M769 1137h0 M848 1123h0 M883 1106h0 M736 1114h0 M765 1122h0 M843 1128h0 M916 1114h0 M845 1106h0 M736 1135h0 M755 1112h0 M785 1118h0 M892 1121h0 M851 1117h0 M742 1108h0 M740 1125h0 M850 1128h0 M815 1109h0 M841 1128h0 M890 1110h0 M759 1106h0 M802 1126h0 M953 1107h0 M742 1106h0 M897 1116h0 M881 1107h0 M867 1115h0 M871 1112h0 M941 1111h0 M794 1114h0 M949 1108h0 M958 1106h0 M796 1106h0 M738 1107h0 M885 1106h0 M745 1131h0 M810 1108h0 M955 1106h0 M763 1130h0 M897 1109h0 M860 1108h0 M791 1106h0 M920 1106h0 M839 1118h0 M964 1106h0 M866 1106h0 M960 1109h0 M925 1106h0 M916 1109h0 M748 1107h0" stroke="#a8a8a8" stroke-width="2.3" stroke-linecap="round" fill="none"/>
<line x1="716.4" y1="1011.7" x2="789" y2="1099.8" stroke="#d4461a" stroke-width="1.6"/>
<line x1="806.9" y1="1011.7" x2="802.1" y2="1099.8" stroke="#e82020" stroke-width="2"/>
<line x1="865.2" y1="1012.9" x2="809.3" y2="1098.6" stroke="#d6a01c" stroke-width="1.6"/>
<line x1="967.6" y1="1015.2" x2="831.9" y2="1099.8" stroke="#d6a01c" stroke-width="1.6"/>
<line x1="677.1" y1="1060.5" x2="758.1" y2="1098.6" stroke="#1a9cd6" stroke-width="2"/>
<line x1="746.2" y1="1068.8" x2="772.4" y2="1096.2" stroke="#d6a01c" stroke-width="1.6"/>
<line x1="840.2" y1="1076" x2="845" y2="1101" stroke="#1a961a" stroke-width="1.6"/>
<line x1="903.3" y1="1074.8" x2="876" y2="1095" stroke="#1a961a" stroke-width="1.6"/>
<line x1="718.8" y1="1095" x2="749.8" y2="1103.3" stroke="#d6a01c" stroke-width="1.6"/>
<line x1="606.3" y1="1191.5" x2="763" y2="1106" stroke="#1a9cd6" stroke-width="3"/>
<line x1="844.8" y1="1154.4" x2="838.2" y2="1108" stroke="#d4461a" stroke-width="1.6"/>
<line x1="1009" y1="1138" x2="976.2" y2="1113.3" stroke="#d4461a" stroke-width="1.6"/>
<line x1="1090" y1="1127" x2="1070.4" y2="1112.2" stroke="#1a961a" stroke-width="1.6"/>
<line x1="924.2" y1="1190" x2="921.4" y2="1110" stroke="#1a961a" stroke-width="1.6"/>
<line x1="976.2" y1="1184.5" x2="934" y2="1110" stroke="#1a961a" stroke-width="1.6"/>
<line x1="899.5" y1="1239.3" x2="868.3" y2="1110" stroke="#d4461a" stroke-width="1.6"/>
<line x1="806.4" y1="1258.5" x2="791.7" y2="1118" stroke="#a01ea8" stroke-width="1.6"/>
<line x1="861.2" y1="1296.8" x2="804.8" y2="1124.3" stroke="#1a9cd6" stroke-width="1.6"/>
<line x1="779" y1="1321.4" x2="773.6" y2="1110.6" stroke="#d6a01c" stroke-width="1.6"/>
<circle cx="757" cy="1105" r="4.3" fill="#f0900c"/>
<circle cx="763.7" cy="1105" r="4.3" fill="#1a9ad6"/>
<circle cx="774.7" cy="1105" r="4.3" fill="#f0900c"/>
<circle cx="790" cy="1110.6" r="4.3" fill="#a020a0"/>
<circle cx="792.7" cy="1104" r="4.3" fill="#d83a1a"/>
<circle cx="802" cy="1104" r="4.3" fill="#d83a1a"/>
<circle cx="806.4" cy="1105" r="4.3" fill="#f0900c"/>
<circle cx="803.7" cy="1123" r="4.3" fill="#1a9ad6"/>
<circle cx="831" cy="1105" r="4.3" fill="#f0900c"/>
<circle cx="838.2" cy="1105" r="4.3" fill="#d83a1a"/>
<circle cx="845.9" cy="1105" r="4.3" fill="#1a9a1a"/>
<circle cx="866.7" cy="1105" r="4.3" fill="#d83a1a"/>
<circle cx="873.2" cy="1105" r="4.3" fill="#1a9a1a"/>
<circle cx="921.4" cy="1105" r="4.3" fill="#1a9a1a"/>
<circle cx="929.7" cy="1105" r="4.3" fill="#1a9a1a"/>
<circle cx="970.7" cy="1105" r="4.3" fill="#d83a1a"/>
<circle cx="1065" cy="1105" r="4.3" fill="#1a9a1a"/>
<g font-family="DejaVu Sans Condensed, DejaVu Sans, sans-serif" font-weight="bold" font-size="27.5" text-anchor="middle">
<text x="686" y="1006" fill="#d4461a">Col7a1</text>
<text x="787.3" y="1006" fill="#d4401a">Klk6</text>
<text x="882" y="1004" fill="#d6a01c">Mmp10</text>
<text x="998" y="1006" fill="#d6a01c">Mmp9</text>
<text x="625.7" y="1060.5" fill="#1a9cd6">Wnt5a</text>
<text x="746.2" y="1059" fill="#d6a01c">Mmp14</text>
<text x="844.8" y="1066" fill="#1a961a">Epgn</text>
<text x="948.8" y="1082.5" fill="#1a961a">Twist2</text>
<text x="668.4" y="1101.5" fill="#d6a01c">Mmp2</text>
<text x="545.2" y="1206" fill="#1a9cd6">Wnt10a</text>
<text x="864" y="1177" fill="#d4461a">Hbegf</text>
<text x="1024.4" y="1163" fill="#d4461a">Has2</text>
<text x="1115.9" y="1156.5" fill="#1a961a">Kdr</text>
<text x="929.7" y="1214" fill="#1a961a">Nrg</text>
<text x="1006.3" y="1210" fill="#1a961a">Spp1</text>
<text x="928" y="1262" fill="#d4461a">Serpine1</text>
<text x="822.9" y="1281" fill="#a01ea8">Twist1</text>
<text x="890.2" y="1327" fill="#1a9cd6">Wnt10b</text>
<text x="791.1" y="1361" fill="#d6a01c">Mmp3</text>
</g>
<g font-family="DejaVu Sans Condensed, DejaVu Sans, sans-serif" font-weight="bold" font-size="28.3">
<circle cx="148.5" cy="1292" r="4.8" fill="#f39c12"/>
<text x="172.6" y="1302" fill="#e6a23c">Mmp</text>
<circle cx="148.5" cy="1345" r="4.8" fill="#a020a0"/>
<text x="169" y="1355" fill="#a020a8">Twist1</text>
<circle cx="148.5" cy="1398.9" r="4.8" fill="#1a9ad6"/>
<text x="170" y="1408.9" fill="#1a9ad6">Wnt/β-catenin signaling</text>
<circle cx="148.5" cy="1452.8" r="4.8" fill="#1a9a1a"/>
<text x="169" y="1462.8" fill="#1a9a1a">Proliferation of epithelial cells</text>
<circle cx="148.5" cy="1506.7" r="4.8" fill="#d84a1a"/>
<text x="165" y="1516.7" fill="#d84a1a">Cell movement of epithelial cells</text>
</g>
<rect x="131.8" y="1068" width="4.8" height="501" fill="#000"/>
<rect x="131.8" y="1564.2" width="1340" height="4.6" fill="#000"/>
<text x="128.5" y="1087" font-family="Liberation Sans, Arial, sans-serif" font-weight="bold" fill="#000" font-size="42" text-anchor="end">0</text>
<text x="128.5" y="1180" font-family="Liberation Sans, Arial, sans-serif" font-weight="bold" fill="#000" font-size="42" text-anchor="end">0.2</text>
<text x="128.5" y="1277.4" font-family="Liberation Sans, Arial, sans-serif" font-weight="bold" fill="#000" font-size="42" text-anchor="end">0.4</text>
<text x="128.5" y="1373.3" font-family="Liberation Sans, Arial, sans-serif" font-weight="bold" fill="#000" font-size="42" text-anchor="end">0.6</text>
<text x="128.5" y="1472.9" font-family="Liberation Sans, Arial, sans-serif" font-weight="bold" fill="#000" font-size="42" text-anchor="end">0.8</text>
<text x="128.5" y="1567" font-family="Liberation Sans, Arial, sans-serif" font-weight="bold" fill="#000" font-size="42" text-anchor="end">1.0</text>
<text x="156" y="1612" font-family="Liberation Sans, Arial, sans-serif" font-weight="bold" fill="#000" font-size="40" text-anchor="middle">-9</text>
<text x="421.9" y="1615" font-family="Liberation Sans, Arial, sans-serif" font-weight="bold" fill="#000" font-size="40" text-anchor="middle">-4.4</text>
<text x="659.8" y="1614" font-family="Liberation Sans, Arial, sans-serif" font-weight="bold" fill="#000" font-size="40" text-anchor="middle">0.2</text>
<text x="975.4" y="1614" font-family="Liberation Sans, Arial, sans-serif" font-weight="bold" fill="#000" font-size="40" text-anchor="middle">4.8</text>
<text x="1225.4" y="1614" font-family="Liberation Sans, Arial, sans-serif" font-weight="bold" fill="#000" font-size="40" text-anchor="middle">9.4</text>
<text x="1441.7" y="1614" font-family="Liberation Sans, Arial, sans-serif" font-weight="bold" fill="#000" font-size="40" text-anchor="middle">14</text>
<text x="812.8" y="1617.6" font-family="Liberation Sans, Arial, sans-serif" font-weight="bold" fill="#000" font-size="38" text-anchor="middle">Log2 FC</text>
<text x="812.1" y="1660.5" font-family="Liberation Sans, Arial, sans-serif" font-weight="bold" fill="#000" font-size="38.5" text-anchor="middle">(C/M)</text>
<text transform="translate(46.5,1400.7) rotate(-90)" font-family="Liberation Sans, Arial, sans-serif" font-weight="bold" fill="#000" font-size="39" textLength="168.7" lengthAdjust="spacingAndGlyphs">p-value</text>
<text x="5" y="965" font-family="Liberation Sans, Arial, sans-serif" font-weight="bold" fill="#000" font-size="49">c</text>
<rect x="1483" y="1056.8" width="415" height="56.5" fill="#ececec"/>
<text x="1485.5" y="1099.3" font-family="Liberation Sans, Arial, sans-serif" fill="#000" font-weight="bold" font-style="italic" font-size="38.6">nfkbia</text>
<text x="1896" y="1099.3" font-family="Liberation Sans, Arial, sans-serif" fill="#000" font-size="38.6" text-anchor="end">3.28E-13</text>
<text x="1485.5" y="1155.8" font-family="Liberation Sans, Arial, sans-serif" fill="#000" font-weight="bold" font-style="italic" font-size="38.6">twist1</text>
<text x="1896" y="1155.8" font-family="Liberation Sans, Arial, sans-serif" fill="#000" font-size="38.6" text-anchor="end">4.55E-11</text>
<rect x="1483" y="1169.8" width="415" height="56.5" fill="#ececec"/>
<text x="1485.5" y="1212.3" font-family="Liberation Sans, Arial, sans-serif" fill="#000" font-weight="bold" font-style="italic" font-size="38.6">cebpa</text>
<text x="1896" y="1212.3" font-family="Liberation Sans, Arial, sans-serif" fill="#000" font-size="38.6" text-anchor="end">4.97E-11</text>
<text x="1485.5" y="1268.8" font-family="Liberation Sans, Arial, sans-serif" fill="#000" font-weight="bold" font-style="italic" font-size="38.6">smad7</text>
<text x="1896" y="1268.8" font-family="Liberation Sans, Arial, sans-serif" fill="#000" font-size="38.6" text-anchor="end">3.44E-09</text>
<rect x="1483" y="1282.8" width="415" height="56.5" fill="#ececec"/>
<text x="1485.5" y="1325.3" font-family="Liberation Sans, Arial, sans-serif" fill="#000" font-weight="bold" font-style="italic" font-size="38.6">snai1</text>
<text x="1896" y="1325.3" font-family="Liberation Sans, Arial, sans-serif" fill="#000" font-size="38.6" text-anchor="end">3.36E-08</text>
<text x="1485.5" y="1381.8" font-family="Liberation Sans, Arial, sans-serif" fill="#000" font-weight="bold" font-style="italic" font-size="38.6">hdac1</text>
<text x="1896" y="1381.8" font-family="Liberation Sans, Arial, sans-serif" fill="#000" font-size="38.6" text-anchor="end">5.78E-08</text>
<rect x="1483" y="1395.7" width="415" height="56.5" fill="#ececec"/>
<text x="1485.5" y="1438.2" font-family="Liberation Sans, Arial, sans-serif" fill="#000" font-weight="bold" font-style="italic" font-size="38.6">irf7</text>
<text x="1896" y="1438.2" font-family="Liberation Sans, Arial, sans-serif" fill="#000" font-size="38.6" text-anchor="end">2.09E-07</text>
<text x="1485.5" y="1494.7" font-family="Liberation Sans, Arial, sans-serif" fill="#000" font-weight="bold" font-style="italic" font-size="38.6">junb</text>
<text x="1896" y="1494.7" font-family="Liberation Sans, Arial, sans-serif" fill="#000" font-size="38.6" text-anchor="end">6.87E-07</text>
<rect x="1483" y="1508.7" width="415" height="56.5" fill="#ececec"/>
<text x="1485.5" y="1551.2" font-family="Liberation Sans, Arial, sans-serif" fill="#000" font-weight="bold" font-style="italic" font-size="38.6">rela</text>
<text x="1896" y="1551.2" font-family="Liberation Sans, Arial, sans-serif" fill="#000" font-size="38.6" text-anchor="end">1.68E-06</text>
<text x="1485.5" y="1607.7" font-family="Liberation Sans, Arial, sans-serif" fill="#000" font-weight="bold" font-style="italic" font-size="38.6">smad3</text>
<text x="1896" y="1607.7" font-family="Liberation Sans, Arial, sans-serif" fill="#000" font-size="38.6" text-anchor="end">2.31E-06</text>
<rect x="1483" y="1053" width="415" height="2.8" fill="#a8a8a8"/>
<rect x="1482.2" y="927.8" width="416.4" height="693.9" fill="none" stroke="#000" stroke-width="3"/>
<text x="1604.7" y="983.5" font-family="Liberation Sans, Arial, sans-serif" fill="#000" font-weight="bold" font-size="38.6" text-anchor="middle">Upstream</text>
<text x="1604.7" y="1029" font-family="Liberation Sans, Arial, sans-serif" fill="#000" font-weight="bold" font-size="38.6" text-anchor="middle">regulator</text>
<text x="1813" y="983.5" font-family="Liberation Sans, Arial, sans-serif" fill="#000" font-weight="bold" font-size="38.6" text-anchor="middle">p-</text>
<text x="1813" y="1029" font-family="Liberation Sans, Arial, sans-serif" fill="#000" font-weight="bold" font-size="38.6" text-anchor="middle">value</text>
<text x="1428" y="979" font-family="Liberation Sans, Arial, sans-serif" fill="#000" font-weight="bold" font-size="49">d</text>
<g clip-path="url(#cf1)">
<rect x="241" y="1680" width="685" height="686" fill="#020806"/>
<g mask="url(#mdome)"><rect x="241" y="1930" width="685" height="436" fill="#135a2c" opacity="0.8"/><rect x="241" y="1930" width="685" height="436" filter="url(#gsp)" opacity="0.55"/><rect x="241" y="1930" width="685" height="436" filter="url(#gmem)" opacity="0.35"/></g>
<rect x="241" y="1680" width="685" height="686" fill="url(#pf1)"/>
<g mask="url(#mdome)"><rect x="241" y="1930" width="685" height="436" fill="#2a9a70" opacity="0.22"/></g>
<ellipse cx="300" cy="1760" rx="110" ry="140" fill="url(#rgdark)" opacity="0.95"/>
<ellipse cx="320" cy="1700" rx="130" ry="50" fill="url(#rgdark)" opacity="0.7"/>
<ellipse cx="330" cy="1850" rx="100" ry="120" fill="url(#rgdark)" opacity="0.8"/>
<ellipse cx="270" cy="1950" rx="60" ry="60" fill="url(#rgdark)" opacity="0.6"/>
<ellipse cx="760" cy="1820" rx="150" ry="110" fill="url(#rgdark)" opacity="0.85"/>
<ellipse cx="880" cy="1740" rx="80" ry="90" fill="url(#rgdark)" opacity="0.6"/>
<ellipse cx="660" cy="1730" rx="80" ry="60" fill="url(#rgdark)" opacity="0.5"/>
<ellipse cx="270" cy="2030" rx="50" ry="130" fill="url(#rgdark)" opacity="0.5"/>
<ellipse cx="720" cy="2290" rx="60" ry="40" fill="url(#rgdark)" opacity="0.45"/>
<ellipse cx="880" cy="1960" rx="70" ry="60" fill="url(#rgdark)" opacity="0.45"/>
<ellipse cx="560" cy="1930" rx="60" ry="40" fill="url(#rgdark)" opacity="0.35"/>
<path d="M364 1968h0M330 1759h0M349 1684h0M271 1935h0M358 1721h0M406 1747h0M309 1733h0M253 1776h0M242 1897h0M252 1992h0M383 1950h0M390 1797h0M243 1695h0M422 1743h0M403 1692h0M258 1789h0M344 1780h0M275 1705h0M318 1756h0M397 1826h0M252 1973h0M334 1948h0M390 1714h0M425 1825h0M379 1833h0M317 1727h0M335 1788h0M310 1905h0M351 1684h0M422 1846h0M379 1735h0M351 1893h0M377 1689h0M324 1888h0M371 1882h0M330 1752h0M266 1782h0M278 1691h0M286 1969h0M318 1769h0M248 1876h0M344 1789h0M395 1886h0M307 1966h0M312 1818h0M334 1772h0M264 1879h0M243 1850h0M418 1930h0M296 1875h0M263 1923h0M342 1788h0M341 1829h0M382 1869h0M409 1855h0M388 1817h0M413 1803h0M402 1743h0M398 1701h0M372 1819h0M389 1971h0M331 1856h0M304 1729h0M394 1702h0M430 1904h0M400 1750h0M421 1908h0M296 1974h0M356 1812h0M359 1694h0M313 1703h0M266 1818h0M312 1698h0M291 1857h0M383 1845h0M257 1894h0M265 1870h0M407 1834h0M392 1689h0M370 1751h0M267 1880h0M285 1787h0M307 1803h0M316 1711h0M279 1693h0M332 1923h0M322 1829h0M270 1731h0M314 1962h0M289 1769h0M295 1755h0M330 1983h0M367 1773h0M379 1732h0M246 1754h0M300 1830h0M379 1910h0M242 1699h0M319 1694h0M428 1846h0M259 1703h0M334 1979h0M287 1696h0M252 1762h0M299 1696h0M425 1737h0M317 1850h0M300 1715h0M282 1686h0M333 1863h0M283 1717h0M300 1722h0M287 1707h0M350 1759h0M373 1695h0M295 1800h0M385 1864h0M379 1904h0M394 1802h0M253 1734h0M369 1771h0M385 1858h0M251 1722h0M285 1817h0M303 1684h0M397 1913h0M341 1735h0M328 1819h0M424 1871h0M395 1814h0M426 1691h0M282 1769h0M287 1793h0M358 1808h0M398 1837h0M273 1712h0M411 1744h0M276 1805h0M246 1780h0M331 1905h0M392 1796h0M369 1847h0M256 1708h0M376 1703h0M356 1747h0M344 1806h0M315 1737h0M314 1715h0M346 1909h0M409 1748h0M283 1700h0M320 1816h0M412 1777h0M247 1717h0M355 1739h0M379 1700h0M331 1712h0M271 1710h0M357 1714h0M359 1989h0M260 1701h0M381 1707h0M344 1800h0M297 1717h0M313 1773h0M339 1696h0M286 1893h0M292 1711h0M427 1853h0M418 1709h0M394 1682h0M309 1685h0M328 1803h0M325 1831h0M337 1697h0M388 1819h0M248 1688h0M384 1965h0M429 1749h0M292 1830h0M367 1719h0M327 1704h0M411 1963h0M354 1724h0M415 1980h0M276 1817h0M374 1709h0M363 1800h0M287 1862h0M344 1914h0M332 1906h0M387 1814h0M356 1934h0M336 1692h0M306 1687h0M267 1792h0M348 1746h0M252 1708h0M314 1881h0M411 1737h0M243 1694h0M334 1959h0M352 1718h0M357 1876h0M420 1716h0M370 1710h0M377 1702h0M400 1719h0M290 1776h0M329 1730h0M258 1793h0M274 1724h0M371 1823h0M413 1726h0M346 1892h0M261 1763h0M409 1765h0M362 1986h0M387 1788h0M361 1912h0M318 1785h0M405 1700h0M410 1842h0M320 1752h0M348 1773h0M329 1713h0M263 1852h0M428 1854h0M322 1747h0M415 1802h0M341 1725h0M418 1829h0M414 1864h0M295 1918h0M266 1745h0M266 1734h0M272 1904h0M351 1761h0M251 1911h0M385 1788h0M415 1770h0M407 1723h0M319 1992h0M402 1892h0M399 1896h0M357 1935h0M334 1680h0M387 1948h0M342 1833h0M314 1886h0M293 1683h0M323 1778h0M325 1900h0M290 1949h0M252 1685h0M261 1827h0M393 1833h0M279 1701h0M260 1798h0M283 1681h0" stroke="#30e040" stroke-width="3.6" stroke-linecap="round" opacity="0.75" filter="url(#b1)"/>
<path d="M350 1682 L364 1682 L372 1712 L360 1740 L352 1715 Z" fill="#30d040" opacity="0.55" filter="url(#b2)"/>
<path d="M241 1700 L262 1720 L268 1760 L250 1790 L241 1780 Z" fill="#30d040" opacity="0.5" filter="url(#b3)"/>
<ellipse cx="317" cy="1757" rx="13" ry="14" fill="#38f050" opacity="1" filter="url(#b2)"/>
<ellipse cx="353" cy="1766" rx="11" ry="15" fill="#38f050" opacity="1" filter="url(#b2)"/>
<ellipse cx="297" cy="1849" rx="15" ry="14" fill="#38f050" opacity="1" filter="url(#b2)"/>
<ellipse cx="366" cy="1857" rx="14" ry="14" fill="#38f050" opacity="1" filter="url(#b2)"/>
<ellipse cx="434" cy="1734" rx="9" ry="13" fill="#38f050" opacity="1" filter="url(#b2)"/>
<ellipse cx="428" cy="1718" rx="7" ry="8" fill="#38f050" opacity="1" filter="url(#b2)"/>
<ellipse cx="488.6" cy="1785.7" rx="16" ry="14" fill="#38f050" opacity="1" filter="url(#b2)"/>
<ellipse cx="494" cy="1768" rx="8" ry="8" fill="#38f050" opacity="1" filter="url(#b2)"/>
<ellipse cx="548.6" cy="1791.4" rx="14" ry="13" fill="#38f050" opacity="1" filter="url(#b2)"/>
<ellipse cx="483" cy="1868.6" rx="13" ry="15" fill="#38f050" opacity="1" filter="url(#b2)"/>
<ellipse cx="517" cy="1865.7" rx="14" ry="16" fill="#38f050" opacity="1" filter="url(#b2)"/>
<ellipse cx="519" cy="1848" rx="8" ry="9" fill="#38f050" opacity="1" filter="url(#b2)"/>
<ellipse cx="265.7" cy="2003" rx="12" ry="10" fill="#38f050" opacity="1" filter="url(#b2)"/>
<ellipse cx="405.7" cy="2011" rx="14" ry="20" fill="#38f050" opacity="1" filter="url(#b2)"/>
<ellipse cx="417" cy="2037" rx="10" ry="12" fill="#38f050" opacity="1" filter="url(#b2)"/>
<ellipse cx="654" cy="2031" rx="14" ry="12" fill="#38f050" opacity="1" filter="url(#b2)"/>
<ellipse cx="565.7" cy="2083" rx="16" ry="14" fill="#38f050" opacity="1" filter="url(#b2)"/>
<ellipse cx="654" cy="1797" rx="14" ry="11" fill="#38f050" opacity="1" filter="url(#b2)"/>
<ellipse cx="728.6" cy="1831" rx="12" ry="12" fill="#2cc048" opacity="0.55" filter="url(#b3)"/>
<ellipse cx="828.6" cy="1694" rx="14" ry="10" fill="#2cc048" opacity="0.55" filter="url(#b3)"/>
<ellipse cx="303" cy="2054" rx="10" ry="12" fill="#2cc048" opacity="0.55" filter="url(#b3)"/>
<ellipse cx="365.7" cy="2083" rx="10" ry="10" fill="#2cc048" opacity="0.55" filter="url(#b3)"/>
<ellipse cx="251" cy="2094" rx="8" ry="10" fill="#2cc048" opacity="0.55" filter="url(#b3)"/>
<ellipse cx="862.9" cy="2357" rx="14" ry="6" fill="#2cc048" opacity="0.55" filter="url(#b3)"/>
<ellipse cx="600" cy="1760" rx="10" ry="10" fill="#2cc048" opacity="0.55" filter="url(#b3)"/>
<ellipse cx="420" cy="1960" rx="12" ry="10" fill="#2cc048" opacity="0.55" filter="url(#b3)"/>
<ellipse cx="250" cy="1740" rx="6" ry="12" fill="#2cc048" opacity="0.55" filter="url(#b3)"/>
<rect x="402.6" y="1680" width="3.6" height="686" fill="#f2b212"/>
<rect x="241" y="2015" width="685" height="3.6" fill="#f2b212"/>
<rect x="583" y="2321.5" width="303" height="6.5" fill="#fff"/>
</g>
<text x="263" y="1725.5" font-family="Liberation Sans, Arial, sans-serif" font-weight="bold" font-size="39" fill="#fff">f1</text>
<g clip-path="url(#cside)">
<rect x="933" y="1680" width="114" height="686" fill="#000"/>
<path d="M933 1680 H1008 L1006 1880 L1000 2366 H933 Z" fill="#0c3a12"/>
<rect x="933" y="1680" width="78" height="686" filter="url(#vstreak)" opacity="0.2"/>
<clipPath id="csidetop"><path d="M936 1680 H1008 V1905 L990 1900 L965 1870 L945 1850 L936 1840 Z"/></clipPath>
<g clip-path="url(#csidetop)"><rect x="936" y="1680" width="72" height="230" filter="url(#gmot)" opacity="0.55"/></g>
<path d="M940 1830 L962 1840 L985 1870 L1004 1900 L996 1915 L975 1895 L950 1870 L938 1850 Z" fill="#30d038" opacity="0.6" filter="url(#b3)"/>
<g fill="#1a3ad0" filter="url(#b2)"><ellipse cx="952" cy="1900" rx="12" ry="8" fill-opacity="0.89"/><ellipse cx="930" cy="1911" rx="9" ry="8" fill-opacity="0.44"/><ellipse cx="956" cy="1927" rx="11" ry="9" fill-opacity="0.78"/><ellipse cx="963" cy="1952" rx="12" ry="10" fill-opacity="0.78"/><ellipse cx="964" cy="1977" rx="11" ry="10" fill-opacity="0.79"/><ellipse cx="942" cy="1988" rx="9" ry="8" fill-opacity="0.36"/><ellipse cx="968" cy="2001" rx="13" ry="9" fill-opacity="0.85"/><ellipse cx="946" cy="2012" rx="9" ry="8" fill-opacity="0.55"/><ellipse cx="973" cy="2031" rx="13" ry="10" fill-opacity="0.63"/><ellipse cx="951" cy="2042" rx="9" ry="8" fill-opacity="0.32"/><ellipse cx="972" cy="2060" rx="11" ry="9" fill-opacity="0.87"/><ellipse cx="950" cy="2071" rx="9" ry="8" fill-opacity="0.34"/><ellipse cx="969" cy="2089" rx="14" ry="10" fill-opacity="0.86"/><ellipse cx="970" cy="2116" rx="12" ry="9" fill-opacity="0.87"/><ellipse cx="948" cy="2127" rx="9" ry="8" fill-opacity="0.58"/><ellipse cx="972" cy="2141" rx="11" ry="9" fill-opacity="0.95"/><ellipse cx="950" cy="2152" rx="9" ry="8" fill-opacity="0.60"/><ellipse cx="973" cy="2170" rx="11" ry="9" fill-opacity="0.84"/><ellipse cx="951" cy="2181" rx="9" ry="8" fill-opacity="0.39"/><ellipse cx="974" cy="2195" rx="14" ry="10" fill-opacity="0.86"/><ellipse cx="952" cy="2206" rx="9" ry="8" fill-opacity="0.32"/><ellipse cx="974" cy="2222" rx="13" ry="8" fill-opacity="0.60"/><ellipse cx="952" cy="2233" rx="9" ry="8" fill-opacity="0.58"/><ellipse cx="971" cy="2246" rx="12" ry="10" fill-opacity="0.65"/><ellipse cx="949" cy="2257" rx="9" ry="8" fill-opacity="0.53"/><ellipse cx="970" cy="2271" rx="11" ry="10" fill-opacity="0.68"/><ellipse cx="948" cy="2282" rx="9" ry="8" fill-opacity="0.41"/><ellipse cx="973" cy="2301" rx="13" ry="9" fill-opacity="0.69"/><ellipse cx="973" cy="2325" rx="12" ry="9" fill-opacity="0.76"/><ellipse cx="951" cy="2336" rx="9" ry="8" fill-opacity="0.48"/><ellipse cx="969" cy="2350" rx="11" ry="8" fill-opacity="0.91"/><ellipse cx="947" cy="2361" rx="9" ry="8" fill-opacity="0.50"/><ellipse cx="936" cy="1690" rx="8" ry="9" fill-opacity="0.78"/><ellipse cx="937" cy="1714" rx="8" ry="9" fill-opacity="0.58"/><ellipse cx="938" cy="1738" rx="8" ry="9" fill-opacity="0.68"/><ellipse cx="940" cy="1762" rx="8" ry="9" fill-opacity="0.48"/><ellipse cx="940" cy="1786" rx="8" ry="9" fill-opacity="0.57"/><ellipse cx="937" cy="1810" rx="8" ry="9" fill-opacity="0.75"/><ellipse cx="940" cy="1834" rx="8" ry="9" fill-opacity="0.74"/><ellipse cx="937" cy="1858" rx="8" ry="9" fill-opacity="0.77"/><ellipse cx="940" cy="1882" rx="8" ry="9" fill-opacity="0.79"/></g>
<path d="M985 1935 L993 1960 L998 2000 L1026 2008 L1026 2045 L1006 2070 L1002 2150 L1006 2230 L1002 2300 L998 2366 L990 2366 L986 2300 L980 2220 L988 2150 L990 2080 L986 2000 L984 1960 Z" fill="#34e03c" opacity="0.75" filter="url(#b2)"/>
<ellipse cx="1002" cy="2030" rx="22" ry="28" fill="#38f040" opacity="0.6" filter="url(#b5)"/>
<ellipse cx="988" cy="2230" rx="14" ry="70" fill="#34e03c" opacity="0.35" filter="url(#b5)"/>
<rect x="1017.8" y="1680" width="3.8" height="686" fill="#f2b212"/>
<rect x="933" y="2015" width="114" height="3.6" fill="#f2b212"/>
</g>
<g clip-path="url(#cbot)">
<rect x="241" y="2374" width="685" height="114" fill="#000"/>
<path d="M241 2374 H926 V2442 L660 2442 L450 2446 L400 2440 L350 2428 L241 2428 Z" fill="#0c3210"/>
<rect x="241" y="2374" width="685" height="70" filter="url(#hstreak)" opacity="0.18"/>
<g fill="#1a40d0" filter="url(#b2)"><ellipse cx="246" cy="2409" rx="6" ry="8" fill-opacity="0.59"/><ellipse cx="261" cy="2416" rx="6" ry="8" fill-opacity="0.85"/><ellipse cx="281" cy="2391" rx="6" ry="8" fill-opacity="0.60"/><ellipse cx="294" cy="2398" rx="6" ry="8" fill-opacity="0.41"/><ellipse cx="310" cy="2410" rx="6" ry="8" fill-opacity="0.75"/><ellipse cx="328" cy="2407" rx="6" ry="8" fill-opacity="0.78"/><ellipse cx="359" cy="2398" rx="6" ry="8" fill-opacity="0.73"/><ellipse cx="373" cy="2414" rx="6" ry="8" fill-opacity="0.76"/><ellipse cx="387" cy="2390" rx="6" ry="8" fill-opacity="0.56"/><ellipse cx="401" cy="2407" rx="6" ry="8" fill-opacity="0.78"/><ellipse cx="416" cy="2402" rx="6" ry="8" fill-opacity="0.82"/><ellipse cx="433" cy="2387" rx="6" ry="8" fill-opacity="0.70"/><ellipse cx="448" cy="2389" rx="6" ry="8" fill-opacity="0.54"/><ellipse cx="461" cy="2389" rx="6" ry="8" fill-opacity="0.61"/><ellipse cx="477" cy="2384" rx="6" ry="8" fill-opacity="0.67"/><ellipse cx="500" cy="2412" rx="6" ry="8" fill-opacity="0.56"/><ellipse cx="515" cy="2387" rx="6" ry="8" fill-opacity="0.48"/><ellipse cx="523" cy="2386" rx="6" ry="8" fill-opacity="0.70"/><ellipse cx="545" cy="2400" rx="6" ry="8" fill-opacity="0.80"/><ellipse cx="558" cy="2415" rx="6" ry="8" fill-opacity="0.70"/><ellipse cx="574" cy="2390" rx="6" ry="8" fill-opacity="0.61"/><ellipse cx="589" cy="2412" rx="6" ry="8" fill-opacity="0.51"/><ellipse cx="603" cy="2412" rx="6" ry="8" fill-opacity="0.44"/><ellipse cx="620" cy="2391" rx="6" ry="8" fill-opacity="0.73"/><ellipse cx="636" cy="2387" rx="6" ry="8" fill-opacity="0.77"/><ellipse cx="650" cy="2395" rx="6" ry="8" fill-opacity="0.83"/><ellipse cx="669" cy="2395" rx="6" ry="8" fill-opacity="0.74"/><ellipse cx="679" cy="2402" rx="6" ry="8" fill-opacity="0.44"/><ellipse cx="699" cy="2415" rx="6" ry="8" fill-opacity="0.72"/><ellipse cx="709" cy="2401" rx="6" ry="8" fill-opacity="0.63"/><ellipse cx="728" cy="2389" rx="6" ry="8" fill-opacity="0.54"/><ellipse cx="744" cy="2386" rx="6" ry="8" fill-opacity="0.74"/><ellipse cx="757" cy="2394" rx="6" ry="8" fill-opacity="0.45"/><ellipse cx="773" cy="2416" rx="6" ry="8" fill-opacity="0.55"/><ellipse cx="787" cy="2396" rx="6" ry="8" fill-opacity="0.87"/><ellipse cx="803" cy="2396" rx="6" ry="8" fill-opacity="0.50"/><ellipse cx="823" cy="2400" rx="6" ry="8" fill-opacity="0.45"/><ellipse cx="840" cy="2395" rx="6" ry="8" fill-opacity="0.74"/><ellipse cx="852" cy="2414" rx="6" ry="8" fill-opacity="0.43"/><ellipse cx="866" cy="2394" rx="6" ry="8" fill-opacity="0.53"/><ellipse cx="886" cy="2401" rx="6" ry="8" fill-opacity="0.57"/><ellipse cx="899" cy="2413" rx="6" ry="8" fill-opacity="0.68"/><ellipse cx="914" cy="2406" rx="6" ry="8" fill-opacity="0.71"/></g>
<path d="M241 2418 L280 2420 L345 2427 L380 2440 L420 2444 L470 2440 L560 2436 L660 2438 L680 2444 L660 2450 L560 2446 L450 2450 L410 2466 L390 2458 L350 2440 L300 2432 L241 2430 Z" fill="#30e040" opacity="0.7" filter="url(#b3)"/>
<ellipse cx="265" cy="2428" rx="14" ry="11" fill="#36f050" opacity="1" filter="url(#b2)"/>
<ellipse cx="400" cy="2445" rx="14" ry="20" fill="#36f050" opacity="1" filter="url(#b2)"/>
<ellipse cx="440" cy="2420" rx="14" ry="12" fill="#36f050" opacity="0.9" filter="url(#b2)"/>
<ellipse cx="640" cy="2458" rx="12" ry="8" fill="#30d040" opacity="0.7" filter="url(#b2)"/>
<rect x="241" y="2459" width="685" height="3.6" fill="#f2b212"/>
<rect x="403.6" y="2374" width="3.6" height="114" fill="#f2b212"/>
</g>
<g clip-path="url(#cf2)">
<rect x="1056" y="1680" width="397" height="395" fill="#050e48"/>
<rect x="1056" y="1680" width="397" height="395" fill="url(#pf2)"/>
<path d="M1270 2075 C1290 2000 1330 1950 1380 1930 C1410 1915 1440 1890 1453 1880 L1453 2075 Z" fill="#000" opacity="0.85" filter="url(#b14)"/>
<ellipse cx="1370" cy="2010" rx="80" ry="60" fill="#000" opacity="0.7" filter="url(#b14)"/>
<ellipse cx="1235" cy="1893" rx="8" ry="8" fill="#30e040" opacity="1" filter="url(#b2)"/>
<ellipse cx="1244" cy="1894" rx="7" ry="9" fill="#30e040" opacity="1" filter="url(#b2)"/>
<ellipse cx="1161" cy="1958" rx="8" ry="5" fill="#30e040" opacity="1" filter="url(#b2)"/>
<ellipse cx="1176" cy="1950" rx="6" ry="4" fill="#30e040" opacity="0.8" filter="url(#b2)"/>
<ellipse cx="1124" cy="1930" rx="6" ry="6" fill="#30e040" opacity="0.7" filter="url(#b2)"/>
<ellipse cx="1196" cy="1902" rx="7" ry="8" fill="#30e040" opacity="0.6" filter="url(#b2)"/>
<ellipse cx="1300" cy="1830" rx="8" ry="10" fill="#30e040" opacity="0.45" filter="url(#b2)"/>
<ellipse cx="1340" cy="1813" rx="8" ry="8" fill="#30e040" opacity="0.4" filter="url(#b2)"/>
<ellipse cx="1180" cy="2015" rx="8" ry="7" fill="#30e040" opacity="0.5" filter="url(#b2)"/>
<ellipse cx="1420" cy="2035" rx="6" ry="9" fill="#30e040" opacity="0.7" filter="url(#b2)"/>
<ellipse cx="1270" cy="1785" rx="8" ry="8" fill="#30e040" opacity="0.4" filter="url(#b2)"/>
<ellipse cx="1110" cy="1855" rx="7" ry="10" fill="#30e040" opacity="0.4" filter="url(#b2)"/>
<ellipse cx="1187" cy="1713" rx="8" ry="9" fill="#30e040" opacity="0.5" filter="url(#b2)"/>
<rect x="1252" y="2049.5" width="175" height="7.5" fill="#fff"/>
</g>
<text transform="translate(1078,1726) scale(1.07,1)" font-family="Liberation Sans, Arial, sans-serif" font-weight="bold" font-size="39" fill="#fff">f2</text>
<g clip-path="url(#cf3)">
<rect x="1056" y="2085" width="397" height="395" fill="#041050"/>
<rect x="1056" y="2085" width="397" height="395" fill="url(#pf3)"/>
<ellipse cx="1390" cy="2225" rx="70" ry="50" fill="url(#rgdark)" opacity="0.75"/>
<ellipse cx="1405" cy="2320" rx="45" ry="70" fill="url(#rgdark)" opacity="0.7"/>
<ellipse cx="1340" cy="2380" rx="70" ry="45" fill="url(#rgdark)" opacity="0.45"/>
<ellipse cx="1445" cy="2470" rx="35" ry="35" fill="url(#rgdark)" opacity="0.7"/>
<ellipse cx="1270" cy="2300" rx="40" ry="30" fill="url(#rgdark)" opacity="0.35"/>
<ellipse cx="1150" cy="2400" rx="50" ry="40" fill="url(#rgdark)" opacity="0.3"/>
<ellipse cx="1232" cy="2139" rx="8" ry="9" fill="#30c050" opacity="0.8" filter="url(#b2)"/>
<ellipse cx="1227" cy="2272" rx="5" ry="8" fill="#30c050" opacity="0.5" filter="url(#b2)"/>
<rect x="1253.3" y="2454.6" width="175.7" height="8" fill="#fff"/>
</g>
<text transform="translate(1079,2128.8) scale(1.07,1)" font-family="Liberation Sans, Arial, sans-serif" font-weight="bold" font-size="39" fill="#fff">f3</text>
<g clip-path="url(#cg1)">
<rect x="1476.5" y="1680" width="424" height="396" fill="#000"/>
<path d="M1476.5 1722 L1520 1716 L1600 1718 L1680 1728 L1760 1740 L1840 1738 L1900.6 1735 V1768 L1862 1766 L1810 1775 L1760 1786 L1720 1800 L1690 1793 L1665 1762 L1600 1758 L1520 1750 L1476.5 1758 Z" fill="#149090" opacity="0.4" filter="url(#b3)"/>
<g filter="url(#b1)">
<g fill="#30e8f0"><ellipse cx="1649" cy="1738" rx="4.2" ry="3.8"/><ellipse cx="1601" cy="1737" rx="4.1" ry="4.1"/><ellipse cx="1621" cy="1744" rx="6.5" ry="3.0"/><ellipse cx="1501" cy="1746" rx="5.1" ry="4.4"/><ellipse cx="1587" cy="1739" rx="5.1" ry="4.5"/><ellipse cx="1654" cy="1740" rx="6.3" ry="4.2"/><ellipse cx="1874" cy="1747" rx="7.0" ry="3.8"/><ellipse cx="1683" cy="1768" rx="6.9" ry="5.0"/><ellipse cx="1657" cy="1754" rx="4.6" ry="3.6"/><ellipse cx="1505" cy="1737" rx="4.7" ry="5.4"/><ellipse cx="1886" cy="1754" rx="5.3" ry="3.4"/><ellipse cx="1616" cy="1747" rx="5.4" ry="5.4"/><ellipse cx="1559" cy="1735" rx="5.5" ry="4.8"/><ellipse cx="1612" cy="1747" rx="5.8" ry="4.8"/><ellipse cx="1755" cy="1760" rx="4.8" ry="3.2"/><ellipse cx="1700" cy="1777" rx="5.8" ry="4.4"/><ellipse cx="1479" cy="1739" rx="5.8" ry="5.5"/><ellipse cx="1732" cy="1761" rx="5.9" ry="4.0"/><ellipse cx="1639" cy="1744" rx="6.9" ry="3.5"/><ellipse cx="1881" cy="1752" rx="4.0" ry="4.1"/><ellipse cx="1835" cy="1749" rx="5.8" ry="5.1"/><ellipse cx="1708" cy="1755" rx="4.4" ry="5.3"/><ellipse cx="1758" cy="1761" rx="7.0" ry="5.5"/><ellipse cx="1633" cy="1753" rx="4.8" ry="3.4"/><ellipse cx="1623" cy="1740" rx="6.0" ry="5.0"/><ellipse cx="1735" cy="1778" rx="6.7" ry="4.3"/><ellipse cx="1777" cy="1754" rx="6.9" ry="4.7"/><ellipse cx="1715" cy="1774" rx="5.9" ry="4.1"/><ellipse cx="1735" cy="1751" rx="6.4" ry="5.2"/><ellipse cx="1544" cy="1735" rx="5.9" ry="3.5"/><ellipse cx="1536" cy="1749" rx="5.0" ry="4.8"/><ellipse cx="1675" cy="1752" rx="5.1" ry="4.6"/><ellipse cx="1784" cy="1750" rx="4.3" ry="4.4"/><ellipse cx="1779" cy="1745" rx="5.7" ry="3.7"/><ellipse cx="1788" cy="1744" rx="4.2" ry="4.9"/><ellipse cx="1621" cy="1744" rx="4.5" ry="3.1"/><ellipse cx="1533" cy="1744" rx="6.1" ry="3.7"/><ellipse cx="1833" cy="1749" rx="4.7" ry="3.5"/></g>
<g fill="#38d8f8"><ellipse cx="1494" cy="1747" rx="5.8" ry="4.5"/><ellipse cx="1493" cy="1749" rx="4.7" ry="4.2"/><ellipse cx="1759" cy="1776" rx="6.8" ry="3.2"/><ellipse cx="1737" cy="1773" rx="6.1" ry="4.8"/><ellipse cx="1759" cy="1766" rx="4.7" ry="4.0"/><ellipse cx="1829" cy="1748" rx="6.2" ry="5.0"/><ellipse cx="1488" cy="1740" rx="4.0" ry="4.7"/><ellipse cx="1678" cy="1775" rx="7.0" ry="3.9"/><ellipse cx="1644" cy="1743" rx="6.9" ry="5.4"/><ellipse cx="1524" cy="1740" rx="6.9" ry="4.6"/><ellipse cx="1574" cy="1747" rx="5.5" ry="4.2"/><ellipse cx="1590" cy="1746" rx="6.3" ry="4.0"/><ellipse cx="1894" cy="1752" rx="6.0" ry="4.2"/><ellipse cx="1652" cy="1752" rx="4.7" ry="4.5"/><ellipse cx="1561" cy="1747" rx="5.9" ry="3.0"/><ellipse cx="1591" cy="1736" rx="4.9" ry="5.5"/><ellipse cx="1626" cy="1753" rx="5.8" ry="3.7"/><ellipse cx="1767" cy="1750" rx="4.3" ry="5.2"/><ellipse cx="1565" cy="1746" rx="5.9" ry="5.4"/><ellipse cx="1576" cy="1749" rx="5.3" ry="4.2"/><ellipse cx="1638" cy="1739" rx="4.7" ry="5.0"/><ellipse cx="1633" cy="1747" rx="4.4" ry="4.7"/><ellipse cx="1894" cy="1750" rx="6.0" ry="5.0"/><ellipse cx="1777" cy="1746" rx="6.7" ry="5.4"/><ellipse cx="1580" cy="1744" rx="6.4" ry="4.3"/><ellipse cx="1693" cy="1751" rx="5.8" ry="5.3"/><ellipse cx="1695" cy="1781" rx="6.6" ry="3.8"/><ellipse cx="1790" cy="1757" rx="5.5" ry="3.9"/><ellipse cx="1738" cy="1780" rx="6.9" ry="4.1"/><ellipse cx="1691" cy="1783" rx="5.2" ry="3.5"/><ellipse cx="1791" cy="1752" rx="6.3" ry="3.2"/><ellipse cx="1520" cy="1740" rx="4.5" ry="4.9"/><ellipse cx="1598" cy="1748" rx="6.1" ry="3.5"/><ellipse cx="1645" cy="1750" rx="5.2" ry="3.8"/></g>
<g fill="#48ffff"><ellipse cx="1552" cy="1736" rx="4.1" ry="3.3"/><ellipse cx="1515" cy="1734" rx="5.1" ry="5.0"/><ellipse cx="1883" cy="1759" rx="5.4" ry="3.6"/><ellipse cx="1758" cy="1767" rx="6.5" ry="3.3"/><ellipse cx="1752" cy="1773" rx="5.7" ry="5.4"/><ellipse cx="1592" cy="1744" rx="6.1" ry="4.6"/><ellipse cx="1694" cy="1784" rx="4.1" ry="5.4"/><ellipse cx="1569" cy="1736" rx="4.4" ry="3.4"/><ellipse cx="1610" cy="1750" rx="6.3" ry="5.5"/><ellipse cx="1522" cy="1739" rx="4.4" ry="4.3"/><ellipse cx="1742" cy="1752" rx="4.8" ry="4.1"/><ellipse cx="1761" cy="1746" rx="4.6" ry="4.8"/><ellipse cx="1573" cy="1738" rx="4.2" ry="3.2"/><ellipse cx="1853" cy="1751" rx="7.0" ry="4.1"/><ellipse cx="1638" cy="1737" rx="5.3" ry="5.1"/><ellipse cx="1625" cy="1737" rx="6.5" ry="3.8"/><ellipse cx="1515" cy="1736" rx="4.3" ry="3.4"/><ellipse cx="1536" cy="1750" rx="7.0" ry="4.0"/><ellipse cx="1669" cy="1775" rx="5.0" ry="5.4"/><ellipse cx="1560" cy="1751" rx="6.4" ry="4.2"/><ellipse cx="1563" cy="1744" rx="4.6" ry="4.1"/><ellipse cx="1877" cy="1751" rx="6.4" ry="5.4"/><ellipse cx="1743" cy="1765" rx="4.5" ry="3.2"/><ellipse cx="1663" cy="1746" rx="5.5" ry="3.2"/><ellipse cx="1645" cy="1740" rx="4.7" ry="3.0"/><ellipse cx="1707" cy="1763" rx="4.4" ry="3.7"/><ellipse cx="1785" cy="1741" rx="6.1" ry="4.5"/><ellipse cx="1669" cy="1770" rx="5.2" ry="5.3"/><ellipse cx="1685" cy="1757" rx="5.8" ry="4.2"/><ellipse cx="1561" cy="1738" rx="6.6" ry="3.4"/><ellipse cx="1708" cy="1750" rx="6.2" ry="3.3"/><ellipse cx="1559" cy="1745" rx="6.8" ry="5.0"/><ellipse cx="1559" cy="1743" rx="5.1" ry="5.4"/><ellipse cx="1890" cy="1758" rx="5.6" ry="4.3"/><ellipse cx="1820" cy="1758" rx="4.6" ry="3.4"/><ellipse cx="1510" cy="1742" rx="6.1" ry="3.8"/><ellipse cx="1512" cy="1734" rx="5.7" ry="4.7"/><ellipse cx="1525" cy="1739" rx="4.3" ry="4.4"/><ellipse cx="1518" cy="1731" rx="5.7" ry="3.7"/><ellipse cx="1846" cy="1743" rx="6.7" ry="4.3"/><ellipse cx="1853" cy="1755" rx="5.6" ry="3.1"/><ellipse cx="1717" cy="1781" rx="4.4" ry="3.5"/><ellipse cx="1553" cy="1739" rx="4.7" ry="3.1"/><ellipse cx="1769" cy="1748" rx="6.9" ry="4.2"/></g>
<g fill="#2080ff"><ellipse cx="1796" cy="1759" rx="6.8" ry="3.7"/><ellipse cx="1779" cy="1761" rx="4.4" ry="4.1"/><ellipse cx="1585" cy="1757" rx="6.4" ry="3.6"/><ellipse cx="1539" cy="1754" rx="5.0" ry="5.4"/><ellipse cx="1860" cy="1763" rx="5.6" ry="3.6"/><ellipse cx="1755" cy="1791" rx="4.8" ry="4.0"/><ellipse cx="1633" cy="1759" rx="4.3" ry="3.6"/><ellipse cx="1721" cy="1786" rx="4.0" ry="3.8"/><ellipse cx="1849" cy="1759" rx="5.7" ry="5.4"/><ellipse cx="1858" cy="1760" rx="6.2" ry="4.8"/><ellipse cx="1810" cy="1760" rx="5.6" ry="3.4"/><ellipse cx="1795" cy="1758" rx="6.6" ry="4.9"/></g>
<g fill="#40e8a0"><ellipse cx="1546" cy="1731" rx="6.5" ry="4.5"/><ellipse cx="1835" cy="1737" rx="7.0" ry="5.1"/><ellipse cx="1589" cy="1725" rx="5.1" ry="3.5"/><ellipse cx="1892" cy="1735" rx="4.9" ry="3.5"/><ellipse cx="1561" cy="1720" rx="5.6" ry="3.1"/><ellipse cx="1798" cy="1736" rx="4.7" ry="4.1"/><ellipse cx="1818" cy="1733" rx="5.5" ry="3.4"/><ellipse cx="1827" cy="1734" rx="5.3" ry="3.5"/><ellipse cx="1528" cy="1717" rx="5.6" ry="4.7"/><ellipse cx="1481" cy="1727" rx="4.4" ry="4.8"/><ellipse cx="1884" cy="1735" rx="4.9" ry="5.4"/><ellipse cx="1522" cy="1726" rx="5.6" ry="4.7"/><ellipse cx="1631" cy="1726" rx="4.9" ry="5.5"/><ellipse cx="1798" cy="1737" rx="6.1" ry="3.7"/><ellipse cx="1524" cy="1722" rx="5.8" ry="5.3"/><ellipse cx="1769" cy="1729" rx="6.8" ry="3.8"/><ellipse cx="1803" cy="1739" rx="6.8" ry="5.3"/><ellipse cx="1602" cy="1721" rx="5.5" ry="3.0"/><ellipse cx="1774" cy="1735" rx="5.5" ry="4.1"/><ellipse cx="1708" cy="1750" rx="6.8" ry="3.5"/><ellipse cx="1680" cy="1747" rx="5.9" ry="4.0"/><ellipse cx="1645" cy="1725" rx="6.7" ry="3.5"/><ellipse cx="1882" cy="1742" rx="5.6" ry="4.7"/><ellipse cx="1661" cy="1728" rx="4.7" ry="3.5"/><ellipse cx="1760" cy="1731" rx="4.6" ry="4.4"/></g>
<g fill="#30c0ff"><ellipse cx="1875" cy="1762" rx="5.2" ry="4.1"/><ellipse cx="1572" cy="1757" rx="4.7" ry="4.1"/><ellipse cx="1790" cy="1760" rx="6.3" ry="3.6"/><ellipse cx="1790" cy="1760" rx="5.1" ry="5.4"/><ellipse cx="1496" cy="1752" rx="5.1" ry="3.3"/><ellipse cx="1805" cy="1760" rx="6.3" ry="4.5"/><ellipse cx="1837" cy="1763" rx="6.6" ry="3.1"/><ellipse cx="1509" cy="1752" rx="5.3" ry="5.1"/><ellipse cx="1847" cy="1761" rx="4.6" ry="3.6"/><ellipse cx="1574" cy="1755" rx="6.3" ry="3.6"/><ellipse cx="1537" cy="1756" rx="5.2" ry="3.6"/><ellipse cx="1550" cy="1755" rx="4.2" ry="3.1"/><ellipse cx="1643" cy="1758" rx="4.5" ry="5.0"/><ellipse cx="1895" cy="1760" rx="6.2" ry="3.6"/><ellipse cx="1595" cy="1758" rx="5.9" ry="4.6"/></g>
<g fill="#2060f0"><ellipse cx="1543" cy="1754" rx="5.4" ry="3.7"/><ellipse cx="1528" cy="1753" rx="4.3" ry="5.5"/><ellipse cx="1746" cy="1786" rx="4.7" ry="3.4"/><ellipse cx="1614" cy="1756" rx="6.8" ry="4.8"/><ellipse cx="1714" cy="1791" rx="6.0" ry="5.3"/><ellipse cx="1859" cy="1760" rx="4.9" ry="3.1"/><ellipse cx="1539" cy="1755" rx="4.2" ry="5.0"/><ellipse cx="1623" cy="1755" rx="4.2" ry="4.6"/><ellipse cx="1712" cy="1785" rx="6.8" ry="3.2"/><ellipse cx="1547" cy="1754" rx="6.5" ry="4.2"/><ellipse cx="1585" cy="1754" rx="5.5" ry="3.3"/><ellipse cx="1494" cy="1752" rx="6.7" ry="4.2"/><ellipse cx="1496" cy="1753" rx="5.7" ry="4.2"/></g>
<g fill="#40f8ff"><ellipse cx="1723" cy="1761" rx="6.3" ry="3.8"/><ellipse cx="1683" cy="1783" rx="5.8" ry="3.8"/><ellipse cx="1861" cy="1750" rx="4.7" ry="3.5"/><ellipse cx="1894" cy="1747" rx="4.6" ry="4.9"/><ellipse cx="1675" cy="1770" rx="6.6" ry="3.4"/><ellipse cx="1612" cy="1740" rx="4.6" ry="4.4"/><ellipse cx="1761" cy="1744" rx="6.0" ry="3.1"/><ellipse cx="1663" cy="1752" rx="6.4" ry="4.8"/><ellipse cx="1720" cy="1774" rx="6.5" ry="5.2"/><ellipse cx="1821" cy="1755" rx="5.2" ry="3.3"/><ellipse cx="1758" cy="1771" rx="5.0" ry="4.0"/><ellipse cx="1531" cy="1744" rx="6.0" ry="4.3"/><ellipse cx="1686" cy="1756" rx="6.0" ry="3.8"/><ellipse cx="1723" cy="1763" rx="5.9" ry="4.4"/><ellipse cx="1773" cy="1741" rx="4.1" ry="3.3"/><ellipse cx="1634" cy="1744" rx="6.1" ry="4.8"/><ellipse cx="1672" cy="1759" rx="5.8" ry="3.8"/><ellipse cx="1810" cy="1750" rx="6.3" ry="5.5"/><ellipse cx="1737" cy="1780" rx="4.4" ry="4.1"/><ellipse cx="1899" cy="1758" rx="6.0" ry="5.0"/><ellipse cx="1854" cy="1748" rx="7.0" ry="3.8"/><ellipse cx="1566" cy="1751" rx="6.1" ry="4.9"/><ellipse cx="1715" cy="1766" rx="5.4" ry="3.6"/><ellipse cx="1713" cy="1766" rx="5.6" ry="4.9"/><ellipse cx="1820" cy="1749" rx="5.6" ry="4.4"/><ellipse cx="1496" cy="1734" rx="4.6" ry="5.3"/><ellipse cx="1739" cy="1769" rx="5.2" ry="5.1"/><ellipse cx="1806" cy="1745" rx="6.8" ry="4.4"/><ellipse cx="1507" cy="1744" rx="5.3" ry="4.0"/><ellipse cx="1554" cy="1742" rx="5.2" ry="3.1"/><ellipse cx="1619" cy="1740" rx="6.8" ry="4.0"/><ellipse cx="1834" cy="1755" rx="6.4" ry="3.7"/><ellipse cx="1546" cy="1740" rx="6.4" ry="5.1"/><ellipse cx="1716" cy="1781" rx="5.3" ry="5.2"/><ellipse cx="1677" cy="1784" rx="4.8" ry="4.9"/></g>
<g fill="#30d838"><ellipse cx="1492" cy="1720" rx="4.3" ry="4.7"/><ellipse cx="1643" cy="1734" rx="6.6" ry="5.0"/><ellipse cx="1607" cy="1730" rx="5.8" ry="5.0"/><ellipse cx="1733" cy="1750" rx="5.3" ry="4.4"/><ellipse cx="1708" cy="1739" rx="4.8" ry="5.1"/><ellipse cx="1773" cy="1736" rx="6.1" ry="5.5"/><ellipse cx="1560" cy="1731" rx="5.1" ry="5.3"/><ellipse cx="1673" cy="1739" rx="6.9" ry="3.4"/><ellipse cx="1850" cy="1741" rx="4.5" ry="5.3"/><ellipse cx="1618" cy="1727" rx="6.3" ry="4.8"/><ellipse cx="1824" cy="1738" rx="6.3" ry="4.9"/><ellipse cx="1898" cy="1742" rx="6.2" ry="4.8"/><ellipse cx="1770" cy="1736" rx="7.0" ry="4.9"/><ellipse cx="1657" cy="1730" rx="7.0" ry="4.6"/><ellipse cx="1488" cy="1722" rx="6.1" ry="3.9"/><ellipse cx="1730" cy="1738" rx="6.3" ry="5.0"/><ellipse cx="1497" cy="1723" rx="6.7" ry="4.9"/><ellipse cx="1481" cy="1727" rx="6.8" ry="3.9"/><ellipse cx="1712" cy="1746" rx="6.1" ry="4.6"/><ellipse cx="1817" cy="1735" rx="4.1" ry="4.2"/><ellipse cx="1558" cy="1728" rx="4.6" ry="4.0"/><ellipse cx="1780" cy="1731" rx="4.9" ry="5.2"/><ellipse cx="1715" cy="1737" rx="4.7" ry="5.1"/><ellipse cx="1656" cy="1732" rx="4.6" ry="3.3"/><ellipse cx="1774" cy="1740" rx="5.7" ry="3.1"/><ellipse cx="1652" cy="1728" rx="4.7" ry="3.8"/><ellipse cx="1748" cy="1749" rx="6.6" ry="5.4"/></g>
<g fill="#38f040"><ellipse cx="1549" cy="1728" rx="5.2" ry="3.6"/><ellipse cx="1602" cy="1726" rx="5.8" ry="3.5"/><ellipse cx="1895" cy="1735" rx="5.7" ry="4.5"/><ellipse cx="1560" cy="1722" rx="6.7" ry="3.5"/><ellipse cx="1774" cy="1737" rx="4.8" ry="5.5"/><ellipse cx="1591" cy="1725" rx="4.3" ry="3.8"/><ellipse cx="1678" cy="1746" rx="4.7" ry="4.1"/><ellipse cx="1571" cy="1726" rx="5.0" ry="3.1"/><ellipse cx="1616" cy="1730" rx="6.3" ry="3.8"/><ellipse cx="1526" cy="1722" rx="5.0" ry="3.3"/><ellipse cx="1883" cy="1738" rx="6.8" ry="4.8"/><ellipse cx="1824" cy="1734" rx="5.4" ry="5.2"/><ellipse cx="1588" cy="1733" rx="6.1" ry="3.7"/><ellipse cx="1721" cy="1748" rx="7.0" ry="5.0"/><ellipse cx="1878" cy="1735" rx="5.1" ry="4.1"/><ellipse cx="1532" cy="1723" rx="4.6" ry="3.4"/><ellipse cx="1664" cy="1732" rx="4.4" ry="5.4"/><ellipse cx="1579" cy="1726" rx="6.6" ry="3.4"/><ellipse cx="1775" cy="1734" rx="6.2" ry="4.1"/><ellipse cx="1722" cy="1732" rx="5.0" ry="4.8"/><ellipse cx="1819" cy="1740" rx="4.5" ry="4.0"/><ellipse cx="1816" cy="1742" rx="6.3" ry="3.4"/><ellipse cx="1487" cy="1718" rx="5.1" ry="3.6"/><ellipse cx="1797" cy="1737" rx="6.5" ry="4.1"/><ellipse cx="1804" cy="1740" rx="6.5" ry="3.1"/><ellipse cx="1855" cy="1737" rx="4.4" ry="5.0"/><ellipse cx="1528" cy="1717" rx="6.7" ry="4.4"/><ellipse cx="1487" cy="1716" rx="4.8" ry="5.5"/><ellipse cx="1841" cy="1742" rx="5.8" ry="3.1"/></g>
<g fill="#48ff50"><ellipse cx="1597" cy="1721" rx="4.0" ry="3.4"/><ellipse cx="1754" cy="1749" rx="6.5" ry="5.1"/><ellipse cx="1487" cy="1724" rx="6.4" ry="3.9"/><ellipse cx="1620" cy="1730" rx="6.7" ry="3.6"/><ellipse cx="1509" cy="1727" rx="6.7" ry="4.7"/><ellipse cx="1494" cy="1729" rx="6.4" ry="5.1"/><ellipse cx="1731" cy="1749" rx="4.4" ry="5.4"/><ellipse cx="1822" cy="1742" rx="5.4" ry="5.3"/><ellipse cx="1548" cy="1728" rx="4.2" ry="5.4"/><ellipse cx="1552" cy="1724" rx="5.9" ry="3.5"/><ellipse cx="1739" cy="1736" rx="6.2" ry="4.8"/><ellipse cx="1688" cy="1729" rx="5.0" ry="3.6"/><ellipse cx="1804" cy="1742" rx="6.7" ry="3.4"/><ellipse cx="1515" cy="1719" rx="5.3" ry="4.2"/><ellipse cx="1643" cy="1729" rx="5.7" ry="3.6"/><ellipse cx="1760" cy="1737" rx="4.5" ry="5.0"/><ellipse cx="1622" cy="1727" rx="5.2" ry="5.2"/><ellipse cx="1837" cy="1738" rx="6.8" ry="5.2"/><ellipse cx="1794" cy="1736" rx="6.5" ry="4.0"/><ellipse cx="1749" cy="1751" rx="4.8" ry="4.9"/><ellipse cx="1604" cy="1720" rx="4.2" ry="4.4"/><ellipse cx="1584" cy="1729" rx="6.4" ry="4.3"/><ellipse cx="1634" cy="1724" rx="5.4" ry="4.9"/><ellipse cx="1786" cy="1739" rx="5.6" ry="3.8"/><ellipse cx="1830" cy="1733" rx="4.3" ry="4.4"/><ellipse cx="1649" cy="1727" rx="5.1" ry="3.6"/><ellipse cx="1876" cy="1735" rx="4.2" ry="5.3"/><ellipse cx="1848" cy="1742" rx="6.9" ry="4.3"/></g>
</g>
<g filter="url(#b1)">
<g fill="#1c48ff"><ellipse cx="1745" cy="2024" rx="5.3" ry="2.7" transform="rotate(6 1745 2024)"/><ellipse cx="1600" cy="1801" rx="8.2" ry="2.3" transform="rotate(5 1600 1801)"/><ellipse cx="1850" cy="1947" rx="5.9" ry="3.2" transform="rotate(7 1850 1947)"/><ellipse cx="1896" cy="2059" rx="6.6" ry="3.5" transform="rotate(-4 1896 2059)"/><ellipse cx="1716" cy="1901" rx="5.1" ry="2.2" transform="rotate(-8 1716 1901)"/><ellipse cx="1649" cy="2057" rx="7.5" ry="2.2" transform="rotate(8 1649 2057)"/><ellipse cx="1511" cy="1859" rx="5.5" ry="2.7" transform="rotate(4 1511 1859)"/><ellipse cx="1717" cy="2035" rx="7.9" ry="3.3" transform="rotate(-0 1717 2035)"/><ellipse cx="1705" cy="1853" rx="7.7" ry="3.4" transform="rotate(6 1705 1853)"/><ellipse cx="1681" cy="1960" rx="5.1" ry="3.2" transform="rotate(-5 1681 1960)"/><ellipse cx="1740" cy="1976" rx="5.5" ry="2.2" transform="rotate(7 1740 1976)"/><ellipse cx="1883" cy="1787" rx="9.6" ry="3.1" transform="rotate(-8 1883 1787)"/><ellipse cx="1824" cy="1829" rx="8.1" ry="2.6" transform="rotate(6 1824 1829)"/><ellipse cx="1652" cy="1988" rx="9.5" ry="3.4" transform="rotate(-7 1652 1988)"/><ellipse cx="1689" cy="1904" rx="9.9" ry="2.3" transform="rotate(-9 1689 1904)"/><ellipse cx="1758" cy="2072" rx="7.7" ry="2.3" transform="rotate(-4 1758 2072)"/><ellipse cx="1833" cy="1870" rx="7.5" ry="2.5" transform="rotate(6 1833 1870)"/><ellipse cx="1626" cy="1823" rx="7.1" ry="2.4" transform="rotate(4 1626 1823)"/><ellipse cx="1562" cy="2046" rx="7.7" ry="2.9" transform="rotate(-9 1562 2046)"/><ellipse cx="1675" cy="1952" rx="7.4" ry="2.8" transform="rotate(-9 1675 1952)"/><ellipse cx="1645" cy="1793" rx="6.3" ry="2.3" transform="rotate(-5 1645 1793)"/><ellipse cx="1807" cy="2014" rx="8.9" ry="3.0" transform="rotate(3 1807 2014)"/><ellipse cx="1703" cy="2020" rx="6.0" ry="2.5" transform="rotate(0 1703 2020)"/><ellipse cx="1605" cy="1983" rx="5.8" ry="2.3" transform="rotate(8 1605 1983)"/><ellipse cx="1555" cy="2043" rx="5.0" ry="2.8" transform="rotate(-6 1555 2043)"/><ellipse cx="1564" cy="1872" rx="7.2" ry="2.5" transform="rotate(1 1564 1872)"/><ellipse cx="1747" cy="1891" rx="8.5" ry="2.3" transform="rotate(-2 1747 1891)"/><ellipse cx="1864" cy="1980" rx="8.0" ry="2.4" transform="rotate(-10 1864 1980)"/><ellipse cx="1816" cy="1776" rx="5.7" ry="3.3" transform="rotate(6 1816 1776)"/><ellipse cx="1534" cy="1833" rx="9.1" ry="2.5" transform="rotate(-6 1534 1833)"/><ellipse cx="1899" cy="1799" rx="7.8" ry="2.6" transform="rotate(6 1899 1799)"/><ellipse cx="1788" cy="1903" rx="5.5" ry="3.6" transform="rotate(-7 1788 1903)"/><ellipse cx="1586" cy="1879" rx="7.6" ry="2.7" transform="rotate(-5 1586 1879)"/><ellipse cx="1874" cy="2062" rx="8.7" ry="2.4" transform="rotate(5 1874 2062)"/><ellipse cx="1552" cy="1945" rx="5.7" ry="2.3" transform="rotate(-3 1552 1945)"/><ellipse cx="1734" cy="1838" rx="8.6" ry="2.3" transform="rotate(-3 1734 1838)"/><ellipse cx="1687" cy="1787" rx="6.3" ry="3.4" transform="rotate(-5 1687 1787)"/><ellipse cx="1724" cy="1936" rx="5.4" ry="3.5" transform="rotate(1 1724 1936)"/><ellipse cx="1622" cy="1921" rx="5.9" ry="2.2" transform="rotate(-2 1622 1921)"/><ellipse cx="1746" cy="1992" rx="8.0" ry="2.2" transform="rotate(-7 1746 1992)"/><ellipse cx="1780" cy="1781" rx="8.9" ry="2.6" transform="rotate(7 1780 1781)"/><ellipse cx="1888" cy="2031" rx="8.3" ry="2.4" transform="rotate(-8 1888 2031)"/><ellipse cx="1502" cy="1861" rx="7.2" ry="2.9" transform="rotate(-1 1502 1861)"/><ellipse cx="1791" cy="1902" rx="9.4" ry="3.2" transform="rotate(-2 1791 1902)"/><ellipse cx="1881" cy="2060" rx="5.5" ry="3.5" transform="rotate(-10 1881 2060)"/><ellipse cx="1886" cy="1903" rx="6.7" ry="2.6" transform="rotate(-7 1886 1903)"/><ellipse cx="1529" cy="1809" rx="8.9" ry="2.5" transform="rotate(-9 1529 1809)"/><ellipse cx="1694" cy="2029" rx="8.5" ry="3.3" transform="rotate(5 1694 2029)"/><ellipse cx="1598" cy="1827" rx="7.8" ry="3.3" transform="rotate(-7 1598 1827)"/><ellipse cx="1644" cy="1968" rx="8.6" ry="3.1" transform="rotate(-10 1644 1968)"/><ellipse cx="1513" cy="1968" rx="8.1" ry="2.8" transform="rotate(-7 1513 1968)"/><ellipse cx="1523" cy="2017" rx="6.2" ry="2.4" transform="rotate(-3 1523 2017)"/><ellipse cx="1720" cy="1976" rx="5.5" ry="2.9" transform="rotate(2 1720 1976)"/><ellipse cx="1725" cy="2013" rx="6.1" ry="3.4" transform="rotate(7 1725 2013)"/><ellipse cx="1619" cy="1910" rx="9.8" ry="2.2" transform="rotate(1 1619 1910)"/><ellipse cx="1756" cy="1819" rx="5.5" ry="2.6" transform="rotate(-1 1756 1819)"/><ellipse cx="1532" cy="2034" rx="5.8" ry="2.3" transform="rotate(-2 1532 2034)"/><ellipse cx="1525" cy="2019" rx="7.6" ry="3.1" transform="rotate(-1 1525 2019)"/><ellipse cx="1862" cy="1999" rx="5.4" ry="3.0" transform="rotate(6 1862 1999)"/><ellipse cx="1655" cy="1934" rx="8.0" ry="2.4" transform="rotate(-7 1655 1934)"/><ellipse cx="1669" cy="1943" rx="8.0" ry="2.3" transform="rotate(7 1669 1943)"/><ellipse cx="1531" cy="2022" rx="5.8" ry="3.0" transform="rotate(-3 1531 2022)"/><ellipse cx="1742" cy="2056" rx="6.3" ry="3.6" transform="rotate(8 1742 2056)"/><ellipse cx="1506" cy="1967" rx="7.3" ry="3.5" transform="rotate(-1 1506 1967)"/><ellipse cx="1764" cy="1974" rx="8.8" ry="2.5" transform="rotate(7 1764 1974)"/><ellipse cx="1549" cy="1882" rx="7.8" ry="2.7" transform="rotate(-5 1549 1882)"/><ellipse cx="1524" cy="1798" rx="7.2" ry="2.9" transform="rotate(-9 1524 1798)"/><ellipse cx="1546" cy="1930" rx="9.7" ry="2.8" transform="rotate(-1 1546 1930)"/><ellipse cx="1571" cy="2026" rx="6.6" ry="2.8" transform="rotate(-7 1571 2026)"/><ellipse cx="1697" cy="1826" rx="6.7" ry="3.4" transform="rotate(-1 1697 1826)"/><ellipse cx="1478" cy="1802" rx="7.3" ry="3.4" transform="rotate(7 1478 1802)"/><ellipse cx="1882" cy="2000" rx="6.2" ry="3.4" transform="rotate(3 1882 2000)"/><ellipse cx="1785" cy="2015" rx="5.8" ry="2.5" transform="rotate(8 1785 2015)"/><ellipse cx="1562" cy="2049" rx="7.6" ry="3.3" transform="rotate(-2 1562 2049)"/><ellipse cx="1741" cy="1950" rx="9.2" ry="2.5" transform="rotate(-7 1741 1950)"/><ellipse cx="1713" cy="1965" rx="6.2" ry="2.9" transform="rotate(-3 1713 1965)"/><ellipse cx="1889" cy="1939" rx="6.9" ry="2.8" transform="rotate(6 1889 1939)"/><ellipse cx="1788" cy="1903" rx="5.4" ry="3.5" transform="rotate(8 1788 1903)"/><ellipse cx="1505" cy="1901" rx="7.5" ry="3.1" transform="rotate(-3 1505 1901)"/><ellipse cx="1824" cy="1923" rx="5.3" ry="3.1" transform="rotate(-6 1824 1923)"/><ellipse cx="1782" cy="1860" rx="9.5" ry="2.6" transform="rotate(3 1782 1860)"/><ellipse cx="1829" cy="1815" rx="8.5" ry="2.6" transform="rotate(4 1829 1815)"/><ellipse cx="1765" cy="1980" rx="6.5" ry="2.6" transform="rotate(-4 1765 1980)"/><ellipse cx="1506" cy="1793" rx="8.7" ry="2.6" transform="rotate(1 1506 1793)"/><ellipse cx="1869" cy="1905" rx="8.3" ry="3.0" transform="rotate(-8 1869 1905)"/><ellipse cx="1737" cy="1926" rx="8.9" ry="2.2" transform="rotate(3 1737 1926)"/></g>
<g fill="#28d0ff"><ellipse cx="1810" cy="1932" rx="10.0" ry="3.0" transform="rotate(-4 1810 1932)"/><ellipse cx="1625" cy="2003" rx="7.5" ry="3.3" transform="rotate(5 1625 2003)"/><ellipse cx="1783" cy="2070" rx="5.5" ry="2.3" transform="rotate(5 1783 2070)"/><ellipse cx="1833" cy="2054" rx="9.6" ry="2.2" transform="rotate(1 1833 2054)"/><ellipse cx="1604" cy="1778" rx="7.5" ry="3.3" transform="rotate(6 1604 1778)"/><ellipse cx="1561" cy="1982" rx="5.8" ry="2.8" transform="rotate(-6 1561 1982)"/><ellipse cx="1819" cy="1856" rx="8.5" ry="2.9" transform="rotate(-8 1819 1856)"/><ellipse cx="1629" cy="2003" rx="5.3" ry="2.5" transform="rotate(7 1629 2003)"/><ellipse cx="1734" cy="1783" rx="5.7" ry="2.9" transform="rotate(3 1734 1783)"/><ellipse cx="1585" cy="2000" rx="5.2" ry="2.8" transform="rotate(-8 1585 2000)"/><ellipse cx="1491" cy="2043" rx="8.9" ry="3.5" transform="rotate(1 1491 2043)"/><ellipse cx="1552" cy="1880" rx="7.1" ry="2.4" transform="rotate(1 1552 1880)"/><ellipse cx="1835" cy="1937" rx="8.6" ry="3.4" transform="rotate(4 1835 1937)"/><ellipse cx="1514" cy="1957" rx="9.0" ry="3.2" transform="rotate(-8 1514 1957)"/><ellipse cx="1662" cy="1971" rx="6.6" ry="3.6" transform="rotate(8 1662 1971)"/><ellipse cx="1817" cy="1923" rx="6.7" ry="3.5" transform="rotate(-8 1817 1923)"/><ellipse cx="1679" cy="1907" rx="8.4" ry="2.6" transform="rotate(0 1679 1907)"/><ellipse cx="1616" cy="1823" rx="9.0" ry="2.3" transform="rotate(5 1616 1823)"/><ellipse cx="1621" cy="1954" rx="7.6" ry="2.6" transform="rotate(3 1621 1954)"/><ellipse cx="1715" cy="1872" rx="6.8" ry="3.2" transform="rotate(-6 1715 1872)"/><ellipse cx="1789" cy="1920" rx="8.0" ry="2.2" transform="rotate(-0 1789 1920)"/><ellipse cx="1854" cy="1861" rx="9.9" ry="3.3" transform="rotate(7 1854 1861)"/></g>
<g fill="#1838e0"><ellipse cx="1552" cy="1802" rx="9.4" ry="2.9" transform="rotate(-8 1552 1802)"/><ellipse cx="1611" cy="1961" rx="5.1" ry="2.4" transform="rotate(6 1611 1961)"/><ellipse cx="1670" cy="1892" rx="6.0" ry="2.9" transform="rotate(-5 1670 1892)"/><ellipse cx="1864" cy="1918" rx="7.2" ry="3.2" transform="rotate(-7 1864 1918)"/><ellipse cx="1885" cy="1928" rx="8.0" ry="3.2" transform="rotate(-9 1885 1928)"/><ellipse cx="1484" cy="2015" rx="6.9" ry="3.2" transform="rotate(-9 1484 2015)"/><ellipse cx="1485" cy="2017" rx="9.2" ry="2.5" transform="rotate(1 1485 2017)"/><ellipse cx="1842" cy="1908" rx="6.0" ry="2.3" transform="rotate(7 1842 1908)"/><ellipse cx="1537" cy="1809" rx="5.4" ry="2.6" transform="rotate(1 1537 1809)"/><ellipse cx="1868" cy="2037" rx="8.0" ry="3.2" transform="rotate(-6 1868 2037)"/><ellipse cx="1696" cy="1896" rx="6.3" ry="3.6" transform="rotate(-6 1696 1896)"/><ellipse cx="1830" cy="2076" rx="9.1" ry="3.0" transform="rotate(0 1830 2076)"/><ellipse cx="1756" cy="2056" rx="7.2" ry="3.2" transform="rotate(-8 1756 2056)"/><ellipse cx="1854" cy="1978" rx="8.1" ry="2.7" transform="rotate(-0 1854 1978)"/><ellipse cx="1777" cy="1776" rx="5.6" ry="2.8" transform="rotate(4 1777 1776)"/><ellipse cx="1731" cy="1921" rx="6.8" ry="2.9" transform="rotate(-9 1731 1921)"/><ellipse cx="1703" cy="1929" rx="5.8" ry="2.4" transform="rotate(-1 1703 1929)"/><ellipse cx="1737" cy="1810" rx="8.6" ry="2.3" transform="rotate(1 1737 1810)"/><ellipse cx="1618" cy="1877" rx="7.7" ry="3.4" transform="rotate(-1 1618 1877)"/><ellipse cx="1522" cy="1969" rx="5.2" ry="2.3" transform="rotate(-9 1522 1969)"/><ellipse cx="1655" cy="1985" rx="6.7" ry="2.3" transform="rotate(7 1655 1985)"/><ellipse cx="1834" cy="2044" rx="7.6" ry="3.1" transform="rotate(-9 1834 2044)"/><ellipse cx="1746" cy="2071" rx="9.4" ry="2.9" transform="rotate(-7 1746 2071)"/><ellipse cx="1789" cy="2046" rx="5.6" ry="3.0" transform="rotate(-1 1789 2046)"/><ellipse cx="1483" cy="2000" rx="7.3" ry="2.8" transform="rotate(-4 1483 2000)"/><ellipse cx="1611" cy="1831" rx="7.5" ry="3.2" transform="rotate(-5 1611 1831)"/><ellipse cx="1506" cy="2011" rx="8.8" ry="2.4" transform="rotate(-1 1506 2011)"/><ellipse cx="1610" cy="1836" rx="8.8" ry="3.1" transform="rotate(1 1610 1836)"/><ellipse cx="1573" cy="1909" rx="6.9" ry="3.4" transform="rotate(-1 1573 1909)"/><ellipse cx="1741" cy="1969" rx="8.9" ry="3.4" transform="rotate(-1 1741 1969)"/></g>
<g fill="#2060ff"><ellipse cx="1736" cy="1816" rx="5.1" ry="3.3" transform="rotate(4 1736 1816)"/><ellipse cx="1866" cy="2026" rx="5.4" ry="2.2" transform="rotate(1 1866 2026)"/><ellipse cx="1848" cy="2016" rx="5.1" ry="2.6" transform="rotate(-1 1848 2016)"/><ellipse cx="1596" cy="1890" rx="8.9" ry="3.4" transform="rotate(-8 1596 1890)"/><ellipse cx="1789" cy="1889" rx="5.7" ry="2.7" transform="rotate(-3 1789 1889)"/><ellipse cx="1645" cy="1782" rx="7.7" ry="3.5" transform="rotate(5 1645 1782)"/><ellipse cx="1789" cy="2039" rx="9.7" ry="3.5" transform="rotate(-10 1789 2039)"/><ellipse cx="1849" cy="1966" rx="5.2" ry="3.4" transform="rotate(5 1849 1966)"/><ellipse cx="1600" cy="2055" rx="8.8" ry="2.9" transform="rotate(-10 1600 2055)"/><ellipse cx="1750" cy="1866" rx="7.1" ry="3.3" transform="rotate(8 1750 1866)"/><ellipse cx="1781" cy="2027" rx="8.4" ry="2.9" transform="rotate(7 1781 2027)"/><ellipse cx="1652" cy="1932" rx="9.5" ry="2.9" transform="rotate(0 1652 1932)"/><ellipse cx="1636" cy="1810" rx="8.6" ry="3.3" transform="rotate(-9 1636 1810)"/><ellipse cx="1478" cy="1869" rx="9.2" ry="3.3" transform="rotate(8 1478 1869)"/><ellipse cx="1799" cy="1998" rx="8.6" ry="3.2" transform="rotate(5 1799 1998)"/><ellipse cx="1782" cy="1825" rx="6.6" ry="2.4" transform="rotate(-9 1782 1825)"/><ellipse cx="1718" cy="1895" rx="6.1" ry="2.7" transform="rotate(2 1718 1895)"/><ellipse cx="1759" cy="1802" rx="7.6" ry="2.2" transform="rotate(-2 1759 1802)"/><ellipse cx="1881" cy="1876" rx="5.3" ry="3.5" transform="rotate(3 1881 1876)"/><ellipse cx="1712" cy="1803" rx="8.5" ry="2.7" transform="rotate(0 1712 1803)"/></g>
<g fill="#30e8ff"><ellipse cx="1773" cy="1994" rx="9.4" ry="2.4" transform="rotate(-4 1773 1994)"/><ellipse cx="1680" cy="1921" rx="9.9" ry="2.9" transform="rotate(6 1680 1921)"/><ellipse cx="1601" cy="1887" rx="8.0" ry="2.4" transform="rotate(-4 1601 1887)"/><ellipse cx="1789" cy="1825" rx="8.6" ry="2.7" transform="rotate(-6 1789 1825)"/><ellipse cx="1513" cy="2024" rx="6.7" ry="3.0" transform="rotate(-4 1513 2024)"/><ellipse cx="1880" cy="1800" rx="8.0" ry="2.8" transform="rotate(-0 1880 1800)"/><ellipse cx="1590" cy="1878" rx="9.4" ry="2.4" transform="rotate(-8 1590 1878)"/><ellipse cx="1695" cy="2017" rx="7.8" ry="3.2" transform="rotate(-7 1695 2017)"/><ellipse cx="1893" cy="1972" rx="7.8" ry="3.1" transform="rotate(4 1893 1972)"/><ellipse cx="1621" cy="1999" rx="6.2" ry="3.6" transform="rotate(-3 1621 1999)"/><ellipse cx="1691" cy="1952" rx="8.8" ry="3.4" transform="rotate(-1 1691 1952)"/><ellipse cx="1723" cy="1795" rx="8.2" ry="2.5" transform="rotate(7 1723 1795)"/><ellipse cx="1545" cy="2049" rx="5.2" ry="3.2" transform="rotate(-3 1545 2049)"/><ellipse cx="1834" cy="2053" rx="10.0" ry="2.3" transform="rotate(-8 1834 2053)"/><ellipse cx="1612" cy="1875" rx="7.5" ry="3.1" transform="rotate(-0 1612 1875)"/><ellipse cx="1881" cy="1957" rx="5.1" ry="3.0" transform="rotate(-6 1881 1957)"/><ellipse cx="1635" cy="1906" rx="5.9" ry="3.5" transform="rotate(-8 1635 1906)"/><ellipse cx="1509" cy="1795" rx="7.8" ry="2.5" transform="rotate(-3 1509 1795)"/><ellipse cx="1490" cy="1946" rx="6.9" ry="3.2" transform="rotate(6 1490 1946)"/><ellipse cx="1658" cy="1837" rx="8.0" ry="2.5" transform="rotate(7 1658 1837)"/><ellipse cx="1571" cy="2076" rx="9.7" ry="3.1" transform="rotate(-1 1571 2076)"/><ellipse cx="1592" cy="1905" rx="7.4" ry="2.8" transform="rotate(6 1592 1905)"/><ellipse cx="1616" cy="1800" rx="5.9" ry="3.4" transform="rotate(7 1616 1800)"/><ellipse cx="1699" cy="1913" rx="7.7" ry="3.5" transform="rotate(-1 1699 1913)"/><ellipse cx="1483" cy="1999" rx="5.0" ry="2.6" transform="rotate(-3 1483 1999)"/><ellipse cx="1800" cy="1871" rx="6.3" ry="3.4" transform="rotate(5 1800 1871)"/><ellipse cx="1802" cy="2016" rx="5.8" ry="2.2" transform="rotate(-4 1802 2016)"/><ellipse cx="1564" cy="1907" rx="9.6" ry="3.2" transform="rotate(-8 1564 1907)"/><ellipse cx="1898" cy="1900" rx="6.1" ry="2.7" transform="rotate(1 1898 1900)"/><ellipse cx="1684" cy="2039" rx="9.6" ry="2.6" transform="rotate(-2 1684 2039)"/><ellipse cx="1592" cy="1819" rx="5.5" ry="3.3" transform="rotate(4 1592 1819)"/><ellipse cx="1678" cy="2046" rx="9.6" ry="3.1" transform="rotate(-6 1678 2046)"/></g>
</g>
<path d="M1476.5 1758.6 L1493.5 1750.8 L1522.3 1749.5 L1574.5 1754.7 L1626.8 1760 L1663.4 1761.2 L1673.8 1779.5 L1686.9 1792.6 L1720.8 1800.4 L1741.8 1796.5 L1757.4 1787.4 L1767.9 1779.5 L1809.7 1774.3 L1862 1765.1 L1893.3 1767" fill="none" stroke="#fff" stroke-width="3.6" stroke-dasharray="15,8"/>
<rect x="1490.9" y="2058" width="167.8" height="7" fill="#fff"/>
</g>
<text x="1588" y="2044.7" font-family="Liberation Sans, Arial, sans-serif" font-weight="bold" font-size="36" fill="#fff" text-anchor="middle">100 µm</text>
<text x="1885" y="2052" font-family="Liberation Sans, Arial, sans-serif" font-weight="bold" font-size="40" fill="#0a9e50" text-anchor="end">Twist1</text>
<text x="1484" y="1723" font-family="Liberation Sans, Arial, sans-serif" font-weight="bold" font-size="46" fill="#fff">g</text>
<g clip-path="url(#cg2)">
<rect x="1476.5" y="2083" width="424" height="396" fill="#01030a"/>
<rect x="1476.5" y="2083" width="424" height="396" fill="url(#pgb)"/>
<ellipse cx="1720" cy="2330" rx="150" ry="90" fill="url(#rgdark)" opacity="1"/>
<ellipse cx="1700" cy="2360" rx="100" ry="60" fill="url(#rgdark)" opacity="0.8"/>
<ellipse cx="1580" cy="2300" rx="70" ry="60" fill="url(#rgdark)" opacity="0.6"/>
<ellipse cx="1800" cy="2400" rx="80" ry="40" fill="url(#rgdark)" opacity="0.5"/>
<ellipse cx="1560" cy="2420" rx="70" ry="40" fill="url(#rgdark)" opacity="0.5"/>
<path d="M1476.5 2083 H1900.6 V2086 L1731 2097 L1627 2114 L1476.5 2135 Z" fill="#000"/>
<path d="M1476.5 2165 L1560 2156 L1640 2142 L1720 2126 L1800 2118 L1900.6 2112 V2140 L1800 2146 L1720 2158 L1640 2176 L1560 2182 L1476.5 2194 Z" fill="#1c40d8" opacity="0.5" filter="url(#b3)"/>
<path d="M1476.5 2137 L1627 2116 L1731 2099 L1900.6 2087 V2118 L1800 2124 L1731 2130 L1680 2138 L1627 2146 L1560 2156 L1476.5 2166 Z" fill="#38d840" opacity="0.62" filter="url(#b3)"/>
<path d="M1640 2113 L1731 2099 L1900.6 2088 V2106 L1800 2111 L1731 2116 L1660 2126 Z" fill="#50f050" opacity="0.45" filter="url(#b3)"/>
<ellipse cx="1702" cy="2232" rx="42" ry="36" fill="#2a8ad0" opacity="0.85" filter="url(#b5)"/>
<ellipse cx="1702" cy="2232" rx="36" ry="30" fill="none" stroke="#40d060" stroke-width="3" opacity="0.55" filter="url(#b2)"/>
<ellipse cx="1688" cy="2185" rx="18" ry="22" fill="#1a40d0" opacity="0.7" filter="url(#b5)"/>
<ellipse cx="1822" cy="2400" rx="18" ry="6" fill="#40e050" opacity="0.9" filter="url(#b2)"/>
<ellipse cx="1540" cy="2345" rx="14" ry="5" fill="#40e050" opacity="0.8" filter="url(#b2)"/>
<ellipse cx="1665" cy="2418" rx="8" ry="4" fill="#40e050" opacity="0.8" filter="url(#b2)"/>
<ellipse cx="1830" cy="2295" rx="10" ry="12" fill="#40e050" opacity="0.5" filter="url(#b2)"/>
<ellipse cx="1600" cy="2232" rx="10" ry="4" fill="#40e050" opacity="0.5" filter="url(#b2)"/>
<ellipse cx="1750" cy="2430" rx="40" ry="3" fill="#40e050" opacity="0.4" filter="url(#b2)"/>
<path d="M1476.5 2193.9 L1496 2184.7 L1548.4 2176.9 L1600.7 2173.8 L1637.2 2178.2 L1650.3 2190 L1647.7 2221.3 L1658.1 2237 L1668.6 2257.9 L1700 2271 L1718.2 2273.6 L1741.8 2260.5 L1747 2244.8 L1747 2224 L1728.7 2195.2 L1718.2 2187.4 L1702.6 2171.7 L1710.4 2161.2 L1731.3 2157.3 L1757.4 2154.7 L1783.6 2144.2 L1809.7 2142.4 L1848.9 2144.2 L1893.3 2139" fill="none" stroke="#fff" stroke-width="3.8" stroke-dasharray="15,8"/>
<rect x="1496.1" y="2447.5" width="168.6" height="7.8" fill="#fff"/>
</g>
<text x="1882" y="2459" font-family="Liberation Sans, Arial, sans-serif" font-weight="bold" font-size="40" fill="#0a9e50" text-anchor="end">Snai1</text>
<rect x="7.2" y="1939.3" width="198" height="252.1" fill="none" stroke="#ff0000" stroke-width="7"/>
<rect x="74" y="2007.7" width="70.4" height="119.8" fill="none" stroke="#10a850" stroke-width="6"/>
<ellipse cx="98.3" cy="2050.5" rx="4.6" ry="6.8" fill="#a8c4e4" stroke="#4a72aa" stroke-width="2.6"/>
<ellipse cx="113.7" cy="2052.5" rx="4.6" ry="6.8" fill="#a8c4e4" stroke="#4a72aa" stroke-width="2.6"/>
<ellipse cx="106.9" cy="2069" rx="4.6" ry="6.8" fill="#a8c4e4" stroke="#4a72aa" stroke-width="2.6"/>
<ellipse cx="95.4" cy="2088.6" rx="4.6" ry="6.8" fill="#a8c4e4" stroke="#4a72aa" stroke-width="2.6"/>
<ellipse cx="113.7" cy="2089.7" rx="4.6" ry="6.8" fill="#a8c4e4" stroke="#4a72aa" stroke-width="2.6"/>
<rect x="106.6" y="2084.1" width="21.4" height="21.3" fill="none" stroke="#000" stroke-width="3.2"/>
<rect x="128.2" y="2109.4" width="21.4" height="21.4" fill="none" stroke="#000" stroke-width="3.2"/>
<rect x="175.4" y="2158.6" width="22.2" height="21.3" fill="none" stroke="#000" stroke-width="3.2"/>
<text x="89.5" y="2152" font-family="Liberation Sans, Arial, sans-serif" font-weight="bold" fill="#000" font-size="47" text-anchor="middle">1</text>
<text x="139" y="2180" font-family="Liberation Sans, Arial, sans-serif" font-weight="bold" fill="#000" font-size="47" text-anchor="middle">2</text>
<text x="187" y="2145.5" font-family="Liberation Sans, Arial, sans-serif" font-weight="bold" fill="#000" font-size="47" text-anchor="middle">3</text>
<text x="15.5" y="1724.5" font-family="Liberation Sans, Arial, sans-serif" font-weight="bold" fill="#000" font-size="52">f</text>
<text x="208" y="2423.5" font-family="Liberation Sans, Arial, sans-serif" font-weight="bold" font-size="42.5" fill="#10a850" text-anchor="end">Twist1</text>
<text x="212" y="2476" font-family="Liberation Sans, Arial, sans-serif" font-weight="bold" font-size="42.5" fill="#1a6fc4" text-anchor="end">Hoechst</text>
</svg>
</body></html>
